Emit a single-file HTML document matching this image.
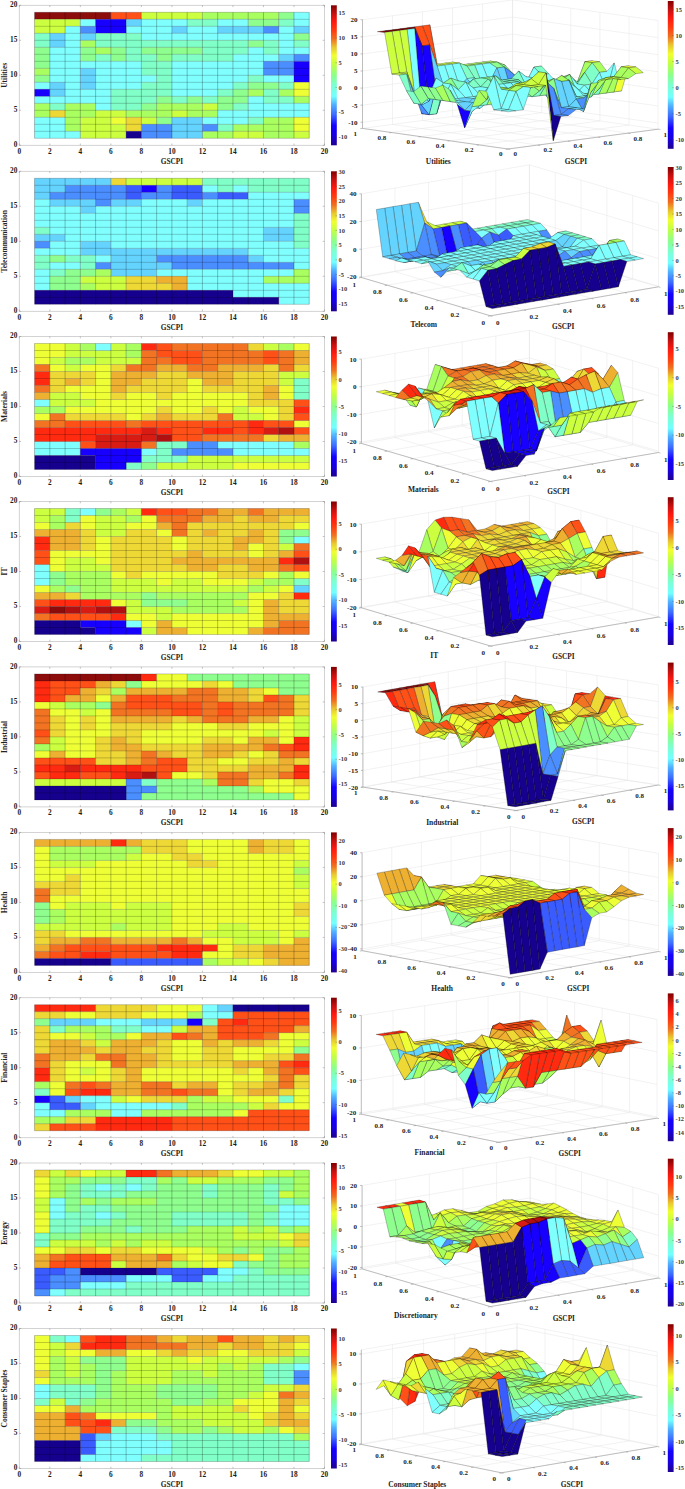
<!DOCTYPE html>
<html><head><meta charset="utf-8"><title>Sector heatmaps</title>
<style>.a{fill:#16008e}.b{fill:#1800ff}.b2{fill:#3a5cff}.c{fill:#4a8eff}.d{fill:#64d4ff}.e{fill:#80ffff}.f{fill:#80ffc8}.g{fill:#8eff8e}.h{fill:#aaff60}.i{fill:#ccff40}.j{fill:#eeff36}.k{fill:#eed836}.l{fill:#eeb030}.m{fill:#f27422}.n{fill:#ff5018}.o{fill:#ff2a10}.q{fill:#d81c14}.q2{fill:#b01010}.p{fill:#8c0c0c}.s path{stroke:#000;stroke-opacity:.6;stroke-width:.42;stroke-linejoin:round}.s .a,.s .b{stroke-opacity:.75;stroke-width:.45}html,body{margin:0;padding:0;background:#fff;}body{width:685px;height:1489px;overflow:hidden;font-family:"Liberation Serif",serif;}svg{display:block;}</style>
</head><body>
<svg width="685" height="1489" viewBox="0 0 685 1489" font-family="'Liberation Serif', serif">
<defs><linearGradient id="jet" x1="0" y1="1" x2="0" y2="0"><stop offset="0.0" stop-color="#200090"/><stop offset="0.07" stop-color="#1800e0"/><stop offset="0.14" stop-color="#1400ff"/><stop offset="0.22" stop-color="#3c6cff"/><stop offset="0.29" stop-color="#50b0ff"/><stop offset="0.35" stop-color="#72ffff"/><stop offset="0.43" stop-color="#7cffd0"/><stop offset="0.5" stop-color="#8cff8c"/><stop offset="0.58" stop-color="#c4ff44"/><stop offset="0.64" stop-color="#f0ff30"/><stop offset="0.7" stop-color="#e8c830"/><stop offset="0.76" stop-color="#f07020"/><stop offset="0.82" stop-color="#ff3c10"/><stop offset="0.88" stop-color="#ff1a10"/><stop offset="0.94" stop-color="#c81010"/><stop offset="1.0" stop-color="#800000"/></linearGradient></defs>
<rect width="685" height="1489" fill="#fff"/>
<rect x="19.3" y="5.3" width="305.2" height="140" fill="none" stroke="#c8c8c8" stroke-width="0.8"/>
<path class="p" d="M34.6 12.3h76.3v7h-76.3z"/>
<path class="n" d="M110.9 12.3h30.6v7h-30.6z"/>
<path class="i" d="M141.4 12.3h61.1v7h-61.1zM34.6 19.3h45.8v7h-45.8zM34.6 26.3h30.6v7h-30.6zM202.4 103.3h15.3v7h-15.3zM95.6 110.3h30.6v7h-30.6zM171.9 110.3h15.3v7h-15.3zM80.3 117.3h30.6v7h-30.6zM141.4 117.3h15.3v7h-15.3zM80.3 124.3h45.8v7h-45.8zM80.3 131.3h45.8v7h-45.8zM232.9 131.3h30.6v7h-30.6zM294 131.3h15.3v7h-15.3z"/>
<path class="h" d="M202.4 12.3h76.3v7h-76.3zM80.3 40.3h15.3v7h-15.3zM95.6 47.3h15.3v7h-15.3zM34.6 68.3h15.3v7h-15.3zM248.2 89.3h15.3v7h-15.3zM278.7 89.3h15.3v7h-15.3zM294 96.3h15.3v7h-15.3zM34.6 103.3h15.3v7h-15.3zM65.1 103.3h30.6v7h-30.6zM156.6 103.3h45.8v7h-45.8zM34.6 110.3h15.3v7h-15.3zM65.1 110.3h30.6v7h-30.6zM126.1 110.3h45.8v7h-45.8zM187.2 110.3h30.6v7h-30.6zM65.1 117.3h15.3v7h-15.3zM263.5 117.3h30.6v7h-30.6zM65.1 124.3h15.3v7h-15.3zM232.9 124.3h61.1v7h-61.1zM202.4 131.3h30.6v7h-30.6zM263.5 131.3h30.6v7h-30.6z"/>
<path class="g" d="M278.7 12.3h15.3v7h-15.3zM248.2 19.3h30.6v7h-30.6zM294 33.3h15.3v7h-15.3zM248.2 40.3h15.3v7h-15.3zM34.6 47.3h15.3v7h-15.3zM80.3 47.3h15.3v7h-15.3zM110.9 47.3h15.3v7h-15.3zM141.4 47.3h61.1v7h-61.1zM34.6 54.3h15.3v7h-15.3zM80.3 54.3h15.3v7h-15.3zM110.9 54.3h15.3v7h-15.3zM156.6 54.3h15.3v7h-15.3zM34.6 61.3h15.3v7h-15.3zM34.6 75.3h15.3v7h-15.3zM248.2 82.3h30.6v7h-30.6zM232.9 89.3h15.3v7h-15.3zM156.6 96.3h15.3v7h-15.3zM187.2 96.3h15.3v7h-15.3zM217.7 96.3h30.6v7h-30.6zM141.4 103.3h15.3v7h-15.3zM217.7 103.3h15.3v7h-15.3zM156.6 117.3h15.3v7h-15.3z"/>
<path class="e" d="M294 12.3h15.3v7h-15.3zM80.3 19.3h15.3v7h-15.3zM141.4 19.3h45.8v7h-45.8zM217.7 19.3h30.6v7h-30.6zM294 19.3h15.3v7h-15.3zM65.1 26.3h15.3v7h-15.3zM126.1 26.3h45.8v7h-45.8zM187.2 26.3h30.6v7h-30.6zM278.7 26.3h15.3v7h-15.3zM65.1 33.3h15.3v7h-15.3zM141.4 33.3h152.7v7h-152.7zM65.1 40.3h15.3v7h-15.3zM278.7 40.3h15.3v7h-15.3zM49.8 47.3h30.6v7h-30.6zM248.2 47.3h15.3v7h-15.3zM278.7 47.3h30.6v7h-30.6zM49.8 54.3h30.6v7h-30.6zM232.9 54.3h45.8v7h-45.8zM49.8 61.3h91.6v7h-91.6zM171.9 61.3h91.6v7h-91.6zM49.8 68.3h30.6v7h-30.6zM95.6 68.3h45.8v7h-45.8zM171.9 68.3h91.6v7h-91.6zM49.8 75.3h30.6v7h-30.6zM95.6 75.3h61.1v7h-61.1zM171.9 75.3h76.3v7h-76.3zM263.5 75.3h30.6v7h-30.6zM34.6 82.3h15.3v7h-15.3zM65.1 82.3h15.3v7h-15.3zM95.6 82.3h45.8v7h-45.8zM171.9 82.3h61.1v7h-61.1zM65.1 89.3h45.8v7h-45.8zM171.9 89.3h45.8v7h-45.8zM34.6 96.3h76.3v7h-76.3zM248.2 96.3h15.3v7h-15.3zM95.6 103.3h15.3v7h-15.3zM248.2 103.3h61.1v7h-61.1zM217.7 110.3h91.6v7h-91.6zM34.6 117.3h30.6v7h-30.6zM202.4 117.3h45.8v7h-45.8zM34.6 124.3h30.6v7h-30.6zM34.6 131.3h45.8v7h-45.8z"/>
<path class="b" d="M95.6 19.3h30.6v7h-30.6zM95.6 26.3h30.6v7h-30.6zM294 61.3h15.3v7h-15.3zM294 68.3h15.3v7h-15.3zM294 75.3h15.3v7h-15.3zM34.6 89.3h15.3v7h-15.3z"/>
<path class="d" d="M126.1 19.3h15.3v7h-15.3zM171.9 26.3h15.3v7h-15.3zM217.7 26.3h45.8v7h-45.8zM294 26.3h15.3v7h-15.3zM49.8 33.3h15.3v7h-15.3zM80.3 33.3h15.3v7h-15.3zM49.8 40.3h15.3v7h-15.3zM278.7 54.3h15.3v7h-15.3zM80.3 68.3h15.3v7h-15.3zM80.3 75.3h15.3v7h-15.3zM49.8 82.3h15.3v7h-15.3zM80.3 82.3h15.3v7h-15.3zM49.8 89.3h15.3v7h-15.3zM171.9 117.3h30.6v7h-30.6zM171.9 124.3h30.6v7h-30.6zM171.9 131.3h30.6v7h-30.6z"/>
<path class="f" d="M187.2 19.3h30.6v7h-30.6zM278.7 19.3h15.3v7h-15.3zM34.6 33.3h15.3v7h-15.3zM95.6 33.3h45.8v7h-45.8zM34.6 40.3h15.3v7h-15.3zM95.6 40.3h152.7v7h-152.7zM263.5 40.3h15.3v7h-15.3zM294 40.3h15.3v7h-15.3zM126.1 47.3h15.3v7h-15.3zM202.4 47.3h45.8v7h-45.8zM263.5 47.3h15.3v7h-15.3zM95.6 54.3h15.3v7h-15.3zM126.1 54.3h30.6v7h-30.6zM171.9 54.3h61.1v7h-61.1zM141.4 61.3h30.6v7h-30.6zM141.4 68.3h30.6v7h-30.6zM156.6 75.3h15.3v7h-15.3zM248.2 75.3h15.3v7h-15.3zM141.4 82.3h30.6v7h-30.6zM232.9 82.3h15.3v7h-15.3zM278.7 82.3h15.3v7h-15.3zM110.9 89.3h61.1v7h-61.1zM217.7 89.3h15.3v7h-15.3zM263.5 89.3h15.3v7h-15.3zM110.9 96.3h45.8v7h-45.8zM171.9 96.3h15.3v7h-15.3zM202.4 96.3h15.3v7h-15.3zM263.5 96.3h30.6v7h-30.6zM49.8 103.3h15.3v7h-15.3zM110.9 103.3h30.6v7h-30.6zM232.9 103.3h15.3v7h-15.3zM248.2 117.3h15.3v7h-15.3zM217.7 124.3h15.3v7h-15.3z"/>
<path class="c" d="M80.3 26.3h15.3v7h-15.3zM263.5 26.3h15.3v7h-15.3zM294 54.3h15.3v7h-15.3zM263.5 61.3h30.6v7h-30.6zM263.5 68.3h30.6v7h-30.6zM141.4 124.3h30.6v7h-30.6zM202.4 124.3h15.3v7h-15.3zM141.4 131.3h30.6v7h-30.6z"/>
<path class="j" d="M294 82.3h15.3v7h-15.3zM294 89.3h15.3v7h-15.3zM110.9 117.3h15.3v7h-15.3zM294 117.3h15.3v7h-15.3zM294 124.3h15.3v7h-15.3z"/>
<path class="k" d="M49.8 110.3h15.3v7h-15.3zM126.1 117.3h15.3v7h-15.3zM126.1 124.3h15.3v7h-15.3z"/>
<path class="a" d="M126.1 131.3h15.3v7h-15.3z"/>
<path d="M34.56 12.3V138.3M49.82 12.3V138.3M65.08 12.3V138.3M80.34 12.3V138.3M95.6 12.3V138.3M110.86 12.3V138.3M126.12 12.3V138.3M141.38 12.3V138.3M156.64 12.3V138.3M171.9 12.3V138.3M187.16 12.3V138.3M202.42 12.3V138.3M217.68 12.3V138.3M232.94 12.3V138.3M248.2 12.3V138.3M263.46 12.3V138.3M278.72 12.3V138.3M293.98 12.3V138.3M309.24 12.3V138.3" stroke="#000" stroke-opacity="0.5" stroke-width="0.5" fill="none"/>
<path d="M34.56 12.3H309.24M34.56 19.3H309.24M34.56 26.3H309.24M34.56 33.3H309.24M34.56 40.3H309.24M34.56 47.3H309.24M34.56 54.3H309.24M34.56 61.3H309.24M34.56 68.3H309.24M34.56 75.3H309.24M34.56 82.3H309.24M34.56 89.3H309.24M34.56 96.3H309.24M34.56 103.3H309.24M34.56 110.3H309.24M34.56 117.3H309.24M34.56 124.3H309.24M34.56 131.3H309.24M34.56 138.3H309.24" stroke="#000" stroke-opacity="0.42" stroke-width="0.5" fill="none"/>
<path d="M19.3 145.3v-1.8M19.3 5.3v1.8M49.82 145.3v-1.8M49.82 5.3v1.8M80.34 145.3v-1.8M80.34 5.3v1.8M110.86 145.3v-1.8M110.86 5.3v1.8M141.38 145.3v-1.8M141.38 5.3v1.8M171.9 145.3v-1.8M171.9 5.3v1.8M202.42 145.3v-1.8M202.42 5.3v1.8M232.94 145.3v-1.8M232.94 5.3v1.8M263.46 145.3v-1.8M263.46 5.3v1.8M293.98 145.3v-1.8M293.98 5.3v1.8M324.5 145.3v-1.8M324.5 5.3v1.8M19.3 145.3h1.8M324.5 145.3h-1.8M19.3 110.3h1.8M324.5 110.3h-1.8M19.3 75.3h1.8M324.5 75.3h-1.8M19.3 40.3h1.8M324.5 40.3h-1.8M19.3 5.3h1.8M324.5 5.3h-1.8" stroke="#888" stroke-width="0.5" fill="none"/>
<text x="19.3" y="153.7" font-size="7.3" text-anchor="middle" font-weight="bold" fill="#1a1a1a">0</text>
<text x="49.82" y="153.7" font-size="7.3" text-anchor="middle" font-weight="bold" fill="#1a1a1a">2</text>
<text x="80.34" y="153.7" font-size="7.3" text-anchor="middle" font-weight="bold" fill="#1a1a1a">4</text>
<text x="110.86" y="153.7" font-size="7.3" text-anchor="middle" font-weight="bold" fill="#1a1a1a">6</text>
<text x="141.38" y="153.7" font-size="7.3" text-anchor="middle" font-weight="bold" fill="#1a1a1a">8</text>
<text x="171.9" y="153.7" font-size="7.3" text-anchor="middle" font-weight="bold" fill="#1a1a1a">10</text>
<text x="202.42" y="153.7" font-size="7.3" text-anchor="middle" font-weight="bold" fill="#1a1a1a">12</text>
<text x="232.94" y="153.7" font-size="7.3" text-anchor="middle" font-weight="bold" fill="#1a1a1a">14</text>
<text x="263.46" y="153.7" font-size="7.3" text-anchor="middle" font-weight="bold" fill="#1a1a1a">16</text>
<text x="293.98" y="153.7" font-size="7.3" text-anchor="middle" font-weight="bold" fill="#1a1a1a">18</text>
<text x="324.5" y="153.7" font-size="7.3" text-anchor="middle" font-weight="bold" fill="#1a1a1a">20</text>
<text x="17.3" y="147.1" font-size="7.3" text-anchor="end" font-weight="bold" fill="#1a1a1a">0</text>
<text x="17.3" y="112.1" font-size="7.3" text-anchor="end" font-weight="bold" fill="#1a1a1a">5</text>
<text x="17.3" y="77.1" font-size="7.3" text-anchor="end" font-weight="bold" fill="#1a1a1a">10</text>
<text x="17.3" y="42.1" font-size="7.3" text-anchor="end" font-weight="bold" fill="#1a1a1a">15</text>
<text x="17.3" y="7.1" font-size="7.3" text-anchor="end" font-weight="bold" fill="#1a1a1a">20</text>
<text x="171.9" y="163.6" font-size="7.3" text-anchor="middle" font-weight="bold" fill="#222">GSCPI</text>
<text x="7" y="75.3" font-size="7.5" text-anchor="middle" font-weight="bold" fill="#222" transform="rotate(-90 7 75.3)">Utilities</text>
<rect x="331" y="5.3" width="5.8" height="140" fill="url(#jet)"/>
<line x1="335.6" y1="136.89" x2="336.8" y2="136.89" stroke="#444" stroke-width="0.4"/>
<text x="338.6" y="139.07" font-size="6.4" text-anchor="start" font-weight="bold" fill="#3a3a3a">-10</text>
<line x1="335.6" y1="112.16" x2="336.8" y2="112.16" stroke="#444" stroke-width="0.4"/>
<text x="338.6" y="114.33" font-size="6.4" text-anchor="start" font-weight="bold" fill="#3a3a3a">-5</text>
<line x1="335.6" y1="87.42" x2="336.8" y2="87.42" stroke="#444" stroke-width="0.4"/>
<text x="338.6" y="89.6" font-size="6.4" text-anchor="start" font-weight="bold" fill="#3a3a3a">0</text>
<line x1="335.6" y1="62.69" x2="336.8" y2="62.69" stroke="#444" stroke-width="0.4"/>
<text x="338.6" y="64.86" font-size="6.4" text-anchor="start" font-weight="bold" fill="#3a3a3a">5</text>
<line x1="335.6" y1="37.95" x2="336.8" y2="37.95" stroke="#444" stroke-width="0.4"/>
<text x="338.6" y="40.13" font-size="6.4" text-anchor="start" font-weight="bold" fill="#3a3a3a">10</text>
<line x1="335.6" y1="13.22" x2="336.8" y2="13.22" stroke="#444" stroke-width="0.4"/>
<text x="338.6" y="15.39" font-size="6.4" text-anchor="start" font-weight="bold" fill="#3a3a3a">15</text>
<rect x="19.3" y="171.3" width="305.2" height="140" fill="none" stroke="#c8c8c8" stroke-width="0.8"/>
<path class="d" d="M34.6 178.3h76.3v7h-76.3zM34.6 185.3h30.6v7h-30.6zM34.6 192.3h15.3v7h-15.3zM49.8 199.3h45.8v7h-45.8zM110.9 199.3h30.6v7h-30.6zM187.2 199.3h15.3v7h-15.3zM80.3 206.3h15.3v7h-15.3zM263.5 227.3h30.6v7h-30.6zM34.6 234.3h30.6v7h-30.6zM263.5 234.3h30.6v7h-30.6zM80.3 241.3h30.6v7h-30.6zM80.3 248.3h167.9v7h-167.9zM110.9 255.3h45.8v7h-45.8zM248.2 255.3h15.3v7h-15.3zM110.9 262.3h61.1v7h-61.1zM110.9 269.3h45.8v7h-45.8z"/>
<path class="k" d="M110.9 178.3h15.3v7h-15.3zM126.1 276.3h30.6v7h-30.6zM126.1 283.3h45.8v7h-45.8z"/>
<path class="i" d="M126.1 178.3h76.3v7h-76.3zM80.3 276.3h45.8v7h-45.8zM95.6 283.3h30.6v7h-30.6z"/>
<path class="f" d="M202.4 178.3h106.9v7h-106.9zM217.7 185.3h15.3v7h-15.3zM248.2 185.3h61.1v7h-61.1zM294 213.3h15.3v7h-15.3zM294 220.3h15.3v7h-15.3zM34.6 227.3h15.3v7h-15.3zM294 227.3h15.3v7h-15.3zM294 234.3h15.3v7h-15.3zM294 241.3h15.3v7h-15.3zM34.6 255.3h15.3v7h-15.3zM65.1 255.3h30.6v7h-30.6zM34.6 262.3h15.3v7h-15.3zM80.3 262.3h15.3v7h-15.3zM49.8 269.3h15.3v7h-15.3z"/>
<path class="c" d="M65.1 185.3h61.1v7h-61.1zM156.6 185.3h15.3v7h-15.3zM49.8 192.3h76.3v7h-76.3zM141.4 192.3h30.6v7h-30.6zM202.4 192.3h15.3v7h-15.3zM95.6 199.3h15.3v7h-15.3zM294 199.3h15.3v7h-15.3zM294 206.3h15.3v7h-15.3zM34.6 241.3h15.3v7h-15.3zM156.6 255.3h91.6v7h-91.6zM95.6 262.3h15.3v7h-15.3zM171.9 262.3h122.1v7h-122.1z"/>
<path class="b2" d="M126.1 185.3h15.3v7h-15.3zM171.9 185.3h30.6v7h-30.6zM126.1 192.3h15.3v7h-15.3zM171.9 192.3h30.6v7h-30.6zM217.7 192.3h30.6v7h-30.6z"/>
<path class="b" d="M141.4 185.3h15.3v7h-15.3z"/>
<path class="e" d="M202.4 185.3h15.3v7h-15.3zM232.9 185.3h15.3v7h-15.3zM248.2 192.3h61.1v7h-61.1zM34.6 199.3h15.3v7h-15.3zM141.4 199.3h45.8v7h-45.8zM202.4 199.3h91.6v7h-91.6zM34.6 206.3h45.8v7h-45.8zM95.6 206.3h198.4v7h-198.4zM34.6 213.3h259.5v7h-259.5zM34.6 220.3h259.5v7h-259.5zM49.8 227.3h213.7v7h-213.7zM65.1 234.3h198.4v7h-198.4zM49.8 241.3h30.6v7h-30.6zM110.9 241.3h183.2v7h-183.2zM34.6 248.3h45.8v7h-45.8zM248.2 248.3h61.1v7h-61.1zM95.6 255.3h15.3v7h-15.3zM263.5 255.3h45.8v7h-45.8zM49.8 262.3h30.6v7h-30.6zM294 262.3h15.3v7h-15.3zM34.6 269.3h15.3v7h-15.3zM156.6 269.3h137.4v7h-137.4zM34.6 276.3h15.3v7h-15.3zM187.2 276.3h76.3v7h-76.3zM34.6 283.3h15.3v7h-15.3zM187.2 283.3h122.1v7h-122.1zM232.9 290.3h76.3v7h-76.3zM278.7 297.3h30.6v7h-30.6z"/>
<path class="g" d="M49.8 255.3h15.3v7h-15.3zM65.1 269.3h30.6v7h-30.6zM49.8 276.3h30.6v7h-30.6zM49.8 283.3h30.6v7h-30.6z"/>
<path class="h" d="M95.6 269.3h15.3v7h-15.3zM294 269.3h15.3v7h-15.3zM263.5 276.3h45.8v7h-45.8zM80.3 283.3h15.3v7h-15.3z"/>
<path class="l" d="M156.6 276.3h30.6v7h-30.6zM171.9 283.3h15.3v7h-15.3z"/>
<path class="a" d="M34.6 290.3h198.4v7h-198.4zM34.6 297.3h244.2v7h-244.2z"/>
<path d="M34.56 178.3V304.3M49.82 178.3V304.3M65.08 178.3V304.3M80.34 178.3V304.3M95.6 178.3V304.3M110.86 178.3V304.3M126.12 178.3V304.3M141.38 178.3V304.3M156.64 178.3V304.3M171.9 178.3V304.3M187.16 178.3V304.3M202.42 178.3V304.3M217.68 178.3V304.3M232.94 178.3V304.3M248.2 178.3V304.3M263.46 178.3V304.3M278.72 178.3V304.3M293.98 178.3V304.3M309.24 178.3V304.3" stroke="#000" stroke-opacity="0.5" stroke-width="0.5" fill="none"/>
<path d="M34.56 178.3H309.24M34.56 185.3H309.24M34.56 192.3H309.24M34.56 199.3H309.24M34.56 206.3H309.24M34.56 213.3H309.24M34.56 220.3H309.24M34.56 227.3H309.24M34.56 234.3H309.24M34.56 241.3H309.24M34.56 248.3H309.24M34.56 255.3H309.24M34.56 262.3H309.24M34.56 269.3H309.24M34.56 276.3H309.24M34.56 283.3H309.24M34.56 290.3H309.24M34.56 297.3H309.24M34.56 304.3H309.24" stroke="#000" stroke-opacity="0.42" stroke-width="0.5" fill="none"/>
<path d="M19.3 311.3v-1.8M19.3 171.3v1.8M49.82 311.3v-1.8M49.82 171.3v1.8M80.34 311.3v-1.8M80.34 171.3v1.8M110.86 311.3v-1.8M110.86 171.3v1.8M141.38 311.3v-1.8M141.38 171.3v1.8M171.9 311.3v-1.8M171.9 171.3v1.8M202.42 311.3v-1.8M202.42 171.3v1.8M232.94 311.3v-1.8M232.94 171.3v1.8M263.46 311.3v-1.8M263.46 171.3v1.8M293.98 311.3v-1.8M293.98 171.3v1.8M324.5 311.3v-1.8M324.5 171.3v1.8M19.3 311.3h1.8M324.5 311.3h-1.8M19.3 276.3h1.8M324.5 276.3h-1.8M19.3 241.3h1.8M324.5 241.3h-1.8M19.3 206.3h1.8M324.5 206.3h-1.8M19.3 171.3h1.8M324.5 171.3h-1.8" stroke="#888" stroke-width="0.5" fill="none"/>
<text x="19.3" y="319.7" font-size="7.3" text-anchor="middle" font-weight="bold" fill="#1a1a1a">0</text>
<text x="49.82" y="319.7" font-size="7.3" text-anchor="middle" font-weight="bold" fill="#1a1a1a">2</text>
<text x="80.34" y="319.7" font-size="7.3" text-anchor="middle" font-weight="bold" fill="#1a1a1a">4</text>
<text x="110.86" y="319.7" font-size="7.3" text-anchor="middle" font-weight="bold" fill="#1a1a1a">6</text>
<text x="141.38" y="319.7" font-size="7.3" text-anchor="middle" font-weight="bold" fill="#1a1a1a">8</text>
<text x="171.9" y="319.7" font-size="7.3" text-anchor="middle" font-weight="bold" fill="#1a1a1a">10</text>
<text x="202.42" y="319.7" font-size="7.3" text-anchor="middle" font-weight="bold" fill="#1a1a1a">12</text>
<text x="232.94" y="319.7" font-size="7.3" text-anchor="middle" font-weight="bold" fill="#1a1a1a">14</text>
<text x="263.46" y="319.7" font-size="7.3" text-anchor="middle" font-weight="bold" fill="#1a1a1a">16</text>
<text x="293.98" y="319.7" font-size="7.3" text-anchor="middle" font-weight="bold" fill="#1a1a1a">18</text>
<text x="324.5" y="319.7" font-size="7.3" text-anchor="middle" font-weight="bold" fill="#1a1a1a">20</text>
<text x="17.3" y="313.1" font-size="7.3" text-anchor="end" font-weight="bold" fill="#1a1a1a">0</text>
<text x="17.3" y="278.1" font-size="7.3" text-anchor="end" font-weight="bold" fill="#1a1a1a">5</text>
<text x="17.3" y="243.1" font-size="7.3" text-anchor="end" font-weight="bold" fill="#1a1a1a">10</text>
<text x="17.3" y="208.1" font-size="7.3" text-anchor="end" font-weight="bold" fill="#1a1a1a">15</text>
<text x="17.3" y="173.1" font-size="7.3" text-anchor="end" font-weight="bold" fill="#1a1a1a">20</text>
<text x="171.9" y="329.6" font-size="7.3" text-anchor="middle" font-weight="bold" fill="#222">GSCPI</text>
<text x="7" y="241.3" font-size="7.5" text-anchor="middle" font-weight="bold" fill="#222" transform="rotate(-90 7 241.3)">Telecommunication</text>
<rect x="331" y="171.3" width="5.8" height="140" fill="url(#jet)"/>
<line x1="335.6" y1="303.68" x2="336.8" y2="303.68" stroke="#444" stroke-width="0.4"/>
<text x="338.6" y="305.86" font-size="6.4" text-anchor="start" font-weight="bold" fill="#3a3a3a">-15</text>
<line x1="335.6" y1="289.04" x2="336.8" y2="289.04" stroke="#444" stroke-width="0.4"/>
<text x="338.6" y="291.22" font-size="6.4" text-anchor="start" font-weight="bold" fill="#3a3a3a">-10</text>
<line x1="335.6" y1="274.4" x2="336.8" y2="274.4" stroke="#444" stroke-width="0.4"/>
<text x="338.6" y="276.57" font-size="6.4" text-anchor="start" font-weight="bold" fill="#3a3a3a">-5</text>
<line x1="335.6" y1="259.75" x2="336.8" y2="259.75" stroke="#444" stroke-width="0.4"/>
<text x="338.6" y="261.93" font-size="6.4" text-anchor="start" font-weight="bold" fill="#3a3a3a">0</text>
<line x1="335.6" y1="245.11" x2="336.8" y2="245.11" stroke="#444" stroke-width="0.4"/>
<text x="338.6" y="247.28" font-size="6.4" text-anchor="start" font-weight="bold" fill="#3a3a3a">5</text>
<line x1="335.6" y1="230.46" x2="336.8" y2="230.46" stroke="#444" stroke-width="0.4"/>
<text x="338.6" y="232.64" font-size="6.4" text-anchor="start" font-weight="bold" fill="#3a3a3a">10</text>
<line x1="335.6" y1="215.82" x2="336.8" y2="215.82" stroke="#444" stroke-width="0.4"/>
<text x="338.6" y="217.99" font-size="6.4" text-anchor="start" font-weight="bold" fill="#3a3a3a">15</text>
<line x1="335.6" y1="201.17" x2="336.8" y2="201.17" stroke="#444" stroke-width="0.4"/>
<text x="338.6" y="203.35" font-size="6.4" text-anchor="start" font-weight="bold" fill="#3a3a3a">20</text>
<line x1="335.6" y1="186.53" x2="336.8" y2="186.53" stroke="#444" stroke-width="0.4"/>
<text x="338.6" y="188.71" font-size="6.4" text-anchor="start" font-weight="bold" fill="#3a3a3a">25</text>
<line x1="335.6" y1="171.89" x2="336.8" y2="171.89" stroke="#444" stroke-width="0.4"/>
<text x="338.6" y="174.06" font-size="6.4" text-anchor="start" font-weight="bold" fill="#3a3a3a">30</text>
<rect x="19.3" y="336.5" width="305.2" height="140" fill="none" stroke="#c8c8c8" stroke-width="0.8"/>
<path class="j" d="M34.6 343.5h30.6v7h-30.6zM294 343.5h15.3v7h-15.3zM34.6 350.5h30.6v7h-30.6zM34.6 357.5h15.3v7h-15.3zM49.8 364.5h15.3v7h-15.3zM80.3 364.5h30.6v7h-30.6zM95.6 371.5h15.3v7h-15.3zM95.6 378.5h15.3v7h-15.3zM187.2 378.5h15.3v7h-15.3zM65.1 385.5h45.8v7h-45.8zM187.2 385.5h15.3v7h-15.3zM278.7 385.5h15.3v7h-15.3zM80.3 392.5h30.6v7h-30.6zM126.1 392.5h30.6v7h-30.6zM171.9 392.5h76.3v7h-76.3zM278.7 392.5h15.3v7h-15.3zM95.6 399.5h152.7v7h-152.7zM65.1 406.5h91.6v7h-91.6zM171.9 406.5h30.6v7h-30.6zM217.7 406.5h15.3v7h-15.3zM248.2 406.5h30.6v7h-30.6zM34.6 413.5h15.3v7h-15.3zM126.1 413.5h15.3v7h-15.3zM263.5 413.5h15.3v7h-15.3zM294 420.5h15.3v7h-15.3zM232.9 462.5h76.3v7h-76.3z"/>
<path class="i" d="M65.1 343.5h15.3v7h-15.3zM110.9 343.5h15.3v7h-15.3zM263.5 343.5h15.3v7h-15.3zM65.1 350.5h61.1v7h-61.1zM49.8 357.5h15.3v7h-15.3zM95.6 357.5h45.8v7h-45.8zM65.1 364.5h15.3v7h-15.3zM278.7 371.5h30.6v7h-30.6zM278.7 378.5h15.3v7h-15.3zM49.8 392.5h30.6v7h-30.6zM49.8 399.5h45.8v7h-45.8zM232.9 406.5h15.3v7h-15.3zM232.9 413.5h30.6v7h-30.6zM187.2 455.5h122.1v7h-122.1zM156.6 462.5h76.3v7h-76.3z"/>
<path class="h" d="M80.3 343.5h15.3v7h-15.3zM126.1 343.5h15.3v7h-15.3zM278.7 343.5h15.3v7h-15.3zM126.1 350.5h15.3v7h-15.3zM65.1 357.5h30.6v7h-30.6zM34.6 406.5h30.6v7h-30.6zM294 441.5h15.3v7h-15.3z"/>
<path class="e" d="M95.6 343.5h15.3v7h-15.3zM34.6 399.5h15.3v7h-15.3zM34.6 441.5h45.8v7h-45.8zM217.7 441.5h76.3v7h-76.3zM34.6 448.5h45.8v7h-45.8zM141.4 448.5h15.3v7h-15.3zM232.9 448.5h76.3v7h-76.3z"/>
<path class="o" d="M141.4 343.5h15.3v7h-15.3zM34.6 371.5h15.3v7h-15.3zM34.6 378.5h15.3v7h-15.3zM294 406.5h15.3v7h-15.3zM248.2 420.5h15.3v7h-15.3zM34.6 427.5h106.9v7h-106.9zM156.6 427.5h15.3v7h-15.3zM202.4 427.5h30.6v7h-30.6zM248.2 427.5h15.3v7h-15.3zM34.6 434.5h61.1v7h-61.1z"/>
<path class="n" d="M156.6 343.5h15.3v7h-15.3zM156.6 350.5h45.8v7h-45.8zM263.5 350.5h15.3v7h-15.3zM171.9 357.5h30.6v7h-30.6zM263.5 357.5h15.3v7h-15.3zM294 399.5h15.3v7h-15.3zM294 413.5h15.3v7h-15.3zM65.1 420.5h61.1v7h-61.1zM141.4 420.5h106.9v7h-106.9zM263.5 420.5h30.6v7h-30.6zM171.9 427.5h30.6v7h-30.6zM232.9 427.5h15.3v7h-15.3zM294 427.5h15.3v7h-15.3zM171.9 434.5h30.6v7h-30.6zM80.3 441.5h15.3v7h-15.3z"/>
<path class="m" d="M171.9 343.5h76.3v7h-76.3zM141.4 350.5h15.3v7h-15.3zM202.4 350.5h61.1v7h-61.1zM278.7 350.5h15.3v7h-15.3zM141.4 357.5h30.6v7h-30.6zM202.4 357.5h61.1v7h-61.1zM278.7 357.5h15.3v7h-15.3zM34.6 364.5h15.3v7h-15.3zM126.1 364.5h30.6v7h-30.6zM187.2 364.5h30.6v7h-30.6zM278.7 364.5h15.3v7h-15.3zM34.6 385.5h15.3v7h-15.3zM49.8 413.5h15.3v7h-15.3zM217.7 413.5h15.3v7h-15.3zM34.6 420.5h30.6v7h-30.6zM126.1 420.5h15.3v7h-15.3zM202.4 434.5h61.1v7h-61.1zM141.4 441.5h15.3v7h-15.3z"/>
<path class="k" d="M248.2 343.5h15.3v7h-15.3zM110.9 364.5h15.3v7h-15.3zM263.5 364.5h15.3v7h-15.3zM294 364.5h15.3v7h-15.3zM49.8 371.5h45.8v7h-45.8zM156.6 371.5h30.6v7h-30.6zM232.9 371.5h45.8v7h-45.8zM49.8 378.5h15.3v7h-15.3zM80.3 378.5h15.3v7h-15.3zM141.4 378.5h45.8v7h-45.8zM232.9 378.5h45.8v7h-45.8zM49.8 385.5h15.3v7h-15.3zM126.1 385.5h61.1v7h-61.1zM202.4 385.5h61.1v7h-61.1zM110.9 392.5h15.3v7h-15.3zM156.6 392.5h15.3v7h-15.3zM248.2 392.5h15.3v7h-15.3zM248.2 399.5h45.8v7h-45.8zM156.6 406.5h15.3v7h-15.3zM202.4 406.5h15.3v7h-15.3zM278.7 406.5h15.3v7h-15.3zM65.1 413.5h61.1v7h-61.1zM141.4 413.5h15.3v7h-15.3zM171.9 413.5h45.8v7h-45.8zM278.7 413.5h15.3v7h-15.3zM263.5 434.5h15.3v7h-15.3z"/>
<path class="l" d="M294 350.5h15.3v7h-15.3zM294 357.5h15.3v7h-15.3zM156.6 364.5h30.6v7h-30.6zM217.7 364.5h45.8v7h-45.8zM110.9 371.5h45.8v7h-45.8zM187.2 371.5h45.8v7h-45.8zM65.1 378.5h15.3v7h-15.3zM110.9 378.5h30.6v7h-30.6zM202.4 378.5h30.6v7h-30.6zM110.9 385.5h15.3v7h-15.3zM263.5 385.5h15.3v7h-15.3zM34.6 392.5h15.3v7h-15.3zM263.5 392.5h15.3v7h-15.3zM156.6 413.5h15.3v7h-15.3zM278.7 434.5h30.6v7h-30.6z"/>
<path class="f" d="M294 378.5h15.3v7h-15.3zM294 385.5h15.3v7h-15.3zM294 392.5h15.3v7h-15.3zM156.6 441.5h30.6v7h-30.6zM156.6 448.5h15.3v7h-15.3zM141.4 455.5h45.8v7h-45.8zM126.1 462.5h15.3v7h-15.3z"/>
<path class="q" d="M141.4 427.5h15.3v7h-15.3zM263.5 427.5h15.3v7h-15.3zM95.6 434.5h61.1v7h-61.1zM95.6 441.5h45.8v7h-45.8z"/>
<path class="q2" d="M278.7 427.5h15.3v7h-15.3zM156.6 434.5h15.3v7h-15.3z"/>
<path class="c" d="M187.2 441.5h30.6v7h-30.6zM171.9 448.5h61.1v7h-61.1z"/>
<path class="b" d="M80.3 448.5h61.1v7h-61.1zM95.6 455.5h45.8v7h-45.8zM95.6 462.5h30.6v7h-30.6z"/>
<path class="a" d="M34.6 455.5h61.1v7h-61.1zM34.6 462.5h61.1v7h-61.1z"/>
<path class="g" d="M141.4 462.5h15.3v7h-15.3z"/>
<path d="M34.56 343.5V469.5M49.82 343.5V469.5M65.08 343.5V469.5M80.34 343.5V469.5M95.6 343.5V469.5M110.86 343.5V469.5M126.12 343.5V469.5M141.38 343.5V469.5M156.64 343.5V469.5M171.9 343.5V469.5M187.16 343.5V469.5M202.42 343.5V469.5M217.68 343.5V469.5M232.94 343.5V469.5M248.2 343.5V469.5M263.46 343.5V469.5M278.72 343.5V469.5M293.98 343.5V469.5M309.24 343.5V469.5" stroke="#000" stroke-opacity="0.5" stroke-width="0.5" fill="none"/>
<path d="M34.56 343.5H309.24M34.56 350.5H309.24M34.56 357.5H309.24M34.56 364.5H309.24M34.56 371.5H309.24M34.56 378.5H309.24M34.56 385.5H309.24M34.56 392.5H309.24M34.56 399.5H309.24M34.56 406.5H309.24M34.56 413.5H309.24M34.56 420.5H309.24M34.56 427.5H309.24M34.56 434.5H309.24M34.56 441.5H309.24M34.56 448.5H309.24M34.56 455.5H309.24M34.56 462.5H309.24M34.56 469.5H309.24" stroke="#000" stroke-opacity="0.42" stroke-width="0.5" fill="none"/>
<path d="M19.3 476.5v-1.8M19.3 336.5v1.8M49.82 476.5v-1.8M49.82 336.5v1.8M80.34 476.5v-1.8M80.34 336.5v1.8M110.86 476.5v-1.8M110.86 336.5v1.8M141.38 476.5v-1.8M141.38 336.5v1.8M171.9 476.5v-1.8M171.9 336.5v1.8M202.42 476.5v-1.8M202.42 336.5v1.8M232.94 476.5v-1.8M232.94 336.5v1.8M263.46 476.5v-1.8M263.46 336.5v1.8M293.98 476.5v-1.8M293.98 336.5v1.8M324.5 476.5v-1.8M324.5 336.5v1.8M19.3 476.5h1.8M324.5 476.5h-1.8M19.3 441.5h1.8M324.5 441.5h-1.8M19.3 406.5h1.8M324.5 406.5h-1.8M19.3 371.5h1.8M324.5 371.5h-1.8M19.3 336.5h1.8M324.5 336.5h-1.8" stroke="#888" stroke-width="0.5" fill="none"/>
<text x="19.3" y="484.9" font-size="7.3" text-anchor="middle" font-weight="bold" fill="#1a1a1a">0</text>
<text x="49.82" y="484.9" font-size="7.3" text-anchor="middle" font-weight="bold" fill="#1a1a1a">2</text>
<text x="80.34" y="484.9" font-size="7.3" text-anchor="middle" font-weight="bold" fill="#1a1a1a">4</text>
<text x="110.86" y="484.9" font-size="7.3" text-anchor="middle" font-weight="bold" fill="#1a1a1a">6</text>
<text x="141.38" y="484.9" font-size="7.3" text-anchor="middle" font-weight="bold" fill="#1a1a1a">8</text>
<text x="171.9" y="484.9" font-size="7.3" text-anchor="middle" font-weight="bold" fill="#1a1a1a">10</text>
<text x="202.42" y="484.9" font-size="7.3" text-anchor="middle" font-weight="bold" fill="#1a1a1a">12</text>
<text x="232.94" y="484.9" font-size="7.3" text-anchor="middle" font-weight="bold" fill="#1a1a1a">14</text>
<text x="263.46" y="484.9" font-size="7.3" text-anchor="middle" font-weight="bold" fill="#1a1a1a">16</text>
<text x="293.98" y="484.9" font-size="7.3" text-anchor="middle" font-weight="bold" fill="#1a1a1a">18</text>
<text x="324.5" y="484.9" font-size="7.3" text-anchor="middle" font-weight="bold" fill="#1a1a1a">20</text>
<text x="17.3" y="478.3" font-size="7.3" text-anchor="end" font-weight="bold" fill="#1a1a1a">0</text>
<text x="17.3" y="443.3" font-size="7.3" text-anchor="end" font-weight="bold" fill="#1a1a1a">5</text>
<text x="17.3" y="408.3" font-size="7.3" text-anchor="end" font-weight="bold" fill="#1a1a1a">10</text>
<text x="17.3" y="373.3" font-size="7.3" text-anchor="end" font-weight="bold" fill="#1a1a1a">15</text>
<text x="17.3" y="338.3" font-size="7.3" text-anchor="end" font-weight="bold" fill="#1a1a1a">20</text>
<text x="171.9" y="494.8" font-size="7.3" text-anchor="middle" font-weight="bold" fill="#222">GSCPI</text>
<text x="7" y="406.5" font-size="7.5" text-anchor="middle" font-weight="bold" fill="#222" transform="rotate(-90 7 406.5)">Materials</text>
<rect x="331" y="336.5" width="5.8" height="140" fill="url(#jet)"/>
<line x1="335.6" y1="461.25" x2="336.8" y2="461.25" stroke="#444" stroke-width="0.4"/>
<text x="338.6" y="463.42" font-size="6.4" text-anchor="start" font-weight="bold" fill="#3a3a3a">-15</text>
<line x1="335.6" y1="434.01" x2="336.8" y2="434.01" stroke="#444" stroke-width="0.4"/>
<text x="338.6" y="436.19" font-size="6.4" text-anchor="start" font-weight="bold" fill="#3a3a3a">-10</text>
<line x1="335.6" y1="406.77" x2="336.8" y2="406.77" stroke="#444" stroke-width="0.4"/>
<text x="338.6" y="408.95" font-size="6.4" text-anchor="start" font-weight="bold" fill="#3a3a3a">-5</text>
<line x1="335.6" y1="379.54" x2="336.8" y2="379.54" stroke="#444" stroke-width="0.4"/>
<text x="338.6" y="381.71" font-size="6.4" text-anchor="start" font-weight="bold" fill="#3a3a3a">0</text>
<line x1="335.6" y1="352.3" x2="336.8" y2="352.3" stroke="#444" stroke-width="0.4"/>
<text x="338.6" y="354.47" font-size="6.4" text-anchor="start" font-weight="bold" fill="#3a3a3a">5</text>
<rect x="19.3" y="501.5" width="305.2" height="140" fill="none" stroke="#c8c8c8" stroke-width="0.8"/>
<path class="i" d="M34.6 508.5h30.6v7h-30.6zM126.1 508.5h15.3v7h-15.3zM34.6 515.5h15.3v7h-15.3zM95.6 515.5h30.6v7h-30.6zM95.6 522.5h30.6v7h-30.6zM95.6 529.5h30.6v7h-30.6zM278.7 543.5h15.3v7h-15.3zM65.1 557.5h30.6v7h-30.6zM65.1 564.5h45.8v7h-45.8zM110.9 578.5h45.8v7h-45.8zM171.9 578.5h30.6v7h-30.6zM248.2 578.5h15.3v7h-15.3zM110.9 585.5h137.4v7h-137.4zM263.5 585.5h15.3v7h-15.3zM126.1 599.5h15.3v7h-15.3zM232.9 599.5h15.3v7h-15.3zM126.1 606.5h45.8v7h-45.8zM156.6 613.5h15.3v7h-15.3zM141.4 627.5h15.3v7h-15.3z"/>
<path class="f" d="M65.1 508.5h15.3v7h-15.3zM65.1 515.5h15.3v7h-15.3zM294 578.5h15.3v7h-15.3z"/>
<path class="e" d="M80.3 508.5h15.3v7h-15.3zM294 536.5h15.3v7h-15.3zM34.6 564.5h15.3v7h-15.3zM34.6 571.5h15.3v7h-15.3zM34.6 578.5h15.3v7h-15.3zM126.1 620.5h15.3v7h-15.3z"/>
<path class="g" d="M95.6 508.5h15.3v7h-15.3zM278.7 529.5h30.6v7h-30.6zM278.7 536.5h15.3v7h-15.3zM49.8 571.5h15.3v7h-15.3zM49.8 578.5h15.3v7h-15.3zM65.1 585.5h15.3v7h-15.3zM141.4 592.5h15.3v7h-15.3zM141.4 599.5h45.8v7h-45.8z"/>
<path class="h" d="M110.9 508.5h15.3v7h-15.3zM49.8 515.5h15.3v7h-15.3zM126.1 515.5h15.3v7h-15.3zM49.8 522.5h15.3v7h-15.3zM65.1 571.5h45.8v7h-45.8zM278.7 571.5h15.3v7h-15.3zM65.1 578.5h45.8v7h-45.8zM263.5 578.5h30.6v7h-30.6zM49.8 585.5h15.3v7h-15.3zM80.3 585.5h30.6v7h-30.6zM248.2 585.5h15.3v7h-15.3zM80.3 592.5h61.1v7h-61.1zM156.6 592.5h91.6v7h-91.6zM187.2 599.5h45.8v7h-45.8zM171.9 606.5h76.3v7h-76.3z"/>
<path class="o" d="M141.4 508.5h15.3v7h-15.3zM34.6 536.5h15.3v7h-15.3zM34.6 543.5h15.3v7h-15.3zM278.7 557.5h15.3v7h-15.3zM294 592.5h15.3v7h-15.3zM49.8 599.5h61.1v7h-61.1zM110.9 613.5h15.3v7h-15.3z"/>
<path class="n" d="M156.6 508.5h30.6v7h-30.6zM34.6 550.5h15.3v7h-15.3zM294 550.5h15.3v7h-15.3zM34.6 557.5h15.3v7h-15.3zM294 564.5h15.3v7h-15.3zM34.6 599.5h15.3v7h-15.3zM49.8 613.5h61.1v7h-61.1z"/>
<path class="m" d="M187.2 508.5h30.6v7h-30.6zM248.2 508.5h15.3v7h-15.3zM156.6 515.5h45.8v7h-45.8zM171.9 522.5h15.3v7h-15.3zM171.9 529.5h15.3v7h-15.3zM294 543.5h15.3v7h-15.3zM278.7 564.5h15.3v7h-15.3zM34.6 613.5h15.3v7h-15.3zM278.7 620.5h30.6v7h-30.6zM263.5 627.5h45.8v7h-45.8z"/>
<path class="l" d="M217.7 508.5h30.6v7h-30.6zM263.5 508.5h45.8v7h-45.8zM202.4 515.5h30.6v7h-30.6zM248.2 515.5h30.6v7h-30.6zM156.6 522.5h15.3v7h-15.3zM34.6 529.5h45.8v7h-45.8zM202.4 529.5h15.3v7h-15.3zM248.2 529.5h15.3v7h-15.3zM49.8 536.5h30.6v7h-30.6zM232.9 536.5h30.6v7h-30.6zM49.8 543.5h30.6v7h-30.6zM232.9 543.5h15.3v7h-15.3zM187.2 550.5h15.3v7h-15.3zM278.7 550.5h15.3v7h-15.3zM171.9 557.5h106.9v7h-106.9zM187.2 564.5h30.6v7h-30.6zM248.2 564.5h30.6v7h-30.6zM34.6 592.5h30.6v7h-30.6zM263.5 599.5h15.3v7h-15.3zM263.5 606.5h15.3v7h-15.3zM263.5 613.5h45.8v7h-45.8zM156.6 620.5h15.3v7h-15.3zM263.5 620.5h15.3v7h-15.3zM156.6 627.5h30.6v7h-30.6zM248.2 627.5h15.3v7h-15.3z"/>
<path class="j" d="M80.3 515.5h15.3v7h-15.3zM141.4 515.5h15.3v7h-15.3zM34.6 522.5h15.3v7h-15.3zM80.3 522.5h15.3v7h-15.3zM126.1 522.5h30.6v7h-30.6zM294 522.5h15.3v7h-15.3zM156.6 529.5h15.3v7h-15.3zM95.6 536.5h15.3v7h-15.3zM171.9 536.5h15.3v7h-15.3zM95.6 543.5h15.3v7h-15.3zM171.9 543.5h15.3v7h-15.3zM248.2 543.5h15.3v7h-15.3zM49.8 550.5h61.1v7h-61.1zM248.2 550.5h15.3v7h-15.3zM49.8 557.5h15.3v7h-15.3zM95.6 557.5h15.3v7h-15.3zM49.8 564.5h15.3v7h-15.3zM110.9 571.5h15.3v7h-15.3zM141.4 571.5h76.3v7h-76.3zM263.5 571.5h15.3v7h-15.3zM294 571.5h15.3v7h-15.3zM156.6 578.5h15.3v7h-15.3zM202.4 578.5h45.8v7h-45.8zM34.6 585.5h15.3v7h-15.3zM278.7 585.5h15.3v7h-15.3zM248.2 592.5h30.6v7h-30.6zM110.9 599.5h15.3v7h-15.3zM248.2 599.5h15.3v7h-15.3zM248.2 606.5h15.3v7h-15.3zM126.1 613.5h30.6v7h-30.6zM171.9 613.5h91.6v7h-91.6zM141.4 620.5h15.3v7h-15.3zM171.9 620.5h91.6v7h-91.6zM187.2 627.5h61.1v7h-61.1z"/>
<path class="k" d="M232.9 515.5h15.3v7h-15.3zM278.7 515.5h30.6v7h-30.6zM65.1 522.5h15.3v7h-15.3zM187.2 522.5h106.9v7h-106.9zM80.3 529.5h15.3v7h-15.3zM126.1 529.5h30.6v7h-30.6zM187.2 529.5h15.3v7h-15.3zM217.7 529.5h30.6v7h-30.6zM263.5 529.5h15.3v7h-15.3zM80.3 536.5h15.3v7h-15.3zM110.9 536.5h61.1v7h-61.1zM187.2 536.5h45.8v7h-45.8zM263.5 536.5h15.3v7h-15.3zM80.3 543.5h15.3v7h-15.3zM110.9 543.5h61.1v7h-61.1zM187.2 543.5h45.8v7h-45.8zM263.5 543.5h15.3v7h-15.3zM110.9 550.5h76.3v7h-76.3zM202.4 550.5h45.8v7h-45.8zM263.5 550.5h15.3v7h-15.3zM110.9 557.5h61.1v7h-61.1zM110.9 564.5h76.3v7h-76.3zM217.7 564.5h30.6v7h-30.6zM126.1 571.5h15.3v7h-15.3zM217.7 571.5h45.8v7h-45.8zM65.1 592.5h15.3v7h-15.3zM278.7 592.5h15.3v7h-15.3zM278.7 599.5h30.6v7h-30.6zM278.7 606.5h30.6v7h-30.6z"/>
<path class="q2" d="M294 557.5h15.3v7h-15.3zM65.1 606.5h15.3v7h-15.3zM95.6 606.5h30.6v7h-30.6z"/>
<path class="d" d="M294 585.5h15.3v7h-15.3z"/>
<path class="q" d="M34.6 606.5h15.3v7h-15.3zM80.3 606.5h15.3v7h-15.3z"/>
<path class="p" d="M49.8 606.5h15.3v7h-15.3z"/>
<path class="a" d="M34.6 620.5h45.8v7h-45.8zM34.6 627.5h61.1v7h-61.1z"/>
<path class="b" d="M80.3 620.5h45.8v7h-45.8zM95.6 627.5h45.8v7h-45.8z"/>
<path d="M34.56 508.5V634.5M49.82 508.5V634.5M65.08 508.5V634.5M80.34 508.5V634.5M95.6 508.5V634.5M110.86 508.5V634.5M126.12 508.5V634.5M141.38 508.5V634.5M156.64 508.5V634.5M171.9 508.5V634.5M187.16 508.5V634.5M202.42 508.5V634.5M217.68 508.5V634.5M232.94 508.5V634.5M248.2 508.5V634.5M263.46 508.5V634.5M278.72 508.5V634.5M293.98 508.5V634.5M309.24 508.5V634.5" stroke="#000" stroke-opacity="0.5" stroke-width="0.5" fill="none"/>
<path d="M34.56 508.5H309.24M34.56 515.5H309.24M34.56 522.5H309.24M34.56 529.5H309.24M34.56 536.5H309.24M34.56 543.5H309.24M34.56 550.5H309.24M34.56 557.5H309.24M34.56 564.5H309.24M34.56 571.5H309.24M34.56 578.5H309.24M34.56 585.5H309.24M34.56 592.5H309.24M34.56 599.5H309.24M34.56 606.5H309.24M34.56 613.5H309.24M34.56 620.5H309.24M34.56 627.5H309.24M34.56 634.5H309.24" stroke="#000" stroke-opacity="0.42" stroke-width="0.5" fill="none"/>
<path d="M19.3 641.5v-1.8M19.3 501.5v1.8M49.82 641.5v-1.8M49.82 501.5v1.8M80.34 641.5v-1.8M80.34 501.5v1.8M110.86 641.5v-1.8M110.86 501.5v1.8M141.38 641.5v-1.8M141.38 501.5v1.8M171.9 641.5v-1.8M171.9 501.5v1.8M202.42 641.5v-1.8M202.42 501.5v1.8M232.94 641.5v-1.8M232.94 501.5v1.8M263.46 641.5v-1.8M263.46 501.5v1.8M293.98 641.5v-1.8M293.98 501.5v1.8M324.5 641.5v-1.8M324.5 501.5v1.8M19.3 641.5h1.8M324.5 641.5h-1.8M19.3 606.5h1.8M324.5 606.5h-1.8M19.3 571.5h1.8M324.5 571.5h-1.8M19.3 536.5h1.8M324.5 536.5h-1.8M19.3 501.5h1.8M324.5 501.5h-1.8" stroke="#888" stroke-width="0.5" fill="none"/>
<text x="19.3" y="649.9" font-size="7.3" text-anchor="middle" font-weight="bold" fill="#1a1a1a">0</text>
<text x="49.82" y="649.9" font-size="7.3" text-anchor="middle" font-weight="bold" fill="#1a1a1a">2</text>
<text x="80.34" y="649.9" font-size="7.3" text-anchor="middle" font-weight="bold" fill="#1a1a1a">4</text>
<text x="110.86" y="649.9" font-size="7.3" text-anchor="middle" font-weight="bold" fill="#1a1a1a">6</text>
<text x="141.38" y="649.9" font-size="7.3" text-anchor="middle" font-weight="bold" fill="#1a1a1a">8</text>
<text x="171.9" y="649.9" font-size="7.3" text-anchor="middle" font-weight="bold" fill="#1a1a1a">10</text>
<text x="202.42" y="649.9" font-size="7.3" text-anchor="middle" font-weight="bold" fill="#1a1a1a">12</text>
<text x="232.94" y="649.9" font-size="7.3" text-anchor="middle" font-weight="bold" fill="#1a1a1a">14</text>
<text x="263.46" y="649.9" font-size="7.3" text-anchor="middle" font-weight="bold" fill="#1a1a1a">16</text>
<text x="293.98" y="649.9" font-size="7.3" text-anchor="middle" font-weight="bold" fill="#1a1a1a">18</text>
<text x="324.5" y="649.9" font-size="7.3" text-anchor="middle" font-weight="bold" fill="#1a1a1a">20</text>
<text x="17.3" y="643.3" font-size="7.3" text-anchor="end" font-weight="bold" fill="#1a1a1a">0</text>
<text x="17.3" y="608.3" font-size="7.3" text-anchor="end" font-weight="bold" fill="#1a1a1a">5</text>
<text x="17.3" y="573.3" font-size="7.3" text-anchor="end" font-weight="bold" fill="#1a1a1a">10</text>
<text x="17.3" y="538.3" font-size="7.3" text-anchor="end" font-weight="bold" fill="#1a1a1a">15</text>
<text x="17.3" y="503.3" font-size="7.3" text-anchor="end" font-weight="bold" fill="#1a1a1a">20</text>
<text x="171.9" y="659.8" font-size="7.3" text-anchor="middle" font-weight="bold" fill="#222">GSCPI</text>
<text x="7" y="571.5" font-size="7.5" text-anchor="middle" font-weight="bold" fill="#222" transform="rotate(-90 7 571.5)">IT</text>
<rect x="331" y="501.5" width="5.8" height="140" fill="url(#jet)"/>
<line x1="335.6" y1="625.69" x2="336.8" y2="625.69" stroke="#444" stroke-width="0.4"/>
<text x="338.6" y="627.87" font-size="6.4" text-anchor="start" font-weight="bold" fill="#3a3a3a">-15</text>
<line x1="335.6" y1="600.19" x2="336.8" y2="600.19" stroke="#444" stroke-width="0.4"/>
<text x="338.6" y="602.36" font-size="6.4" text-anchor="start" font-weight="bold" fill="#3a3a3a">-10</text>
<line x1="335.6" y1="574.69" x2="336.8" y2="574.69" stroke="#444" stroke-width="0.4"/>
<text x="338.6" y="576.86" font-size="6.4" text-anchor="start" font-weight="bold" fill="#3a3a3a">-5</text>
<line x1="335.6" y1="549.19" x2="336.8" y2="549.19" stroke="#444" stroke-width="0.4"/>
<text x="338.6" y="551.36" font-size="6.4" text-anchor="start" font-weight="bold" fill="#3a3a3a">0</text>
<line x1="335.6" y1="523.69" x2="336.8" y2="523.69" stroke="#444" stroke-width="0.4"/>
<text x="338.6" y="525.86" font-size="6.4" text-anchor="start" font-weight="bold" fill="#3a3a3a">5</text>
<rect x="19.3" y="666.9" width="305.2" height="140" fill="none" stroke="#c8c8c8" stroke-width="0.8"/>
<path class="p" d="M34.6 673.9h106.9v7h-106.9z"/>
<path class="o" d="M141.4 673.9h15.3v7h-15.3zM34.6 680.9h15.3v7h-15.3zM34.6 687.9h15.3v7h-15.3zM34.6 694.9h15.3v7h-15.3zM294 736.9h15.3v7h-15.3zM294 743.9h15.3v7h-15.3zM34.6 764.9h30.6v7h-30.6zM80.3 764.9h61.1v7h-61.1zM294 764.9h15.3v7h-15.3zM49.8 771.9h30.6v7h-30.6zM110.9 771.9h15.3v7h-15.3zM294 771.9h15.3v7h-15.3z"/>
<path class="j" d="M156.6 673.9h30.6v7h-30.6zM141.4 680.9h61.1v7h-61.1zM217.7 680.9h15.3v7h-15.3zM263.5 687.9h15.3v7h-15.3zM95.6 694.9h15.3v7h-15.3zM34.6 701.9h15.3v7h-15.3zM49.8 708.9h30.6v7h-30.6zM95.6 708.9h15.3v7h-15.3zM65.1 715.9h15.3v7h-15.3zM95.6 715.9h15.3v7h-15.3zM278.7 715.9h15.3v7h-15.3zM65.1 722.9h15.3v7h-15.3zM95.6 722.9h15.3v7h-15.3zM171.9 722.9h45.8v7h-45.8zM248.2 722.9h45.8v7h-45.8zM65.1 729.9h45.8v7h-45.8zM141.4 729.9h122.1v7h-122.1zM278.7 729.9h15.3v7h-15.3zM65.1 736.9h30.6v7h-30.6zM141.4 736.9h61.1v7h-61.1zM232.9 736.9h15.3v7h-15.3zM278.7 736.9h15.3v7h-15.3zM65.1 743.9h30.6v7h-30.6zM34.6 750.9h15.3v7h-15.3zM65.1 750.9h30.6v7h-30.6zM248.2 750.9h15.3v7h-15.3zM217.7 757.9h30.6v7h-30.6zM171.9 771.9h30.6v7h-30.6zM263.5 778.9h30.6v7h-30.6zM263.5 785.9h45.8v7h-45.8zM294 792.9h15.3v7h-15.3z"/>
<path class="g" d="M187.2 673.9h122.1v7h-122.1zM126.1 680.9h15.3v7h-15.3zM232.9 680.9h76.3v7h-76.3zM278.7 687.9h30.6v7h-30.6zM95.6 701.9h15.3v7h-15.3zM156.6 778.9h45.8v7h-45.8zM156.6 785.9h91.6v7h-91.6zM141.4 792.9h152.7v7h-152.7z"/>
<path class="n" d="M49.8 680.9h45.8v7h-45.8zM49.8 687.9h30.6v7h-30.6zM49.8 694.9h15.3v7h-15.3zM126.1 694.9h45.8v7h-45.8zM263.5 694.9h15.3v7h-15.3zM126.1 701.9h76.3v7h-76.3zM217.7 701.9h15.3v7h-15.3zM171.9 708.9h30.6v7h-30.6zM217.7 708.9h15.3v7h-15.3zM34.6 729.9h15.3v7h-15.3zM278.7 743.9h15.3v7h-15.3zM34.6 757.9h61.1v7h-61.1zM156.6 757.9h30.6v7h-30.6zM141.4 764.9h45.8v7h-45.8zM34.6 771.9h15.3v7h-15.3zM80.3 771.9h30.6v7h-30.6zM156.6 771.9h15.3v7h-15.3z"/>
<path class="l" d="M95.6 680.9h15.3v7h-15.3zM80.3 687.9h15.3v7h-15.3zM126.1 687.9h61.1v7h-61.1zM217.7 687.9h30.6v7h-30.6zM65.1 694.9h30.6v7h-30.6zM110.9 694.9h15.3v7h-15.3zM217.7 694.9h30.6v7h-30.6zM110.9 715.9h61.1v7h-61.1zM187.2 715.9h15.3v7h-15.3zM248.2 715.9h30.6v7h-30.6zM110.9 736.9h15.3v7h-15.3zM248.2 736.9h30.6v7h-30.6zM110.9 743.9h30.6v7h-30.6zM202.4 743.9h61.1v7h-61.1zM49.8 750.9h15.3v7h-15.3zM126.1 750.9h15.3v7h-15.3zM156.6 750.9h15.3v7h-15.3zM202.4 750.9h30.6v7h-30.6zM126.1 757.9h15.3v7h-15.3zM278.7 757.9h15.3v7h-15.3zM248.2 764.9h45.8v7h-45.8zM248.2 771.9h30.6v7h-30.6z"/>
<path class="k" d="M110.9 680.9h15.3v7h-15.3zM202.4 680.9h15.3v7h-15.3zM95.6 687.9h15.3v7h-15.3zM248.2 687.9h15.3v7h-15.3zM248.2 694.9h15.3v7h-15.3zM294 694.9h15.3v7h-15.3zM294 701.9h15.3v7h-15.3zM294 708.9h15.3v7h-15.3zM49.8 715.9h15.3v7h-15.3zM80.3 715.9h15.3v7h-15.3zM171.9 715.9h15.3v7h-15.3zM49.8 722.9h15.3v7h-15.3zM80.3 722.9h15.3v7h-15.3zM110.9 722.9h61.1v7h-61.1zM217.7 722.9h30.6v7h-30.6zM49.8 729.9h15.3v7h-15.3zM110.9 729.9h30.6v7h-30.6zM95.6 736.9h15.3v7h-15.3zM126.1 736.9h15.3v7h-15.3zM202.4 736.9h30.6v7h-30.6zM95.6 743.9h15.3v7h-15.3zM141.4 743.9h61.1v7h-61.1zM95.6 750.9h30.6v7h-30.6zM171.9 750.9h30.6v7h-30.6zM232.9 750.9h15.3v7h-15.3zM263.5 750.9h15.3v7h-15.3zM95.6 757.9h30.6v7h-30.6zM187.2 757.9h30.6v7h-30.6zM248.2 757.9h30.6v7h-30.6zM294 757.9h15.3v7h-15.3zM187.2 764.9h61.1v7h-61.1zM202.4 771.9h15.3v7h-15.3zM248.2 778.9h15.3v7h-15.3zM294 778.9h15.3v7h-15.3z"/>
<path class="h" d="M110.9 687.9h15.3v7h-15.3zM65.1 701.9h30.6v7h-30.6zM34.6 743.9h15.3v7h-15.3zM202.4 778.9h15.3v7h-15.3zM248.2 785.9h15.3v7h-15.3z"/>
<path class="m" d="M187.2 687.9h30.6v7h-30.6zM171.9 694.9h45.8v7h-45.8zM278.7 694.9h15.3v7h-15.3zM110.9 701.9h15.3v7h-15.3zM202.4 701.9h15.3v7h-15.3zM232.9 701.9h61.1v7h-61.1zM34.6 708.9h15.3v7h-15.3zM110.9 708.9h61.1v7h-61.1zM202.4 708.9h15.3v7h-15.3zM232.9 708.9h61.1v7h-61.1zM34.6 715.9h15.3v7h-15.3zM202.4 715.9h45.8v7h-45.8zM34.6 722.9h15.3v7h-15.3zM34.6 736.9h15.3v7h-15.3zM263.5 743.9h15.3v7h-15.3zM141.4 750.9h15.3v7h-15.3zM278.7 750.9h30.6v7h-30.6zM141.4 757.9h15.3v7h-15.3zM217.7 771.9h30.6v7h-30.6zM278.7 771.9h15.3v7h-15.3zM217.7 778.9h30.6v7h-30.6z"/>
<path class="i" d="M49.8 701.9h15.3v7h-15.3zM80.3 708.9h15.3v7h-15.3zM294 715.9h15.3v7h-15.3zM294 722.9h15.3v7h-15.3zM263.5 729.9h15.3v7h-15.3zM294 729.9h15.3v7h-15.3zM49.8 736.9h15.3v7h-15.3zM49.8 743.9h15.3v7h-15.3zM34.6 778.9h91.6v7h-91.6z"/>
<path class="q" d="M65.1 764.9h15.3v7h-15.3zM126.1 771.9h15.3v7h-15.3z"/>
<path class="q2" d="M141.4 771.9h15.3v7h-15.3z"/>
<path class="c" d="M126.1 778.9h15.3v7h-15.3zM126.1 785.9h30.6v7h-30.6zM126.1 792.9h15.3v7h-15.3z"/>
<path class="f" d="M141.4 778.9h15.3v7h-15.3z"/>
<path class="a" d="M34.6 785.9h91.6v7h-91.6zM34.6 792.9h91.6v7h-91.6z"/>
<path d="M34.56 673.9V799.9M49.82 673.9V799.9M65.08 673.9V799.9M80.34 673.9V799.9M95.6 673.9V799.9M110.86 673.9V799.9M126.12 673.9V799.9M141.38 673.9V799.9M156.64 673.9V799.9M171.9 673.9V799.9M187.16 673.9V799.9M202.42 673.9V799.9M217.68 673.9V799.9M232.94 673.9V799.9M248.2 673.9V799.9M263.46 673.9V799.9M278.72 673.9V799.9M293.98 673.9V799.9M309.24 673.9V799.9" stroke="#000" stroke-opacity="0.5" stroke-width="0.5" fill="none"/>
<path d="M34.56 673.9H309.24M34.56 680.9H309.24M34.56 687.9H309.24M34.56 694.9H309.24M34.56 701.9H309.24M34.56 708.9H309.24M34.56 715.9H309.24M34.56 722.9H309.24M34.56 729.9H309.24M34.56 736.9H309.24M34.56 743.9H309.24M34.56 750.9H309.24M34.56 757.9H309.24M34.56 764.9H309.24M34.56 771.9H309.24M34.56 778.9H309.24M34.56 785.9H309.24M34.56 792.9H309.24M34.56 799.9H309.24" stroke="#000" stroke-opacity="0.42" stroke-width="0.5" fill="none"/>
<path d="M19.3 806.9v-1.8M19.3 666.9v1.8M49.82 806.9v-1.8M49.82 666.9v1.8M80.34 806.9v-1.8M80.34 666.9v1.8M110.86 806.9v-1.8M110.86 666.9v1.8M141.38 806.9v-1.8M141.38 666.9v1.8M171.9 806.9v-1.8M171.9 666.9v1.8M202.42 806.9v-1.8M202.42 666.9v1.8M232.94 806.9v-1.8M232.94 666.9v1.8M263.46 806.9v-1.8M263.46 666.9v1.8M293.98 806.9v-1.8M293.98 666.9v1.8M324.5 806.9v-1.8M324.5 666.9v1.8M19.3 806.9h1.8M324.5 806.9h-1.8M19.3 771.9h1.8M324.5 771.9h-1.8M19.3 736.9h1.8M324.5 736.9h-1.8M19.3 701.9h1.8M324.5 701.9h-1.8M19.3 666.9h1.8M324.5 666.9h-1.8" stroke="#888" stroke-width="0.5" fill="none"/>
<text x="19.3" y="815.3" font-size="7.3" text-anchor="middle" font-weight="bold" fill="#1a1a1a">0</text>
<text x="49.82" y="815.3" font-size="7.3" text-anchor="middle" font-weight="bold" fill="#1a1a1a">2</text>
<text x="80.34" y="815.3" font-size="7.3" text-anchor="middle" font-weight="bold" fill="#1a1a1a">4</text>
<text x="110.86" y="815.3" font-size="7.3" text-anchor="middle" font-weight="bold" fill="#1a1a1a">6</text>
<text x="141.38" y="815.3" font-size="7.3" text-anchor="middle" font-weight="bold" fill="#1a1a1a">8</text>
<text x="171.9" y="815.3" font-size="7.3" text-anchor="middle" font-weight="bold" fill="#1a1a1a">10</text>
<text x="202.42" y="815.3" font-size="7.3" text-anchor="middle" font-weight="bold" fill="#1a1a1a">12</text>
<text x="232.94" y="815.3" font-size="7.3" text-anchor="middle" font-weight="bold" fill="#1a1a1a">14</text>
<text x="263.46" y="815.3" font-size="7.3" text-anchor="middle" font-weight="bold" fill="#1a1a1a">16</text>
<text x="293.98" y="815.3" font-size="7.3" text-anchor="middle" font-weight="bold" fill="#1a1a1a">18</text>
<text x="324.5" y="815.3" font-size="7.3" text-anchor="middle" font-weight="bold" fill="#1a1a1a">20</text>
<text x="17.3" y="808.7" font-size="7.3" text-anchor="end" font-weight="bold" fill="#1a1a1a">0</text>
<text x="17.3" y="773.7" font-size="7.3" text-anchor="end" font-weight="bold" fill="#1a1a1a">5</text>
<text x="17.3" y="738.7" font-size="7.3" text-anchor="end" font-weight="bold" fill="#1a1a1a">10</text>
<text x="17.3" y="703.7" font-size="7.3" text-anchor="end" font-weight="bold" fill="#1a1a1a">15</text>
<text x="17.3" y="668.7" font-size="7.3" text-anchor="end" font-weight="bold" fill="#1a1a1a">20</text>
<text x="171.9" y="825.2" font-size="7.3" text-anchor="middle" font-weight="bold" fill="#222">GSCPI</text>
<text x="7" y="736.9" font-size="7.5" text-anchor="middle" font-weight="bold" fill="#222" transform="rotate(-90 7 736.9)">Industrial</text>
<rect x="331" y="666.9" width="5.8" height="140" fill="url(#jet)"/>
<line x1="335.6" y1="784.06" x2="336.8" y2="784.06" stroke="#444" stroke-width="0.4"/>
<text x="338.6" y="786.24" font-size="6.4" text-anchor="start" font-weight="bold" fill="#3a3a3a">-15</text>
<line x1="335.6" y1="759.24" x2="336.8" y2="759.24" stroke="#444" stroke-width="0.4"/>
<text x="338.6" y="761.42" font-size="6.4" text-anchor="start" font-weight="bold" fill="#3a3a3a">-10</text>
<line x1="335.6" y1="734.42" x2="336.8" y2="734.42" stroke="#444" stroke-width="0.4"/>
<text x="338.6" y="736.59" font-size="6.4" text-anchor="start" font-weight="bold" fill="#3a3a3a">-5</text>
<line x1="335.6" y1="709.6" x2="336.8" y2="709.6" stroke="#444" stroke-width="0.4"/>
<text x="338.6" y="711.77" font-size="6.4" text-anchor="start" font-weight="bold" fill="#3a3a3a">0</text>
<line x1="335.6" y1="684.77" x2="336.8" y2="684.77" stroke="#444" stroke-width="0.4"/>
<text x="338.6" y="686.95" font-size="6.4" text-anchor="start" font-weight="bold" fill="#3a3a3a">5</text>
<rect x="19.3" y="832.4" width="305.2" height="140" fill="none" stroke="#c8c8c8" stroke-width="0.8"/>
<path class="l" d="M34.6 839.4h76.3v7h-76.3zM126.1 839.4h15.3v7h-15.3zM248.2 839.4h15.3v7h-15.3zM248.2 846.4h15.3v7h-15.3zM49.8 937.4h30.6v7h-30.6zM110.9 937.4h61.1v7h-61.1zM187.2 937.4h15.3v7h-15.3zM294 937.4h15.3v7h-15.3zM34.6 944.4h15.3v7h-15.3zM263.5 944.4h45.8v7h-45.8zM263.5 951.4h45.8v7h-45.8zM278.7 958.4h30.6v7h-30.6z"/>
<path class="o" d="M110.9 839.4h15.3v7h-15.3zM156.6 944.4h61.1v7h-61.1zM80.3 951.4h30.6v7h-30.6zM171.9 951.4h30.6v7h-30.6z"/>
<path class="k" d="M141.4 839.4h45.8v7h-45.8zM263.5 839.4h30.6v7h-30.6zM141.4 846.4h45.8v7h-45.8zM263.5 846.4h30.6v7h-30.6zM171.9 853.4h30.6v7h-30.6zM187.2 860.4h30.6v7h-30.6zM65.1 874.4h15.3v7h-15.3zM34.6 881.4h45.8v7h-45.8zM49.8 888.4h30.6v7h-30.6zM294 902.4h15.3v7h-15.3zM294 909.4h15.3v7h-15.3zM34.6 930.4h30.6v7h-30.6zM34.6 937.4h15.3v7h-15.3zM232.9 944.4h30.6v7h-30.6zM232.9 951.4h30.6v7h-30.6zM263.5 958.4h15.3v7h-15.3z"/>
<path class="j" d="M187.2 839.4h61.1v7h-61.1zM294 839.4h15.3v7h-15.3zM34.6 846.4h15.3v7h-15.3zM187.2 846.4h61.1v7h-61.1zM294 846.4h15.3v7h-15.3zM34.6 853.4h15.3v7h-15.3zM141.4 853.4h30.6v7h-30.6zM202.4 853.4h106.9v7h-106.9zM34.6 860.4h15.3v7h-15.3zM95.6 860.4h91.6v7h-91.6zM217.7 860.4h76.3v7h-76.3zM34.6 867.4h259.5v7h-259.5zM34.6 874.4h30.6v7h-30.6zM80.3 874.4h213.7v7h-213.7zM80.3 881.4h213.7v7h-213.7zM80.3 888.4h229v7h-229zM49.8 895.4h259.5v7h-259.5zM49.8 902.4h15.3v7h-15.3zM110.9 902.4h15.3v7h-15.3zM171.9 902.4h122.1v7h-122.1zM171.9 909.4h122.1v7h-122.1zM171.9 916.4h137.4v7h-137.4zM171.9 923.4h45.8v7h-45.8zM248.2 923.4h61.1v7h-61.1zM65.1 930.4h137.4v7h-137.4zM278.7 930.4h15.3v7h-15.3zM202.4 937.4h30.6v7h-30.6zM278.7 937.4h15.3v7h-15.3zM217.7 944.4h15.3v7h-15.3zM202.4 951.4h30.6v7h-30.6zM248.2 958.4h15.3v7h-15.3z"/>
<path class="h" d="M49.8 846.4h91.6v7h-91.6zM49.8 853.4h76.3v7h-76.3zM294 867.4h15.3v7h-15.3zM49.8 909.4h15.3v7h-15.3zM49.8 916.4h15.3v7h-15.3zM110.9 923.4h15.3v7h-15.3zM202.4 958.4h15.3v7h-15.3z"/>
<path class="i" d="M126.1 853.4h15.3v7h-15.3zM49.8 860.4h45.8v7h-45.8zM294 860.4h15.3v7h-15.3zM294 874.4h15.3v7h-15.3zM294 881.4h15.3v7h-15.3zM65.1 902.4h45.8v7h-45.8zM126.1 902.4h45.8v7h-45.8zM65.1 909.4h106.9v7h-106.9zM65.1 916.4h106.9v7h-106.9zM34.6 923.4h76.3v7h-76.3zM126.1 923.4h45.8v7h-45.8zM217.7 923.4h30.6v7h-30.6zM202.4 930.4h76.3v7h-76.3zM294 930.4h15.3v7h-15.3zM232.9 937.4h45.8v7h-45.8zM217.7 958.4h30.6v7h-30.6z"/>
<path class="m" d="M34.6 888.4h15.3v7h-15.3zM34.6 895.4h15.3v7h-15.3zM80.3 937.4h30.6v7h-30.6zM171.9 937.4h15.3v7h-15.3zM49.8 944.4h15.3v7h-15.3zM34.6 951.4h15.3v7h-15.3z"/>
<path class="g" d="M34.6 902.4h15.3v7h-15.3zM34.6 909.4h15.3v7h-15.3zM34.6 916.4h15.3v7h-15.3z"/>
<path class="n" d="M65.1 944.4h91.6v7h-91.6zM49.8 951.4h30.6v7h-30.6zM110.9 951.4h61.1v7h-61.1z"/>
<path class="a" d="M34.6 958.4h76.3v7h-76.3z"/>
<path class="b2" d="M110.9 958.4h91.6v7h-91.6z"/>
<path d="M34.56 839.4V965.4M49.82 839.4V965.4M65.08 839.4V965.4M80.34 839.4V965.4M95.6 839.4V965.4M110.86 839.4V965.4M126.12 839.4V965.4M141.38 839.4V965.4M156.64 839.4V965.4M171.9 839.4V965.4M187.16 839.4V965.4M202.42 839.4V965.4M217.68 839.4V965.4M232.94 839.4V965.4M248.2 839.4V965.4M263.46 839.4V965.4M278.72 839.4V965.4M293.98 839.4V965.4M309.24 839.4V965.4" stroke="#000" stroke-opacity="0.5" stroke-width="0.5" fill="none"/>
<path d="M34.56 839.4H309.24M34.56 846.4H309.24M34.56 853.4H309.24M34.56 860.4H309.24M34.56 867.4H309.24M34.56 874.4H309.24M34.56 881.4H309.24M34.56 888.4H309.24M34.56 895.4H309.24M34.56 902.4H309.24M34.56 909.4H309.24M34.56 916.4H309.24M34.56 923.4H309.24M34.56 930.4H309.24M34.56 937.4H309.24M34.56 944.4H309.24M34.56 951.4H309.24M34.56 958.4H309.24M34.56 965.4H309.24" stroke="#000" stroke-opacity="0.42" stroke-width="0.5" fill="none"/>
<path d="M19.3 972.4v-1.8M19.3 832.4v1.8M49.82 972.4v-1.8M49.82 832.4v1.8M80.34 972.4v-1.8M80.34 832.4v1.8M110.86 972.4v-1.8M110.86 832.4v1.8M141.38 972.4v-1.8M141.38 832.4v1.8M171.9 972.4v-1.8M171.9 832.4v1.8M202.42 972.4v-1.8M202.42 832.4v1.8M232.94 972.4v-1.8M232.94 832.4v1.8M263.46 972.4v-1.8M263.46 832.4v1.8M293.98 972.4v-1.8M293.98 832.4v1.8M324.5 972.4v-1.8M324.5 832.4v1.8M19.3 972.4h1.8M324.5 972.4h-1.8M19.3 937.4h1.8M324.5 937.4h-1.8M19.3 902.4h1.8M324.5 902.4h-1.8M19.3 867.4h1.8M324.5 867.4h-1.8M19.3 832.4h1.8M324.5 832.4h-1.8" stroke="#888" stroke-width="0.5" fill="none"/>
<text x="19.3" y="980.8" font-size="7.3" text-anchor="middle" font-weight="bold" fill="#1a1a1a">0</text>
<text x="49.82" y="980.8" font-size="7.3" text-anchor="middle" font-weight="bold" fill="#1a1a1a">2</text>
<text x="80.34" y="980.8" font-size="7.3" text-anchor="middle" font-weight="bold" fill="#1a1a1a">4</text>
<text x="110.86" y="980.8" font-size="7.3" text-anchor="middle" font-weight="bold" fill="#1a1a1a">6</text>
<text x="141.38" y="980.8" font-size="7.3" text-anchor="middle" font-weight="bold" fill="#1a1a1a">8</text>
<text x="171.9" y="980.8" font-size="7.3" text-anchor="middle" font-weight="bold" fill="#1a1a1a">10</text>
<text x="202.42" y="980.8" font-size="7.3" text-anchor="middle" font-weight="bold" fill="#1a1a1a">12</text>
<text x="232.94" y="980.8" font-size="7.3" text-anchor="middle" font-weight="bold" fill="#1a1a1a">14</text>
<text x="263.46" y="980.8" font-size="7.3" text-anchor="middle" font-weight="bold" fill="#1a1a1a">16</text>
<text x="293.98" y="980.8" font-size="7.3" text-anchor="middle" font-weight="bold" fill="#1a1a1a">18</text>
<text x="324.5" y="980.8" font-size="7.3" text-anchor="middle" font-weight="bold" fill="#1a1a1a">20</text>
<text x="17.3" y="974.2" font-size="7.3" text-anchor="end" font-weight="bold" fill="#1a1a1a">0</text>
<text x="17.3" y="939.2" font-size="7.3" text-anchor="end" font-weight="bold" fill="#1a1a1a">5</text>
<text x="17.3" y="904.2" font-size="7.3" text-anchor="end" font-weight="bold" fill="#1a1a1a">10</text>
<text x="17.3" y="869.2" font-size="7.3" text-anchor="end" font-weight="bold" fill="#1a1a1a">15</text>
<text x="17.3" y="834.2" font-size="7.3" text-anchor="end" font-weight="bold" fill="#1a1a1a">20</text>
<text x="171.9" y="990.7" font-size="7.3" text-anchor="middle" font-weight="bold" fill="#222">GSCPI</text>
<text x="7" y="902.4" font-size="7.5" text-anchor="middle" font-weight="bold" fill="#222" transform="rotate(-90 7 902.4)">Health</text>
<rect x="331" y="832.4" width="5.8" height="140" fill="url(#jet)"/>
<line x1="335.6" y1="970.46" x2="336.8" y2="970.46" stroke="#444" stroke-width="0.4"/>
<text x="338.6" y="972.63" font-size="6.4" text-anchor="start" font-weight="bold" fill="#3a3a3a">-40</text>
<line x1="335.6" y1="948.89" x2="336.8" y2="948.89" stroke="#444" stroke-width="0.4"/>
<text x="338.6" y="951.06" font-size="6.4" text-anchor="start" font-weight="bold" fill="#3a3a3a">-30</text>
<line x1="335.6" y1="927.32" x2="336.8" y2="927.32" stroke="#444" stroke-width="0.4"/>
<text x="338.6" y="929.49" font-size="6.4" text-anchor="start" font-weight="bold" fill="#3a3a3a">-20</text>
<line x1="335.6" y1="905.74" x2="336.8" y2="905.74" stroke="#444" stroke-width="0.4"/>
<text x="338.6" y="907.92" font-size="6.4" text-anchor="start" font-weight="bold" fill="#3a3a3a">-10</text>
<line x1="335.6" y1="884.17" x2="336.8" y2="884.17" stroke="#444" stroke-width="0.4"/>
<text x="338.6" y="886.35" font-size="6.4" text-anchor="start" font-weight="bold" fill="#3a3a3a">0</text>
<line x1="335.6" y1="862.6" x2="336.8" y2="862.6" stroke="#444" stroke-width="0.4"/>
<text x="338.6" y="864.78" font-size="6.4" text-anchor="start" font-weight="bold" fill="#3a3a3a">10</text>
<line x1="335.6" y1="841.03" x2="336.8" y2="841.03" stroke="#444" stroke-width="0.4"/>
<text x="338.6" y="843.2" font-size="6.4" text-anchor="start" font-weight="bold" fill="#3a3a3a">20</text>
<rect x="19.3" y="997.7" width="305.2" height="140" fill="none" stroke="#c8c8c8" stroke-width="0.8"/>
<path class="o" d="M34.6 1004.7h61.1v7h-61.1zM232.9 1018.7h15.3v7h-15.3zM294 1060.7h15.3v7h-15.3zM34.6 1067.7h15.3v7h-15.3zM34.6 1074.7h15.3v7h-15.3zM80.3 1088.7h30.6v7h-30.6zM95.6 1116.7h76.3v7h-76.3zM95.6 1123.7h76.3v7h-76.3z"/>
<path class="k" d="M95.6 1004.7h61.1v7h-61.1zM34.6 1011.7h30.6v7h-30.6zM95.6 1011.7h45.8v7h-45.8zM34.6 1025.7h15.3v7h-15.3zM34.6 1032.7h15.3v7h-15.3zM34.6 1039.7h15.3v7h-15.3zM80.3 1039.7h15.3v7h-15.3zM156.6 1039.7h15.3v7h-15.3zM217.7 1039.7h15.3v7h-15.3zM263.5 1039.7h15.3v7h-15.3zM34.6 1046.7h15.3v7h-15.3zM95.6 1046.7h15.3v7h-15.3zM141.4 1046.7h30.6v7h-30.6zM202.4 1046.7h30.6v7h-30.6zM80.3 1053.7h15.3v7h-15.3zM156.6 1053.7h15.3v7h-15.3zM202.4 1053.7h30.6v7h-30.6zM263.5 1053.7h30.6v7h-30.6zM49.8 1060.7h15.3v7h-15.3zM156.6 1060.7h76.3v7h-76.3zM49.8 1067.7h15.3v7h-15.3zM110.9 1067.7h15.3v7h-15.3zM232.9 1067.7h15.3v7h-15.3zM49.8 1074.7h15.3v7h-15.3zM110.9 1074.7h15.3v7h-15.3zM263.5 1074.7h15.3v7h-15.3zM294 1074.7h15.3v7h-15.3zM171.9 1081.7h15.3v7h-15.3zM232.9 1081.7h30.6v7h-30.6zM294 1081.7h15.3v7h-15.3zM232.9 1088.7h15.3v7h-15.3zM278.7 1088.7h15.3v7h-15.3zM141.4 1095.7h45.8v7h-45.8zM263.5 1102.7h15.3v7h-15.3zM65.1 1116.7h30.6v7h-30.6zM34.6 1123.7h15.3v7h-15.3z"/>
<path class="j" d="M156.6 1004.7h45.8v7h-45.8zM65.1 1011.7h30.6v7h-30.6zM141.4 1011.7h45.8v7h-45.8zM49.8 1032.7h30.6v7h-30.6zM126.1 1032.7h15.3v7h-15.3zM278.7 1032.7h30.6v7h-30.6zM171.9 1039.7h30.6v7h-30.6zM278.7 1039.7h15.3v7h-15.3zM171.9 1046.7h30.6v7h-30.6zM232.9 1046.7h61.1v7h-61.1zM171.9 1053.7h30.6v7h-30.6zM232.9 1053.7h30.6v7h-30.6zM65.1 1060.7h45.8v7h-45.8zM65.1 1067.7h15.3v7h-15.3zM95.6 1067.7h15.3v7h-15.3zM141.4 1067.7h91.6v7h-91.6zM248.2 1067.7h15.3v7h-15.3zM65.1 1074.7h45.8v7h-45.8zM141.4 1074.7h122.1v7h-122.1zM49.8 1081.7h15.3v7h-15.3zM217.7 1081.7h15.3v7h-15.3zM49.8 1088.7h15.3v7h-15.3zM217.7 1088.7h15.3v7h-15.3zM294 1088.7h15.3v7h-15.3zM126.1 1095.7h15.3v7h-15.3zM232.9 1095.7h45.8v7h-45.8zM294 1095.7h15.3v7h-15.3zM278.7 1102.7h30.6v7h-30.6zM232.9 1109.7h15.3v7h-15.3z"/>
<path class="e" d="M202.4 1004.7h15.3v7h-15.3zM202.4 1011.7h30.6v7h-30.6zM95.6 1018.7h45.8v7h-45.8zM141.4 1025.7h30.6v7h-30.6zM80.3 1095.7h30.6v7h-30.6zM34.6 1102.7h15.3v7h-15.3zM95.6 1102.7h76.3v7h-76.3zM34.6 1109.7h30.6v7h-30.6zM110.9 1109.7h30.6v7h-30.6z"/>
<path class="d" d="M217.7 1004.7h15.3v7h-15.3zM49.8 1018.7h45.8v7h-45.8zM141.4 1018.7h45.8v7h-45.8zM65.1 1095.7h15.3v7h-15.3zM80.3 1102.7h15.3v7h-15.3z"/>
<path class="a" d="M232.9 1004.7h76.3v7h-76.3z"/>
<path class="h" d="M187.2 1011.7h15.3v7h-15.3zM65.1 1025.7h45.8v7h-45.8zM95.6 1032.7h30.6v7h-30.6zM34.6 1081.7h15.3v7h-15.3zM187.2 1095.7h15.3v7h-15.3zM187.2 1102.7h61.1v7h-61.1zM65.1 1109.7h45.8v7h-45.8zM141.4 1109.7h91.6v7h-91.6zM34.6 1116.7h30.6v7h-30.6z"/>
<path class="n" d="M232.9 1011.7h76.3v7h-76.3zM217.7 1018.7h15.3v7h-15.3zM248.2 1018.7h61.1v7h-61.1zM217.7 1025.7h76.3v7h-76.3zM171.9 1032.7h15.3v7h-15.3zM217.7 1032.7h45.8v7h-45.8zM278.7 1060.7h15.3v7h-15.3zM294 1067.7h15.3v7h-15.3zM80.3 1081.7h15.3v7h-15.3zM65.1 1088.7h15.3v7h-15.3zM171.9 1088.7h15.3v7h-15.3zM248.2 1109.7h61.1v7h-61.1zM171.9 1116.7h137.4v7h-137.4zM49.8 1123.7h45.8v7h-45.8zM171.9 1123.7h137.4v7h-137.4z"/>
<path class="g" d="M34.6 1018.7h15.3v7h-15.3zM294 1046.7h15.3v7h-15.3z"/>
<path class="b" d="M187.2 1018.7h15.3v7h-15.3zM34.6 1095.7h15.3v7h-15.3z"/>
<path class="f" d="M202.4 1018.7h15.3v7h-15.3zM49.8 1025.7h15.3v7h-15.3zM110.9 1025.7h30.6v7h-30.6zM34.6 1088.7h15.3v7h-15.3zM278.7 1095.7h15.3v7h-15.3zM171.9 1102.7h15.3v7h-15.3z"/>
<path class="i" d="M171.9 1025.7h15.3v7h-15.3zM80.3 1032.7h15.3v7h-15.3zM95.6 1039.7h15.3v7h-15.3zM294 1039.7h15.3v7h-15.3zM80.3 1067.7h15.3v7h-15.3zM110.9 1095.7h15.3v7h-15.3zM202.4 1095.7h30.6v7h-30.6zM248.2 1102.7h15.3v7h-15.3z"/>
<path class="l" d="M187.2 1025.7h30.6v7h-30.6zM294 1025.7h15.3v7h-15.3zM141.4 1032.7h30.6v7h-30.6zM202.4 1032.7h15.3v7h-15.3zM49.8 1039.7h30.6v7h-30.6zM110.9 1039.7h45.8v7h-45.8zM202.4 1039.7h15.3v7h-15.3zM232.9 1039.7h30.6v7h-30.6zM49.8 1046.7h45.8v7h-45.8zM110.9 1046.7h30.6v7h-30.6zM49.8 1053.7h30.6v7h-30.6zM126.1 1053.7h30.6v7h-30.6zM126.1 1060.7h30.6v7h-30.6zM232.9 1060.7h45.8v7h-45.8zM126.1 1067.7h15.3v7h-15.3zM263.5 1067.7h15.3v7h-15.3zM126.1 1074.7h15.3v7h-15.3zM110.9 1081.7h30.6v7h-30.6zM187.2 1081.7h30.6v7h-30.6zM263.5 1081.7h15.3v7h-15.3zM110.9 1088.7h30.6v7h-30.6zM248.2 1088.7h30.6v7h-30.6z"/>
<path class="m" d="M187.2 1032.7h15.3v7h-15.3zM263.5 1032.7h15.3v7h-15.3zM34.6 1053.7h15.3v7h-15.3zM95.6 1053.7h30.6v7h-30.6zM294 1053.7h15.3v7h-15.3zM34.6 1060.7h15.3v7h-15.3zM110.9 1060.7h15.3v7h-15.3zM278.7 1067.7h15.3v7h-15.3zM278.7 1074.7h15.3v7h-15.3zM65.1 1081.7h15.3v7h-15.3zM95.6 1081.7h15.3v7h-15.3zM141.4 1081.7h30.6v7h-30.6zM278.7 1081.7h15.3v7h-15.3zM141.4 1088.7h30.6v7h-30.6zM187.2 1088.7h30.6v7h-30.6z"/>
<path class="b2" d="M49.8 1095.7h15.3v7h-15.3zM49.8 1102.7h30.6v7h-30.6z"/>
<path d="M34.56 1004.7V1130.7M49.82 1004.7V1130.7M65.08 1004.7V1130.7M80.34 1004.7V1130.7M95.6 1004.7V1130.7M110.86 1004.7V1130.7M126.12 1004.7V1130.7M141.38 1004.7V1130.7M156.64 1004.7V1130.7M171.9 1004.7V1130.7M187.16 1004.7V1130.7M202.42 1004.7V1130.7M217.68 1004.7V1130.7M232.94 1004.7V1130.7M248.2 1004.7V1130.7M263.46 1004.7V1130.7M278.72 1004.7V1130.7M293.98 1004.7V1130.7M309.24 1004.7V1130.7" stroke="#000" stroke-opacity="0.5" stroke-width="0.5" fill="none"/>
<path d="M34.56 1004.7H309.24M34.56 1011.7H309.24M34.56 1018.7H309.24M34.56 1025.7H309.24M34.56 1032.7H309.24M34.56 1039.7H309.24M34.56 1046.7H309.24M34.56 1053.7H309.24M34.56 1060.7H309.24M34.56 1067.7H309.24M34.56 1074.7H309.24M34.56 1081.7H309.24M34.56 1088.7H309.24M34.56 1095.7H309.24M34.56 1102.7H309.24M34.56 1109.7H309.24M34.56 1116.7H309.24M34.56 1123.7H309.24M34.56 1130.7H309.24" stroke="#000" stroke-opacity="0.42" stroke-width="0.5" fill="none"/>
<path d="M19.3 1137.7v-1.8M19.3 997.7v1.8M49.82 1137.7v-1.8M49.82 997.7v1.8M80.34 1137.7v-1.8M80.34 997.7v1.8M110.86 1137.7v-1.8M110.86 997.7v1.8M141.38 1137.7v-1.8M141.38 997.7v1.8M171.9 1137.7v-1.8M171.9 997.7v1.8M202.42 1137.7v-1.8M202.42 997.7v1.8M232.94 1137.7v-1.8M232.94 997.7v1.8M263.46 1137.7v-1.8M263.46 997.7v1.8M293.98 1137.7v-1.8M293.98 997.7v1.8M324.5 1137.7v-1.8M324.5 997.7v1.8M19.3 1137.7h1.8M324.5 1137.7h-1.8M19.3 1102.7h1.8M324.5 1102.7h-1.8M19.3 1067.7h1.8M324.5 1067.7h-1.8M19.3 1032.7h1.8M324.5 1032.7h-1.8M19.3 997.7h1.8M324.5 997.7h-1.8" stroke="#888" stroke-width="0.5" fill="none"/>
<text x="19.3" y="1146.1" font-size="7.3" text-anchor="middle" font-weight="bold" fill="#1a1a1a">0</text>
<text x="49.82" y="1146.1" font-size="7.3" text-anchor="middle" font-weight="bold" fill="#1a1a1a">2</text>
<text x="80.34" y="1146.1" font-size="7.3" text-anchor="middle" font-weight="bold" fill="#1a1a1a">4</text>
<text x="110.86" y="1146.1" font-size="7.3" text-anchor="middle" font-weight="bold" fill="#1a1a1a">6</text>
<text x="141.38" y="1146.1" font-size="7.3" text-anchor="middle" font-weight="bold" fill="#1a1a1a">8</text>
<text x="171.9" y="1146.1" font-size="7.3" text-anchor="middle" font-weight="bold" fill="#1a1a1a">10</text>
<text x="202.42" y="1146.1" font-size="7.3" text-anchor="middle" font-weight="bold" fill="#1a1a1a">12</text>
<text x="232.94" y="1146.1" font-size="7.3" text-anchor="middle" font-weight="bold" fill="#1a1a1a">14</text>
<text x="263.46" y="1146.1" font-size="7.3" text-anchor="middle" font-weight="bold" fill="#1a1a1a">16</text>
<text x="293.98" y="1146.1" font-size="7.3" text-anchor="middle" font-weight="bold" fill="#1a1a1a">18</text>
<text x="324.5" y="1146.1" font-size="7.3" text-anchor="middle" font-weight="bold" fill="#1a1a1a">20</text>
<text x="17.3" y="1139.5" font-size="7.3" text-anchor="end" font-weight="bold" fill="#1a1a1a">0</text>
<text x="17.3" y="1104.5" font-size="7.3" text-anchor="end" font-weight="bold" fill="#1a1a1a">5</text>
<text x="17.3" y="1069.5" font-size="7.3" text-anchor="end" font-weight="bold" fill="#1a1a1a">10</text>
<text x="17.3" y="1034.5" font-size="7.3" text-anchor="end" font-weight="bold" fill="#1a1a1a">15</text>
<text x="17.3" y="999.5" font-size="7.3" text-anchor="end" font-weight="bold" fill="#1a1a1a">20</text>
<text x="171.9" y="1156" font-size="7.3" text-anchor="middle" font-weight="bold" fill="#222">GSCPI</text>
<text x="7" y="1067.7" font-size="7.5" text-anchor="middle" font-weight="bold" fill="#222" transform="rotate(-90 7 1067.7)">Financial</text>
<rect x="331" y="997.7" width="5.8" height="140" fill="url(#jet)"/>
<line x1="335.6" y1="1135.52" x2="336.8" y2="1135.52" stroke="#444" stroke-width="0.4"/>
<text x="338.6" y="1137.7" font-size="6.4" text-anchor="start" font-weight="bold" fill="#3a3a3a">-15</text>
<line x1="335.6" y1="1104.41" x2="336.8" y2="1104.41" stroke="#444" stroke-width="0.4"/>
<text x="338.6" y="1106.59" font-size="6.4" text-anchor="start" font-weight="bold" fill="#3a3a3a">-10</text>
<line x1="335.6" y1="1073.3" x2="336.8" y2="1073.3" stroke="#444" stroke-width="0.4"/>
<text x="338.6" y="1075.48" font-size="6.4" text-anchor="start" font-weight="bold" fill="#3a3a3a">-5</text>
<line x1="335.6" y1="1042.19" x2="336.8" y2="1042.19" stroke="#444" stroke-width="0.4"/>
<text x="338.6" y="1044.36" font-size="6.4" text-anchor="start" font-weight="bold" fill="#3a3a3a">0</text>
<line x1="335.6" y1="1011.08" x2="336.8" y2="1011.08" stroke="#444" stroke-width="0.4"/>
<text x="338.6" y="1013.25" font-size="6.4" text-anchor="start" font-weight="bold" fill="#3a3a3a">5</text>
<rect x="19.3" y="1163" width="305.2" height="140" fill="none" stroke="#c8c8c8" stroke-width="0.8"/>
<path class="k" d="M34.6 1170h15.3v7h-15.3zM65.1 1170h15.3v7h-15.3zM217.7 1170h15.3v7h-15.3zM294 1233h15.3v7h-15.3zM294 1240h15.3v7h-15.3zM65.1 1247h30.6v7h-30.6zM110.9 1247h30.6v7h-30.6zM171.9 1254h15.3v7h-15.3zM217.7 1254h30.6v7h-30.6z"/>
<path class="i" d="M49.8 1170h15.3v7h-15.3zM95.6 1170h30.6v7h-30.6zM263.5 1170h30.6v7h-30.6zM187.2 1177h30.6v7h-30.6zM278.7 1191h15.3v7h-15.3zM34.6 1198h15.3v7h-15.3zM34.6 1205h15.3v7h-15.3zM232.9 1226h15.3v7h-15.3zM263.5 1226h15.3v7h-15.3zM232.9 1233h45.8v7h-45.8zM49.8 1240h45.8v7h-45.8zM110.9 1240h15.3v7h-15.3zM141.4 1240h30.6v7h-30.6zM278.7 1240h15.3v7h-15.3zM202.4 1247h15.3v7h-15.3zM110.9 1261h15.3v7h-15.3zM187.2 1261h15.3v7h-15.3z"/>
<path class="j" d="M80.3 1170h15.3v7h-15.3zM232.9 1170h30.6v7h-30.6zM34.6 1177h15.3v7h-15.3zM34.6 1184h15.3v7h-15.3zM34.6 1191h15.3v7h-15.3zM34.6 1212h15.3v7h-15.3zM34.6 1219h15.3v7h-15.3zM34.6 1226h15.3v7h-15.3zM278.7 1233h15.3v7h-15.3zM34.6 1247h30.6v7h-30.6zM95.6 1247h15.3v7h-15.3zM141.4 1247h61.1v7h-61.1zM187.2 1254h30.6v7h-30.6zM248.2 1254h15.3v7h-15.3zM202.4 1261h30.6v7h-30.6z"/>
<path class="o" d="M126.1 1170h30.6v7h-30.6z"/>
<path class="m" d="M156.6 1170h15.3v7h-15.3zM49.8 1254h15.3v7h-15.3zM156.6 1254h15.3v7h-15.3z"/>
<path class="l" d="M171.9 1170h45.8v7h-45.8zM34.6 1254h15.3v7h-15.3zM110.9 1254h45.8v7h-45.8zM34.6 1261h15.3v7h-15.3zM126.1 1261h45.8v7h-45.8z"/>
<path class="h" d="M294 1170h15.3v7h-15.3zM49.8 1177h30.6v7h-30.6zM156.6 1177h15.3v7h-15.3zM217.7 1177h45.8v7h-45.8zM294 1177h15.3v7h-15.3zM49.8 1184h15.3v7h-15.3zM294 1184h15.3v7h-15.3zM49.8 1191h15.3v7h-15.3zM294 1191h15.3v7h-15.3zM80.3 1198h15.3v7h-15.3zM110.9 1198h45.8v7h-45.8zM187.2 1226h45.8v7h-45.8zM248.2 1226h15.3v7h-15.3zM294 1226h15.3v7h-15.3zM80.3 1233h152.7v7h-152.7zM95.6 1240h15.3v7h-15.3zM126.1 1240h15.3v7h-15.3zM171.9 1240h106.9v7h-106.9zM217.7 1247h15.3v7h-15.3zM248.2 1247h15.3v7h-15.3zM294 1247h15.3v7h-15.3zM278.7 1254h30.6v7h-30.6zM171.9 1261h15.3v7h-15.3zM278.7 1261h30.6v7h-30.6z"/>
<path class="g" d="M80.3 1177h45.8v7h-45.8zM171.9 1177h15.3v7h-15.3zM263.5 1177h30.6v7h-30.6zM65.1 1184h15.3v7h-15.3zM156.6 1184h45.8v7h-45.8zM217.7 1184h45.8v7h-45.8zM278.7 1184h15.3v7h-15.3zM65.1 1191h15.3v7h-15.3zM126.1 1191h76.3v7h-76.3zM217.7 1191h45.8v7h-45.8zM65.1 1198h15.3v7h-15.3zM95.6 1198h15.3v7h-15.3zM156.6 1198h106.9v7h-106.9zM294 1198h15.3v7h-15.3zM65.1 1205h15.3v7h-15.3zM110.9 1205h167.9v7h-167.9zM126.1 1212h45.8v7h-45.8zM248.2 1212h15.3v7h-15.3zM110.9 1219h61.1v7h-61.1zM248.2 1219h15.3v7h-15.3zM80.3 1226h45.8v7h-45.8zM141.4 1226h45.8v7h-45.8zM278.7 1226h15.3v7h-15.3zM49.8 1233h30.6v7h-30.6zM232.9 1247h15.3v7h-15.3zM263.5 1247h30.6v7h-30.6zM263.5 1254h15.3v7h-15.3zM248.2 1261h30.6v7h-30.6zM263.5 1268h45.8v7h-45.8z"/>
<path class="f" d="M126.1 1177h30.6v7h-30.6zM80.3 1184h15.3v7h-15.3zM110.9 1184h15.3v7h-15.3zM141.4 1184h15.3v7h-15.3zM202.4 1184h15.3v7h-15.3zM263.5 1184h15.3v7h-15.3zM80.3 1191h45.8v7h-45.8zM202.4 1191h15.3v7h-15.3zM263.5 1191h15.3v7h-15.3zM263.5 1198h30.6v7h-30.6zM80.3 1205h30.6v7h-30.6zM65.1 1212h30.6v7h-30.6zM110.9 1212h15.3v7h-15.3zM171.9 1212h76.3v7h-76.3zM263.5 1212h15.3v7h-15.3zM49.8 1219h61.1v7h-61.1zM171.9 1219h76.3v7h-76.3zM263.5 1219h15.3v7h-15.3zM49.8 1226h30.6v7h-30.6zM126.1 1226h15.3v7h-15.3zM34.6 1233h15.3v7h-15.3zM34.6 1240h15.3v7h-15.3zM232.9 1261h15.3v7h-15.3zM248.2 1268h15.3v7h-15.3zM232.9 1275h76.3v7h-76.3zM126.1 1282h183.2v7h-183.2zM65.1 1289h244.2v7h-244.2z"/>
<path class="e" d="M95.6 1184h15.3v7h-15.3zM126.1 1184h15.3v7h-15.3zM49.8 1198h15.3v7h-15.3zM49.8 1205h15.3v7h-15.3zM278.7 1205h30.6v7h-30.6zM49.8 1212h15.3v7h-15.3zM95.6 1212h15.3v7h-15.3zM278.7 1212h30.6v7h-30.6zM278.7 1219h30.6v7h-30.6zM217.7 1268h30.6v7h-30.6zM126.1 1275h45.8v7h-45.8zM202.4 1275h30.6v7h-30.6zM80.3 1282h45.8v7h-45.8zM49.8 1289h15.3v7h-15.3z"/>
<path class="n" d="M65.1 1254h45.8v7h-45.8zM49.8 1261h61.1v7h-61.1z"/>
<path class="b2" d="M34.6 1268h30.6v7h-30.6zM156.6 1268h61.1v7h-61.1zM34.6 1275h15.3v7h-15.3zM171.9 1275h30.6v7h-30.6zM34.6 1282h15.3v7h-15.3z"/>
<path class="c" d="M65.1 1268h15.3v7h-15.3zM49.8 1275h76.3v7h-76.3zM49.8 1282h30.6v7h-30.6zM34.6 1289h15.3v7h-15.3z"/>
<path class="a" d="M80.3 1268h76.3v7h-76.3z"/>
<path d="M34.56 1170V1296M49.82 1170V1296M65.08 1170V1296M80.34 1170V1296M95.6 1170V1296M110.86 1170V1296M126.12 1170V1296M141.38 1170V1296M156.64 1170V1296M171.9 1170V1296M187.16 1170V1296M202.42 1170V1296M217.68 1170V1296M232.94 1170V1296M248.2 1170V1296M263.46 1170V1296M278.72 1170V1296M293.98 1170V1296M309.24 1170V1296" stroke="#000" stroke-opacity="0.5" stroke-width="0.5" fill="none"/>
<path d="M34.56 1170H309.24M34.56 1177H309.24M34.56 1184H309.24M34.56 1191H309.24M34.56 1198H309.24M34.56 1205H309.24M34.56 1212H309.24M34.56 1219H309.24M34.56 1226H309.24M34.56 1233H309.24M34.56 1240H309.24M34.56 1247H309.24M34.56 1254H309.24M34.56 1261H309.24M34.56 1268H309.24M34.56 1275H309.24M34.56 1282H309.24M34.56 1289H309.24M34.56 1296H309.24" stroke="#000" stroke-opacity="0.42" stroke-width="0.5" fill="none"/>
<path d="M19.3 1303v-1.8M19.3 1163v1.8M49.82 1303v-1.8M49.82 1163v1.8M80.34 1303v-1.8M80.34 1163v1.8M110.86 1303v-1.8M110.86 1163v1.8M141.38 1303v-1.8M141.38 1163v1.8M171.9 1303v-1.8M171.9 1163v1.8M202.42 1303v-1.8M202.42 1163v1.8M232.94 1303v-1.8M232.94 1163v1.8M263.46 1303v-1.8M263.46 1163v1.8M293.98 1303v-1.8M293.98 1163v1.8M324.5 1303v-1.8M324.5 1163v1.8M19.3 1303h1.8M324.5 1303h-1.8M19.3 1268h1.8M324.5 1268h-1.8M19.3 1233h1.8M324.5 1233h-1.8M19.3 1198h1.8M324.5 1198h-1.8M19.3 1163h1.8M324.5 1163h-1.8" stroke="#888" stroke-width="0.5" fill="none"/>
<text x="19.3" y="1311.4" font-size="7.3" text-anchor="middle" font-weight="bold" fill="#1a1a1a">0</text>
<text x="49.82" y="1311.4" font-size="7.3" text-anchor="middle" font-weight="bold" fill="#1a1a1a">2</text>
<text x="80.34" y="1311.4" font-size="7.3" text-anchor="middle" font-weight="bold" fill="#1a1a1a">4</text>
<text x="110.86" y="1311.4" font-size="7.3" text-anchor="middle" font-weight="bold" fill="#1a1a1a">6</text>
<text x="141.38" y="1311.4" font-size="7.3" text-anchor="middle" font-weight="bold" fill="#1a1a1a">8</text>
<text x="171.9" y="1311.4" font-size="7.3" text-anchor="middle" font-weight="bold" fill="#1a1a1a">10</text>
<text x="202.42" y="1311.4" font-size="7.3" text-anchor="middle" font-weight="bold" fill="#1a1a1a">12</text>
<text x="232.94" y="1311.4" font-size="7.3" text-anchor="middle" font-weight="bold" fill="#1a1a1a">14</text>
<text x="263.46" y="1311.4" font-size="7.3" text-anchor="middle" font-weight="bold" fill="#1a1a1a">16</text>
<text x="293.98" y="1311.4" font-size="7.3" text-anchor="middle" font-weight="bold" fill="#1a1a1a">18</text>
<text x="324.5" y="1311.4" font-size="7.3" text-anchor="middle" font-weight="bold" fill="#1a1a1a">20</text>
<text x="17.3" y="1304.8" font-size="7.3" text-anchor="end" font-weight="bold" fill="#1a1a1a">0</text>
<text x="17.3" y="1269.8" font-size="7.3" text-anchor="end" font-weight="bold" fill="#1a1a1a">5</text>
<text x="17.3" y="1234.8" font-size="7.3" text-anchor="end" font-weight="bold" fill="#1a1a1a">10</text>
<text x="17.3" y="1199.8" font-size="7.3" text-anchor="end" font-weight="bold" fill="#1a1a1a">15</text>
<text x="17.3" y="1164.8" font-size="7.3" text-anchor="end" font-weight="bold" fill="#1a1a1a">20</text>
<text x="171.9" y="1321.3" font-size="7.3" text-anchor="middle" font-weight="bold" fill="#222">GSCPI</text>
<text x="7" y="1233" font-size="7.5" text-anchor="middle" font-weight="bold" fill="#222" transform="rotate(-90 7 1233)">Energy</text>
<rect x="331" y="1163" width="5.8" height="140" fill="url(#jet)"/>
<line x1="335.6" y1="1293.32" x2="336.8" y2="1293.32" stroke="#444" stroke-width="0.4"/>
<text x="338.6" y="1295.49" font-size="6.4" text-anchor="start" font-weight="bold" fill="#3a3a3a">-15</text>
<line x1="335.6" y1="1272.26" x2="336.8" y2="1272.26" stroke="#444" stroke-width="0.4"/>
<text x="338.6" y="1274.44" font-size="6.4" text-anchor="start" font-weight="bold" fill="#3a3a3a">-10</text>
<line x1="335.6" y1="1251.21" x2="336.8" y2="1251.21" stroke="#444" stroke-width="0.4"/>
<text x="338.6" y="1253.39" font-size="6.4" text-anchor="start" font-weight="bold" fill="#3a3a3a">-5</text>
<line x1="335.6" y1="1230.16" x2="336.8" y2="1230.16" stroke="#444" stroke-width="0.4"/>
<text x="338.6" y="1232.33" font-size="6.4" text-anchor="start" font-weight="bold" fill="#3a3a3a">0</text>
<line x1="335.6" y1="1209.11" x2="336.8" y2="1209.11" stroke="#444" stroke-width="0.4"/>
<text x="338.6" y="1211.28" font-size="6.4" text-anchor="start" font-weight="bold" fill="#3a3a3a">5</text>
<line x1="335.6" y1="1188.05" x2="336.8" y2="1188.05" stroke="#444" stroke-width="0.4"/>
<text x="338.6" y="1190.23" font-size="6.4" text-anchor="start" font-weight="bold" fill="#3a3a3a">10</text>
<line x1="335.6" y1="1167" x2="336.8" y2="1167" stroke="#444" stroke-width="0.4"/>
<text x="338.6" y="1169.18" font-size="6.4" text-anchor="start" font-weight="bold" fill="#3a3a3a">15</text>
<rect x="19.3" y="1328.5" width="305.2" height="140" fill="none" stroke="#c8c8c8" stroke-width="0.8"/>
<path class="j" d="M34.6 1335.5h15.3v7h-15.3zM34.6 1342.5h15.3v7h-15.3zM294 1342.5h15.3v7h-15.3zM34.6 1349.5h15.3v7h-15.3zM65.1 1349.5h30.6v7h-30.6zM126.1 1349.5h30.6v7h-30.6zM217.7 1349.5h30.6v7h-30.6zM34.6 1356.5h15.3v7h-15.3zM187.2 1356.5h15.3v7h-15.3zM34.6 1363.5h15.3v7h-15.3zM34.6 1377.5h15.3v7h-15.3zM263.5 1391.5h15.3v7h-15.3zM232.9 1398.5h45.8v7h-45.8zM34.6 1405.5h30.6v7h-30.6zM248.2 1405.5h30.6v7h-30.6zM294 1405.5h15.3v7h-15.3zM95.6 1412.5h61.1v7h-61.1zM248.2 1412.5h15.3v7h-15.3zM278.7 1426.5h15.3v7h-15.3z"/>
<path class="f" d="M49.8 1335.5h15.3v7h-15.3zM263.5 1363.5h30.6v7h-30.6zM263.5 1370.5h30.6v7h-30.6zM263.5 1377.5h30.6v7h-30.6zM49.8 1384.5h45.8v7h-45.8zM49.8 1391.5h45.8v7h-45.8zM34.6 1398.5h15.3v7h-15.3zM65.1 1398.5h15.3v7h-15.3zM110.9 1426.5h45.8v7h-45.8zM156.6 1433.5h137.4v7h-137.4zM171.9 1440.5h137.4v7h-137.4zM171.9 1447.5h137.4v7h-137.4zM141.4 1454.5h167.9v7h-167.9z"/>
<path class="e" d="M65.1 1335.5h15.3v7h-15.3zM294 1363.5h15.3v7h-15.3zM34.6 1384.5h15.3v7h-15.3zM34.6 1391.5h15.3v7h-15.3zM110.9 1433.5h45.8v7h-45.8zM95.6 1440.5h76.3v7h-76.3zM95.6 1447.5h76.3v7h-76.3zM80.3 1454.5h61.1v7h-61.1z"/>
<path class="n" d="M80.3 1335.5h15.3v7h-15.3zM217.7 1335.5h15.3v7h-15.3zM65.1 1412.5h15.3v7h-15.3zM65.1 1419.5h30.6v7h-30.6zM80.3 1426.5h30.6v7h-30.6z"/>
<path class="o" d="M95.6 1335.5h30.6v7h-30.6zM80.3 1342.5h45.8v7h-45.8zM95.6 1419.5h15.3v7h-15.3z"/>
<path class="m" d="M126.1 1335.5h30.6v7h-30.6zM126.1 1342.5h61.1v7h-61.1zM278.7 1391.5h15.3v7h-15.3zM80.3 1412.5h15.3v7h-15.3z"/>
<path class="l" d="M156.6 1335.5h15.3v7h-15.3zM187.2 1335.5h30.6v7h-30.6zM232.9 1335.5h30.6v7h-30.6zM278.7 1335.5h15.3v7h-15.3zM187.2 1342.5h30.6v7h-30.6zM232.9 1342.5h30.6v7h-30.6zM95.6 1349.5h30.6v7h-30.6zM171.9 1349.5h15.3v7h-15.3zM294 1391.5h15.3v7h-15.3zM278.7 1398.5h15.3v7h-15.3zM65.1 1405.5h15.3v7h-15.3zM278.7 1405.5h15.3v7h-15.3zM34.6 1412.5h30.6v7h-30.6zM278.7 1412.5h15.3v7h-15.3zM34.6 1419.5h30.6v7h-30.6zM110.9 1419.5h15.3v7h-15.3zM278.7 1419.5h30.6v7h-30.6zM34.6 1426.5h45.8v7h-45.8zM34.6 1433.5h45.8v7h-45.8z"/>
<path class="k" d="M171.9 1335.5h15.3v7h-15.3zM263.5 1335.5h15.3v7h-15.3zM294 1335.5h15.3v7h-15.3zM65.1 1342.5h15.3v7h-15.3zM217.7 1342.5h15.3v7h-15.3zM263.5 1342.5h30.6v7h-30.6zM156.6 1349.5h15.3v7h-15.3zM187.2 1349.5h30.6v7h-30.6zM248.2 1349.5h45.8v7h-45.8zM34.6 1370.5h15.3v7h-15.3zM294 1384.5h15.3v7h-15.3zM294 1398.5h15.3v7h-15.3zM232.9 1405.5h15.3v7h-15.3zM263.5 1412.5h15.3v7h-15.3zM294 1412.5h15.3v7h-15.3zM263.5 1419.5h15.3v7h-15.3zM294 1426.5h15.3v7h-15.3z"/>
<path class="i" d="M49.8 1342.5h15.3v7h-15.3zM49.8 1349.5h15.3v7h-15.3zM294 1349.5h15.3v7h-15.3zM65.1 1356.5h15.3v7h-15.3zM126.1 1356.5h61.1v7h-61.1zM202.4 1356.5h76.3v7h-76.3zM65.1 1363.5h15.3v7h-15.3zM126.1 1363.5h91.6v7h-91.6zM232.9 1363.5h15.3v7h-15.3zM65.1 1370.5h15.3v7h-15.3zM126.1 1370.5h45.8v7h-45.8zM202.4 1370.5h15.3v7h-15.3zM126.1 1377.5h45.8v7h-45.8zM263.5 1384.5h30.6v7h-30.6zM248.2 1391.5h15.3v7h-15.3zM49.8 1398.5h15.3v7h-15.3zM171.9 1405.5h61.1v7h-61.1zM171.9 1412.5h76.3v7h-76.3zM202.4 1419.5h61.1v7h-61.1zM232.9 1426.5h30.6v7h-30.6z"/>
<path class="h" d="M49.8 1356.5h15.3v7h-15.3zM278.7 1356.5h15.3v7h-15.3zM49.8 1363.5h15.3v7h-15.3zM80.3 1363.5h15.3v7h-15.3zM217.7 1363.5h15.3v7h-15.3zM248.2 1363.5h15.3v7h-15.3zM49.8 1370.5h15.3v7h-15.3zM80.3 1370.5h15.3v7h-15.3zM110.9 1370.5h15.3v7h-15.3zM171.9 1370.5h30.6v7h-30.6zM217.7 1370.5h45.8v7h-45.8zM49.8 1377.5h45.8v7h-45.8zM110.9 1377.5h15.3v7h-15.3zM171.9 1377.5h91.6v7h-91.6zM110.9 1384.5h45.8v7h-45.8zM217.7 1384.5h45.8v7h-45.8zM110.9 1391.5h45.8v7h-45.8zM217.7 1391.5h30.6v7h-30.6zM95.6 1398.5h76.3v7h-76.3zM202.4 1398.5h30.6v7h-30.6zM80.3 1405.5h91.6v7h-91.6zM156.6 1412.5h15.3v7h-15.3zM156.6 1419.5h45.8v7h-45.8zM171.9 1426.5h30.6v7h-30.6zM217.7 1426.5h15.3v7h-15.3zM263.5 1426.5h15.3v7h-15.3zM294 1433.5h15.3v7h-15.3z"/>
<path class="g" d="M80.3 1356.5h45.8v7h-45.8zM294 1356.5h15.3v7h-15.3zM95.6 1363.5h30.6v7h-30.6zM95.6 1370.5h15.3v7h-15.3zM95.6 1377.5h15.3v7h-15.3zM95.6 1384.5h15.3v7h-15.3zM156.6 1384.5h61.1v7h-61.1zM95.6 1391.5h15.3v7h-15.3zM156.6 1391.5h61.1v7h-61.1zM80.3 1398.5h15.3v7h-15.3zM171.9 1398.5h30.6v7h-30.6zM126.1 1419.5h30.6v7h-30.6zM156.6 1426.5h15.3v7h-15.3zM202.4 1426.5h15.3v7h-15.3z"/>
<path class="c" d="M294 1370.5h15.3v7h-15.3zM294 1377.5h15.3v7h-15.3z"/>
<path class="b2" d="M80.3 1433.5h15.3v7h-15.3zM80.3 1440.5h15.3v7h-15.3zM80.3 1447.5h15.3v7h-15.3z"/>
<path class="d" d="M95.6 1433.5h15.3v7h-15.3z"/>
<path class="a" d="M34.6 1440.5h45.8v7h-45.8zM34.6 1447.5h45.8v7h-45.8zM34.6 1454.5h45.8v7h-45.8z"/>
<path d="M34.56 1335.5V1461.5M49.82 1335.5V1461.5M65.08 1335.5V1461.5M80.34 1335.5V1461.5M95.6 1335.5V1461.5M110.86 1335.5V1461.5M126.12 1335.5V1461.5M141.38 1335.5V1461.5M156.64 1335.5V1461.5M171.9 1335.5V1461.5M187.16 1335.5V1461.5M202.42 1335.5V1461.5M217.68 1335.5V1461.5M232.94 1335.5V1461.5M248.2 1335.5V1461.5M263.46 1335.5V1461.5M278.72 1335.5V1461.5M293.98 1335.5V1461.5M309.24 1335.5V1461.5" stroke="#000" stroke-opacity="0.5" stroke-width="0.5" fill="none"/>
<path d="M34.56 1335.5H309.24M34.56 1342.5H309.24M34.56 1349.5H309.24M34.56 1356.5H309.24M34.56 1363.5H309.24M34.56 1370.5H309.24M34.56 1377.5H309.24M34.56 1384.5H309.24M34.56 1391.5H309.24M34.56 1398.5H309.24M34.56 1405.5H309.24M34.56 1412.5H309.24M34.56 1419.5H309.24M34.56 1426.5H309.24M34.56 1433.5H309.24M34.56 1440.5H309.24M34.56 1447.5H309.24M34.56 1454.5H309.24M34.56 1461.5H309.24" stroke="#000" stroke-opacity="0.42" stroke-width="0.5" fill="none"/>
<path d="M19.3 1468.5v-1.8M19.3 1328.5v1.8M49.82 1468.5v-1.8M49.82 1328.5v1.8M80.34 1468.5v-1.8M80.34 1328.5v1.8M110.86 1468.5v-1.8M110.86 1328.5v1.8M141.38 1468.5v-1.8M141.38 1328.5v1.8M171.9 1468.5v-1.8M171.9 1328.5v1.8M202.42 1468.5v-1.8M202.42 1328.5v1.8M232.94 1468.5v-1.8M232.94 1328.5v1.8M263.46 1468.5v-1.8M263.46 1328.5v1.8M293.98 1468.5v-1.8M293.98 1328.5v1.8M324.5 1468.5v-1.8M324.5 1328.5v1.8M19.3 1468.5h1.8M324.5 1468.5h-1.8M19.3 1433.5h1.8M324.5 1433.5h-1.8M19.3 1398.5h1.8M324.5 1398.5h-1.8M19.3 1363.5h1.8M324.5 1363.5h-1.8M19.3 1328.5h1.8M324.5 1328.5h-1.8" stroke="#888" stroke-width="0.5" fill="none"/>
<text x="19.3" y="1476.9" font-size="7.3" text-anchor="middle" font-weight="bold" fill="#1a1a1a">0</text>
<text x="49.82" y="1476.9" font-size="7.3" text-anchor="middle" font-weight="bold" fill="#1a1a1a">2</text>
<text x="80.34" y="1476.9" font-size="7.3" text-anchor="middle" font-weight="bold" fill="#1a1a1a">4</text>
<text x="110.86" y="1476.9" font-size="7.3" text-anchor="middle" font-weight="bold" fill="#1a1a1a">6</text>
<text x="141.38" y="1476.9" font-size="7.3" text-anchor="middle" font-weight="bold" fill="#1a1a1a">8</text>
<text x="171.9" y="1476.9" font-size="7.3" text-anchor="middle" font-weight="bold" fill="#1a1a1a">10</text>
<text x="202.42" y="1476.9" font-size="7.3" text-anchor="middle" font-weight="bold" fill="#1a1a1a">12</text>
<text x="232.94" y="1476.9" font-size="7.3" text-anchor="middle" font-weight="bold" fill="#1a1a1a">14</text>
<text x="263.46" y="1476.9" font-size="7.3" text-anchor="middle" font-weight="bold" fill="#1a1a1a">16</text>
<text x="293.98" y="1476.9" font-size="7.3" text-anchor="middle" font-weight="bold" fill="#1a1a1a">18</text>
<text x="324.5" y="1476.9" font-size="7.3" text-anchor="middle" font-weight="bold" fill="#1a1a1a">20</text>
<text x="17.3" y="1470.3" font-size="7.3" text-anchor="end" font-weight="bold" fill="#1a1a1a">0</text>
<text x="17.3" y="1435.3" font-size="7.3" text-anchor="end" font-weight="bold" fill="#1a1a1a">5</text>
<text x="17.3" y="1400.3" font-size="7.3" text-anchor="end" font-weight="bold" fill="#1a1a1a">10</text>
<text x="17.3" y="1365.3" font-size="7.3" text-anchor="end" font-weight="bold" fill="#1a1a1a">15</text>
<text x="17.3" y="1330.3" font-size="7.3" text-anchor="end" font-weight="bold" fill="#1a1a1a">20</text>
<text x="171.9" y="1486.8" font-size="7.3" text-anchor="middle" font-weight="bold" fill="#222">GSCPI</text>
<text x="7" y="1398.5" font-size="7.5" text-anchor="middle" font-weight="bold" fill="#222" transform="rotate(-90 7 1398.5)">Consumer Staples</text>
<rect x="331" y="1328.5" width="5.8" height="140" fill="url(#jet)"/>
<line x1="335.6" y1="1464.97" x2="336.8" y2="1464.97" stroke="#444" stroke-width="0.4"/>
<text x="338.6" y="1467.15" font-size="6.4" text-anchor="start" font-weight="bold" fill="#3a3a3a">-15</text>
<line x1="335.6" y1="1439.79" x2="336.8" y2="1439.79" stroke="#444" stroke-width="0.4"/>
<text x="338.6" y="1441.97" font-size="6.4" text-anchor="start" font-weight="bold" fill="#3a3a3a">-10</text>
<line x1="335.6" y1="1414.62" x2="336.8" y2="1414.62" stroke="#444" stroke-width="0.4"/>
<text x="338.6" y="1416.79" font-size="6.4" text-anchor="start" font-weight="bold" fill="#3a3a3a">-5</text>
<line x1="335.6" y1="1389.44" x2="336.8" y2="1389.44" stroke="#444" stroke-width="0.4"/>
<text x="338.6" y="1391.61" font-size="6.4" text-anchor="start" font-weight="bold" fill="#3a3a3a">0</text>
<line x1="335.6" y1="1364.26" x2="336.8" y2="1364.26" stroke="#444" stroke-width="0.4"/>
<text x="338.6" y="1366.43" font-size="6.4" text-anchor="start" font-weight="bold" fill="#3a3a3a">5</text>
<line x1="335.6" y1="1339.08" x2="336.8" y2="1339.08" stroke="#444" stroke-width="0.4"/>
<text x="338.6" y="1341.25" font-size="6.4" text-anchor="start" font-weight="bold" fill="#3a3a3a">10</text>
<path d="M508 149L362.5 128.4L362.5 19.74M508 149L658.1 129.2L658.1 20.54M538.02 145.04L392.52 124.44L392.52 15.78M478.9 144.88L629 125.08L629 16.42M568.04 141.08L422.54 120.48L422.54 11.82M449.8 140.76L599.9 120.96L599.9 12.3M598.06 137.12L452.56 116.52L452.56 7.86M420.7 136.64L570.8 116.84L570.8 8.18M628.08 133.16L482.58 112.56L482.58 3.9M391.6 132.52L541.7 112.72L541.7 4.06M658.1 129.2L512.6 108.6L512.6 -0.06M362.5 128.4L512.6 108.6L512.6 -0.06M362.5 122.25L512.6 102.45L658.1 123.05M362.5 105.16L512.6 85.36L658.1 105.96M362.5 88.08L512.6 68.28L658.1 88.88M362.5 70.99L512.6 51.19L658.1 71.79M362.5 53.91L512.6 34.11L658.1 54.71M362.5 36.82L512.6 17.02L658.1 37.62M362.5 19.74L512.6 -0.06L658.1 20.54" stroke="#e4e4e4" stroke-width="0.5" fill="none"/>
<path d="M362.5 128.4L362.5 19.74M362.5 128.4L508 149L658.1 129.2M362.5 122.25h-2M362.5 105.16h-2M362.5 88.08h-2M362.5 70.99h-2M362.5 53.91h-2M362.5 36.82h-2M362.5 19.74h-2M508 149L505.75 149.3M508 149L510.18 149.31M478.9 144.88L476.65 145.18M538.02 145.04L540.2 145.35M449.8 140.76L447.55 141.06M568.04 141.08L570.22 141.39M420.7 136.64L418.45 136.94M598.06 137.12L600.24 137.43M391.6 132.52L389.35 132.82M628.08 133.16L630.26 133.47M362.5 128.4L360.25 128.7M658.1 129.2L660.28 129.51" stroke="#999" stroke-width="0.6" fill="none"/>
<g class="s">
<path d="M512.1 77.5l7.5 -1 -7.2 -1 -7.5 1z" class="e"/>
<path d="M504.6 64.9l7.5 12.6 -7.2 -1 -7.5 -12.6z" class="g"/>
<path d="M519.4 78.5l7.5 -1 -7.3 -1 -7.5 1z" class="e"/>
<path d="M497.1 62.1l7.5 2.8 -7.2 -1 -7.5 -2.9z" class="h"/>
<path d="M511.9 72.7l7.5 5.8 -7.3 -1 -7.5 -12.6z" class="f"/>
<path d="M526.7 86.3l7.5 -1 -7.3 -7.8 -7.5 1z" class="d"/>
<path d="M489.6 63l7.5 -.9 -7.2 -1.1 -7.5 1z" class="h"/>
<path d="M504.4 67l7.5 5.7 -7.3 -7.8 -7.5 -2.8z" class="g"/>
<path d="M519.2 80.5l7.5 5.8 -7.3 -7.8 -7.5 -5.8z" class="e"/>
<path d="M534 67l7.5 -1 -7.3 19.3 -7.5 1z" class="g"/>
<path d="M482.1 64l7.5 -1 -7.2 -1 -7.6 1z" class="h"/>
<path d="M496.9 67.9l7.5 -.9 -7.3 -4.9 -7.5 .9z" class="g"/>
<path d="M511.7 93.1l7.5 -12.6 -7.3 -7.8 -7.5 -5.7z" class="c"/>
<path d="M526.5 81.6l7.5 -14.6 -7.3 19.3 -7.5 -5.8z" class="e"/>
<path d="M541.2 74.8l7.5 -1 -7.2 -7.8 -7.5 1z" class="f"/>
<path d="M474.6 65l7.5 -1 -7.3 -1 -7.5 1z" class="h"/>
<path d="M489.4 82.5l7.5 -14.6 -7.3 -4.9 -7.5 1z" class="e"/>
<path d="M504.2 89.3l7.5 3.8 -7.3 -26.1 -7.5 .9z" class="d"/>
<path d="M519 82.6l7.5 -1 -7.3 -1.1 -7.5 12.6z" class="e"/>
<path d="M533.7 82.6l7.5 -7.8 -7.2 -7.8 -7.5 14.6z" class="e"/>
<path d="M548.5 82.6l7.5 -1 -7.3 -7.8 -7.5 1z" class="e"/>
<path d="M467.1 66l7.5 -1 -7.3 -1 -7.5 1z" class="h"/>
<path d="M481.9 83.5l7.5 -1 -7.3 -18.5 -7.5 1z" class="e"/>
<path d="M496.7 90.3l7.5 -1 -7.3 -21.4 -7.5 14.6z" class="d"/>
<path d="M511.5 83.5l7.5 -.9 -7.3 10.5 -7.5 -3.8z" class="e"/>
<path d="M526.2 76.8l7.5 5.8 -7.2 -1 -7.5 1z" class="f"/>
<path d="M541 83.6l7.5 -1 -7.3 -7.8 -7.5 7.8z" class="e"/>
<path d="M555.8 95.3l7.5 -1 -7.3 -12.7 -7.5 1z" class="c"/>
<path d="M459.6 63.1l7.5 2.9 -7.3 -1 -7.5 -2.9z" class="i"/>
<path d="M474.4 77.7l7.5 5.8 -7.3 -18.5 -7.5 1z" class="f"/>
<path d="M489.2 91.3l7.5 -1 -7.3 -7.8 -7.5 1z" class="d"/>
<path d="M503.9 84.5l7.6 -1 -7.3 5.8 -7.5 1z" class="e"/>
<path d="M518.7 71l7.5 5.8 -7.2 5.8 -7.5 .9z" class="g"/>
<path d="M533.5 77.8l7.5 5.8 -7.3 -1 -7.5 -5.8z" class="f"/>
<path d="M548.3 91.4l7.5 3.9 -7.3 -12.7 -7.5 1z" class="d"/>
<path d="M563.1 106.9l7.5 -1 -7.3 -11.6 -7.5 1z" class="b"/>
<path d="M452.1 64.1l7.5 -1 -7.3 -1 -7.5 1z" class="i"/>
<path d="M466.9 78.7l7.5 -1 -7.3 -11.7 -7.5 -2.9z" class="f"/>
<path d="M481.7 85.5l7.5 5.8 -7.3 -7.8 -7.5 -5.8z" class="e"/>
<path d="M496.4 85.5l7.5 -1 -7.2 5.8 -7.5 1z" class="e"/>
<path d="M511.2 78.8l7.5 -7.8 -7.2 12.5 -7.6 1z" class="f"/>
<path d="M526 85.6l7.5 -7.8 -7.3 -1 -7.5 -5.8z" class="e"/>
<path d="M540.8 85.6l7.5 5.8 -7.3 -7.8 -7.5 -5.8z" class="e"/>
<path d="M555.6 97.3l7.5 9.6 -7.3 -11.6 -7.5 -3.9z" class="c"/>
<path d="M570.3 108l7.5 -1 -7.2 -1.1 -7.5 1z" class="b"/>
<path d="M444.6 65.1l7.5 -1 -7.3 -1 -7.5 1z" class="i"/>
<path d="M459.4 86.4l7.5 -7.7 -7.3 -15.6 -7.5 1z" class="e"/>
<path d="M474.2 86.5l7.5 -1 -7.3 -7.8 -7.5 1z" class="e"/>
<path d="M488.9 86.5l7.5 -1 -7.2 5.8 -7.5 -5.8z" class="e"/>
<path d="M503.7 79.8l7.5 -1 -7.3 5.7 -7.5 1z" class="f"/>
<path d="M518.5 79.8l7.5 5.8 -7.3 -14.6 -7.5 7.8z" class="f"/>
<path d="M533.3 86.6l7.5 -1 -7.3 -7.8 -7.5 7.8z" class="e"/>
<path d="M548.1 98.3l7.5 -1 -7.3 -5.9 -7.5 -5.8z" class="c"/>
<path d="M562.8 98.3l7.5 9.7 -7.2 -1.1 -7.5 -9.6z" class="c"/>
<path d="M577.6 109l7.5 -1 -7.3 -1 -7.5 1z" class="b"/>
<path d="M437.1 66.1l7.5 -1 -7.3 -1 -7.5 -39.3z" class="i"/>
<path d="M451.9 87.4l7.5 -1 -7.3 -22.3 -7.5 1z" class="e"/>
<path d="M466.6 94.2l7.6 -7.7 -7.3 -7.8 -7.5 7.7z" class="d"/>
<path d="M481.4 87.5l7.5 -1 -7.2 -1 -7.5 1z" class="e"/>
<path d="M496.2 80.8l7.5 -1 -7.3 5.7 -7.5 1z" class="f"/>
<path d="M511 80.8l7.5 -1 -7.3 -1 -7.5 1z" class="f"/>
<path d="M525.8 87.6l7.5 -1 -7.3 -1 -7.5 -5.8z" class="e"/>
<path d="M540.6 87.7l7.5 10.6 -7.3 -12.7 -7.5 1z" class="e"/>
<path d="M555.3 99.3l7.5 -1 -7.2 -1 -7.5 1z" class="c"/>
<path d="M570.1 87.7l7.5 21.3 -7.3 -1 -7.5 -9.7z" class="e"/>
<path d="M584.9 61.7l7.5 -1 -7.3 47.3 -7.5 1z" class="j"/>
<path d="M429.6 44.9l7.5 21.2 -7.3 -41.3 -7.5 1z" class="n"/>
<path d="M444.4 88.4l7.5 -1 -7.3 -22.3 -7.5 1z" class="e"/>
<path d="M459.1 88.5l7.5 5.7 -7.2 -7.8 -7.5 1z" class="e"/>
<path d="M473.9 88.5l7.5 -1 -7.2 -1 -7.6 7.7z" class="e"/>
<path d="M488.7 81.8l7.5 -1 -7.3 5.7 -7.5 1z" class="f"/>
<path d="M503.5 81.8l7.5 -1 -7.3 -1 -7.5 1z" class="f"/>
<path d="M518.3 81.8l7.5 5.8 -7.3 -7.8 -7.5 1z" class="f"/>
<path d="M533 88.7l7.6 -1 -7.3 -1.1 -7.5 1z" class="e"/>
<path d="M547.8 88.7l7.5 10.6 -7.2 -1 -7.5 -10.6z" class="e"/>
<path d="M562.6 88.7l7.5 -1 -7.3 10.6 -7.5 1z" class="e"/>
<path d="M577.4 82l7.5 -20.3 -7.3 47.3 -7.5 -21.3z" class="f"/>
<path d="M592.2 62.7l7.5 -1 -7.3 -1 -7.5 1z" class="j"/>
<path d="M422.1 45.9l7.5 -1 -7.3 -19.1 -7.5 1z" class="n"/>
<path d="M436.9 96.2l7.5 -7.8 -7.3 -22.3 -7.5 -21.2z" class="d"/>
<path d="M451.6 89.4l7.5 -.9 -7.2 -1.1 -7.5 1z" class="e"/>
<path d="M466.4 89.5l7.5 -1 -7.3 5.7 -7.5 -5.7z" class="e"/>
<path d="M481.2 82.8l7.5 -1 -7.3 5.7 -7.5 1z" class="f"/>
<path d="M496 76l7.5 5.8 -7.3 -1 -7.5 1z" class="g"/>
<path d="M510.8 82.8l7.5 -1 -7.3 -1 -7.5 1z" class="f"/>
<path d="M525.5 89.6l7.5 -.9 -7.2 -1.1 -7.5 -5.8z" class="e"/>
<path d="M540.3 89.7l7.5 -1 -7.2 -1 -7.6 1z" class="e"/>
<path d="M555.1 83l7.5 5.7 -7.3 10.6 -7.5 -10.6z" class="f"/>
<path d="M569.9 76.2l7.5 5.8 -7.3 5.7 -7.5 1z" class="g"/>
<path d="M584.7 72.4l7.5 -9.7 -7.3 -1 -7.5 20.3z" class="h"/>
<path d="M599.4 72.4l7.5 -1 -7.2 -9.7 -7.5 1z" class="h"/>
<path d="M414.6 28.5l7.5 17.4 -7.3 -19.1 -7.5 1z" class="p"/>
<path d="M429.4 112.6l7.5 -16.4 -7.3 -51.3 -7.5 1z" class="b"/>
<path d="M444.1 90.4l7.5 -1 -7.2 -1 -7.5 7.8z" class="e"/>
<path d="M458.9 90.5l7.5 -1 -7.3 -1 -7.5 .9z" class="e"/>
<path d="M473.7 83.7l7.5 -.9 -7.3 5.7 -7.5 1z" class="f"/>
<path d="M488.5 77l7.5 -1 -7.3 5.8 -7.5 1z" class="g"/>
<path d="M503.3 83.8l7.5 -1 -7.3 -1 -7.5 -5.8z" class="f"/>
<path d="M518 90.6l7.5 -1 -7.2 -7.8 -7.5 1z" class="e"/>
<path d="M532.8 90.7l7.5 -1 -7.3 -1 -7.5 .9z" class="e"/>
<path d="M547.6 90.7l7.5 -7.7 -7.3 5.7 -7.5 1z" class="e"/>
<path d="M562.4 77.2l7.5 -1 -7.3 12.5 -7.5 -5.7z" class="g"/>
<path d="M577.2 84l7.5 -11.6 -7.3 9.6 -7.5 -5.8z" class="f"/>
<path d="M591.9 84.1l7.5 -11.7 -7.2 -9.7 -7.5 9.7z" class="f"/>
<path d="M606.7 90.9l7.5 -28 -7.3 8.5 -7.5 1z" class="e"/>
<path d="M407.1 29.5l7.5 -1 -7.3 -.7 -7.5 1z" class="p"/>
<path d="M421.8 113.6l7.6 -1 -7.3 -66.7 -7.5 -17.4z" class="b"/>
<path d="M436.6 113.7l7.5 -23.3 -7.2 5.8 -7.5 16.4z" class="b"/>
<path d="M451.4 84.7l7.5 5.8 -7.3 -1.1 -7.5 1z" class="f"/>
<path d="M466.2 84.7l7.5 -1 -7.3 5.8 -7.5 1z" class="f"/>
<path d="M481 78l7.5 -1 -7.3 5.8 -7.5 .9z" class="g"/>
<path d="M495.7 84.8l7.6 -1 -7.3 -7.8 -7.5 1z" class="f"/>
<path d="M510.5 91.6l7.5 -1 -7.2 -7.8 -7.5 1z" class="e"/>
<path d="M525.3 91.7l7.5 -1 -7.3 -1.1 -7.5 1z" class="e"/>
<path d="M540.1 91.7l7.5 -1 -7.3 -1 -7.5 1z" class="e"/>
<path d="M554.9 85l7.5 -7.8 -7.3 5.8 -7.5 7.7z" class="f"/>
<path d="M569.7 74.4l7.5 9.6 -7.3 -7.8 -7.5 1z" class="h"/>
<path d="M584.4 85.1l7.5 -1 -7.2 -11.7 -7.5 11.6z" class="f"/>
<path d="M599.2 91.9l7.5 -1 -7.3 -18.5 -7.5 11.7z" class="e"/>
<path d="M614 91.9l7.5 -1 -7.3 -28 -7.5 28z" class="e"/>
<path d="M399.6 30.4l7.5 -.9 -7.3 -.7 -7.5 1z" class="p"/>
<path d="M414.3 92.4l7.5 21.2 -7.2 -85.1 -7.5 1z" class="e"/>
<path d="M429.1 114.7l7.5 -1 -7.2 -1.1 -7.6 1z" class="b"/>
<path d="M443.9 85.7l7.5 -1 -7.3 5.7 -7.5 23.3z" class="f"/>
<path d="M458.7 85.7l7.5 -1 -7.3 5.8 -7.5 -5.8z" class="f"/>
<path d="M473.5 79l7.5 -1 -7.3 5.7 -7.5 1z" class="g"/>
<path d="M488.2 79l7.5 5.8 -7.2 -7.8 -7.5 1z" class="g"/>
<path d="M503 92.6l7.5 -1 -7.2 -7.8 -7.6 1z" class="e"/>
<path d="M517.8 92.7l7.5 -1 -7.3 -1.1 -7.5 1z" class="e"/>
<path d="M532.6 92.7l7.5 -1 -7.3 -1 -7.5 1z" class="e"/>
<path d="M547.4 92.7l7.5 -7.7 -7.3 5.7 -7.5 1z" class="e"/>
<path d="M562.1 79.2l7.6 -4.8 -7.3 2.8 -7.5 7.8z" class="g"/>
<path d="M576.9 92.8l7.5 -7.7 -7.2 -1.1 -7.5 -9.6z" class="e"/>
<path d="M591.7 92.9l7.5 -1 -7.3 -7.8 -7.5 1z" class="e"/>
<path d="M606.5 92.9l7.5 -1 -7.3 -1 -7.5 1z" class="e"/>
<path d="M621.3 66.8l7.5 -1 -7.3 25.1 -7.5 1z" class="j"/>
<path d="M392.1 31.4l7.5 -1 -7.3 -.6 -7.5 .9z" class="p"/>
<path d="M406.8 72.1l7.5 20.3 -7.2 -62.9 -7.5 .9z" class="i"/>
<path d="M421.6 105l7.5 9.7 -7.3 -1.1 -7.5 -21.2z" class="c"/>
<path d="M436.4 86.7l7.5 -1 -7.3 28 -7.5 1z" class="f"/>
<path d="M451.2 86.7l7.5 -1 -7.3 -1 -7.5 1z" class="f"/>
<path d="M466 86.8l7.5 -7.8 -7.3 5.7 -7.5 1z" class="f"/>
<path d="M480.7 86.8l7.5 -7.8 -7.2 -1 -7.5 1z" class="f"/>
<path d="M495.5 86.8l7.5 5.8 -7.3 -7.8 -7.5 -5.8z" class="f"/>
<path d="M510.3 93.6l7.5 -.9 -7.3 -1.1 -7.5 1z" class="e"/>
<path d="M525.1 93.7l7.5 -1 -7.3 -1 -7.5 1z" class="e"/>
<path d="M539.9 93.7l7.5 -1 -7.3 -1 -7.5 1z" class="e"/>
<path d="M554.6 87l7.5 -7.8 -7.2 5.8 -7.5 7.7z" class="f"/>
<path d="M569.4 80.3l7.5 12.5 -7.2 -18.4 -7.6 4.8z" class="g"/>
<path d="M584.2 93.8l7.5 -.9 -7.3 -7.8 -7.5 7.7z" class="e"/>
<path d="M599 93.9l7.5 -1 -7.3 -1 -7.5 1z" class="e"/>
<path d="M613.8 76.5l7.5 -9.7 -7.3 25.1 -7.5 1z" class="h"/>
<path d="M628.5 67.9l7.5 -1 -7.2 -1.1 -7.5 1z" class="j"/>
<path d="M384.6 32.4l7.5 -1 -7.3 -.7 -7.5 1z" class="p"/>
<path d="M399.3 73.1l7.5 -1 -7.2 -41.7 -7.5 1z" class="i"/>
<path d="M414.1 94.4l7.5 10.6 -7.3 -12.6 -7.5 -20.3z" class="e"/>
<path d="M428.9 101.2l7.5 -14.5 -7.3 28 -7.5 -9.7z" class="d"/>
<path d="M443.7 87.7l7.5 -1 -7.3 -1 -7.5 1z" class="f"/>
<path d="M458.5 81l7.5 5.8 -7.3 -1.1 -7.5 1z" class="g"/>
<path d="M473.2 87.8l7.5 -1 -7.2 -7.8 -7.5 7.8z" class="f"/>
<path d="M488 87.8l7.5 -1 -7.3 -7.8 -7.5 7.8z" class="f"/>
<path d="M502.8 87.9l7.5 5.7 -7.3 -1 -7.5 -5.8z" class="f"/>
<path d="M517.6 94.7l7.5 -1 -7.3 -1 -7.5 .9z" class="e"/>
<path d="M532.4 94.7l7.5 -1 -7.3 -1 -7.5 1z" class="e"/>
<path d="M547.1 94.8l7.5 -7.8 -7.2 5.7 -7.5 1z" class="e"/>
<path d="M561.9 81.3l7.5 -1 -7.3 -1.1 -7.5 7.8z" class="g"/>
<path d="M576.7 88.1l7.5 5.7 -7.3 -1 -7.5 -12.5z" class="f"/>
<path d="M591.5 94.9l7.5 -1 -7.3 -1 -7.5 .9z" class="e"/>
<path d="M606.3 77.5l7.5 -1 -7.3 16.4 -7.5 1z" class="h"/>
<path d="M621 77.5l7.5 -9.6 -7.2 -1.1 -7.5 9.7z" class="h"/>
<path d="M635.8 73.7l7.5 -1 -7.3 -5.8 -7.5 1z" class="i"/>
<path d="M391.8 74.1l7.5 -1 -7.2 -41.7 -7.5 1z" class="i"/>
<path d="M406.6 74.1l7.5 20.3 -7.3 -22.3 -7.5 1z" class="i"/>
<path d="M421.4 95.4l7.5 5.8 -7.3 3.8 -7.5 -10.6z" class="e"/>
<path d="M436.2 78.1l7.5 9.6 -7.3 -1 -7.5 14.5z" class="h"/>
<path d="M450.9 78.1l7.6 2.9 -7.3 5.7 -7.5 1z" class="h"/>
<path d="M465.7 82l7.5 5.8 -7.2 -1 -7.5 -5.8z" class="g"/>
<path d="M480.5 95.6l7.5 -7.8 -7.3 -1 -7.5 1z" class="e"/>
<path d="M495.3 88.9l7.5 -1 -7.3 -1.1 -7.5 1z" class="f"/>
<path d="M510.1 88.9l7.5 5.8 -7.3 -1.1 -7.5 -5.7z" class="f"/>
<path d="M524.8 95.7l7.6 -1 -7.3 -1 -7.5 1z" class="e"/>
<path d="M539.6 95.7l7.5 -.9 -7.2 -1.1 -7.5 1z" class="e"/>
<path d="M554.4 89l7.5 -7.7 -7.3 5.7 -7.5 7.8z" class="f"/>
<path d="M569.2 82.3l7.5 5.8 -7.3 -7.8 -7.5 1z" class="g"/>
<path d="M584 95.9l7.5 -1 -7.3 -1.1 -7.5 -5.7z" class="e"/>
<path d="M598.8 89.1l7.5 -11.6 -7.3 16.4 -7.5 1z" class="f"/>
<path d="M613.5 78.5l7.5 -1 -7.2 -1 -7.5 1z" class="h"/>
<path d="M628.3 78.6l7.5 -4.9 -7.3 -5.8 -7.5 9.6z" class="h"/>
<path d="M399.1 75.1l7.5 -1 -7.3 -1 -7.5 1z" class="i"/>
<path d="M413.9 103.2l7.5 -7.8 -7.3 -1 -7.5 -20.3z" class="d"/>
<path d="M428.7 96.5l7.5 -18.4 -7.3 23.1 -7.5 -5.8z" class="e"/>
<path d="M443.4 83l7.5 -4.9 -7.2 9.6 -7.5 -9.6z" class="g"/>
<path d="M458.2 89.8l7.5 -7.8 -7.2 -1 -7.6 -2.9z" class="f"/>
<path d="M473 96.6l7.5 -1 -7.3 -7.8 -7.5 -5.8z" class="e"/>
<path d="M487.8 96.6l7.5 -7.7 -7.3 -1.1 -7.5 7.8z" class="e"/>
<path d="M502.6 96.7l7.5 -7.8 -7.3 -1 -7.5 1z" class="e"/>
<path d="M517.3 89.9l7.5 5.8 -7.2 -1 -7.5 -5.8z" class="f"/>
<path d="M532.1 96.7l7.5 -1 -7.2 -1 -7.6 1z" class="e"/>
<path d="M546.9 83.2l7.5 5.8 -7.3 5.8 -7.5 .9z" class="g"/>
<path d="M561.7 75.5l7.5 6.8 -7.3 -1 -7.5 7.7z" class="i"/>
<path d="M576.5 96.9l7.5 -1 -7.3 -7.8 -7.5 -5.8z" class="e"/>
<path d="M591.2 96.9l7.6 -7.8 -7.3 5.8 -7.5 1z" class="e"/>
<path d="M606 79.5l7.5 -1 -7.2 -1 -7.5 11.6z" class="h"/>
<path d="M620.8 79.6l7.5 -1 -7.3 -1.1 -7.5 1z" class="h"/>
<path d="M406.4 90.6l7.5 12.6 -7.3 -29.1 -7.5 1z" class="f"/>
<path d="M421.2 104.2l7.5 -7.7 -7.3 -1.1 -7.5 7.8z" class="d"/>
<path d="M435.9 97.5l7.5 -14.5 -7.2 -4.9 -7.5 18.4z" class="e"/>
<path d="M450.7 84l7.5 5.8 -7.3 -11.7 -7.5 4.9z" class="g"/>
<path d="M465.5 97.6l7.5 -1 -7.3 -14.6 -7.5 7.8z" class="e"/>
<path d="M480.3 97.6l7.5 -1 -7.3 -1 -7.5 1z" class="e"/>
<path d="M495.1 97.6l7.5 -.9 -7.3 -7.8 -7.5 7.7z" class="e"/>
<path d="M509.8 90.9l7.5 -1 -7.2 -1 -7.5 7.8z" class="f"/>
<path d="M524.6 91l7.5 5.7 -7.3 -1 -7.5 -5.8z" class="f"/>
<path d="M539.4 91l7.5 -7.8 -7.3 12.5 -7.5 1z" class="f"/>
<path d="M554.2 80.4l7.5 -4.9 -7.3 13.5 -7.5 -5.8z" class="h"/>
<path d="M569 80.4l7.5 16.5 -7.3 -14.6 -7.5 -6.8z" class="h"/>
<path d="M583.7 97.9l7.5 -1 -7.2 -1 -7.5 1z" class="e"/>
<path d="M598.5 80.5l7.5 -1 -7.2 9.6 -7.6 7.8z" class="h"/>
<path d="M613.3 76.7l7.5 2.9 -7.3 -1.1 -7.5 1z" class="i"/>
<path d="M413.7 91.7l7.5 12.5 -7.3 -1 -7.5 -12.6z" class="f"/>
<path d="M428.4 98.5l7.5 -1 -7.2 -1 -7.5 7.7z" class="e"/>
<path d="M443.2 98.5l7.5 -14.5 -7.3 -1 -7.5 14.5z" class="e"/>
<path d="M458 98.6l7.5 -1 -7.3 -7.8 -7.5 -5.8z" class="e"/>
<path d="M472.8 98.6l7.5 -1 -7.3 -1 -7.5 1z" class="e"/>
<path d="M487.6 98.6l7.5 -1 -7.3 -1 -7.5 1z" class="e"/>
<path d="M502.3 98.7l7.5 -7.8 -7.2 5.8 -7.5 .9z" class="e"/>
<path d="M517.1 91.9l7.5 -.9 -7.3 -1.1 -7.5 1z" class="f"/>
<path d="M531.9 85.2l7.5 5.8 -7.3 5.7 -7.5 -5.7z" class="g"/>
<path d="M546.7 81.4l7.5 -1 -7.3 2.8 -7.5 7.8z" class="h"/>
<path d="M561.5 81.4l7.5 -1 -7.3 -4.9 -7.5 4.9z" class="h"/>
<path d="M576.2 98.9l7.5 -1 -7.2 -1 -7.5 -16.5z" class="e"/>
<path d="M591 92.1l7.5 -11.6 -7.3 16.4 -7.5 1z" class="f"/>
<path d="M605.8 77.7l7.5 -1 -7.3 2.8 -7.5 1z" class="i"/>
<path d="M420.9 85.9l7.5 12.6 -7.2 5.7 -7.5 -12.5z" class="g"/>
<path d="M435.7 99.5l7.5 -1 -7.3 -1 -7.5 1z" class="e"/>
<path d="M450.5 99.5l7.5 -.9 -7.3 -14.6 -7.5 14.5z" class="e"/>
<path d="M465.3 106.4l7.5 -7.8 -7.3 -1 -7.5 1z" class="d"/>
<path d="M480 99.6l7.6 -1 -7.3 -1 -7.5 1z" class="e"/>
<path d="M494.8 99.7l7.5 -1 -7.2 -1.1 -7.5 1z" class="e"/>
<path d="M509.6 92.9l7.5 -1 -7.3 -1 -7.5 7.8z" class="f"/>
<path d="M524.4 93l7.5 -7.8 -7.3 5.8 -7.5 .9z" class="f"/>
<path d="M539.2 82.4l7.5 -1 -7.3 9.6 -7.5 -5.8z" class="h"/>
<path d="M553.9 78.6l7.6 2.8 -7.3 -1 -7.5 1z" class="i"/>
<path d="M568.7 106.6l7.5 -7.7 -7.2 -18.5 -7.5 1z" class="d"/>
<path d="M583.5 111.5l7.5 -19.4 -7.3 5.8 -7.5 1z" class="c"/>
<path d="M598.3 82.5l7.5 -4.8 -7.3 2.8 -7.5 11.6z" class="h"/>
<path d="M428.2 87l7.5 12.5 -7.3 -1 -7.5 -12.6z" class="g"/>
<path d="M443 100.5l7.5 -1 -7.3 -1 -7.5 1z" class="e"/>
<path d="M457.8 100.6l7.5 5.8 -7.3 -7.8 -7.5 .9z" class="e"/>
<path d="M472.5 107.4l7.5 -7.8 -7.2 -1 -7.5 7.8z" class="d"/>
<path d="M487.3 100.7l7.5 -1 -7.2 -1.1 -7.6 1z" class="e"/>
<path d="M502.1 93.9l7.5 -1 -7.3 5.8 -7.5 1z" class="f"/>
<path d="M516.9 94l7.5 -1 -7.3 -1.1 -7.5 1z" class="f"/>
<path d="M531.7 87.2l7.5 -4.8 -7.3 2.8 -7.5 7.8z" class="g"/>
<path d="M546.4 83.4l7.5 -4.8 -7.2 2.8 -7.5 1z" class="h"/>
<path d="M561.2 107.6l7.5 -1 -7.2 -25.2 -7.6 -2.8z" class="d"/>
<path d="M576 107.7l7.5 3.8 -7.3 -12.6 -7.5 7.7z" class="d"/>
<path d="M590.8 83.5l7.5 -1 -7.3 9.6 -7.5 19.4z" class="h"/>
<path d="M435.5 88l7.5 12.5 -7.3 -1 -7.5 -12.5z" class="g"/>
<path d="M450.3 101.6l7.5 -1 -7.3 -1.1 -7.5 1z" class="e"/>
<path d="M465 101.6l7.5 5.8 -7.2 -1 -7.5 -5.8z" class="e"/>
<path d="M479.8 108.4l7.5 -7.7 -7.3 -1.1 -7.5 7.8z" class="d"/>
<path d="M494.6 101.7l7.5 -7.8 -7.3 5.8 -7.5 1z" class="e"/>
<path d="M509.4 95l7.5 -1 -7.3 -1.1 -7.5 1z" class="f"/>
<path d="M524.2 95l7.5 -7.8 -7.3 5.8 -7.5 1z" class="f"/>
<path d="M538.9 84.4l7.5 -1 -7.2 -1 -7.5 4.8z" class="h"/>
<path d="M553.7 88.3l7.5 19.3 -7.3 -29 -7.5 4.8z" class="g"/>
<path d="M568.5 108.7l7.5 -1 -7.3 -1.1 -7.5 1z" class="d"/>
<path d="M583.3 108.7l7.5 -25.2 -7.3 28 -7.5 -3.8z" class="d"/>
<path d="M442.8 85.1l7.5 16.5 -7.3 -1.1 -7.5 -12.5z" class="h"/>
<path d="M457.5 102.6l7.5 -1 -7.2 -1 -7.5 1z" class="e"/>
<path d="M472.3 102.6l7.5 5.8 -7.3 -1 -7.5 -5.8z" class="e"/>
<path d="M487.1 102.7l7.5 -1 -7.3 -1 -7.5 7.7z" class="e"/>
<path d="M501.9 102.7l7.5 -7.7 -7.3 -1.1 -7.5 7.8z" class="e"/>
<path d="M516.7 96l7.5 -1 -7.3 -1 -7.5 1z" class="f"/>
<path d="M531.4 85.4l7.5 -1 -7.2 2.8 -7.5 7.8z" class="h"/>
<path d="M546.2 81.6l7.5 6.7 -7.3 -4.9 -7.5 1z" class="i"/>
<path d="M561 114.5l7.5 -5.8 -7.3 -1.1 -7.5 -19.3z" class="c"/>
<path d="M575.8 109.7l7.5 -1 -7.3 -1 -7.5 1z" class="d"/>
<path d="M450 90l7.5 12.6 -7.2 -1 -7.5 -16.5z" class="g"/>
<path d="M464.8 110.4l7.5 -7.8 -7.3 -1 -7.5 1z" class="d"/>
<path d="M479.6 103.7l7.5 -1 -7.3 5.7 -7.5 -5.8z" class="e"/>
<path d="M494.4 103.7l7.5 -1 -7.3 -1 -7.5 1z" class="e"/>
<path d="M509.1 103.7l7.6 -7.7 -7.3 -1 -7.5 7.7z" class="e"/>
<path d="M523.9 82.5l7.5 2.9 -7.2 9.6 -7.5 1z" class="i"/>
<path d="M538.7 71.9l7.5 9.7 -7.3 2.8 -7.5 1z" class="k"/>
<path d="M553.5 115.5l7.5 -1 -7.3 -26.2 -7.5 -6.7z" class="c"/>
<path d="M568.3 115.5l7.5 -5.8 -7.3 -1 -7.5 5.8z" class="c"/>
<path d="M457.3 104.6l7.5 5.8 -7.3 -7.8 -7.5 -12.6z" class="e"/>
<path d="M472.1 111.4l7.5 -7.7 -7.3 -1.1 -7.5 7.8z" class="d"/>
<path d="M486.9 104.7l7.5 -1 -7.3 -1 -7.5 1z" class="e"/>
<path d="M501.6 87.3l7.5 16.4 -7.2 -1 -7.5 1z" class="h"/>
<path d="M516.4 83.5l7.5 -1 -7.2 13.5 -7.6 7.7z" class="i"/>
<path d="M531.2 78.7l7.5 -6.8 -7.3 13.5 -7.5 -2.9z" class="j"/>
<path d="M546 72.9l7.5 42.6 -7.3 -33.9 -7.5 -9.7z" class="k"/>
<path d="M560.8 116.5l7.5 -1 -7.3 -1 -7.5 1z" class="c"/>
<path d="M464.6 127.9l7.5 -16.5 -7.3 -1 -7.5 -5.8z" class="b"/>
<path d="M479.4 105.7l7.5 -1 -7.3 -1 -7.5 7.7z" class="e"/>
<path d="M494.1 88.3l7.5 -1 -7.2 16.4 -7.5 1z" class="h"/>
<path d="M508.9 88.4l7.5 -4.9 -7.3 20.2 -7.5 -16.4z" class="h"/>
<path d="M523.7 84.5l7.5 -5.8 -7.3 3.8 -7.5 1z" class="i"/>
<path d="M538.5 84.6l7.5 -11.7 -7.3 -1 -7.5 6.8z" class="i"/>
<path d="M553.3 140.7l7.5 -24.2 -7.3 -1 -7.5 -42.6z" class="a"/>
<path d="M471.9 106.7l7.5 -1 -7.3 5.7 -7.5 16.5z" class="e"/>
<path d="M486.6 99.9l7.5 -11.6 -7.2 16.4 -7.5 1z" class="f"/>
<path d="M501.4 89.3l7.5 -.9 -7.3 -1.1 -7.5 1z" class="h"/>
<path d="M516.2 85.5l7.5 -1 -7.3 -1 -7.5 4.9z" class="i"/>
<path d="M531 85.6l7.5 -1 -7.3 -5.9 -7.5 5.8z" class="i"/>
<path d="M545.8 85.6l7.5 55.1 -7.3 -67.8 -7.5 11.7z" class="i"/>
<path d="M479.1 90.3l7.5 9.6 -7.2 5.8 -7.5 1z" class="h"/>
<path d="M493.9 75.8l7.5 13.5 -7.3 -1 -7.5 11.6z" class="k"/>
<path d="M508.7 90.4l7.5 -4.9 -7.3 2.9 -7.5 .9z" class="h"/>
<path d="M523.5 86.6l7.5 -1 -7.3 -1.1 -7.5 1z" class="i"/>
<path d="M538.2 86.6l7.6 -1 -7.3 -1 -7.5 1z" class="i"/>
<path d="M486.4 91.3l7.5 -15.5 -7.3 24.1 -7.5 -9.6z" class="h"/>
<path d="M501.2 108.8l7.5 -18.4 -7.3 -1.1 -7.5 -13.5z" class="e"/>
<path d="M516 91.4l7.5 -4.8 -7.3 -1.1 -7.5 4.9z" class="h"/>
<path d="M530.7 87.6l7.5 -1 -7.2 -1 -7.5 1z" class="i"/>
<path d="M493.7 109.8l7.5 -1 -7.3 -33 -7.5 15.5z" class="e"/>
<path d="M508.5 109.8l7.5 -18.4 -7.3 -1 -7.5 18.4z" class="e"/>
<path d="M523.2 109.8l7.5 -22.2 -7.2 -1 -7.5 4.8z" class="e"/>
<path d="M501 110.8l7.5 -1 -7.3 -1 -7.5 1z" class="e"/>
<path d="M515.7 110.8l7.5 -1 -7.2 -18.4 -7.5 18.4z" class="e"/>
<path d="M508.2 111.8l7.5 -1 -7.2 -1 -7.5 1z" class="e"/>
</g>
<text x="357.5" y="124.65" font-size="7.0" text-anchor="end" font-weight="bold" fill="#222">-10</text>
<text x="357.5" y="107.56" font-size="7.0" text-anchor="end" font-weight="bold" fill="#222">-5</text>
<text x="357.5" y="90.48" font-size="7.0" text-anchor="end" font-weight="bold" fill="#222">0</text>
<text x="357.5" y="73.39" font-size="7.0" text-anchor="end" font-weight="bold" fill="#222">5</text>
<text x="357.5" y="56.31" font-size="7.0" text-anchor="end" font-weight="bold" fill="#222">10</text>
<text x="357.5" y="39.22" font-size="7.0" text-anchor="end" font-weight="bold" fill="#222">15</text>
<text x="357.5" y="22.14" font-size="7.0" text-anchor="end" font-weight="bold" fill="#222">20</text>
<text x="502.6" y="156.4" font-size="7.0" text-anchor="end" font-weight="bold" fill="#222">0</text>
<text x="513.4" y="156.4" font-size="7.0" text-anchor="start" font-weight="bold" fill="#222">0</text>
<text x="473.5" y="152.28" font-size="7.0" text-anchor="end" font-weight="bold" fill="#222">0.2</text>
<text x="543.42" y="152.44" font-size="7.0" text-anchor="start" font-weight="bold" fill="#222">0.2</text>
<text x="444.4" y="148.16" font-size="7.0" text-anchor="end" font-weight="bold" fill="#222">0.4</text>
<text x="573.44" y="148.48" font-size="7.0" text-anchor="start" font-weight="bold" fill="#222">0.4</text>
<text x="415.3" y="144.04" font-size="7.0" text-anchor="end" font-weight="bold" fill="#222">0.6</text>
<text x="603.46" y="144.52" font-size="7.0" text-anchor="start" font-weight="bold" fill="#222">0.6</text>
<text x="386.2" y="139.92" font-size="7.0" text-anchor="end" font-weight="bold" fill="#222">0.8</text>
<text x="633.48" y="140.56" font-size="7.0" text-anchor="start" font-weight="bold" fill="#222">0.8</text>
<text x="357.1" y="135.8" font-size="7.0" text-anchor="end" font-weight="bold" fill="#222">1</text>
<text x="663.5" y="136.6" font-size="7.0" text-anchor="start" font-weight="bold" fill="#222">1</text>
<text x="438.3" y="163.5" font-size="7.5" text-anchor="middle" font-weight="bold" fill="#222">Utilities</text>
<text x="575.9" y="163.5" font-size="7.3" text-anchor="middle" font-weight="bold" fill="#222">GSCPI</text>
<rect x="667.8" y="1" width="5.8" height="147.8" fill="url(#jet)"/>
<line x1="672.4" y1="139.92" x2="673.6" y2="139.92" stroke="#444" stroke-width="0.4"/>
<text x="675.5" y="142.1" font-size="6.4" text-anchor="start" font-weight="bold" fill="#3a3a3a">-10</text>
<line x1="672.4" y1="113.81" x2="673.6" y2="113.81" stroke="#444" stroke-width="0.4"/>
<text x="675.5" y="115.98" font-size="6.4" text-anchor="start" font-weight="bold" fill="#3a3a3a">-5</text>
<line x1="672.4" y1="87.7" x2="673.6" y2="87.7" stroke="#444" stroke-width="0.4"/>
<text x="675.5" y="89.87" font-size="6.4" text-anchor="start" font-weight="bold" fill="#3a3a3a">0</text>
<line x1="672.4" y1="61.58" x2="673.6" y2="61.58" stroke="#444" stroke-width="0.4"/>
<text x="675.5" y="63.76" font-size="6.4" text-anchor="start" font-weight="bold" fill="#3a3a3a">5</text>
<line x1="672.4" y1="35.47" x2="673.6" y2="35.47" stroke="#444" stroke-width="0.4"/>
<text x="675.5" y="37.65" font-size="6.4" text-anchor="start" font-weight="bold" fill="#3a3a3a">10</text>
<line x1="672.4" y1="9.36" x2="673.6" y2="9.36" stroke="#444" stroke-width="0.4"/>
<text x="675.5" y="11.53" font-size="6.4" text-anchor="start" font-weight="bold" fill="#3a3a3a">15</text>
<path d="M490.5 315.8L361.4 277.5L361.4 193.85M490.5 315.8L658.5 286.8L658.5 203.15M524.1 310L395 271.7L395 188.05M464.68 308.14L632.68 279.14L632.68 195.49M557.7 304.2L428.6 265.9L428.6 182.25M438.86 300.48L606.86 271.48L606.86 187.83M591.3 298.4L462.2 260.1L462.2 176.45M413.04 292.82L581.04 263.82L581.04 180.17M624.9 292.6L495.8 254.3L495.8 170.65M387.22 285.16L555.22 256.16L555.22 172.51M658.5 286.8L529.4 248.5L529.4 164.85M361.4 277.5L529.4 248.5L529.4 164.85M361.4 276.95L529.4 247.95L658.5 286.25M361.4 249.25L529.4 220.25L658.5 258.55M361.4 221.55L529.4 192.55L658.5 230.85M361.4 193.85L529.4 164.85L658.5 203.15" stroke="#e4e4e4" stroke-width="0.5" fill="none"/>
<path d="M361.4 277.5L361.4 193.85M361.4 277.5L490.5 315.8L658.5 286.8M361.4 276.95h-2M361.4 249.25h-2M361.4 221.55h-2M361.4 193.85h-2M490.5 315.8L487.98 316.24M490.5 315.8L492.44 316.37M464.68 308.14L462.16 308.57M524.1 310L526.04 310.57M438.86 300.48L436.34 300.92M557.7 304.2L559.64 304.77M413.04 292.82L410.52 293.25M591.3 298.4L593.24 298.97M387.22 285.16L384.7 285.6M624.9 292.6L626.84 293.17M361.4 277.5L358.88 277.94M658.5 286.8L660.44 287.37" stroke="#999" stroke-width="0.6" fill="none"/>
<g class="s">
<path d="M525.5 222.9l8.4 -1.5 -6.4 -1.9 -8.4 1.5z" class="f"/>
<path d="M517.1 224.3l8.4 -1.4 -6.4 -1.9 -8.4 1.4z" class="f"/>
<path d="M532 224.8l8.4 -1.5 -6.5 -1.9 -8.4 1.5z" class="f"/>
<path d="M508.7 225.8l8.4 -1.5 -6.4 -1.9 -8.4 1.5z" class="f"/>
<path d="M523.6 226.2l8.4 -1.4 -6.5 -1.9 -8.4 1.4z" class="f"/>
<path d="M538.4 231.3l8.4 -1.4 -6.4 -6.6 -8.4 1.5z" class="e"/>
<path d="M500.3 227.2l8.4 -1.4 -6.4 -1.9 -8.4 1.4z" class="f"/>
<path d="M515.2 227.7l8.4 -1.5 -6.5 -1.9 -8.4 1.5z" class="f"/>
<path d="M530 232.8l8.4 -1.5 -6.4 -6.5 -8.4 1.4z" class="e"/>
<path d="M544.9 241.2l8.4 -1.4 -6.5 -9.9 -8.4 1.4z" class="c"/>
<path d="M491.9 228.7l8.4 -1.5 -6.4 -1.9 -8.4 1.5z" class="f"/>
<path d="M506.8 229.1l8.4 -1.4 -6.5 -1.9 -8.4 1.4z" class="f"/>
<path d="M521.6 234.2l8.4 -1.4 -6.4 -6.6 -8.4 1.5z" class="e"/>
<path d="M536.5 234.7l8.4 6.5 -6.5 -9.9 -8.4 1.5z" class="e"/>
<path d="M483.5 230.1l8.4 -1.4 -6.4 -1.9 -8.4 1.4z" class="f"/>
<path d="M551.3 243.1l8.4 -1.4 -6.4 -1.9 -8.4 1.4z" class="c"/>
<path d="M498.4 235.2l8.4 -6.1 -6.5 -1.9 -8.4 1.5z" class="e"/>
<path d="M513.2 235.7l8.4 -1.5 -6.4 -6.5 -8.4 1.4z" class="e"/>
<path d="M528.1 236.2l8.4 -1.5 -6.5 -1.9 -8.4 1.4z" class="e"/>
<path d="M475.1 231.6l8.4 -1.5 -6.4 -1.9 -8.4 1.5z" class="f"/>
<path d="M542.9 236.6l8.4 6.5 -6.4 -1.9 -8.4 -6.5z" class="e"/>
<path d="M490 232l8.4 3.2 -6.5 -6.5 -8.4 1.4z" class="f"/>
<path d="M557.8 232.5l8.4 -1.5 -6.5 10.7 -8.4 1.4z" class="f"/>
<path d="M504.8 247.7l8.4 -12 -6.4 -6.6 -8.4 6.1z" class="b2"/>
<path d="M519.7 237.6l8.4 -1.4 -6.5 -2 -8.4 1.5z" class="e"/>
<path d="M466.7 223.1l8.4 8.5 -6.4 -1.9 -8.4 -8.5z" class="i"/>
<path d="M534.5 238.1l8.4 -1.5 -6.4 -1.9 -8.4 1.5z" class="e"/>
<path d="M481.6 238.1l8.4 -6.1 -6.5 -1.9 -8.4 1.5z" class="e"/>
<path d="M549.4 238.5l8.4 -6 -6.5 10.6 -8.4 -6.5z" class="e"/>
<path d="M496.4 249.2l8.4 -1.5 -6.4 -12.5 -8.4 -3.2z" class="b2"/>
<path d="M564.2 234.4l8.4 -1.5 -6.4 -1.9 -8.4 1.5z" class="f"/>
<path d="M511.3 239.1l8.4 -1.5 -6.5 -1.9 -8.4 12z" class="e"/>
<path d="M458.3 224.6l8.4 -1.5 -6.4 -1.9 -8.4 1.4z" class="i"/>
<path d="M526.1 239.5l8.4 -1.4 -6.4 -1.9 -8.4 1.4z" class="e"/>
<path d="M473.2 250.2l8.4 -12.1 -6.5 -6.5 -8.4 -8.5z" class="b2"/>
<path d="M541 240l8.4 -1.5 -6.5 -1.9 -8.4 1.5z" class="e"/>
<path d="M488 248l8.4 1.2 -6.4 -17.2 -8.4 6.1z" class="c"/>
<path d="M555.8 240.5l8.4 -6.1 -6.4 -1.9 -8.4 6z" class="e"/>
<path d="M502.9 240.5l8.4 -1.4 -6.5 8.6 -8.4 1.5z" class="e"/>
<path d="M449.9 226l8.4 -1.4 -6.4 -2 -8.4 1.5z" class="i"/>
<path d="M570.7 236.3l8.4 -1.5 -6.5 -1.9 -8.4 1.5z" class="f"/>
<path d="M517.7 241l8.4 -1.5 -6.4 -1.9 -8.4 1.5z" class="e"/>
<path d="M464.8 251.6l8.4 -1.4 -6.5 -27.1 -8.4 1.5z" class="b2"/>
<path d="M532.6 241.4l8.4 -1.4 -6.5 -1.9 -8.4 1.4z" class="e"/>
<path d="M479.6 252.1l8.4 -4.1 -6.4 -9.9 -8.4 12.1z" class="b2"/>
<path d="M547.4 241.9l8.4 -1.4 -6.4 -2 -8.4 1.5z" class="e"/>
<path d="M494.5 242l8.4 -1.5 -6.5 8.7 -8.4 -1.2z" class="e"/>
<path d="M441.5 227.5l8.4 -1.5 -6.4 -1.9 -8.4 1.4z" class="i"/>
<path d="M562.3 247l8.4 -10.7 -6.5 -1.9 -8.4 6.1z" class="d"/>
<path d="M509.3 242.4l8.4 -1.4 -6.4 -1.9 -8.4 1.4z" class="e"/>
<path d="M456.4 250.4l8.4 1.2 -6.5 -27 -8.4 1.4z" class="c"/>
<path d="M577.2 238.2l8.3 -1.4 -6.4 -2 -8.4 1.5z" class="f"/>
<path d="M524.2 242.9l8.4 -1.5 -6.5 -1.9 -8.4 1.5z" class="e"/>
<path d="M471.2 253.5l8.4 -1.4 -6.4 -1.9 -8.4 1.4z" class="b2"/>
<path d="M539 243.4l8.4 -1.5 -6.4 -1.9 -8.4 1.4z" class="e"/>
<path d="M486.1 248l8.4 -6 -6.5 6 -8.4 4.1z" class="d"/>
<path d="M433.1 228.9l8.4 -1.4 -6.4 -2 -8.4 -3.9z" class="i"/>
<path d="M553.9 248.5l8.4 -1.5 -6.5 -6.5 -8.4 1.4z" class="d"/>
<path d="M500.9 243.9l8.4 -1.5 -6.4 -1.9 -8.4 1.5z" class="e"/>
<path d="M448 259.2l8.4 -8.8 -6.5 -24.4 -8.4 1.5z" class="b"/>
<path d="M568.8 248.9l8.4 -10.7 -6.5 -1.9 -8.4 10.7z" class="d"/>
<path d="M515.8 244.3l8.4 -1.4 -6.5 -1.9 -8.4 1.4z" class="e"/>
<path d="M462.8 252.3l8.4 1.2 -6.4 -1.9 -8.4 -1.2z" class="c"/>
<path d="M583.6 240.1l8.4 -1.4 -6.5 -1.9 -8.3 1.4z" class="f"/>
<path d="M530.6 244.8l8.4 -1.4 -6.4 -2 -8.4 1.5z" class="e"/>
<path d="M477.7 244.9l8.4 3.1 -6.5 4.1 -8.4 1.4z" class="e"/>
<path d="M424.7 223.1l8.4 5.8 -6.4 -7.3 -8.4 -19.3z" class="k"/>
<path d="M545.5 245.3l8.4 3.2 -6.5 -6.6 -8.4 1.5z" class="e"/>
<path d="M492.5 245.3l8.4 -1.4 -6.4 -1.9 -8.4 6z" class="e"/>
<path d="M439.6 256l8.4 3.2 -6.5 -31.7 -8.4 1.4z" class="b2"/>
<path d="M560.3 250.4l8.5 -1.5 -6.5 -1.9 -8.4 1.5z" class="d"/>
<path d="M507.4 245.8l8.4 -1.5 -6.5 -1.9 -8.4 1.5z" class="e"/>
<path d="M454.4 253.8l8.4 -1.5 -6.4 -1.9 -8.4 8.8z" class="c"/>
<path d="M575.2 246.2l8.4 -6.1 -6.4 -1.9 -8.4 10.7z" class="e"/>
<path d="M522.2 246.3l8.4 -1.5 -6.4 -1.9 -8.4 1.4z" class="e"/>
<path d="M469.3 246.3l8.4 -1.4 -6.5 8.6 -8.4 -1.2z" class="e"/>
<path d="M416.3 251l8.4 -27.9 -6.4 -20.8 -8.4 1.4z" class="d"/>
<path d="M590.1 246.7l8.4 -1.5 -6.5 -6.5 -8.4 1.4z" class="e"/>
<path d="M537.1 246.7l8.4 -1.4 -6.5 -1.9 -8.4 1.4z" class="e"/>
<path d="M484.1 246.8l8.4 -1.5 -6.4 2.7 -8.4 -3.1z" class="e"/>
<path d="M431.2 254.8l8.4 1.2 -6.5 -27.1 -8.4 -5.8z" class="c"/>
<path d="M552 247.2l8.3 3.2 -6.4 -1.9 -8.4 -3.2z" class="e"/>
<path d="M499 247.2l8.4 -1.4 -6.5 -1.9 -8.4 1.4z" class="e"/>
<path d="M446 257.9l8.4 -4.1 -6.4 5.4 -8.4 -3.2z" class="b2"/>
<path d="M566.8 247.7l8.4 -1.5 -6.4 2.7 -8.5 1.5z" class="e"/>
<path d="M513.8 247.7l8.4 -1.4 -6.4 -2 -8.4 1.5z" class="e"/>
<path d="M460.9 247.8l8.4 -1.5 -6.5 6 -8.4 1.5z" class="e"/>
<path d="M407.9 252.5l8.4 -1.5 -6.4 -47.3 -8.4 1.5z" class="d"/>
<path d="M581.7 248.1l8.4 -1.4 -6.5 -6.6 -8.4 6.1z" class="e"/>
<path d="M528.7 248.2l8.4 -1.5 -6.5 -1.9 -8.4 1.5z" class="e"/>
<path d="M475.7 248.2l8.4 -1.4 -6.4 -1.9 -8.4 1.4z" class="e"/>
<path d="M422.8 256.2l8.4 -1.4 -6.5 -31.7 -8.4 27.9z" class="c"/>
<path d="M596.5 248.6l8.4 -1.5 -6.4 -1.9 -8.4 1.5z" class="e"/>
<path d="M543.5 248.6l8.5 -1.4 -6.5 -1.9 -8.4 1.4z" class="e"/>
<path d="M490.6 248.7l8.4 -1.5 -6.5 -1.9 -8.4 1.5z" class="e"/>
<path d="M437.6 256.7l8.4 1.2 -6.4 -1.9 -8.4 -1.2z" class="c"/>
<path d="M558.4 249.1l8.4 -1.4 -6.5 2.7 -8.3 -3.2z" class="e"/>
<path d="M505.4 249.2l8.4 -1.5 -6.4 -1.9 -8.4 1.4z" class="e"/>
<path d="M452.5 253.8l8.4 -6 -6.5 6 -8.4 4.1z" class="d"/>
<path d="M399.5 253.9l8.4 -1.4 -6.4 -47.3 -8.4 1.4z" class="d"/>
<path d="M573.3 249.6l8.4 -1.5 -6.5 -1.9 -8.4 1.5z" class="e"/>
<path d="M520.3 249.6l8.4 -1.4 -6.5 -1.9 -8.4 1.4z" class="e"/>
<path d="M467.3 249.7l8.4 -1.5 -6.4 -1.9 -8.4 1.5z" class="e"/>
<path d="M414.4 257.7l8.4 -1.5 -6.5 -5.2 -8.4 1.5z" class="c"/>
<path d="M588.1 250l8.4 -1.4 -6.4 -1.9 -8.4 1.4z" class="e"/>
<path d="M535.2 250.1l8.3 -1.5 -6.4 -1.9 -8.4 1.5z" class="e"/>
<path d="M482.2 250.1l8.4 -1.4 -6.5 -1.9 -8.4 1.4z" class="e"/>
<path d="M429.2 258.1l8.4 -1.4 -6.4 -1.9 -8.4 1.4z" class="c"/>
<path d="M603 250.5l8.4 -1.5 -6.5 -1.9 -8.4 1.5z" class="e"/>
<path d="M550 250.6l8.4 -1.5 -6.4 -1.9 -8.5 1.4z" class="e"/>
<path d="M497 250.6l8.4 -1.4 -6.4 -2 -8.4 1.5z" class="e"/>
<path d="M444.1 255.3l8.4 -1.5 -6.5 4.1 -8.4 -1.2z" class="d"/>
<path d="M391.1 255.4l8.4 -1.5 -6.4 -47.3 -8.4 1.5z" class="d"/>
<path d="M564.9 251l8.4 -1.4 -6.5 -1.9 -8.4 1.4z" class="e"/>
<path d="M511.9 251.1l8.4 -1.5 -6.5 -1.9 -8.4 1.5z" class="e"/>
<path d="M458.9 251.1l8.4 -1.4 -6.4 -1.9 -8.4 6z" class="e"/>
<path d="M406 259.1l8.4 -1.4 -6.5 -5.2 -8.4 1.4z" class="c"/>
<path d="M579.7 251.5l8.4 -1.5 -6.4 -1.9 -8.4 1.5z" class="e"/>
<path d="M526.8 251.5l8.4 -1.4 -6.5 -1.9 -8.4 1.4z" class="e"/>
<path d="M473.8 251.6l8.4 -1.5 -6.5 -1.9 -8.4 1.5z" class="e"/>
<path d="M420.8 259.6l8.4 -1.5 -6.4 -1.9 -8.4 1.5z" class="c"/>
<path d="M594.6 259.9l8.4 -9.4 -6.5 -1.9 -8.4 1.4z" class="c"/>
<path d="M541.6 252l8.4 -1.4 -6.5 -2 -8.3 1.5z" class="e"/>
<path d="M488.6 252.1l8.4 -1.5 -6.4 -1.9 -8.4 1.4z" class="e"/>
<path d="M435.7 260.1l8.4 -4.8 -6.5 1.4 -8.4 1.4z" class="c"/>
<path d="M609.4 240.5l8.4 -1.5 -6.4 10 -8.4 1.5z" class="h"/>
<path d="M382.7 256.8l8.4 -1.4 -6.4 -47.3 -8.4 1.4z" class="d"/>
<path d="M556.5 257.1l8.4 -6.1 -6.5 -1.9 -8.4 1.5z" class="d"/>
<path d="M503.5 252.5l8.4 -1.4 -6.5 -1.9 -8.4 1.4z" class="e"/>
<path d="M450.5 252.6l8.4 -1.5 -6.4 2.7 -8.4 1.5z" class="e"/>
<path d="M397.6 257.3l8.4 1.8 -6.5 -5.2 -8.4 1.5z" class="d"/>
<path d="M571.3 257.6l8.4 -6.1 -6.4 -1.9 -8.4 1.4z" class="d"/>
<path d="M518.3 253l8.5 -1.5 -6.5 -1.9 -8.4 1.5z" class="e"/>
<path d="M465.4 253l8.4 -1.4 -6.5 -1.9 -8.4 1.4z" class="e"/>
<path d="M412.4 261l8.4 -1.4 -6.4 -1.9 -8.4 1.4z" class="c"/>
<path d="M586.2 261.3l8.4 -1.4 -6.5 -9.9 -8.4 1.5z" class="c"/>
<path d="M533.2 253.5l8.4 -1.5 -6.4 -1.9 -8.4 1.4z" class="e"/>
<path d="M480.2 253.5l8.4 -1.4 -6.4 -2 -8.4 1.5z" class="e"/>
<path d="M427.3 258.2l8.4 1.9 -6.5 -2 -8.4 1.5z" class="d"/>
<path d="M601 253.9l8.4 -13.4 -6.4 10 -8.4 9.4z" class="e"/>
<path d="M548.1 258.6l8.4 -1.5 -6.5 -6.5 -8.4 1.4z" class="d"/>
<path d="M495.1 254l8.4 -1.5 -6.5 -1.9 -8.4 1.5z" class="e"/>
<path d="M442.1 254l8.4 -1.4 -6.4 2.7 -8.4 4.8z" class="e"/>
<path d="M615.9 242.4l8.4 -1.4 -6.5 -2 -8.4 1.5z" class="h"/>
<path d="M389.2 258.7l8.4 -1.4 -6.5 -1.9 -8.4 1.4z" class="d"/>
<path d="M562.9 262.3l8.4 -4.7 -6.4 -6.6 -8.4 6.1z" class="c"/>
<path d="M509.9 254.4l8.4 -1.4 -6.4 -1.9 -8.4 1.4z" class="e"/>
<path d="M457 254.5l8.4 -1.5 -6.5 -1.9 -8.4 1.5z" class="e"/>
<path d="M404 262.5l8.4 -1.5 -6.4 -1.9 -8.4 -1.8z" class="c"/>
<path d="M577.8 262.8l8.4 -1.5 -6.5 -9.8 -8.4 6.1z" class="c"/>
<path d="M524.8 254.9l8.4 -1.4 -6.4 -2 -8.5 1.5z" class="e"/>
<path d="M471.8 255l8.4 -1.5 -6.4 -1.9 -8.4 1.4z" class="e"/>
<path d="M418.9 259.6l8.4 -1.4 -6.5 1.4 -8.4 1.4z" class="d"/>
<path d="M592.6 255.3l8.4 -1.4 -6.4 6 -8.4 1.4z" class="e"/>
<path d="M539.7 260l8.4 -1.4 -6.5 -6.6 -8.4 1.5z" class="d"/>
<path d="M486.7 255.4l8.4 -1.4 -6.5 -1.9 -8.4 1.4z" class="e"/>
<path d="M433.7 260.1l8.4 -6.1 -6.4 6.1 -8.4 -1.9z" class="d"/>
<path d="M607.5 243.9l8.4 -1.5 -6.5 -1.9 -8.4 13.4z" class="h"/>
<path d="M554.5 263.8l8.4 -1.5 -6.4 -5.2 -8.4 1.5z" class="c"/>
<path d="M501.6 255.9l8.3 -1.5 -6.4 -1.9 -8.4 1.5z" class="e"/>
<path d="M448.6 255.9l8.4 -1.4 -6.5 -1.9 -8.4 1.4z" class="e"/>
<path d="M622.3 256.2l8.4 -1.4 -6.4 -13.8 -8.4 1.4z" class="e"/>
<path d="M395.6 260.6l8.4 1.9 -6.4 -5.2 -8.4 1.4z" class="d"/>
<path d="M569.4 264.2l8.4 -1.4 -6.5 -5.2 -8.4 4.7z" class="c"/>
<path d="M516.4 256.4l8.4 -1.5 -6.5 -1.9 -8.4 1.4z" class="e"/>
<path d="M463.4 256.4l8.4 -1.4 -6.4 -2 -8.4 1.5z" class="e"/>
<path d="M410.5 261.1l8.4 -1.5 -6.5 1.4 -8.4 1.5z" class="d"/>
<path d="M584.2 256.8l8.4 -1.5 -6.4 6 -8.4 1.5z" class="e"/>
<path d="M531.3 261.5l8.4 -1.5 -6.5 -6.5 -8.4 1.4z" class="d"/>
<path d="M478.3 256.9l8.4 -1.5 -6.5 -1.9 -8.4 1.5z" class="e"/>
<path d="M425.3 256.9l8.4 3.2 -6.4 -1.9 -8.4 1.4z" class="e"/>
<path d="M599.1 245.3l8.4 -1.4 -6.5 10 -8.4 1.4z" class="h"/>
<path d="M546.1 265.2l8.4 -1.4 -6.4 -5.2 -8.4 1.4z" class="c"/>
<path d="M493.2 257.3l8.4 -1.4 -6.5 -1.9 -8.4 1.4z" class="e"/>
<path d="M440.2 257.4l8.4 -1.5 -6.5 -1.9 -8.4 6.1z" class="e"/>
<path d="M613.9 257.7l8.4 -1.5 -6.4 -13.8 -8.4 1.5z" class="e"/>
<path d="M561 265.7l8.4 -1.5 -6.5 -1.9 -8.4 1.5z" class="c"/>
<path d="M508 257.8l8.4 -1.4 -6.5 -2 -8.3 1.5z" class="e"/>
<path d="M455 257.9l8.4 -1.5 -6.4 -1.9 -8.4 1.4z" class="e"/>
<path d="M628.8 258.2l8.4 -1.5 -6.5 -1.9 -8.4 1.4z" class="e"/>
<path d="M402.1 257.9l8.4 3.2 -6.5 1.4 -8.4 -1.9z" class="e"/>
<path d="M575.8 258.2l8.4 -1.4 -6.4 6 -8.4 1.4z" class="e"/>
<path d="M522.9 262.9l8.4 -1.4 -6.5 -6.6 -8.4 1.5z" class="d"/>
<path d="M469.9 258.3l8.4 -1.4 -6.5 -1.9 -8.4 1.4z" class="e"/>
<path d="M416.9 258.4l8.4 -1.5 -6.4 2.7 -8.4 1.5z" class="e"/>
<path d="M590.7 258.7l8.4 -13.4 -6.5 10 -8.4 1.5z" class="e"/>
<path d="M537.7 266.7l8.4 -1.5 -6.4 -5.2 -8.4 1.5z" class="c"/>
<path d="M484.7 258.8l8.5 -1.5 -6.5 -1.9 -8.4 1.5z" class="e"/>
<path d="M431.8 258.8l8.4 -1.4 -6.5 2.7 -8.4 -3.2z" class="e"/>
<path d="M605.5 259.1l8.4 -1.4 -6.4 -13.8 -8.4 1.4z" class="e"/>
<path d="M552.6 267.1l8.4 -1.4 -6.5 -1.9 -8.4 1.4z" class="c"/>
<path d="M499.6 259.3l8.4 -1.5 -6.4 -1.9 -8.4 1.4z" class="e"/>
<path d="M446.6 259.3l8.4 -1.4 -6.4 -2 -8.4 1.5z" class="e"/>
<path d="M620.4 259.6l8.4 -1.4 -6.5 -2 -8.4 1.5z" class="e"/>
<path d="M567.4 259.7l8.4 -1.5 -6.4 6 -8.4 1.5z" class="e"/>
<path d="M514.5 264.4l8.4 -1.5 -6.5 -6.5 -8.4 1.4z" class="d"/>
<path d="M461.5 259.8l8.4 -1.5 -6.5 -1.9 -8.4 1.5z" class="e"/>
<path d="M635.2 260.1l8.4 -1.5 -6.4 -1.9 -8.4 1.5z" class="e"/>
<path d="M408.5 259.8l8.4 -1.4 -6.4 2.7 -8.4 -3.2z" class="e"/>
<path d="M582.3 260.1l8.4 -1.4 -6.5 -1.9 -8.4 1.4z" class="e"/>
<path d="M529.3 268.1l8.4 -1.4 -6.4 -5.2 -8.4 1.4z" class="c"/>
<path d="M476.3 260.2l8.4 -1.4 -6.4 -1.9 -8.4 1.4z" class="e"/>
<path d="M423.4 260.3l8.4 -1.5 -6.5 -1.9 -8.4 1.5z" class="e"/>
<path d="M597.1 260.6l8.4 -1.5 -6.4 -13.8 -8.4 13.4z" class="e"/>
<path d="M544.2 268.6l8.4 -1.5 -6.5 -1.9 -8.4 1.5z" class="c"/>
<path d="M491.2 260.7l8.4 -1.4 -6.4 -2 -8.5 1.5z" class="e"/>
<path d="M438.2 260.8l8.4 -1.5 -6.4 -1.9 -8.4 1.4z" class="e"/>
<path d="M612 261.1l8.4 -1.5 -6.5 -1.9 -8.4 1.4z" class="e"/>
<path d="M559 261.1l8.4 -1.4 -6.4 6 -8.4 1.4z" class="e"/>
<path d="M506.1 265.8l8.4 -1.4 -6.5 -6.6 -8.4 1.5z" class="d"/>
<path d="M453.1 261.2l8.4 -1.4 -6.5 -1.9 -8.4 1.4z" class="e"/>
<path d="M626.8 261.5l8.4 -1.4 -6.4 -1.9 -8.4 1.4z" class="e"/>
<path d="M573.9 261.6l8.4 -1.5 -6.5 -1.9 -8.4 1.5z" class="e"/>
<path d="M520.9 269.6l8.4 -1.5 -6.4 -5.2 -8.4 1.5z" class="c"/>
<path d="M467.9 261.7l8.4 -1.5 -6.4 -1.9 -8.4 1.5z" class="e"/>
<path d="M415 261.7l8.4 -1.4 -6.5 -1.9 -8.4 1.4z" class="e"/>
<path d="M588.7 262l8.4 -1.4 -6.4 -1.9 -8.4 1.4z" class="e"/>
<path d="M535.8 270l8.4 -1.4 -6.5 -1.9 -8.4 1.4z" class="c"/>
<path d="M482.8 262.2l8.4 -1.5 -6.5 -1.9 -8.4 1.4z" class="e"/>
<path d="M429.8 262.2l8.4 -1.4 -6.4 -2 -8.4 1.5z" class="e"/>
<path d="M603.6 262.5l8.4 -1.4 -6.5 -2 -8.4 1.5z" class="e"/>
<path d="M550.6 262.6l8.4 -1.5 -6.4 6 -8.4 1.5z" class="e"/>
<path d="M497.7 267.3l8.4 -1.5 -6.5 -6.5 -8.4 1.4z" class="d"/>
<path d="M444.7 262.7l8.4 -1.5 -6.5 -1.9 -8.4 1.5z" class="e"/>
<path d="M618.4 286.8l8.4 -25.3 -6.4 -1.9 -8.4 1.5z" class="a"/>
<path d="M565.5 263l8.4 -1.4 -6.5 -1.9 -8.4 1.4z" class="e"/>
<path d="M512.5 267.7l8.4 1.9 -6.4 -5.2 -8.4 1.4z" class="d"/>
<path d="M459.6 263.1l8.3 -1.4 -6.4 -1.9 -8.4 1.4z" class="e"/>
<path d="M580.3 263.5l8.4 -1.5 -6.4 -1.9 -8.4 1.5z" class="e"/>
<path d="M527.4 268.2l8.4 1.8 -6.5 -1.9 -8.4 1.5z" class="d"/>
<path d="M474.4 268.2l8.4 -6 -6.5 -2 -8.4 1.5z" class="d"/>
<path d="M421.4 263.7l8.4 -1.5 -6.4 -1.9 -8.4 1.4z" class="e"/>
<path d="M595.2 264l8.4 -1.5 -6.5 -1.9 -8.4 1.4z" class="e"/>
<path d="M542.2 264l8.4 -1.4 -6.4 6 -8.4 1.4z" class="e"/>
<path d="M489.3 268.7l8.4 -1.4 -6.5 -6.6 -8.4 1.5z" class="d"/>
<path d="M436.3 264.1l8.4 -1.4 -6.5 -1.9 -8.4 1.4z" class="e"/>
<path d="M610 288.3l8.4 -1.5 -6.4 -25.7 -8.4 1.4z" class="a"/>
<path d="M557.1 264.5l8.4 -1.5 -6.5 -1.9 -8.4 1.5z" class="e"/>
<path d="M504.1 269.2l8.4 -1.5 -6.4 -1.9 -8.4 1.5z" class="d"/>
<path d="M451.2 264.6l8.4 -1.5 -6.5 -1.9 -8.4 1.5z" class="e"/>
<path d="M571.9 264.9l8.4 -1.4 -6.4 -1.9 -8.4 1.4z" class="e"/>
<path d="M519 269.6l8.4 -1.4 -6.5 1.4 -8.4 -1.9z" class="d"/>
<path d="M466 269.7l8.4 -1.5 -6.5 -6.5 -8.3 1.4z" class="d"/>
<path d="M586.8 289.2l8.4 -25.2 -6.5 -2 -8.4 1.5z" class="a"/>
<path d="M533.8 265.5l8.4 -1.5 -6.4 6 -8.4 -1.8z" class="e"/>
<path d="M480.9 270.2l8.4 -1.5 -6.5 -6.5 -8.4 6z" class="d"/>
<path d="M427.9 260.9l8.4 3.2 -6.5 -1.9 -8.4 1.5z" class="f"/>
<path d="M601.6 289.7l8.4 -1.4 -6.4 -25.8 -8.4 1.5z" class="a"/>
<path d="M548.7 242.1l8.4 22.4 -6.5 -1.9 -8.4 1.4z" class="l"/>
<path d="M495.7 270.6l8.4 -1.4 -6.4 -1.9 -8.4 1.4z" class="d"/>
<path d="M442.8 270.7l8.4 -6.1 -6.5 -1.9 -8.4 1.4z" class="d"/>
<path d="M563.5 266.4l8.4 -1.5 -6.4 -1.9 -8.4 1.5z" class="e"/>
<path d="M510.6 271.1l8.4 -1.5 -6.5 -1.9 -8.4 1.5z" class="d"/>
<path d="M457.6 266.5l8.4 3.2 -6.4 -6.6 -8.4 1.5z" class="e"/>
<path d="M578.4 290.7l8.4 -1.5 -6.5 -25.7 -8.4 1.4z" class="a"/>
<path d="M525.4 271.5l8.4 -6 -6.4 2.7 -8.4 1.4z" class="d"/>
<path d="M472.5 271.6l8.4 -1.4 -6.5 -2 -8.4 1.5z" class="d"/>
<path d="M593.2 291.2l8.4 -1.5 -6.4 -25.7 -8.4 25.2z" class="a"/>
<path d="M540.3 243.5l8.4 -1.4 -6.5 21.9 -8.4 1.5z" class="l"/>
<path d="M487.3 267.4l8.4 3.2 -6.4 -1.9 -8.4 1.5z" class="e"/>
<path d="M434.3 272.1l8.5 -1.4 -6.5 -6.6 -8.4 -3.2z" class="d"/>
<path d="M555.1 244l8.4 22.4 -6.4 -1.9 -8.4 -22.4z" class="l"/>
<path d="M502.2 272.5l8.4 -1.4 -6.5 -1.9 -8.4 1.4z" class="d"/>
<path d="M449.2 268l8.4 -1.5 -6.4 -1.9 -8.4 6.1z" class="e"/>
<path d="M570 292.1l8.4 -1.4 -6.5 -25.8 -8.4 1.5z" class="a"/>
<path d="M517 273l8.4 -1.5 -6.4 -1.9 -8.4 1.5z" class="d"/>
<path d="M464.1 268.4l8.4 3.2 -6.5 -1.9 -8.4 -3.2z" class="e"/>
<path d="M584.8 292.6l8.4 -1.4 -6.4 -2 -8.4 1.5z" class="a"/>
<path d="M531.9 247l8.4 -3.5 -6.5 22 -8.4 6z" class="k"/>
<path d="M478.9 264.2l8.4 3.2 -6.4 2.8 -8.4 1.4z" class="f"/>
<path d="M546.7 247.4l8.4 -3.4 -6.4 -1.9 -8.4 1.4z" class="k"/>
<path d="M493.8 277.3l8.4 -4.8 -6.5 -1.9 -8.4 -3.2z" class="c"/>
<path d="M440.8 277.3l8.4 -9.3 -6.4 2.7 -8.5 1.4z" class="c"/>
<path d="M561.6 293.6l8.4 -1.5 -6.5 -25.7 -8.4 -22.4z" class="a"/>
<path d="M508.6 274.4l8.4 -1.4 -6.4 -1.9 -8.4 1.4z" class="d"/>
<path d="M455.7 269.9l8.4 -1.5 -6.5 -1.9 -8.4 1.5z" class="e"/>
<path d="M576.4 294.1l8.4 -1.5 -6.4 -1.9 -8.4 1.4z" class="a"/>
<path d="M523.5 248.4l8.4 -1.4 -6.5 24.5 -8.4 1.5z" class="k"/>
<path d="M470.5 265.7l8.4 -1.5 -6.4 7.4 -8.4 -3.2z" class="f"/>
<path d="M538.3 248.9l8.4 -1.5 -6.4 -3.9 -8.4 3.5z" class="k"/>
<path d="M485.4 266.2l8.4 11.1 -6.5 -9.9 -8.4 -3.2z" class="f"/>
<path d="M553.2 295l8.4 -1.4 -6.5 -49.6 -8.4 3.4z" class="a"/>
<path d="M500.2 259.3l8.4 15.1 -6.4 -1.9 -8.4 4.8z" class="h"/>
<path d="M447.3 271.3l8.4 -1.4 -6.5 -1.9 -8.4 9.3z" class="e"/>
<path d="M568 295.5l8.4 -1.4 -6.4 -2 -8.4 1.5z" class="a"/>
<path d="M515.1 257.2l8.4 -8.8 -6.5 24.6 -8.4 1.4z" class="i"/>
<path d="M462.1 262.5l8.4 3.2 -6.4 2.7 -8.4 1.5z" class="g"/>
<path d="M529.9 250.3l8.4 -1.4 -6.4 -1.9 -8.4 1.4z" class="k"/>
<path d="M477 272.2l8.4 -6 -6.5 -2 -8.4 1.5z" class="e"/>
<path d="M544.8 296.5l8.4 -1.5 -6.5 -47.6 -8.4 1.5z" class="a"/>
<path d="M491.8 263.4l8.4 -4.1 -6.4 18 -8.4 -11.1z" class="g"/>
<path d="M559.6 297l8.4 -1.5 -6.4 -1.9 -8.4 1.4z" class="a"/>
<path d="M506.7 258.6l8.4 -1.4 -6.5 17.2 -8.4 -15.1z" class="i"/>
<path d="M453.7 268.6l8.4 -6.1 -6.4 7.4 -8.4 1.4z" class="f"/>
<path d="M521.5 259.1l8.4 -8.8 -6.4 -1.9 -8.4 8.8z" class="i"/>
<path d="M468.6 273.7l8.4 -1.5 -6.5 -6.5 -8.4 -3.2z" class="e"/>
<path d="M536.4 297.9l8.4 -1.4 -6.5 -47.6 -8.4 1.4z" class="a"/>
<path d="M483.4 264.9l8.4 -1.5 -6.4 2.8 -8.4 6z" class="g"/>
<path d="M551.2 298.4l8.4 -1.4 -6.4 -2 -8.4 1.5z" class="a"/>
<path d="M498.3 260.1l8.4 -1.5 -6.5 .7 -8.4 4.1z" class="i"/>
<path d="M513.1 260.5l8.4 -1.4 -6.4 -1.9 -8.4 1.4z" class="i"/>
<path d="M460.2 270.5l8.4 3.2 -6.5 -11.2 -8.4 6.1z" class="f"/>
<path d="M528 299.4l8.4 -1.5 -6.5 -47.6 -8.4 8.8z" class="a"/>
<path d="M475 271l8.4 -6.1 -6.4 7.3 -8.4 1.5z" class="f"/>
<path d="M542.8 299.9l8.4 -1.5 -6.4 -1.9 -8.4 1.4z" class="a"/>
<path d="M489.9 266.8l8.4 -6.7 -6.5 3.3 -8.4 1.5z" class="g"/>
<path d="M504.7 264.6l8.4 -4.1 -6.4 -1.9 -8.4 1.5z" class="h"/>
<path d="M519.6 300.8l8.4 -1.4 -6.5 -40.3 -8.4 1.4z" class="a"/>
<path d="M466.6 277.1l8.4 -6.1 -6.4 2.7 -8.4 -3.2z" class="e"/>
<path d="M534.4 301.3l8.4 -1.4 -6.4 -2 -8.4 1.5z" class="a"/>
<path d="M481.5 268.3l8.4 -1.5 -6.5 -1.9 -8.4 6.1z" class="g"/>
<path d="M496.3 268.7l8.4 -4.1 -6.4 -4.5 -8.4 6.7z" class="g"/>
<path d="M511.2 302.3l8.4 -1.5 -6.5 -40.3 -8.4 4.1z" class="a"/>
<path d="M526 302.8l8.4 -1.5 -6.4 -1.9 -8.4 1.4z" class="a"/>
<path d="M473.1 279l8.4 -10.7 -6.5 2.7 -8.4 6.1z" class="e"/>
<path d="M487.9 270.2l8.4 -1.5 -6.4 -1.9 -8.4 1.5z" class="g"/>
<path d="M502.8 303.7l8.4 -1.4 -6.5 -37.7 -8.4 4.1z" class="a"/>
<path d="M517.6 304.2l8.4 -1.4 -6.4 -2 -8.4 1.5z" class="a"/>
<path d="M479.5 280.9l8.4 -10.7 -6.4 -1.9 -8.4 10.7z" class="e"/>
<path d="M494.4 305.2l8.4 -1.5 -6.5 -35 -8.4 1.5z" class="a"/>
<path d="M509.2 305.7l8.4 -1.5 -6.4 -1.9 -8.4 1.4z" class="a"/>
<path d="M486 306.6l8.4 -1.4 -6.5 -35 -8.4 10.7z" class="a"/>
<path d="M500.8 307.1l8.4 -1.4 -6.4 -2 -8.4 1.5z" class="a"/>
<path d="M492.4 308.6l8.4 -1.5 -6.4 -1.9 -8.4 1.4z" class="a"/>
</g>
<text x="356.4" y="279.35" font-size="7.0" text-anchor="end" font-weight="bold" fill="#222">-20</text>
<text x="356.4" y="251.65" font-size="7.0" text-anchor="end" font-weight="bold" fill="#222">0</text>
<text x="356.4" y="223.95" font-size="7.0" text-anchor="end" font-weight="bold" fill="#222">20</text>
<text x="356.4" y="196.25" font-size="7.0" text-anchor="end" font-weight="bold" fill="#222">40</text>
<text x="485.1" y="325" font-size="7.0" text-anchor="end" font-weight="bold" fill="#222">0</text>
<text x="495.9" y="325" font-size="7.0" text-anchor="start" font-weight="bold" fill="#222">0</text>
<text x="459.28" y="317.34" font-size="7.0" text-anchor="end" font-weight="bold" fill="#222">0.2</text>
<text x="529.5" y="319.2" font-size="7.0" text-anchor="start" font-weight="bold" fill="#222">0.2</text>
<text x="433.46" y="309.68" font-size="7.0" text-anchor="end" font-weight="bold" fill="#222">0.4</text>
<text x="563.1" y="313.4" font-size="7.0" text-anchor="start" font-weight="bold" fill="#222">0.4</text>
<text x="407.64" y="302.02" font-size="7.0" text-anchor="end" font-weight="bold" fill="#222">0.6</text>
<text x="596.7" y="307.6" font-size="7.0" text-anchor="start" font-weight="bold" fill="#222">0.6</text>
<text x="381.82" y="294.36" font-size="7.0" text-anchor="end" font-weight="bold" fill="#222">0.8</text>
<text x="630.3" y="301.8" font-size="7.0" text-anchor="start" font-weight="bold" fill="#222">0.8</text>
<text x="356" y="286.7" font-size="7.0" text-anchor="end" font-weight="bold" fill="#222">1</text>
<text x="663.9" y="296" font-size="7.0" text-anchor="start" font-weight="bold" fill="#222">1</text>
<text x="423.8" y="326.7" font-size="7.5" text-anchor="middle" font-weight="bold" fill="#222">Telecom</text>
<text x="563.2" y="329.2" font-size="7.3" text-anchor="middle" font-weight="bold" fill="#222">GSCPI</text>
<rect x="667.8" y="167" width="5.8" height="147.8" fill="url(#jet)"/>
<line x1="672.4" y1="306.76" x2="673.6" y2="306.76" stroke="#444" stroke-width="0.4"/>
<text x="675.5" y="308.94" font-size="6.4" text-anchor="start" font-weight="bold" fill="#3a3a3a">-15</text>
<line x1="672.4" y1="291.3" x2="673.6" y2="291.3" stroke="#444" stroke-width="0.4"/>
<text x="675.5" y="293.48" font-size="6.4" text-anchor="start" font-weight="bold" fill="#3a3a3a">-10</text>
<line x1="672.4" y1="275.84" x2="673.6" y2="275.84" stroke="#444" stroke-width="0.4"/>
<text x="675.5" y="278.02" font-size="6.4" text-anchor="start" font-weight="bold" fill="#3a3a3a">-5</text>
<line x1="672.4" y1="260.38" x2="673.6" y2="260.38" stroke="#444" stroke-width="0.4"/>
<text x="675.5" y="262.56" font-size="6.4" text-anchor="start" font-weight="bold" fill="#3a3a3a">0</text>
<line x1="672.4" y1="244.92" x2="673.6" y2="244.92" stroke="#444" stroke-width="0.4"/>
<text x="675.5" y="247.1" font-size="6.4" text-anchor="start" font-weight="bold" fill="#3a3a3a">5</text>
<line x1="672.4" y1="229.46" x2="673.6" y2="229.46" stroke="#444" stroke-width="0.4"/>
<text x="675.5" y="231.64" font-size="6.4" text-anchor="start" font-weight="bold" fill="#3a3a3a">10</text>
<line x1="672.4" y1="214" x2="673.6" y2="214" stroke="#444" stroke-width="0.4"/>
<text x="675.5" y="216.18" font-size="6.4" text-anchor="start" font-weight="bold" fill="#3a3a3a">15</text>
<line x1="672.4" y1="198.54" x2="673.6" y2="198.54" stroke="#444" stroke-width="0.4"/>
<text x="675.5" y="200.71" font-size="6.4" text-anchor="start" font-weight="bold" fill="#3a3a3a">20</text>
<line x1="672.4" y1="183.08" x2="673.6" y2="183.08" stroke="#444" stroke-width="0.4"/>
<text x="675.5" y="185.25" font-size="6.4" text-anchor="start" font-weight="bold" fill="#3a3a3a">25</text>
<line x1="672.4" y1="167.62" x2="673.6" y2="167.62" stroke="#444" stroke-width="0.4"/>
<text x="675.5" y="169.79" font-size="6.4" text-anchor="start" font-weight="bold" fill="#3a3a3a">30</text>
<path d="M490.5 481.4L361.4 443.4L361.4 359.13M490.5 481.4L658.5 452.5L658.5 368.23M524.1 475.62L395 437.62L395 353.35M464.68 473.8L632.68 444.9L632.68 360.63M557.7 469.84L428.6 431.84L428.6 347.57M438.86 466.2L606.86 437.3L606.86 353.03M591.3 464.06L462.2 426.06L462.2 341.79M413.04 458.6L581.04 429.7L581.04 345.43M624.9 458.28L495.8 420.28L495.8 336.01M387.22 451L555.22 422.1L555.22 337.83M658.5 452.5L529.4 414.5L529.4 330.23M361.4 443.4L529.4 414.5L529.4 330.23M361.4 442.02L529.4 413.12L658.5 451.12M361.4 414.39L529.4 385.49L658.5 423.49M361.4 386.76L529.4 357.86L658.5 395.86M361.4 359.13L529.4 330.23L658.5 368.23" stroke="#e4e4e4" stroke-width="0.5" fill="none"/>
<path d="M361.4 443.4L361.4 359.13M361.4 443.4L490.5 481.4L658.5 452.5M361.4 442.02h-2M361.4 414.39h-2M361.4 386.76h-2M361.4 359.13h-2M490.5 481.4L487.98 481.83M490.5 481.4L492.44 481.97M464.68 473.8L462.16 474.23M524.1 475.62L526.04 476.19M438.86 466.2L436.34 466.63M557.7 469.84L559.64 470.41M413.04 458.6L410.52 459.03M591.3 464.06L593.24 464.63M387.22 451L384.7 451.43M624.9 458.28L626.84 458.85M361.4 443.4L358.88 443.83M658.5 452.5L660.44 453.07" stroke="#999" stroke-width="0.6" fill="none"/>
<g class="s">
<path d="M525.5 369l8.4 -1.5 -6.4 -1.9 -8.4 1.5z" class="j"/>
<path d="M517.1 376.8l8.4 -7.8 -6.4 -1.9 -8.4 7.8z" class="h"/>
<path d="M532 364.5l8.4 -1.4 -6.5 4.4 -8.4 1.5z" class="l"/>
<path d="M508.7 375.4l8.4 1.4 -6.4 -1.9 -8.4 -1.4z" class="i"/>
<path d="M523.6 363.1l8.4 1.4 -6.5 4.5 -8.4 7.8z" class="m"/>
<path d="M538.4 366.4l8.4 -1.4 -6.4 -1.9 -8.4 1.4z" class="l"/>
<path d="M500.3 369.1l8.4 6.3 -6.4 -1.9 -8.4 -6.3z" class="k"/>
<path d="M515.2 361l8.4 2.1 -6.5 13.7 -8.4 -1.4z" class="n"/>
<path d="M530 365l8.4 1.4 -6.4 -1.9 -8.4 -1.4z" class="m"/>
<path d="M544.9 370.4l8.4 -1.4 -6.5 -4 -8.4 1.4z" class="k"/>
<path d="M491.9 365.5l8.4 3.6 -6.4 -1.9 -8.4 -3.6z" class="m"/>
<path d="M506.8 366l8.4 -5 -6.5 14.4 -8.4 -6.3z" class="m"/>
<path d="M521.6 362.9l8.4 2.1 -6.4 -1.9 -8.4 -2.1z" class="n"/>
<path d="M536.5 366.9l8.4 3.5 -6.5 -4 -8.4 -1.4z" class="m"/>
<path d="M483.5 367l8.4 -1.5 -6.4 -1.9 -8.4 1.5z" class="m"/>
<path d="M551.3 380.1l8.4 -1.4 -6.4 -9.7 -8.4 1.4z" class="i"/>
<path d="M498.4 367.4l8.4 -1.4 -6.5 3.1 -8.4 -3.6z" class="m"/>
<path d="M513.2 367.9l8.4 -5 -6.4 -1.9 -8.4 5z" class="m"/>
<path d="M528.1 373.3l8.4 -6.4 -6.5 -1.9 -8.4 -2.1z" class="k"/>
<path d="M475.1 368.4l8.4 -1.4 -6.4 -1.9 -8.4 1.4z" class="m"/>
<path d="M542.9 381.6l8.4 -1.5 -6.4 -9.7 -8.4 -3.5z" class="i"/>
<path d="M490 368.9l8.4 -1.5 -6.5 -1.9 -8.4 1.5z" class="m"/>
<path d="M557.8 392.7l8.4 -1.4 -6.5 -12.6 -8.4 1.4z" class="f"/>
<path d="M504.8 369.3l8.4 -1.4 -6.4 -1.9 -8.4 1.4z" class="m"/>
<path d="M519.7 372.6l8.4 .7 -6.5 -10.4 -8.4 5z" class="l"/>
<path d="M466.7 369.9l8.4 -1.5 -6.4 -1.9 -8.4 1.5z" class="m"/>
<path d="M534.5 375.2l8.4 6.4 -6.4 -14.7 -8.4 6.4z" class="k"/>
<path d="M481.6 370.3l8.4 -1.4 -6.5 -1.9 -8.4 1.4z" class="m"/>
<path d="M549.4 383.5l8.4 9.2 -6.5 -12.6 -8.4 1.5z" class="i"/>
<path d="M496.4 370.8l8.4 -1.5 -6.4 -1.9 -8.4 1.5z" class="m"/>
<path d="M564.2 394.6l8.4 -1.4 -6.4 -1.9 -8.4 1.4z" class="f"/>
<path d="M511.3 374.1l8.4 -1.5 -6.5 -4.7 -8.4 1.4z" class="l"/>
<path d="M458.3 371.3l8.4 -1.4 -6.4 -1.9 -8.4 1.4z" class="m"/>
<path d="M526.1 376.7l8.4 -1.5 -6.4 -1.9 -8.4 -.7z" class="k"/>
<path d="M473.2 368.2l8.4 2.1 -6.5 -1.9 -8.4 1.5z" class="n"/>
<path d="M541 377.1l8.4 6.4 -6.5 -1.9 -8.4 -6.4z" class="k"/>
<path d="M488 372.2l8.4 -1.4 -6.4 -1.9 -8.4 1.4z" class="m"/>
<path d="M555.8 381.8l8.4 12.8 -6.4 -1.9 -8.4 -9.2z" class="j"/>
<path d="M502.9 375.5l8.4 -1.4 -6.5 -4.8 -8.4 1.5z" class="l"/>
<path d="M449.9 369.2l8.4 2.1 -6.4 -1.9 -8.4 -2.1z" class="n"/>
<path d="M570.7 396.5l8.4 -1.4 -6.5 -1.9 -8.4 1.4z" class="f"/>
<path d="M517.7 378.1l8.4 -1.4 -6.4 -4.1 -8.4 1.5z" class="k"/>
<path d="M464.8 369.7l8.4 -1.5 -6.5 1.7 -8.4 1.4z" class="n"/>
<path d="M532.6 378.6l8.4 -1.5 -6.5 -1.9 -8.4 1.5z" class="k"/>
<path d="M479.6 370.1l8.4 2.1 -6.4 -1.9 -8.4 -2.1z" class="n"/>
<path d="M547.4 376.9l8.4 4.9 -6.4 1.7 -8.4 -6.4z" class="l"/>
<path d="M494.5 374.1l8.4 1.4 -6.5 -4.7 -8.4 1.4z" class="m"/>
<path d="M441.5 366.4l8.4 2.8 -6.4 -1.9 -8.4 -2.8z" class="o"/>
<path d="M562.3 383.7l8.4 12.8 -6.5 -1.9 -8.4 -12.8z" class="j"/>
<path d="M509.3 377.4l8.4 .7 -6.4 -4 -8.4 1.4z" class="l"/>
<path d="M456.4 371.1l8.4 -1.4 -6.5 1.6 -8.4 -2.1z" class="n"/>
<path d="M577.2 371.4l8.3 -1.4 -6.4 25.1 -8.4 1.4z" class="n"/>
<path d="M524.2 380l8.4 -1.4 -6.5 -1.9 -8.4 1.4z" class="k"/>
<path d="M471.2 371.6l8.4 -1.5 -6.4 -1.9 -8.4 1.5z" class="n"/>
<path d="M539 380.5l8.4 -3.6 -6.4 .2 -8.4 1.5z" class="k"/>
<path d="M486.1 375.6l8.4 -1.5 -6.5 -1.9 -8.4 -2.1z" class="m"/>
<path d="M433.1 391.3l8.4 -24.9 -6.4 -1.9 -8.4 24.9z" class="h"/>
<path d="M553.9 378.8l8.4 4.9 -6.5 -1.9 -8.4 -4.9z" class="l"/>
<path d="M500.9 378.9l8.4 -1.5 -6.4 -1.9 -8.4 -1.4z" class="l"/>
<path d="M448 376.1l8.4 -5 -6.5 -1.9 -8.4 -2.8z" class="m"/>
<path d="M568.8 381.4l8.4 -10 -6.5 25.1 -8.4 -12.8z" class="k"/>
<path d="M515.8 379.3l8.4 .7 -6.5 -1.9 -8.4 -.7z" class="l"/>
<path d="M462.8 376.6l8.4 -5 -6.4 -1.9 -8.4 1.4z" class="m"/>
<path d="M583.6 369.1l8.4 -1.5 -6.5 2.4 -8.3 1.4z" class="o"/>
<path d="M530.6 381.9l8.4 -1.4 -6.4 -1.9 -8.4 1.4z" class="k"/>
<path d="M477.7 379.9l8.4 -4.3 -6.5 -5.5 -8.4 1.5z" class="l"/>
<path d="M424.7 389.9l8.4 1.4 -6.4 -1.9 -8.4 -1.4z" class="i"/>
<path d="M545.5 382.4l8.4 -3.6 -6.5 -1.9 -8.4 3.6z" class="k"/>
<path d="M492.5 380.3l8.4 -1.4 -6.4 -4.8 -8.4 1.5z" class="l"/>
<path d="M439.6 393.2l8.4 -17.1 -6.5 -9.7 -8.4 24.9z" class="h"/>
<path d="M560.3 382.8l8.5 -1.4 -6.5 2.3 -8.4 -4.9z" class="k"/>
<path d="M507.4 380.8l8.4 -1.5 -6.5 -1.9 -8.4 1.5z" class="l"/>
<path d="M454.4 378l8.4 -1.4 -6.4 -5.5 -8.4 5z" class="m"/>
<path d="M575.2 383.3l8.4 -14.2 -6.4 2.3 -8.4 10z" class="k"/>
<path d="M522.2 383.4l8.4 -1.5 -6.4 -1.9 -8.4 -.7z" class="k"/>
<path d="M469.3 381.3l8.4 -1.4 -6.5 -8.3 -8.4 5z" class="l"/>
<path d="M416.3 407l8.4 -17.1 -6.4 -1.9 -8.4 17.1z" class="e"/>
<path d="M590.1 375.2l8.4 -1.4 -6.5 -6.2 -8.4 1.5z" class="n"/>
<path d="M537.1 388.1l8.4 -5.7 -6.5 -1.9 -8.4 1.4z" class="j"/>
<path d="M484.1 383.9l8.4 -3.6 -6.4 -4.7 -8.4 4.3z" class="k"/>
<path d="M431.2 391.8l8.4 1.4 -6.5 -1.9 -8.4 -1.4z" class="i"/>
<path d="M552 384.3l8.3 -1.5 -6.4 -4 -8.4 3.6z" class="k"/>
<path d="M499 388.6l8.4 -7.8 -6.5 -1.9 -8.4 1.4z" class="j"/>
<path d="M446 392.2l8.4 -14.2 -6.4 -1.9 -8.4 17.1z" class="i"/>
<path d="M566.8 389l8.4 -5.7 -6.4 -1.9 -8.5 1.4z" class="j"/>
<path d="M513.8 384.8l8.4 -1.4 -6.4 -4.1 -8.4 1.5z" class="k"/>
<path d="M460.9 379.9l8.4 1.4 -6.5 -4.7 -8.4 1.4z" class="m"/>
<path d="M407.9 395.6l8.4 11.4 -6.4 -1.9 -8.4 -11.4z" class="h"/>
<path d="M581.7 385.2l8.4 -10 -6.5 -6.1 -8.4 14.2z" class="k"/>
<path d="M528.7 389.5l8.4 -1.4 -6.5 -6.2 -8.4 1.5z" class="j"/>
<path d="M475.7 385.3l8.4 -1.4 -6.4 -4 -8.4 1.4z" class="k"/>
<path d="M422.8 393.2l8.4 -1.4 -6.5 -1.9 -8.4 17.1z" class="i"/>
<path d="M596.5 389.9l8.4 -1.5 -6.4 -14.6 -8.4 1.4z" class="j"/>
<path d="M543.5 390l8.5 -5.7 -6.5 -1.9 -8.4 5.7z" class="j"/>
<path d="M490.6 385.8l8.4 2.8 -6.5 -8.3 -8.4 3.6z" class="k"/>
<path d="M437.6 393.7l8.4 -1.5 -6.4 1 -8.4 -1.4z" class="i"/>
<path d="M558.4 390.4l8.4 -1.4 -6.5 -6.2 -8.3 1.5z" class="j"/>
<path d="M505.4 390.5l8.4 -5.7 -6.4 -4 -8.4 7.8z" class="j"/>
<path d="M452.5 381.4l8.4 -1.5 -6.5 -1.9 -8.4 14.2z" class="m"/>
<path d="M399.5 394.2l8.4 1.4 -6.4 -1.9 -8.4 -1.4z" class="i"/>
<path d="M573.3 390.9l8.4 -5.7 -6.5 -1.9 -8.4 5.7z" class="j"/>
<path d="M520.3 391l8.4 -1.5 -6.5 -6.1 -8.4 1.4z" class="j"/>
<path d="M467.3 384.7l8.4 .6 -6.4 -4 -8.4 -1.4z" class="l"/>
<path d="M414.4 394.7l8.4 -1.5 -6.5 13.8 -8.4 -11.4z" class="i"/>
<path d="M588.1 378.6l8.4 11.3 -6.4 -14.7 -8.4 10z" class="n"/>
<path d="M535.2 391.4l8.3 -1.4 -6.4 -1.9 -8.4 1.4z" class="j"/>
<path d="M482.2 387.2l8.4 -1.4 -6.5 -1.9 -8.4 1.4z" class="k"/>
<path d="M429.2 395.1l8.4 -1.4 -6.4 -1.9 -8.4 1.4z" class="i"/>
<path d="M603 379l8.4 -13.8 -6.5 23.2 -8.4 1.5z" class="n"/>
<path d="M550 395.4l8.4 -5 -6.4 -6.1 -8.5 5.7z" class="i"/>
<path d="M497 387.7l8.4 2.8 -6.4 -1.9 -8.4 -2.8z" class="k"/>
<path d="M444.1 387.8l8.4 -6.4 -6.5 10.8 -8.4 1.5z" class="k"/>
<path d="M391.1 392.1l8.4 2.1 -6.4 -1.9 -8.4 -2.1z" class="j"/>
<path d="M564.9 395.9l8.4 -5 -6.5 -1.9 -8.4 1.4z" class="i"/>
<path d="M511.9 392.4l8.4 -1.4 -6.5 -6.2 -8.4 5.7z" class="j"/>
<path d="M458.9 386.1l8.4 -1.4 -6.4 -4.8 -8.4 1.5z" class="l"/>
<path d="M406 396.1l8.4 -1.4 -6.5 .9 -8.4 -1.4z" class="i"/>
<path d="M579.7 380l8.4 -1.4 -6.4 6.6 -8.4 5.7z" class="n"/>
<path d="M526.8 392.9l8.4 -1.5 -6.5 -1.9 -8.4 1.5z" class="j"/>
<path d="M473.8 388.7l8.4 -1.5 -6.5 -1.9 -8.4 -.6z" class="k"/>
<path d="M420.8 399.4l8.4 -4.3 -6.4 -1.9 -8.4 1.5z" class="h"/>
<path d="M594.6 371.2l8.4 7.8 -6.5 10.9 -8.4 -11.3z" class="q2"/>
<path d="M541.6 393.3l8.4 2.1 -6.5 -5.4 -8.3 1.4z" class="j"/>
<path d="M488.6 389.1l8.4 -1.4 -6.4 -1.9 -8.4 1.4z" class="k"/>
<path d="M435.7 393.5l8.4 -5.7 -6.5 5.9 -8.4 1.4z" class="j"/>
<path d="M609.4 387.3l8.4 -14.7 -6.4 -7.4 -8.4 13.8z" class="l"/>
<path d="M382.7 393.6l8.4 -1.5 -6.4 -1.9 -8.4 1.5z" class="j"/>
<path d="M556.5 397.3l8.4 -1.4 -6.5 -5.5 -8.4 5z" class="i"/>
<path d="M503.5 393.9l8.4 -1.5 -6.5 -1.9 -8.4 -2.8z" class="j"/>
<path d="M450.5 387.5l8.4 -1.4 -6.4 -4.7 -8.4 6.4z" class="l"/>
<path d="M397.6 394l8.4 2.1 -6.5 -1.9 -8.4 -2.1z" class="j"/>
<path d="M571.3 377.2l8.4 2.8 -6.4 10.9 -8.4 5z" class="o"/>
<path d="M518.3 394.3l8.5 -1.4 -6.5 -1.9 -8.4 1.4z" class="j"/>
<path d="M465.4 388l8.4 .7 -6.5 -4 -8.4 1.4z" class="l"/>
<path d="M412.4 400.9l8.4 -1.5 -6.4 -4.7 -8.4 1.4z" class="h"/>
<path d="M586.2 374.8l8.4 -3.6 -6.5 7.4 -8.4 1.4z" class="q"/>
<path d="M533.2 390.5l8.4 2.8 -6.4 -1.9 -8.4 1.5z" class="k"/>
<path d="M480.2 390.6l8.4 -1.5 -6.4 -1.9 -8.4 1.5z" class="k"/>
<path d="M427.3 394.9l8.4 -1.4 -6.5 1.6 -8.4 4.3z" class="j"/>
<path d="M601 388.7l8.4 -1.4 -6.4 -8.3 -8.4 -7.8z" class="l"/>
<path d="M548.1 386l8.4 11.3 -6.5 -1.9 -8.4 -2.1z" class="m"/>
<path d="M495.1 391l8.4 2.9 -6.5 -6.2 -8.4 1.4z" class="k"/>
<path d="M442.1 395.4l8.4 -7.9 -6.4 .3 -8.4 5.7z" class="j"/>
<path d="M615.9 402l8.4 -1.5 -6.5 -27.9 -8.4 14.7z" class="h"/>
<path d="M389.2 395.5l8.4 -1.5 -6.5 -1.9 -8.4 1.5z" class="j"/>
<path d="M562.9 382.9l8.4 -5.7 -6.4 18.7 -8.4 1.4z" class="n"/>
<path d="M509.9 395.8l8.4 -1.5 -6.4 -1.9 -8.4 1.5z" class="j"/>
<path d="M457 389.4l8.4 -1.4 -6.5 -1.9 -8.4 1.4z" class="l"/>
<path d="M404 399.5l8.4 1.4 -6.4 -4.8 -8.4 -2.1z" class="i"/>
<path d="M577.8 379.1l8.4 -4.3 -6.5 5.2 -8.4 -2.8z" class="o"/>
<path d="M524.8 396.2l8.4 -5.7 -6.4 2.4 -8.5 1.4z" class="j"/>
<path d="M471.8 392l8.4 -1.4 -6.4 -1.9 -8.4 -.7z" class="k"/>
<path d="M418.9 399.9l8.4 -5 -6.5 4.5 -8.4 1.5z" class="i"/>
<path d="M592.6 392.3l8.4 -3.6 -6.4 -17.5 -8.4 3.6z" class="k"/>
<path d="M539.7 392.4l8.4 -6.4 -6.5 7.3 -8.4 -2.8z" class="k"/>
<path d="M486.7 396.7l8.4 -5.7 -6.5 -1.9 -8.4 1.5z" class="j"/>
<path d="M433.7 392.6l8.4 2.8 -6.4 -1.9 -8.4 1.4z" class="k"/>
<path d="M607.5 416.2l8.4 -14.2 -6.5 -14.7 -8.4 1.4z" class="e"/>
<path d="M554.5 384.3l8.4 -1.4 -6.4 14.4 -8.4 -11.3z" class="n"/>
<path d="M501.6 397.2l8.3 -1.4 -6.4 -1.9 -8.4 -2.9z" class="j"/>
<path d="M448.6 397.3l8.4 -7.9 -6.5 -1.9 -8.4 7.9z" class="j"/>
<path d="M622.3 416.7l8.4 -1.5 -6.4 -14.7 -8.4 1.5z" class="e"/>
<path d="M395.6 397.4l8.4 2.1 -6.4 -5.5 -8.4 1.5z" class="j"/>
<path d="M569.4 384.8l8.4 -5.7 -6.5 -1.9 -8.4 5.7z" class="n"/>
<path d="M516.4 397.7l8.4 -1.5 -6.5 -1.9 -8.4 1.5z" class="j"/>
<path d="M463.4 391.3l8.4 .7 -6.4 -4 -8.4 1.4z" class="l"/>
<path d="M410.5 397.8l8.4 2.1 -6.5 1 -8.4 -1.4z" class="j"/>
<path d="M584.2 388.8l8.4 3.5 -6.4 -17.5 -8.4 4.3z" class="m"/>
<path d="M531.3 393.8l8.4 -1.4 -6.5 -1.9 -8.4 5.7z" class="k"/>
<path d="M478.3 398.2l8.4 -1.5 -6.5 -6.1 -8.4 1.4z" class="j"/>
<path d="M425.3 394l8.4 -1.4 -6.4 2.3 -8.4 5z" class="k"/>
<path d="M599.1 417.7l8.4 -1.5 -6.5 -27.5 -8.4 3.6z" class="e"/>
<path d="M546.1 385.8l8.4 -1.5 -6.4 1.7 -8.4 6.4z" class="n"/>
<path d="M493.2 398.6l8.4 -1.4 -6.5 -6.2 -8.4 5.7z" class="j"/>
<path d="M440.2 394.5l8.4 2.8 -6.5 -1.9 -8.4 -2.8z" class="k"/>
<path d="M613.9 418.1l8.4 -1.4 -6.4 -14.7 -8.4 14.2z" class="e"/>
<path d="M561 382l8.4 2.8 -6.5 -1.9 -8.4 1.4z" class="o"/>
<path d="M508 394.8l8.4 2.9 -6.5 -1.9 -8.3 1.4z" class="k"/>
<path d="M455 399.2l8.4 -7.9 -6.4 -1.9 -8.4 7.9z" class="j"/>
<path d="M628.8 402.9l8.4 -1.4 -6.5 13.7 -8.4 1.5z" class="i"/>
<path d="M402.1 390l8.4 7.8 -6.5 1.7 -8.4 -2.1z" class="m"/>
<path d="M575.8 390.2l8.4 -1.4 -6.4 -9.7 -8.4 5.7z" class="m"/>
<path d="M522.9 395.3l8.4 -1.5 -6.5 2.4 -8.4 1.5z" class="k"/>
<path d="M469.9 395.4l8.4 2.8 -6.5 -6.2 -8.4 -.7z" class="k"/>
<path d="M416.9 395.5l8.4 -1.5 -6.4 5.9 -8.4 -2.1z" class="k"/>
<path d="M590.7 419.1l8.4 -1.4 -6.5 -25.4 -8.4 -3.5z" class="e"/>
<path d="M537.7 387.2l8.4 -1.4 -6.4 6.6 -8.4 1.4z" class="n"/>
<path d="M484.7 400.1l8.5 -1.5 -6.5 -1.9 -8.4 1.5z" class="j"/>
<path d="M431.8 393.8l8.4 .7 -6.5 -1.9 -8.4 1.4z" class="l"/>
<path d="M605.5 419.6l8.4 -1.5 -6.4 -1.9 -8.4 1.5z" class="e"/>
<path d="M552.6 383.4l8.4 -1.4 -6.5 2.3 -8.4 1.5z" class="o"/>
<path d="M499.6 400.5l8.4 -5.7 -6.4 2.4 -8.4 1.4z" class="j"/>
<path d="M446.6 400.6l8.4 -1.4 -6.4 -1.9 -8.4 -2.8z" class="j"/>
<path d="M620.4 404.4l8.4 -1.5 -6.5 13.8 -8.4 1.4z" class="i"/>
<path d="M567.4 391.7l8.4 -1.5 -6.4 -5.4 -8.4 -2.8z" class="m"/>
<path d="M514.5 394.6l8.4 .7 -6.5 2.4 -8.4 -2.9z" class="l"/>
<path d="M461.5 401.1l8.4 -5.7 -6.5 -4.1 -8.4 7.9z" class="j"/>
<path d="M635.2 401.3l8.4 -1.5 -6.4 1.7 -8.4 1.4z" class="j"/>
<path d="M408.5 384.1l8.4 11.4 -6.4 2.3 -8.4 -7.8z" class="o"/>
<path d="M582.3 420.5l8.4 -1.4 -6.5 -30.3 -8.4 1.4z" class="e"/>
<path d="M529.3 388.7l8.4 -1.5 -6.4 6.6 -8.4 1.5z" class="n"/>
<path d="M476.3 401.5l8.4 -1.4 -6.4 -1.9 -8.4 -2.8z" class="j"/>
<path d="M423.4 397.4l8.4 -3.6 -6.5 .2 -8.4 1.5z" class="k"/>
<path d="M597.1 421l8.4 -1.4 -6.4 -1.9 -8.4 1.4z" class="e"/>
<path d="M544.2 389.1l8.4 -5.7 -6.5 2.4 -8.4 1.4z" class="n"/>
<path d="M491.2 402l8.4 -1.5 -6.4 -1.9 -8.5 1.5z" class="j"/>
<path d="M438.2 402.1l8.4 -1.5 -6.4 -6.1 -8.4 -.7z" class="j"/>
<path d="M612 405.8l8.4 -1.4 -6.5 13.7 -8.4 1.5z" class="i"/>
<path d="M559 393.1l8.4 -1.4 -6.4 -9.7 -8.4 1.4z" class="m"/>
<path d="M506.1 398.2l8.4 -3.6 -6.5 .2 -8.4 5.7z" class="k"/>
<path d="M453.1 402.5l8.4 -1.4 -6.5 -1.9 -8.4 1.4z" class="j"/>
<path d="M626.8 402.7l8.4 -1.4 -6.4 1.6 -8.4 1.5z" class="j"/>
<path d="M573.9 422l8.4 -1.5 -6.5 -30.3 -8.4 1.5z" class="e"/>
<path d="M520.9 390.1l8.4 -1.4 -6.4 6.6 -8.4 -.7z" class="n"/>
<path d="M467.9 403l8.4 -1.5 -6.4 -6.1 -8.4 5.7z" class="j"/>
<path d="M415 386l8.4 11.4 -6.5 -1.9 -8.4 -11.4z" class="o"/>
<path d="M588.7 422.4l8.4 -1.4 -6.4 -1.9 -8.4 1.4z" class="e"/>
<path d="M535.8 390.6l8.4 -1.5 -6.5 -1.9 -8.4 1.5z" class="n"/>
<path d="M482.8 403.4l8.4 -1.4 -6.5 -1.9 -8.4 1.4z" class="j"/>
<path d="M429.8 399.3l8.4 2.8 -6.4 -8.3 -8.4 3.6z" class="k"/>
<path d="M603.6 407.3l8.4 -1.5 -6.5 13.8 -8.4 1.4z" class="i"/>
<path d="M550.6 391l8.4 2.1 -6.4 -9.7 -8.4 5.7z" class="n"/>
<path d="M497.7 403.9l8.4 -5.7 -6.5 2.3 -8.4 1.5z" class="j"/>
<path d="M444.7 407.5l8.4 -5 -6.5 -1.9 -8.4 1.5z" class="i"/>
<path d="M618.4 404.2l8.4 -1.5 -6.4 1.7 -8.4 1.4z" class="j"/>
<path d="M565.5 432l8.4 -10 -6.5 -30.3 -8.4 1.4z" class="c"/>
<path d="M512.5 391.6l8.4 -1.5 -6.4 4.5 -8.4 3.6z" class="n"/>
<path d="M459.6 408l8.3 -5 -6.4 -1.9 -8.4 1.4z" class="i"/>
<path d="M580.3 432.4l8.4 -10 -6.4 -1.9 -8.4 1.5z" class="c"/>
<path d="M527.4 387.8l8.4 2.8 -6.5 -1.9 -8.4 1.4z" class="o"/>
<path d="M474.4 404.9l8.4 -1.5 -6.5 -1.9 -8.4 1.5z" class="j"/>
<path d="M421.4 395.7l8.4 3.6 -6.4 -1.9 -8.4 -11.4z" class="m"/>
<path d="M595.2 408.7l8.4 -1.4 -6.5 13.7 -8.4 1.4z" class="i"/>
<path d="M542.2 392.5l8.4 -1.5 -6.4 -1.9 -8.4 1.5z" class="n"/>
<path d="M489.3 401.1l8.4 2.8 -6.5 -1.9 -8.4 1.4z" class="k"/>
<path d="M436.3 409l8.4 -1.5 -6.5 -5.4 -8.4 -2.8z" class="i"/>
<path d="M610 405.6l8.4 -1.4 -6.4 1.6 -8.4 1.5z" class="j"/>
<path d="M557.1 433.4l8.4 -1.4 -6.5 -38.9 -8.4 -2.1z" class="c"/>
<path d="M504.1 396.6l8.4 -5 -6.4 6.6 -8.4 5.7z" class="m"/>
<path d="M451.2 409.4l8.4 -1.4 -6.5 -5.5 -8.4 5z" class="i"/>
<path d="M571.9 433.9l8.4 -1.5 -6.4 -10.4 -8.4 10z" class="c"/>
<path d="M519 386.4l8.4 1.4 -6.5 2.3 -8.4 1.5z" class="q"/>
<path d="M466 406.3l8.4 -1.4 -6.5 -1.9 -8.3 5z" class="j"/>
<path d="M586.8 410.2l8.4 -1.5 -6.5 13.7 -8.4 10z" class="i"/>
<path d="M533.8 384.7l8.4 7.8 -6.4 -1.9 -8.4 -2.8z" class="q2"/>
<path d="M480.9 402.5l8.4 -1.4 -6.5 2.3 -8.4 1.5z" class="k"/>
<path d="M427.9 400.5l8.4 8.5 -6.5 -9.7 -8.4 -3.6z" class="l"/>
<path d="M601.6 407.1l8.4 -1.5 -6.4 1.7 -8.4 1.4z" class="j"/>
<path d="M548.7 421.4l8.4 12 -6.5 -42.4 -8.4 1.5z" class="f"/>
<path d="M495.7 394.5l8.4 2.1 -6.4 7.3 -8.4 -2.8z" class="n"/>
<path d="M442.8 410.9l8.4 -1.5 -6.5 -1.9 -8.4 1.5z" class="i"/>
<path d="M563.5 435.3l8.4 -1.4 -6.4 -1.9 -8.4 1.4z" class="c"/>
<path d="M510.6 390.6l8.4 -4.2 -6.5 5.2 -8.4 5z" class="o"/>
<path d="M457.6 407.8l8.4 -1.5 -6.4 1.7 -8.4 1.4z" class="j"/>
<path d="M578.4 411.6l8.4 -1.4 -6.5 22.2 -8.4 1.5z" class="i"/>
<path d="M525.4 388.3l8.4 -3.6 -6.4 3.1 -8.4 -1.4z" class="q"/>
<path d="M472.5 404l8.4 -1.5 -6.5 2.4 -8.4 1.4z" class="k"/>
<path d="M593.2 412.1l8.4 -5 -6.4 1.6 -8.4 1.5z" class="i"/>
<path d="M540.3 422.8l8.4 -1.4 -6.5 -28.9 -8.4 -7.8z" class="f"/>
<path d="M487.3 395.9l8.4 -1.4 -6.4 6.6 -8.4 1.4z" class="n"/>
<path d="M434.3 427.9l8.5 -17 -6.5 -1.9 -8.4 -8.5z" class="e"/>
<path d="M555.1 436.7l8.4 -1.4 -6.4 -1.9 -8.4 -12z" class="c"/>
<path d="M502.2 392.1l8.4 -1.5 -6.5 6 -8.4 -2.1z" class="o"/>
<path d="M449.2 415.6l8.4 -7.8 -6.4 1.6 -8.4 1.5z" class="h"/>
<path d="M570 413.1l8.4 -1.5 -6.5 22.3 -8.4 1.4z" class="i"/>
<path d="M517 389.7l8.4 -1.4 -6.4 -1.9 -8.4 4.2z" class="q"/>
<path d="M464.1 405.4l8.4 -1.4 -6.5 2.3 -8.4 1.5z" class="k"/>
<path d="M584.8 413.5l8.4 -1.4 -6.4 -1.9 -8.4 1.4z" class="i"/>
<path d="M531.9 400.8l8.4 22 -6.5 -38.1 -8.4 3.6z" class="m"/>
<path d="M478.9 397.3l8.4 -1.4 -6.4 6.6 -8.4 1.5z" class="n"/>
<path d="M546.7 424.7l8.4 12 -6.4 -15.3 -8.4 1.4z" class="f"/>
<path d="M493.8 393.5l8.4 -1.4 -6.5 2.4 -8.4 1.4z" class="o"/>
<path d="M440.8 417l8.4 -1.4 -6.4 -4.7 -8.5 17z" class="h"/>
<path d="M561.6 425.2l8.4 -12.1 -6.5 22.2 -8.4 1.4z" class="f"/>
<path d="M508.6 391.2l8.4 -1.5 -6.4 .9 -8.4 1.5z" class="q"/>
<path d="M455.7 401.9l8.4 3.5 -6.5 2.4 -8.4 7.8z" class="m"/>
<path d="M576.4 415l8.4 -1.5 -6.4 -1.9 -8.4 1.5z" class="i"/>
<path d="M523.5 391.6l8.4 9.2 -6.5 -12.5 -8.4 1.4z" class="q"/>
<path d="M470.5 398.8l8.4 -1.5 -6.4 6.7 -8.4 1.4z" class="n"/>
<path d="M538.3 431.1l8.4 -6.4 -6.4 -1.9 -8.4 -22z" class="e"/>
<path d="M485.4 395l8.4 -1.5 -6.5 2.4 -8.4 1.4z" class="o"/>
<path d="M553.2 426.6l8.4 -1.4 -6.5 11.5 -8.4 -12z" class="f"/>
<path d="M500.2 392.6l8.4 -1.4 -6.4 .9 -8.4 1.4z" class="q"/>
<path d="M447.3 412.6l8.4 -10.7 -6.5 13.7 -8.4 1.4z" class="j"/>
<path d="M568 416.4l8.4 -1.4 -6.4 -1.9 -8.4 12.1z" class="i"/>
<path d="M515.1 393.1l8.4 -1.5 -6.5 -1.9 -8.4 1.5z" class="q"/>
<path d="M462.1 403.8l8.4 -5 -6.4 6.6 -8.4 -3.5z" class="m"/>
<path d="M529.9 448.9l8.4 -17.8 -6.4 -30.3 -8.4 -9.2z" class="b"/>
<path d="M477 396.4l8.4 -1.4 -6.5 2.3 -8.4 1.5z" class="o"/>
<path d="M544.8 428l8.4 -1.4 -6.5 -1.9 -8.4 6.4z" class="f"/>
<path d="M491.8 396.9l8.4 -4.3 -6.4 .9 -8.4 1.5z" class="o"/>
<path d="M559.6 417.8l8.4 -1.4 -6.4 8.8 -8.4 1.4z" class="i"/>
<path d="M506.7 394.5l8.4 -1.4 -6.5 -1.9 -8.4 1.4z" class="q"/>
<path d="M453.7 405.2l8.4 -1.4 -6.4 -1.9 -8.4 10.7z" class="m"/>
<path d="M521.5 450.3l8.4 -1.4 -6.4 -57.3 -8.4 1.5z" class="b"/>
<path d="M468.6 397.9l8.4 -1.5 -6.5 2.4 -8.4 5z" class="o"/>
<path d="M536.4 450.8l8.4 -22.8 -6.5 3.1 -8.4 17.8z" class="b"/>
<path d="M483.4 398.3l8.4 -1.4 -6.4 -1.9 -8.4 1.4z" class="o"/>
<path d="M551.2 425l8.4 -7.2 -6.4 8.8 -8.4 1.4z" class="g"/>
<path d="M498.3 403l8.4 -8.5 -6.5 -1.9 -8.4 4.3z" class="n"/>
<path d="M513.1 451.8l8.4 -1.5 -6.4 -57.2 -8.4 1.4z" class="b"/>
<path d="M460.2 399.3l8.4 -1.4 -6.5 5.9 -8.4 1.4z" class="o"/>
<path d="M528 452.2l8.4 -1.4 -6.5 -1.9 -8.4 1.4z" class="b"/>
<path d="M475 399.8l8.4 -1.5 -6.4 -1.9 -8.4 1.5z" class="o"/>
<path d="M542.8 431.4l8.4 -6.4 -6.4 3 -8.4 22.8z" class="f"/>
<path d="M489.9 436.4l8.4 -33.4 -6.5 -6.1 -8.4 1.4z" class="e"/>
<path d="M504.7 453.2l8.4 -1.4 -6.4 -57.3 -8.4 8.5z" class="b"/>
<path d="M519.6 453.7l8.4 -1.5 -6.5 -1.9 -8.4 1.5z" class="b"/>
<path d="M466.6 401.2l8.4 -1.4 -6.4 -1.9 -8.4 1.4z" class="o"/>
<path d="M534.4 454.1l8.4 -22.7 -6.4 19.4 -8.4 1.4z" class="b"/>
<path d="M481.5 437.9l8.4 -1.5 -6.5 -38.1 -8.4 1.5z" class="e"/>
<path d="M496.3 438.3l8.4 14.9 -6.4 -50.2 -8.4 33.4z" class="e"/>
<path d="M511.2 464.4l8.4 -10.7 -6.5 -1.9 -8.4 1.4z" class="a"/>
<path d="M526 455.6l8.4 -1.5 -6.4 -1.9 -8.4 1.5z" class="b"/>
<path d="M473.1 439.3l8.4 -1.4 -6.5 -38.1 -8.4 1.4z" class="e"/>
<path d="M487.9 439.8l8.4 -1.5 -6.4 -1.9 -8.4 1.5z" class="e"/>
<path d="M502.8 465.8l8.4 -1.4 -6.5 -11.2 -8.4 -14.9z" class="a"/>
<path d="M517.6 466.3l8.4 -10.7 -6.4 -1.9 -8.4 10.7z" class="a"/>
<path d="M479.5 441.2l8.4 -1.4 -6.4 -1.9 -8.4 1.4z" class="e"/>
<path d="M494.4 467.2l8.4 -1.4 -6.5 -27.5 -8.4 1.5z" class="a"/>
<path d="M509.2 467.7l8.4 -1.4 -6.4 -1.9 -8.4 1.4z" class="a"/>
<path d="M486 468.7l8.4 -1.5 -6.5 -27.4 -8.4 1.4z" class="a"/>
<path d="M500.8 469.1l8.4 -1.4 -6.4 -1.9 -8.4 1.4z" class="a"/>
<path d="M492.4 470.6l8.4 -1.5 -6.4 -1.9 -8.4 1.5z" class="a"/>
</g>
<text x="356.4" y="444.42" font-size="7.0" text-anchor="end" font-weight="bold" fill="#222">-20</text>
<text x="356.4" y="416.79" font-size="7.0" text-anchor="end" font-weight="bold" fill="#222">-10</text>
<text x="356.4" y="389.16" font-size="7.0" text-anchor="end" font-weight="bold" fill="#222">0</text>
<text x="356.4" y="361.53" font-size="7.0" text-anchor="end" font-weight="bold" fill="#222">10</text>
<text x="485.1" y="490.6" font-size="7.0" text-anchor="end" font-weight="bold" fill="#222">0</text>
<text x="495.9" y="490.6" font-size="7.0" text-anchor="start" font-weight="bold" fill="#222">0</text>
<text x="459.28" y="483" font-size="7.0" text-anchor="end" font-weight="bold" fill="#222">0.2</text>
<text x="529.5" y="484.82" font-size="7.0" text-anchor="start" font-weight="bold" fill="#222">0.2</text>
<text x="433.46" y="475.4" font-size="7.0" text-anchor="end" font-weight="bold" fill="#222">0.4</text>
<text x="563.1" y="479.04" font-size="7.0" text-anchor="start" font-weight="bold" fill="#222">0.4</text>
<text x="407.64" y="467.8" font-size="7.0" text-anchor="end" font-weight="bold" fill="#222">0.6</text>
<text x="596.7" y="473.26" font-size="7.0" text-anchor="start" font-weight="bold" fill="#222">0.6</text>
<text x="381.82" y="460.2" font-size="7.0" text-anchor="end" font-weight="bold" fill="#222">0.8</text>
<text x="630.3" y="467.48" font-size="7.0" text-anchor="start" font-weight="bold" fill="#222">0.8</text>
<text x="356" y="452.6" font-size="7.0" text-anchor="end" font-weight="bold" fill="#222">1</text>
<text x="663.9" y="461.7" font-size="7.0" text-anchor="start" font-weight="bold" fill="#222">1</text>
<text x="423.3" y="492.3" font-size="7.5" text-anchor="middle" font-weight="bold" fill="#222">Materials</text>
<text x="558.4" y="494" font-size="7.3" text-anchor="middle" font-weight="bold" fill="#222">GSCPI</text>
<rect x="667.8" y="332.2" width="5.8" height="147.8" fill="url(#jet)"/>
<line x1="672.4" y1="463.9" x2="673.6" y2="463.9" stroke="#444" stroke-width="0.4"/>
<text x="675.5" y="466.07" font-size="6.4" text-anchor="start" font-weight="bold" fill="#3a3a3a">-15</text>
<line x1="672.4" y1="435.14" x2="673.6" y2="435.14" stroke="#444" stroke-width="0.4"/>
<text x="675.5" y="437.32" font-size="6.4" text-anchor="start" font-weight="bold" fill="#3a3a3a">-10</text>
<line x1="672.4" y1="406.39" x2="673.6" y2="406.39" stroke="#444" stroke-width="0.4"/>
<text x="675.5" y="408.56" font-size="6.4" text-anchor="start" font-weight="bold" fill="#3a3a3a">-5</text>
<line x1="672.4" y1="377.63" x2="673.6" y2="377.63" stroke="#444" stroke-width="0.4"/>
<text x="675.5" y="379.81" font-size="6.4" text-anchor="start" font-weight="bold" fill="#3a3a3a">0</text>
<line x1="672.4" y1="348.88" x2="673.6" y2="348.88" stroke="#444" stroke-width="0.4"/>
<text x="675.5" y="351.05" font-size="6.4" text-anchor="start" font-weight="bold" fill="#3a3a3a">5</text>
<path d="M490.5 646L361.4 607.8L361.4 524.15M490.5 646L658.5 617L658.5 533.35M524.1 640.2L395 602L395 518.35M464.68 638.36L632.68 609.36L632.68 525.71M557.7 634.4L428.6 596.2L428.6 512.55M438.86 630.72L606.86 601.72L606.86 518.07M591.3 628.6L462.2 590.4L462.2 506.75M413.04 623.08L581.04 594.08L581.04 510.43M624.9 622.8L495.8 584.6L495.8 500.95M387.22 615.44L555.22 586.44L555.22 502.79M658.5 617L529.4 578.8L529.4 495.15M361.4 607.8L529.4 578.8L529.4 495.15M361.4 607.25L529.4 578.25L658.5 616.45M361.4 579.55L529.4 550.55L658.5 588.75M361.4 551.85L529.4 522.85L658.5 561.05M361.4 524.15L529.4 495.15L658.5 533.35" stroke="#e4e4e4" stroke-width="0.5" fill="none"/>
<path d="M361.4 607.8L361.4 524.15M361.4 607.8L490.5 646L658.5 617M361.4 607.25h-2M361.4 579.55h-2M361.4 551.85h-2M361.4 524.15h-2M490.5 646L487.98 646.43M490.5 646L492.44 646.57M464.68 638.36L462.16 638.79M524.1 640.2L526.04 640.77M438.86 630.72L436.34 631.15M557.7 634.4L559.64 634.97M413.04 623.08L410.52 623.51M591.3 628.6L593.24 629.17M387.22 615.44L384.7 615.87M624.9 622.8L626.84 623.37M361.4 607.8L358.88 608.23M658.5 617L660.44 617.57" stroke="#999" stroke-width="0.6" fill="none"/>
<g class="s">
<path d="M525.5 525l8.4 -1.5 -6.4 -1.9 -8.4 1.4z" class="l"/>
<path d="M517.1 526.4l8.4 -1.4 -6.4 -2 -8.4 1.5z" class="l"/>
<path d="M532 529.1l8.4 -1.4 -6.5 -4.2 -8.4 1.5z" class="k"/>
<path d="M508.7 527.9l8.4 -1.5 -6.4 -1.9 -8.4 1.4z" class="l"/>
<path d="M523.6 530.6l8.4 -1.5 -6.5 -4.1 -8.4 1.4z" class="k"/>
<path d="M538.4 535.6l8.4 -1.4 -6.4 -6.5 -8.4 1.4z" class="j"/>
<path d="M500.3 526.3l8.4 1.6 -6.4 -2 -8.4 -1.5z" class="m"/>
<path d="M515.2 529.8l8.4 .8 -6.5 -4.2 -8.4 1.5z" class="l"/>
<path d="M530 532.5l8.4 3.1 -6.4 -6.5 -8.4 1.5z" class="k"/>
<path d="M544.9 547.4l8.4 -1.4 -6.5 -11.8 -8.4 1.4z" class="g"/>
<path d="M491.9 530.8l8.4 -4.5 -6.4 -1.9 -8.4 4.4z" class="l"/>
<path d="M506.8 531.2l8.4 -1.4 -6.5 -1.9 -8.4 -1.6z" class="l"/>
<path d="M521.6 534l8.4 -1.5 -6.4 -1.9 -8.4 -.8z" class="k"/>
<path d="M536.5 548.9l8.4 -1.5 -6.5 -11.8 -8.4 -3.1z" class="g"/>
<path d="M483.5 532.2l8.4 -1.4 -6.4 -2 -8.4 1.5z" class="l"/>
<path d="M551.3 560l8.4 -1.5 -6.4 -12.5 -8.4 1.4z" class="e"/>
<path d="M498.4 534.9l8.4 -3.7 -6.5 -4.9 -8.4 4.5z" class="k"/>
<path d="M513.2 535.4l8.4 -1.4 -6.4 -4.2 -8.4 1.4z" class="k"/>
<path d="M528.1 535.9l8.4 13 -6.5 -16.4 -8.4 1.5z" class="k"/>
<path d="M475.1 530.6l8.4 1.6 -6.4 -1.9 -8.4 -10.6z" class="m"/>
<path d="M542.9 550.8l8.4 9.2 -6.4 -12.6 -8.4 1.5z" class="g"/>
<path d="M490 534.1l8.4 .8 -6.5 -4.1 -8.4 1.4z" class="l"/>
<path d="M557.8 531.5l8.4 -1.5 -6.5 28.5 -8.4 1.5z" class="m"/>
<path d="M504.8 536.9l8.4 -1.5 -6.4 -4.2 -8.4 3.7z" class="k"/>
<path d="M519.7 535l8.4 .9 -6.5 -1.9 -8.4 1.4z" class="l"/>
<path d="M466.7 532.1l8.4 -1.5 -6.4 -10.9 -8.4 -1.3z" class="m"/>
<path d="M534.5 537.8l8.4 13 -6.4 -1.9 -8.4 -13z" class="k"/>
<path d="M481.6 535.6l8.4 -1.5 -6.5 -1.9 -8.4 -1.6z" class="l"/>
<path d="M549.4 546.6l8.4 -15.1 -6.5 28.5 -8.4 -9.2z" class="i"/>
<path d="M496.4 538.3l8.4 -1.4 -6.4 -2 -8.4 -.8z" class="k"/>
<path d="M564.2 529.6l8.4 -1.5 -6.4 1.9 -8.4 1.5z" class="n"/>
<path d="M511.3 538.8l8.4 -3.8 -6.5 .4 -8.4 1.5z" class="k"/>
<path d="M458.3 529.7l8.4 2.4 -6.4 -13.7 -8.4 -1.3z" class="n"/>
<path d="M526.1 536.9l8.4 .9 -6.4 -1.9 -8.4 -.9z" class="l"/>
<path d="M473.2 534l8.4 1.6 -6.5 -5 -8.4 1.5z" class="m"/>
<path d="M541 539.7l8.4 6.9 -6.5 4.2 -8.4 -13z" class="k"/>
<path d="M488 539.8l8.4 -1.5 -6.4 -4.2 -8.4 1.5z" class="k"/>
<path d="M555.8 537.9l8.4 -8.3 -6.4 1.9 -8.4 15.1z" class="l"/>
<path d="M502.9 540.2l8.4 -1.4 -6.5 -1.9 -8.4 1.4z" class="k"/>
<path d="M449.9 531.2l8.4 -1.5 -6.4 -12.6 -8.4 .1z" class="n"/>
<path d="M570.7 521.6l8.4 -1.5 -6.5 8 -8.4 1.5z" class="q2"/>
<path d="M517.7 538.4l8.4 -1.5 -6.4 -1.9 -8.4 3.8z" class="l"/>
<path d="M464.8 535.4l8.4 -1.4 -6.5 -1.9 -8.4 -2.4z" class="m"/>
<path d="M532.6 545.7l8.4 -6 -6.5 -1.9 -8.4 -.9z" class="j"/>
<path d="M479.6 541.2l8.4 -1.4 -6.4 -4.2 -8.4 -1.6z" class="k"/>
<path d="M547.4 541.6l8.4 -3.7 -6.4 8.7 -8.4 -6.9z" class="k"/>
<path d="M494.5 539.4l8.4 .8 -6.5 -1.9 -8.4 1.5z" class="l"/>
<path d="M441.5 528.1l8.4 3.1 -6.4 -14 -8.4 2.8z" class="o"/>
<path d="M562.3 528.4l8.4 -6.8 -6.5 8 -8.4 8.3z" class="o"/>
<path d="M509.3 542.1l8.4 -3.7 -6.4 .4 -8.4 1.4z" class="k"/>
<path d="M456.4 536.9l8.4 -1.5 -6.5 -5.7 -8.4 1.5z" class="m"/>
<path d="M577.2 533.4l8.3 -1.5 -6.4 -11.8 -8.4 1.5z" class="n"/>
<path d="M524.2 540.3l8.4 5.4 -6.5 -8.8 -8.4 1.5z" class="l"/>
<path d="M471.2 537.3l8.4 3.9 -6.4 -7.2 -8.4 1.4z" class="m"/>
<path d="M539 547.6l8.4 -6 -6.4 -1.9 -8.4 6z" class="j"/>
<path d="M486.1 543.1l8.4 -3.7 -6.5 .4 -8.4 1.4z" class="k"/>
<path d="M433.1 551.6l8.4 -23.5 -6.4 -8.1 -8.4 9.8z" class="i"/>
<path d="M553.9 541.2l8.4 -12.8 -6.5 9.5 -8.4 3.7z" class="l"/>
<path d="M500.9 543.6l8.4 -1.5 -6.4 -1.9 -8.4 -.8z" class="k"/>
<path d="M448 548.2l8.4 -11.3 -6.5 -5.7 -8.4 -3.1z" class="j"/>
<path d="M568.8 538.6l8.4 -5.2 -6.5 -11.8 -8.4 6.8z" class="m"/>
<path d="M515.8 544l8.4 -3.7 -6.5 -1.9 -8.4 3.7z" class="k"/>
<path d="M462.8 541.8l8.4 -4.5 -6.4 -1.9 -8.4 1.5z" class="l"/>
<path d="M583.6 549l8.4 -1.5 -6.5 -15.6 -8.3 1.5z" class="j"/>
<path d="M530.6 544.5l8.4 3.1 -6.4 -1.9 -8.4 -5.4z" class="k"/>
<path d="M477.7 539.2l8.4 3.9 -6.5 -1.9 -8.4 -3.9z" class="m"/>
<path d="M424.7 556l8.4 -4.4 -6.4 -21.8 -8.4 24.3z" class="h"/>
<path d="M545.5 542.7l8.4 -1.5 -6.5 .4 -8.4 6z" class="l"/>
<path d="M492.5 545l8.4 -1.4 -6.4 -4.2 -8.4 3.7z" class="k"/>
<path d="M439.6 556.5l8.4 -8.3 -6.5 -20.1 -8.4 23.5z" class="h"/>
<path d="M560.3 543.1l8.5 -4.5 -6.5 -10.2 -8.4 12.8z" class="l"/>
<path d="M507.4 545.5l8.4 -1.5 -6.5 -1.9 -8.4 1.5z" class="k"/>
<path d="M454.4 550.1l8.4 -8.3 -6.4 -4.9 -8.4 11.3z" class="j"/>
<path d="M575.2 557.3l8.4 -8.3 -6.4 -15.6 -8.4 5.2z" class="h"/>
<path d="M522.2 545.9l8.4 -1.4 -6.4 -4.2 -8.4 3.7z" class="k"/>
<path d="M469.3 550.6l8.4 -11.4 -6.5 -1.9 -8.4 4.5z" class="j"/>
<path d="M416.3 560.5l8.4 -4.5 -6.4 -1.9 -8.4 4.5z" class="g"/>
<path d="M590.1 566.1l8.4 -1.4 -6.5 -17.2 -8.4 1.5z" class="f"/>
<path d="M537.1 544.1l8.4 -1.4 -6.5 4.9 -8.4 -3.1z" class="l"/>
<path d="M484.1 551l8.4 -6 -6.4 -1.9 -8.4 -3.9z" class="j"/>
<path d="M431.2 554.9l8.4 1.6 -6.5 -4.9 -8.4 4.4z" class="i"/>
<path d="M552 544.6l8.3 -1.5 -6.4 -1.9 -8.4 1.5z" class="l"/>
<path d="M499 546.9l8.4 -1.4 -6.5 -1.9 -8.4 1.4z" class="k"/>
<path d="M446 551.6l8.4 -1.5 -6.4 -1.9 -8.4 8.3z" class="j"/>
<path d="M566.8 551.9l8.4 5.4 -6.4 -18.7 -8.5 4.5z" class="j"/>
<path d="M513.8 547.4l8.4 -1.5 -6.4 -1.9 -8.4 1.5z" class="k"/>
<path d="M460.9 547.5l8.4 3.1 -6.5 -8.8 -8.4 8.3z" class="k"/>
<path d="M407.9 572.6l8.4 -12.1 -6.4 -1.9 -8.4 12.1z" class="e"/>
<path d="M581.7 559.2l8.4 6.9 -6.5 -17.1 -8.4 8.3z" class="h"/>
<path d="M528.7 545.6l8.4 -1.5 -6.5 .4 -8.4 1.4z" class="l"/>
<path d="M475.7 547.9l8.4 3.1 -6.4 -11.8 -8.4 11.4z" class="k"/>
<path d="M422.8 556.4l8.4 -1.5 -6.5 1.1 -8.4 4.5z" class="i"/>
<path d="M596.5 578.7l8.4 -1.5 -6.4 -12.5 -8.4 1.4z" class="d"/>
<path d="M543.5 548.3l8.5 -3.7 -6.5 -1.9 -8.4 1.4z" class="k"/>
<path d="M490.6 553l8.4 -6.1 -6.5 -1.9 -8.4 6z" class="j"/>
<path d="M437.6 556.8l8.4 -5.2 -6.4 4.9 -8.4 -1.6z" class="i"/>
<path d="M558.4 548.8l8.4 3.1 -6.5 -8.8 -8.3 1.5z" class="k"/>
<path d="M505.4 546.6l8.4 .8 -6.4 -1.9 -8.4 1.4z" class="l"/>
<path d="M452.5 548.9l8.4 -1.4 -6.5 2.6 -8.4 1.5z" class="k"/>
<path d="M399.5 568.8l8.4 3.8 -6.4 -1.9 -8.4 -3.9z" class="f"/>
<path d="M573.3 560.6l8.4 -1.4 -6.5 -1.9 -8.4 -5.4z" class="h"/>
<path d="M520.3 547l8.4 -1.4 -6.5 .3 -8.4 1.5z" class="l"/>
<path d="M467.3 549.4l8.4 -1.5 -6.4 2.7 -8.4 -3.1z" class="k"/>
<path d="M414.4 554l8.4 2.4 -6.5 4.1 -8.4 12.1z" class="j"/>
<path d="M588.1 554.3l8.4 24.4 -6.4 -12.6 -8.4 -6.9z" class="j"/>
<path d="M535.2 549.8l8.3 -1.5 -6.4 -4.2 -8.4 1.5z" class="k"/>
<path d="M482.2 549.8l8.4 3.2 -6.5 -2 -8.4 -3.1z" class="k"/>
<path d="M429.2 558.3l8.4 -1.5 -6.4 -1.9 -8.4 1.5z" class="i"/>
<path d="M603 536.5l8.4 -1.5 -6.5 42.2 -8.4 1.5z" class="o"/>
<path d="M550 550.2l8.4 -1.4 -6.4 -4.2 -8.5 3.7z" class="k"/>
<path d="M497 550.3l8.4 -3.7 -6.4 .3 -8.4 6.1z" class="k"/>
<path d="M444.1 558.7l8.4 -9.8 -6.5 2.7 -8.4 5.2z" class="i"/>
<path d="M391.1 558.8l8.4 10 -6.4 -2 -8.4 -9.9z" class="i"/>
<path d="M564.9 559.1l8.4 1.5 -6.5 -8.7 -8.4 -3.1z" class="i"/>
<path d="M511.9 548.5l8.4 -1.5 -6.5 .4 -8.4 -.8z" class="l"/>
<path d="M458.9 550.8l8.4 -1.4 -6.4 -1.9 -8.4 1.4z" class="k"/>
<path d="M406 570.7l8.4 -16.7 -6.5 18.6 -8.4 -3.8z" class="f"/>
<path d="M579.7 559.5l8.4 -5.2 -6.4 4.9 -8.4 1.4z" class="i"/>
<path d="M526.8 548.9l8.4 .9 -6.5 -4.2 -8.4 1.4z" class="l"/>
<path d="M473.8 551.3l8.4 -1.5 -6.5 -1.9 -8.4 1.5z" class="k"/>
<path d="M420.8 555.9l8.4 2.4 -6.4 -1.9 -8.4 -2.4z" class="j"/>
<path d="M594.6 551.6l8.4 -15.1 -6.5 42.2 -8.4 -24.4z" class="k"/>
<path d="M541.6 551.7l8.4 -1.5 -6.5 -1.9 -8.3 1.5z" class="k"/>
<path d="M488.6 551.7l8.4 -1.4 -6.4 2.7 -8.4 -3.2z" class="k"/>
<path d="M435.7 560.2l8.4 -1.5 -6.5 -1.9 -8.4 1.5z" class="i"/>
<path d="M609.4 552.1l8.4 -1.5 -6.4 -15.6 -8.4 1.5z" class="k"/>
<path d="M382.7 560.3l8.4 -1.5 -6.4 -1.9 -8.4 1.4z" class="i"/>
<path d="M556.5 556.7l8.4 2.4 -6.5 -10.3 -8.4 1.4z" class="j"/>
<path d="M503.5 549.9l8.4 -1.4 -6.5 -1.9 -8.4 3.7z" class="l"/>
<path d="M450.5 552.3l8.4 -1.5 -6.4 -1.9 -8.4 9.8z" class="k"/>
<path d="M397.6 563.8l8.4 6.9 -6.5 -1.9 -8.4 -10z" class="h"/>
<path d="M571.3 564l8.4 -4.5 -6.4 1.1 -8.4 -1.5z" class="h"/>
<path d="M518.3 550.4l8.5 -1.5 -6.5 -1.9 -8.4 1.5z" class="l"/>
<path d="M465.4 552.7l8.4 -1.4 -6.5 -1.9 -8.4 1.4z" class="k"/>
<path d="M412.4 552.8l8.4 3.1 -6.4 -1.9 -8.4 16.7z" class="k"/>
<path d="M586.2 557.6l8.4 -6 -6.5 2.7 -8.4 5.2z" class="j"/>
<path d="M533.2 557.7l8.4 -6 -6.4 -1.9 -8.4 -.9z" class="j"/>
<path d="M480.2 553.2l8.4 -1.5 -6.4 -1.9 -8.4 1.5z" class="k"/>
<path d="M427.3 553.3l8.4 6.9 -6.5 -1.9 -8.4 -2.4z" class="k"/>
<path d="M601 553.5l8.4 -1.4 -6.4 -15.6 -8.4 15.1z" class="k"/>
<path d="M548.1 558.2l8.4 -1.5 -6.5 -6.5 -8.4 1.5z" class="j"/>
<path d="M495.1 553.7l8.4 -3.8 -6.5 .4 -8.4 1.4z" class="k"/>
<path d="M442.1 558.3l8.4 -6 -6.4 6.4 -8.4 1.5z" class="j"/>
<path d="M615.9 554l8.4 -1.5 -6.5 -1.9 -8.4 1.5z" class="k"/>
<path d="M389.2 562.2l8.4 1.6 -6.5 -5 -8.4 1.5z" class="i"/>
<path d="M562.9 562.4l8.4 1.6 -6.4 -4.9 -8.4 -2.4z" class="i"/>
<path d="M509.9 554.1l8.4 -3.7 -6.4 -1.9 -8.4 1.4z" class="k"/>
<path d="M457 554.2l8.4 -1.5 -6.5 -1.9 -8.4 1.5z" class="k"/>
<path d="M404 565.7l8.4 -12.9 -6.4 17.9 -8.4 -6.9z" class="h"/>
<path d="M577.8 559.1l8.4 -1.5 -6.5 1.9 -8.4 4.5z" class="j"/>
<path d="M524.8 559.1l8.4 -1.4 -6.4 -8.8 -8.5 1.5z" class="j"/>
<path d="M471.8 554.6l8.4 -1.4 -6.4 -1.9 -8.4 1.4z" class="k"/>
<path d="M418.9 552.4l8.4 .9 -6.5 2.6 -8.4 -3.1z" class="l"/>
<path d="M592.6 552.7l8.4 .8 -6.4 -1.9 -8.4 6z" class="l"/>
<path d="M539.7 559.6l8.4 -1.4 -6.5 -6.5 -8.4 6z" class="j"/>
<path d="M486.7 555.1l8.4 -1.4 -6.5 -2 -8.4 1.5z" class="k"/>
<path d="M433.7 555.2l8.4 3.1 -6.4 1.9 -8.4 -6.9z" class="k"/>
<path d="M607.5 555.4l8.4 -1.4 -6.5 -1.9 -8.4 1.4z" class="k"/>
<path d="M554.5 563.9l8.4 -1.5 -6.4 -5.7 -8.4 1.5z" class="i"/>
<path d="M501.6 555.6l8.3 -1.5 -6.4 -4.2 -8.4 3.8z" class="k"/>
<path d="M448.6 560.2l8.4 -6 -6.5 -1.9 -8.4 6z" class="j"/>
<path d="M622.3 553.6l8.4 -1.4 -6.4 .3 -8.4 1.5z" class="l"/>
<path d="M395.6 560.3l8.4 5.4 -6.4 -1.9 -8.4 -1.6z" class="j"/>
<path d="M569.4 567.4l8.4 -8.3 -6.5 4.9 -8.4 -1.6z" class="h"/>
<path d="M516.4 560.6l8.4 -1.5 -6.5 -8.7 -8.4 3.7z" class="j"/>
<path d="M463.4 556.1l8.4 -1.5 -6.4 -1.9 -8.4 1.5z" class="k"/>
<path d="M410.5 553.9l8.4 -1.5 -6.5 .4 -8.4 12.9z" class="l"/>
<path d="M584.2 561l8.4 -8.3 -6.4 4.9 -8.4 1.5z" class="j"/>
<path d="M531.3 564.9l8.4 -5.3 -6.5 -1.9 -8.4 1.4z" class="i"/>
<path d="M478.3 556.6l8.4 -1.5 -6.5 -1.9 -8.4 1.4z" class="k"/>
<path d="M425.3 554.3l8.4 .9 -6.4 -1.9 -8.4 -.9z" class="l"/>
<path d="M599.1 554.6l8.4 .8 -6.5 -1.9 -8.4 -.8z" class="l"/>
<path d="M546.1 565.3l8.4 -1.4 -6.4 -5.7 -8.4 1.4z" class="i"/>
<path d="M493.2 557l8.4 -1.4 -6.5 -1.9 -8.4 1.4z" class="k"/>
<path d="M440.2 557.1l8.4 3.1 -6.5 -1.9 -8.4 -3.1z" class="k"/>
<path d="M613.9 555.1l8.4 -1.5 -6.4 .4 -8.4 1.4z" class="l"/>
<path d="M561 568.8l8.4 -1.4 -6.5 -5 -8.4 1.5z" class="h"/>
<path d="M508 562l8.4 -1.4 -6.5 -6.5 -8.3 1.5z" class="j"/>
<path d="M455 562.1l8.4 -6 -6.4 -1.9 -8.4 6z" class="j"/>
<path d="M628.8 552.5l8.4 -1.5 -6.5 1.2 -8.4 1.4z" class="m"/>
<path d="M402.1 555.3l8.4 -1.4 -6.5 11.8 -8.4 -5.4z" class="l"/>
<path d="M575.8 566.2l8.4 -5.2 -6.4 -1.9 -8.4 8.3z" class="i"/>
<path d="M522.9 566.3l8.4 -1.4 -6.5 -5.8 -8.4 1.5z" class="i"/>
<path d="M469.9 558l8.4 -1.4 -6.5 -2 -8.4 1.5z" class="k"/>
<path d="M416.9 555.8l8.4 -1.5 -6.4 -1.9 -8.4 1.5z" class="l"/>
<path d="M590.7 562.9l8.4 -8.3 -6.5 -1.9 -8.4 8.3z" class="j"/>
<path d="M537.7 566.8l8.4 -1.5 -6.4 -5.7 -8.4 5.3z" class="i"/>
<path d="M484.7 558.5l8.5 -1.5 -6.5 -1.9 -8.4 1.5z" class="k"/>
<path d="M431.8 556.3l8.4 .8 -6.5 -1.9 -8.4 -.9z" class="l"/>
<path d="M605.5 556.5l8.4 -1.4 -6.4 .3 -8.4 -.8z" class="l"/>
<path d="M552.6 570.3l8.4 -1.5 -6.5 -4.9 -8.4 1.4z" class="h"/>
<path d="M499.6 563.5l8.4 -1.5 -6.4 -6.4 -8.4 1.4z" class="j"/>
<path d="M446.6 563.6l8.4 -1.5 -6.4 -1.9 -8.4 -3.1z" class="j"/>
<path d="M620.4 553.9l8.4 -1.4 -6.5 1.1 -8.4 1.5z" class="m"/>
<path d="M567.4 570.7l8.4 -4.5 -6.4 1.2 -8.4 1.4z" class="h"/>
<path d="M514.5 564l8.4 2.3 -6.5 -5.7 -8.4 1.4z" class="j"/>
<path d="M461.5 564l8.4 -6 -6.5 -1.9 -8.4 6z" class="j"/>
<path d="M635.2 554.4l8.4 -1.5 -6.4 -1.9 -8.4 1.5z" class="m"/>
<path d="M408.5 545.8l8.4 10 -6.4 -1.9 -8.4 1.4z" class="o"/>
<path d="M582.3 571.2l8.4 -8.3 -6.5 -1.9 -8.4 5.2z" class="h"/>
<path d="M529.3 568.2l8.4 -1.4 -6.4 -1.9 -8.4 1.4z" class="i"/>
<path d="M476.3 559.9l8.4 -1.4 -6.4 -1.9 -8.4 1.4z" class="k"/>
<path d="M423.4 557.7l8.4 -1.4 -6.5 -2 -8.4 1.5z" class="l"/>
<path d="M597.1 564.8l8.4 -8.3 -6.4 -1.9 -8.4 8.3z" class="j"/>
<path d="M544.2 571.7l8.4 -1.4 -6.5 -5 -8.4 1.5z" class="h"/>
<path d="M491.2 560.4l8.4 3.1 -6.4 -6.5 -8.5 1.5z" class="k"/>
<path d="M438.2 565l8.4 -1.4 -6.4 -6.5 -8.4 -.8z" class="j"/>
<path d="M612 558.4l8.4 -4.5 -6.5 1.2 -8.4 1.4z" class="l"/>
<path d="M559 572.2l8.4 -1.5 -6.4 -1.9 -8.4 1.5z" class="h"/>
<path d="M506.1 569.2l8.4 -5.2 -6.5 -2 -8.4 1.5z" class="i"/>
<path d="M453.1 569.3l8.4 -5.3 -6.5 -1.9 -8.4 1.5z" class="i"/>
<path d="M626.8 555.8l8.4 -1.4 -6.4 -1.9 -8.4 1.4z" class="m"/>
<path d="M573.9 572.6l8.4 -1.4 -6.5 -5 -8.4 4.5z" class="h"/>
<path d="M520.9 569.7l8.4 -1.5 -6.4 -1.9 -8.4 -2.3z" class="i"/>
<path d="M467.9 569.7l8.4 -9.8 -6.4 -1.9 -8.4 6z" class="i"/>
<path d="M415 547.8l8.4 9.9 -6.5 -1.9 -8.4 -10z" class="o"/>
<path d="M588.7 566.3l8.4 -1.5 -6.4 -1.9 -8.4 8.3z" class="j"/>
<path d="M535.8 573.2l8.4 -1.5 -6.5 -4.9 -8.4 1.4z" class="h"/>
<path d="M482.8 566.4l8.4 -6 -6.5 -1.9 -8.4 1.4z" class="j"/>
<path d="M429.8 566.5l8.4 -1.5 -6.4 -8.7 -8.4 1.4z" class="j"/>
<path d="M603.6 566.7l8.4 -8.3 -6.5 -1.9 -8.4 8.3z" class="j"/>
<path d="M550.6 573.6l8.4 -1.4 -6.4 -1.9 -8.4 1.4z" class="h"/>
<path d="M497.7 570.7l8.4 -1.5 -6.5 -5.7 -8.4 -3.1z" class="i"/>
<path d="M444.7 570.7l8.4 -1.4 -6.5 -5.7 -8.4 1.4z" class="i"/>
<path d="M618.4 557.3l8.4 -1.5 -6.4 -1.9 -8.4 4.5z" class="m"/>
<path d="M565.5 574.1l8.4 -1.5 -6.5 -1.9 -8.4 1.5z" class="h"/>
<path d="M512.5 571.1l8.4 -1.4 -6.4 -5.7 -8.4 5.2z" class="i"/>
<path d="M459.6 571.2l8.3 -1.5 -6.4 -5.7 -8.4 5.3z" class="i"/>
<path d="M580.3 567.7l8.4 -1.4 -6.4 4.9 -8.4 1.4z" class="j"/>
<path d="M527.4 574.6l8.4 -1.4 -6.5 -5 -8.4 1.5z" class="h"/>
<path d="M474.4 574.7l8.4 -8.3 -6.5 -6.5 -8.4 9.8z" class="h"/>
<path d="M421.4 554.2l8.4 12.3 -6.4 -8.8 -8.4 -9.9z" class="n"/>
<path d="M595.2 568.2l8.4 -1.5 -6.5 -1.9 -8.4 1.5z" class="j"/>
<path d="M542.2 578.1l8.4 -4.5 -6.4 -1.9 -8.4 1.5z" class="g"/>
<path d="M489.3 572.1l8.4 -1.4 -6.5 -10.3 -8.4 6z" class="i"/>
<path d="M436.3 568.4l8.4 2.3 -6.5 -5.7 -8.4 1.5z" class="j"/>
<path d="M610 561.8l8.4 -4.5 -6.4 1.1 -8.4 8.3z" class="l"/>
<path d="M557.1 575.5l8.4 -1.4 -6.5 -1.9 -8.4 1.4z" class="h"/>
<path d="M504.1 572.6l8.4 -1.5 -6.4 -1.9 -8.4 1.5z" class="i"/>
<path d="M451.2 572.6l8.4 -1.4 -6.5 -1.9 -8.4 1.4z" class="i"/>
<path d="M571.9 569.2l8.4 -1.5 -6.4 4.9 -8.4 1.5z" class="j"/>
<path d="M519 579.1l8.4 -4.5 -6.5 -4.9 -8.4 1.4z" class="g"/>
<path d="M466 576.1l8.4 -1.4 -6.5 -5 -8.3 1.5z" class="h"/>
<path d="M586.8 569.6l8.4 -1.4 -6.5 -1.9 -8.4 1.4z" class="j"/>
<path d="M533.8 579.6l8.4 -1.5 -6.4 -4.9 -8.4 1.4z" class="g"/>
<path d="M480.9 576.6l8.4 -4.5 -6.5 -5.7 -8.4 8.3z" class="h"/>
<path d="M427.9 556.1l8.4 12.3 -6.5 -1.9 -8.4 -12.3z" class="n"/>
<path d="M601.6 570.1l8.4 -8.3 -6.4 4.9 -8.4 1.5z" class="j"/>
<path d="M548.7 577l8.4 -1.5 -6.5 -1.9 -8.4 4.5z" class="h"/>
<path d="M495.7 574l8.4 -1.4 -6.4 -1.9 -8.4 1.4z" class="i"/>
<path d="M442.8 570.3l8.4 2.3 -6.5 -1.9 -8.4 -2.3z" class="j"/>
<path d="M563.5 570.6l8.4 -1.4 -6.4 4.9 -8.4 1.4z" class="j"/>
<path d="M510.6 577.5l8.4 1.6 -6.5 -8 -8.4 1.5z" class="h"/>
<path d="M457.6 577.6l8.4 -1.5 -6.4 -4.9 -8.4 1.4z" class="h"/>
<path d="M578.4 571.1l8.4 -1.5 -6.5 -1.9 -8.4 1.5z" class="j"/>
<path d="M525.4 581l8.4 -1.4 -6.4 -5 -8.4 4.5z" class="g"/>
<path d="M472.5 578l8.4 -1.4 -6.5 -1.9 -8.4 1.4z" class="h"/>
<path d="M593.2 571.5l8.4 -1.4 -6.4 -1.9 -8.4 1.4z" class="j"/>
<path d="M540.3 575.4l8.4 1.6 -6.5 1.1 -8.4 1.5z" class="i"/>
<path d="M487.3 578.5l8.4 -4.5 -6.4 -1.9 -8.4 4.5z" class="h"/>
<path d="M434.3 592.3l8.5 -22 -6.5 -1.9 -8.4 -12.3z" class="e"/>
<path d="M555.1 572.1l8.4 -1.5 -6.4 4.9 -8.4 1.5z" class="j"/>
<path d="M502.2 579l8.4 -1.5 -6.5 -4.9 -8.4 1.4z" class="h"/>
<path d="M449.2 582.1l8.4 -4.5 -6.4 -5 -8.4 -2.3z" class="g"/>
<path d="M570 572.5l8.4 -1.4 -6.5 -1.9 -8.4 1.4z" class="j"/>
<path d="M517 576.4l8.4 4.6 -6.4 -1.9 -8.4 -1.6z" class="i"/>
<path d="M464.1 579.5l8.4 -1.5 -6.5 -1.9 -8.4 1.5z" class="h"/>
<path d="M584.8 573l8.4 -1.5 -6.4 -1.9 -8.4 1.5z" class="j"/>
<path d="M531.9 576.8l8.4 -1.4 -6.5 4.2 -8.4 1.4z" class="i"/>
<path d="M478.9 580l8.4 -1.5 -6.4 -1.9 -8.4 1.4z" class="h"/>
<path d="M546.7 577.3l8.4 -5.2 -6.4 4.9 -8.4 -1.6z" class="i"/>
<path d="M493.8 580.4l8.4 -1.4 -6.5 -5 -8.4 4.5z" class="h"/>
<path d="M440.8 594.2l8.4 -12.1 -6.4 -11.8 -8.5 22z" class="e"/>
<path d="M561.6 574l8.4 -1.5 -6.5 -1.9 -8.4 1.5z" class="j"/>
<path d="M508.6 574l8.4 2.4 -6.4 1.1 -8.4 1.5z" class="j"/>
<path d="M455.7 584l8.4 -4.5 -6.5 -1.9 -8.4 4.5z" class="g"/>
<path d="M576.4 574.4l8.4 -1.4 -6.4 -1.9 -8.4 1.4z" class="j"/>
<path d="M523.5 578.3l8.4 -1.5 -6.5 4.2 -8.4 -4.6z" class="i"/>
<path d="M470.5 584.4l8.4 -4.4 -6.4 -2 -8.4 1.5z" class="g"/>
<path d="M538.3 575l8.4 2.3 -6.4 -1.9 -8.4 1.4z" class="j"/>
<path d="M485.4 581.9l8.4 -1.5 -6.5 -1.9 -8.4 1.5z" class="h"/>
<path d="M553.2 568.6l8.4 5.4 -6.5 -1.9 -8.4 5.2z" class="l"/>
<path d="M500.2 557.2l8.4 16.8 -6.4 5 -8.4 1.4z" class="o"/>
<path d="M447.3 596.1l8.4 -12.1 -6.5 -1.9 -8.4 12.1z" class="e"/>
<path d="M568 569l8.4 5.4 -6.4 -1.9 -8.4 1.5z" class="l"/>
<path d="M515.1 552.4l8.4 25.9 -6.5 -1.9 -8.4 -2.4z" class="q2"/>
<path d="M462.1 582.9l8.4 1.5 -6.4 -4.9 -8.4 4.5z" class="h"/>
<path d="M529.9 576.4l8.4 -1.4 -6.4 1.8 -8.4 1.5z" class="j"/>
<path d="M477 571.9l8.4 10 -6.5 -1.9 -8.4 4.4z" class="k"/>
<path d="M544.8 576.9l8.4 -8.3 -6.5 8.7 -8.4 -2.3z" class="j"/>
<path d="M491.8 558.7l8.4 -1.5 -6.4 23.2 -8.4 1.5z" class="o"/>
<path d="M559.6 570.5l8.4 -1.5 -6.4 5 -8.4 -5.4z" class="l"/>
<path d="M506.7 553.8l8.4 -1.4 -6.5 21.6 -8.4 -16.8z" class="q2"/>
<path d="M453.7 577.5l8.4 5.4 -6.4 1.1 -8.4 12.1z" class="j"/>
<path d="M521.5 559.6l8.4 16.8 -6.4 1.9 -8.4 -25.9z" class="o"/>
<path d="M468.6 571.1l8.4 .8 -6.5 12.5 -8.4 -1.5z" class="l"/>
<path d="M536.4 598.8l8.4 -21.9 -6.5 -1.9 -8.4 1.4z" class="e"/>
<path d="M483.4 560.1l8.4 -1.4 -6.4 23.2 -8.4 -10z" class="o"/>
<path d="M551.2 582.6l8.4 -12.1 -6.4 -1.9 -8.4 8.3z" class="i"/>
<path d="M498.3 557.5l8.4 -3.7 -6.5 3.4 -8.4 1.5z" class="q"/>
<path d="M513.1 565.6l8.4 -6 -6.4 -7.2 -8.4 1.4z" class="n"/>
<path d="M460.2 572.5l8.4 -1.4 -6.5 11.8 -8.4 -5.4z" class="l"/>
<path d="M528 617.8l8.4 -19 -6.5 -22.4 -8.4 -16.8z" class="b"/>
<path d="M475 561.6l8.4 -1.5 -6.4 11.8 -8.4 -.8z" class="o"/>
<path d="M542.8 618.2l8.4 -35.6 -6.4 -5.7 -8.4 21.9z" class="b"/>
<path d="M489.9 556.7l8.4 .8 -6.5 1.2 -8.4 1.4z" class="q2"/>
<path d="M504.7 567.1l8.4 -1.5 -6.4 -11.8 -8.4 3.7z" class="n"/>
<path d="M519.6 619.2l8.4 -1.4 -6.5 -58.2 -8.4 6z" class="b"/>
<path d="M466.6 567.6l8.4 -6 -6.4 9.5 -8.4 1.4z" class="n"/>
<path d="M534.4 619.7l8.4 -1.5 -6.4 -19.4 -8.4 19z" class="b"/>
<path d="M481.5 553.6l8.4 3.1 -6.5 3.4 -8.4 1.5z" class="p"/>
<path d="M496.3 568.5l8.4 -1.4 -6.4 -9.6 -8.4 -.8z" class="n"/>
<path d="M511.2 620.7l8.4 -1.5 -6.5 -53.6 -8.4 1.5z" class="b"/>
<path d="M526 621.1l8.4 -1.4 -6.4 -1.9 -8.4 1.4z" class="b"/>
<path d="M473.1 561.9l8.4 -8.3 -6.5 8 -8.4 6z" class="q"/>
<path d="M487.9 570l8.4 -1.5 -6.4 -11.8 -8.4 -3.1z" class="n"/>
<path d="M502.8 632l8.4 -11.3 -6.5 -53.6 -8.4 1.4z" class="a"/>
<path d="M517.6 632.5l8.4 -11.4 -6.4 -1.9 -8.4 1.5z" class="a"/>
<path d="M479.5 575.2l8.4 -5.2 -6.4 -16.4 -8.4 8.3z" class="m"/>
<path d="M494.4 633.5l8.4 -1.5 -6.5 -63.5 -8.4 1.5z" class="a"/>
<path d="M509.2 633.9l8.4 -1.4 -6.4 -11.8 -8.4 11.3z" class="a"/>
<path d="M486 634.9l8.4 -1.4 -6.5 -63.5 -8.4 5.2z" class="a"/>
<path d="M500.8 635.4l8.4 -1.5 -6.4 -1.9 -8.4 1.5z" class="a"/>
<path d="M492.4 636.8l8.4 -1.4 -6.4 -1.9 -8.4 1.4z" class="a"/>
</g>
<text x="356.4" y="609.65" font-size="7.0" text-anchor="end" font-weight="bold" fill="#222">-20</text>
<text x="356.4" y="581.95" font-size="7.0" text-anchor="end" font-weight="bold" fill="#222">-10</text>
<text x="356.4" y="554.25" font-size="7.0" text-anchor="end" font-weight="bold" fill="#222">0</text>
<text x="356.4" y="526.55" font-size="7.0" text-anchor="end" font-weight="bold" fill="#222">10</text>
<text x="485.1" y="655.2" font-size="7.0" text-anchor="end" font-weight="bold" fill="#222">0</text>
<text x="495.9" y="655.2" font-size="7.0" text-anchor="start" font-weight="bold" fill="#222">0</text>
<text x="459.28" y="647.56" font-size="7.0" text-anchor="end" font-weight="bold" fill="#222">0.2</text>
<text x="529.5" y="649.4" font-size="7.0" text-anchor="start" font-weight="bold" fill="#222">0.2</text>
<text x="433.46" y="639.92" font-size="7.0" text-anchor="end" font-weight="bold" fill="#222">0.4</text>
<text x="563.1" y="643.6" font-size="7.0" text-anchor="start" font-weight="bold" fill="#222">0.4</text>
<text x="407.64" y="632.28" font-size="7.0" text-anchor="end" font-weight="bold" fill="#222">0.6</text>
<text x="596.7" y="637.8" font-size="7.0" text-anchor="start" font-weight="bold" fill="#222">0.6</text>
<text x="381.82" y="624.64" font-size="7.0" text-anchor="end" font-weight="bold" fill="#222">0.8</text>
<text x="630.3" y="632" font-size="7.0" text-anchor="start" font-weight="bold" fill="#222">0.8</text>
<text x="356" y="617" font-size="7.0" text-anchor="end" font-weight="bold" fill="#222">1</text>
<text x="663.9" y="626.2" font-size="7.0" text-anchor="start" font-weight="bold" fill="#222">1</text>
<text x="434.3" y="657.5" font-size="7.5" text-anchor="middle" font-weight="bold" fill="#222">IT</text>
<text x="563.4" y="659" font-size="7.3" text-anchor="middle" font-weight="bold" fill="#222">GSCPI</text>
<rect x="667.8" y="497.2" width="5.8" height="147.8" fill="url(#jet)"/>
<line x1="672.4" y1="628.31" x2="673.6" y2="628.31" stroke="#444" stroke-width="0.4"/>
<text x="675.5" y="630.48" font-size="6.4" text-anchor="start" font-weight="bold" fill="#3a3a3a">-15</text>
<line x1="672.4" y1="601.39" x2="673.6" y2="601.39" stroke="#444" stroke-width="0.4"/>
<text x="675.5" y="603.56" font-size="6.4" text-anchor="start" font-weight="bold" fill="#3a3a3a">-10</text>
<line x1="672.4" y1="574.47" x2="673.6" y2="574.47" stroke="#444" stroke-width="0.4"/>
<text x="675.5" y="576.64" font-size="6.4" text-anchor="start" font-weight="bold" fill="#3a3a3a">-5</text>
<line x1="672.4" y1="547.54" x2="673.6" y2="547.54" stroke="#444" stroke-width="0.4"/>
<text x="675.5" y="549.72" font-size="6.4" text-anchor="start" font-weight="bold" fill="#3a3a3a">0</text>
<line x1="672.4" y1="520.62" x2="673.6" y2="520.62" stroke="#444" stroke-width="0.4"/>
<text x="675.5" y="522.8" font-size="6.4" text-anchor="start" font-weight="bold" fill="#3a3a3a">5</text>
<path d="M516 810.5L362.9 787.1L362.9 686.99M516 810.5L658.3 785L658.3 684.89M544.46 805.4L391.36 782L391.36 681.89M485.38 805.82L627.68 780.32L627.68 680.21M572.92 800.3L419.82 776.9L419.82 676.79M454.76 801.14L597.06 775.64L597.06 675.53M601.38 795.2L448.28 771.8L448.28 671.69M424.14 796.46L566.44 770.96L566.44 670.85M629.84 790.1L476.74 766.7L476.74 666.59M393.52 791.78L535.82 766.28L535.82 666.17M658.3 785L505.2 761.6L505.2 661.49M362.9 787.1L505.2 761.6L505.2 661.49M362.9 787.1L505.2 761.6L658.3 785M362.9 770.41L505.2 744.91L658.3 768.32M362.9 753.73L505.2 728.23L658.3 751.63M362.9 737.05L505.2 711.55L658.3 734.95M362.9 720.36L505.2 694.86L658.3 718.26M362.9 703.67L505.2 678.17L658.3 701.58M362.9 686.99L505.2 661.49L658.3 684.89" stroke="#e4e4e4" stroke-width="0.5" fill="none"/>
<path d="M362.9 787.1L362.9 686.99M362.9 787.1L516 810.5L658.3 785M362.9 787.1h-2M362.9 770.41h-2M362.9 753.73h-2M362.9 737.05h-2M362.9 720.36h-2M362.9 703.67h-2M362.9 686.99h-2M516 810.5L513.87 810.88M516 810.5L518.3 810.85M485.38 805.82L483.25 806.2M544.46 805.4L546.76 805.75M454.76 801.14L452.63 801.52M572.92 800.3L575.22 800.65M424.14 796.46L422.01 796.84M601.38 795.2L603.68 795.55M393.52 791.78L391.39 792.16M629.84 790.1L632.14 790.45M362.9 787.1L360.77 787.48M658.3 785L660.6 785.35" stroke="#999" stroke-width="0.6" fill="none"/>
<g class="s">
<path d="M506.3 718.1l7.1 -1.3 -7.7 -1.1 -7.1 1.2z" class="g"/>
<path d="M513.9 719.3l7.1 -1.3 -7.6 -1.2 -7.1 1.3z" class="g"/>
<path d="M499.2 719.4l7.1 -1.3 -7.7 -1.2 -7.1 1.3z" class="g"/>
<path d="M521.6 720.4l7.1 -1.2 -7.7 -1.2 -7.1 1.3z" class="g"/>
<path d="M506.8 720.5l7.1 -1.2 -7.6 -1.2 -7.1 1.3z" class="g"/>
<path d="M492 720.7l7.2 -1.3 -7.7 -1.2 -7.1 1.3z" class="g"/>
<path d="M529.2 703.7l7.2 -1.2 -7.7 16.7 -7.1 1.2z" class="k"/>
<path d="M514.5 721.7l7.1 -1.3 -7.7 -1.1 -7.1 1.2z" class="g"/>
<path d="M499.7 721.8l7.1 -1.3 -7.6 -1.1 -7.2 1.3z" class="g"/>
<path d="M484.9 721.9l7.1 -1.2 -7.6 -1.2 -7.1 1.3z" class="g"/>
<path d="M536.9 704.9l7.1 -1.3 -7.6 -1.1 -7.2 1.2z" class="k"/>
<path d="M522.1 698.4l7.1 5.3 -7.6 16.7 -7.1 1.3z" class="m"/>
<path d="M507.4 710.8l7.1 10.9 -7.7 -1.2 -7.1 1.3z" class="j"/>
<path d="M492.6 723.1l7.1 -1.3 -7.7 -1.1 -7.1 1.2z" class="g"/>
<path d="M477.8 723.2l7.1 -1.3 -7.6 -1.1 -7.1 1.2z" class="g"/>
<path d="M544.6 706.1l7.1 -1.3 -7.7 -1.2 -7.1 1.3z" class="k"/>
<path d="M529.8 699.6l7.1 5.3 -7.7 -1.2 -7.1 -5.3z" class="m"/>
<path d="M515 695l7.1 3.4 -7.6 23.3 -7.1 -10.9z" class="n"/>
<path d="M500.2 706.4l7.2 4.4 -7.7 11 -7.1 1.3z" class="k"/>
<path d="M485.5 724.4l7.1 -1.3 -7.7 -1.2 -7.1 1.3z" class="g"/>
<path d="M470.7 724.5l7.1 -1.3 -7.6 -1.2 -7.2 1.3z" class="g"/>
<path d="M552.2 717.6l7.1 -1.3 -7.6 -11.5 -7.1 1.3z" class="i"/>
<path d="M537.4 700.8l7.2 5.3 -7.7 -1.2 -7.1 -5.3z" class="m"/>
<path d="M522.7 700.9l7.1 -1.3 -7.7 -1.2 -7.1 -3.4z" class="m"/>
<path d="M507.9 707.6l7.1 -12.6 -7.6 15.8 -7.2 -4.4z" class="k"/>
<path d="M493.1 704.8l7.1 1.6 -7.6 16.7 -7.1 1.3z" class="l"/>
<path d="M478.4 713.4l7.1 11 -7.7 -1.2 -7.1 1.3z" class="j"/>
<path d="M463.6 725.8l7.1 -1.3 -7.7 -1.2 -7.1 1.3z" class="g"/>
<path d="M559.9 718.8l7.1 -1.3 -7.7 -1.2 -7.1 1.3z" class="i"/>
<path d="M545.1 714.2l7.1 3.4 -7.6 -11.5 -7.2 -5.3z" class="j"/>
<path d="M530.3 702l7.1 -1.2 -7.6 -1.2 -7.1 1.3z" class="m"/>
<path d="M515.6 702.1l7.1 -1.2 -7.7 -5.9 -7.1 12.6z" class="m"/>
<path d="M500.8 706l7.1 1.6 -7.7 -1.2 -7.1 -1.6z" class="l"/>
<path d="M486 706.1l7.1 -1.3 -7.6 19.6 -7.1 -11z" class="l"/>
<path d="M471.2 709l7.2 4.4 -7.7 11.1 -7.1 1.3z" class="k"/>
<path d="M456.5 727l7.1 -1.2 -7.7 -1.2 -7.1 1.3z" class="g"/>
<path d="M567.5 719.9l7.1 -1.2 -7.6 -1.2 -7.1 1.3z" class="i"/>
<path d="M552.7 715.3l7.2 3.5 -7.7 -1.2 -7.1 -3.4z" class="j"/>
<path d="M538 707l7.1 7.2 -7.7 -13.4 -7.1 1.2z" class="l"/>
<path d="M523.2 703.3l7.1 -1.3 -7.6 -1.1 -7.1 1.2z" class="m"/>
<path d="M508.4 703.4l7.2 -1.3 -7.7 5.5 -7.1 -1.6z" class="m"/>
<path d="M493.7 707.3l7.1 -1.3 -7.7 -1.2 -7.1 1.3z" class="l"/>
<path d="M478.9 703.6l7.1 2.5 -7.6 7.3 -7.2 -4.4z" class="m"/>
<path d="M464.1 716l7.1 -7 -7.6 16.8 -7.1 1.2z" class="j"/>
<path d="M449.4 716.1l7.1 10.9 -7.7 -1.1 -7.1 -11z" class="j"/>
<path d="M575.2 693.8l7.1 -1.3 -7.7 26.2 -7.1 1.2z" class="o"/>
<path d="M560.4 716.5l7.1 3.4 -7.6 -1.1 -7.2 -3.5z" class="j"/>
<path d="M545.6 716.6l7.1 -1.3 -7.6 -1.1 -7.1 -7.2z" class="j"/>
<path d="M530.9 708.2l7.1 -1.2 -7.7 -5 -7.1 1.3z" class="l"/>
<path d="M516.1 704.6l7.1 -1.3 -7.6 -1.2 -7.2 1.3z" class="m"/>
<path d="M501.3 700l7.1 3.4 -7.6 2.6 -7.1 1.3z" class="n"/>
<path d="M486.6 704.8l7.1 2.5 -7.7 -1.2 -7.1 -2.5z" class="m"/>
<path d="M471.8 704.9l7.1 -1.3 -7.7 5.4 -7.1 7z" class="m"/>
<path d="M457 717.2l7.1 -1.2 -7.6 11 -7.1 -10.9z" class="j"/>
<path d="M442.2 717.3l7.2 -1.2 -7.7 -1.2 -7.1 -33.2z" class="j"/>
<path d="M582.8 695l7.1 -1.3 -7.6 -1.2 -7.1 1.3z" class="o"/>
<path d="M568.1 717.7l7.1 -23.9 -7.7 26.1 -7.1 -3.4z" class="j"/>
<path d="M553.3 722.5l7.1 -6 -7.7 -1.2 -7.1 1.3z" class="i"/>
<path d="M538.5 717.9l7.1 -1.3 -7.6 -9.6 -7.1 1.2z" class="j"/>
<path d="M523.7 705.8l7.2 2.4 -7.7 -4.9 -7.1 1.3z" class="m"/>
<path d="M509 701.2l7.1 3.4 -7.7 -1.2 -7.1 -3.4z" class="n"/>
<path d="M494.2 706l7.1 -6 -7.6 7.3 -7.1 -2.5z" class="m"/>
<path d="M479.4 706.1l7.2 -1.3 -7.7 -1.2 -7.1 1.3z" class="m"/>
<path d="M464.7 709.9l7.1 -5 -7.7 11.1 -7.1 1.2z" class="l"/>
<path d="M449.9 718.5l7.1 -1.3 -7.6 -1.1 -7.2 1.2z" class="j"/>
<path d="M435.1 696l7.1 21.3 -7.6 -35.6 -7.1 1.3z" class="o"/>
<path d="M590.5 706.5l7.1 -19.5 -7.7 6.7 -7.1 1.3z" class="m"/>
<path d="M575.7 701.9l7.1 -6.9 -7.6 -1.2 -7.1 23.9z" class="n"/>
<path d="M560.9 710.5l7.2 7.2 -7.7 -1.2 -7.1 6z" class="l"/>
<path d="M546.2 719.1l7.1 3.4 -7.7 -5.9 -7.1 1.3z" class="j"/>
<path d="M531.4 713.5l7.1 4.4 -7.6 -9.7 -7.2 -2.4z" class="k"/>
<path d="M516.6 707l7.1 -1.2 -7.6 -1.2 -7.1 -3.4z" class="m"/>
<path d="M501.9 707.1l7.1 -5.9 -7.7 -1.2 -7.1 6z" class="m"/>
<path d="M487.1 702.5l7.1 3.5 -7.6 -1.2 -7.2 1.3z" class="n"/>
<path d="M472.3 707.3l7.1 -1.2 -7.6 -1.2 -7.1 5z" class="m"/>
<path d="M457.6 711.2l7.1 -1.3 -7.7 7.3 -7.1 1.3z" class="l"/>
<path d="M442.8 719.8l7.1 -1.3 -7.7 -1.2 -7.1 -21.3z" class="j"/>
<path d="M428 685.1l7.1 10.9 -7.6 -13 -7.1 1.2z" class="p"/>
<path d="M598.1 714.3l7.2 -18.5 -7.7 -8.8 -7.1 19.5z" class="k"/>
<path d="M583.4 707.8l7.1 -1.3 -7.7 -11.5 -7.1 6.9z" class="m"/>
<path d="M568.6 707.9l7.1 -6 -7.6 15.8 -7.2 -7.2z" class="m"/>
<path d="M553.8 711.8l7.1 -1.3 -7.6 12 -7.1 -3.4z" class="l"/>
<path d="M539.1 720.3l7.1 -1.2 -7.7 -1.2 -7.1 -4.4z" class="j"/>
<path d="M524.3 714.8l7.1 -1.3 -7.7 -7.7 -7.1 1.2z" class="k"/>
<path d="M509.5 708.3l7.1 -1.3 -7.6 -5.8 -7.1 5.9z" class="m"/>
<path d="M494.8 703.7l7.1 3.4 -7.7 -1.1 -7.1 -3.5z" class="n"/>
<path d="M480 703.8l7.1 -1.3 -7.7 3.6 -7.1 1.2z" class="n"/>
<path d="M465.2 703.9l7.1 3.4 -7.6 2.6 -7.1 1.3z" class="n"/>
<path d="M450.4 712.5l7.2 -1.3 -7.7 7.3 -7.1 1.3z" class="l"/>
<path d="M435.7 733.3l7.1 -13.5 -7.7 -23.8 -7.1 -10.9z" class="g"/>
<path d="M420.9 686.4l7.1 -1.3 -7.6 -.9 -7.2 1.3z" class="p"/>
<path d="M605.8 698.5l7.1 -1.3 -7.6 -1.4 -7.2 18.5z" class="o"/>
<path d="M591 712.7l7.1 1.6 -7.6 -7.8 -7.1 1.3z" class="l"/>
<path d="M576.3 715.6l7.1 -7.8 -7.7 -5.9 -7.1 6z" class="k"/>
<path d="M561.5 712.9l7.1 -5 -7.7 2.6 -7.1 1.3z" class="l"/>
<path d="M546.7 721.5l7.1 -9.7 -7.6 7.3 -7.1 1.2z" class="j"/>
<path d="M531.9 721.6l7.2 -1.3 -7.7 -6.8 -7.1 1.3z" class="j"/>
<path d="M517.2 721.7l7.1 -6.9 -7.7 -7.8 -7.1 1.3z" class="j"/>
<path d="M502.4 713.3l7.1 -5 -7.6 -1.2 -7.1 -3.4z" class="l"/>
<path d="M487.6 705l7.2 -1.3 -7.7 -1.2 -7.1 1.3z" class="n"/>
<path d="M472.9 705.1l7.1 -1.3 -7.7 3.5 -7.1 -3.4z" class="n"/>
<path d="M458.1 705.2l7.1 -1.3 -7.6 7.3 -7.2 1.3z" class="n"/>
<path d="M443.3 713.8l7.1 -1.3 -7.6 7.3 -7.1 13.5z" class="l"/>
<path d="M428.6 716.7l7.1 16.6 -7.7 -48.2 -7.1 1.3z" class="k"/>
<path d="M413.8 687.6l7.1 -1.2 -7.7 -.9 -7.1 1.3z" class="p"/>
<path d="M613.4 699.7l7.2 -1.3 -7.7 -1.2 -7.1 1.3z" class="o"/>
<path d="M598.7 713.9l7.1 -15.4 -7.7 15.8 -7.1 -1.6z" class="l"/>
<path d="M583.9 716.8l7.1 -4.1 -7.6 -4.9 -7.1 7.8z" class="k"/>
<path d="M569.1 722.6l7.2 -7 -7.7 -7.7 -7.1 5z" class="j"/>
<path d="M554.4 714.2l7.1 -1.3 -7.7 -1.1 -7.1 9.7z" class="l"/>
<path d="M539.6 717.1l7.1 4.4 -7.6 -1.2 -7.2 1.3z" class="k"/>
<path d="M524.8 722.9l7.1 -1.3 -7.6 -6.8 -7.1 6.9z" class="j"/>
<path d="M510.1 723l7.1 -1.3 -7.7 -13.4 -7.1 5z" class="j"/>
<path d="M495.3 717.4l7.1 -4.1 -7.6 -9.6 -7.2 1.3z" class="k"/>
<path d="M480.5 711l7.1 -6 -7.6 -1.2 -7.1 1.3z" class="m"/>
<path d="M465.7 706.4l7.2 -1.3 -7.7 -1.2 -7.1 1.3z" class="n"/>
<path d="M451 706.5l7.1 -1.3 -7.7 7.3 -7.1 1.3z" class="n"/>
<path d="M436.2 732l7.1 -18.2 -7.6 19.5 -7.1 -16.6z" class="h"/>
<path d="M421.4 715.1l7.2 1.6 -7.7 -30.3 -7.1 1.2z" class="l"/>
<path d="M621.1 717.8l7.1 -1.3 -7.6 -18.1 -7.2 1.3z" class="k"/>
<path d="M406.7 688.9l7.1 -1.3 -7.7 -.8 -7.1 1.3z" class="p"/>
<path d="M606.3 711.3l7.1 -11.6 -7.6 -1.2 -7.1 15.4z" class="m"/>
<path d="M591.6 715.2l7.1 -1.3 -7.7 -1.2 -7.1 4.1z" class="l"/>
<path d="M576.8 718.1l7.1 -1.3 -7.6 -1.2 -7.2 7z" class="k"/>
<path d="M562 718.2l7.1 4.4 -7.6 -9.7 -7.1 1.3z" class="k"/>
<path d="M547.3 715.5l7.1 -1.3 -7.7 7.3 -7.1 -4.4z" class="l"/>
<path d="M532.5 718.4l7.1 -1.3 -7.7 4.5 -7.1 1.3z" class="k"/>
<path d="M517.7 724.2l7.1 -1.3 -7.6 -1.2 -7.1 1.3z" class="j"/>
<path d="M502.9 724.3l7.2 -1.3 -7.7 -9.7 -7.1 4.1z" class="j"/>
<path d="M488.2 715.9l7.1 1.5 -7.7 -12.4 -7.1 6z" class="l"/>
<path d="M473.4 712.2l7.1 -1.2 -7.6 -5.9 -7.2 1.3z" class="m"/>
<path d="M458.6 707.6l7.1 -1.2 -7.6 -1.2 -7.1 1.3z" class="n"/>
<path d="M443.9 716.2l7.1 -9.7 -7.7 7.3 -7.1 18.2z" class="l"/>
<path d="M429.1 719.1l7.1 12.9 -7.6 -15.3 -7.2 -1.6z" class="k"/>
<path d="M628.8 724.6l7.1 -1.3 -7.7 -6.8 -7.1 1.3z" class="j"/>
<path d="M414.3 708l7.1 7.1 -7.6 -27.5 -7.1 1.3z" class="n"/>
<path d="M614 724.7l7.1 -6.9 -7.7 -18.1 -7.1 11.6z" class="j"/>
<path d="M399.6 690.2l7.1 -1.3 -7.7 -.8 -7.1 1.2z" class="p"/>
<path d="M599.2 716.3l7.1 -5 -7.6 2.6 -7.1 1.3z" class="l"/>
<path d="M584.4 716.4l7.2 -1.2 -7.7 1.6 -7.1 1.3z" class="l"/>
<path d="M569.7 725l7.1 -6.9 -7.7 4.5 -7.1 -4.4z" class="j"/>
<path d="M554.9 716.6l7.1 1.6 -7.6 -4 -7.1 1.3z" class="l"/>
<path d="M540.1 716.8l7.2 -1.3 -7.7 1.6 -7.1 1.3z" class="l"/>
<path d="M525.4 725.3l7.1 -6.9 -7.7 4.5 -7.1 1.3z" class="j"/>
<path d="M510.6 725.4l7.1 -1.2 -7.6 -1.2 -7.2 1.3z" class="j"/>
<path d="M495.8 719.9l7.1 4.4 -7.6 -6.9 -7.1 -1.5z" class="k"/>
<path d="M481.1 717.2l7.1 -1.3 -7.7 -4.9 -7.1 1.2z" class="l"/>
<path d="M466.3 713.5l7.1 -1.3 -7.7 -5.8 -7.1 1.2z" class="m"/>
<path d="M451.5 713.6l7.1 -6 -7.6 -1.1 -7.1 9.7z" class="m"/>
<path d="M436.8 726l7.1 -9.8 -7.7 15.8 -7.1 -12.9z" class="j"/>
<path d="M636.4 725.8l7.1 -1.3 -7.6 -1.2 -7.1 1.3z" class="j"/>
<path d="M422 717.6l7.1 1.5 -7.7 -4 -7.1 -7.1z" class="l"/>
<path d="M621.6 725.9l7.2 -1.3 -7.7 -6.8 -7.1 6.9z" class="j"/>
<path d="M407.2 709.2l7.1 -1.2 -7.6 -19.1 -7.1 1.3z" class="n"/>
<path d="M606.9 726l7.1 -1.3 -7.7 -13.4 -7.1 5z" class="j"/>
<path d="M392.4 691.5l7.2 -1.3 -7.7 -.9 -7.1 1.3z" class="p"/>
<path d="M592.1 717.6l7.1 -1.3 -7.6 -1.1 -7.2 1.2z" class="l"/>
<path d="M577.3 720.5l7.1 -4.1 -7.6 1.7 -7.1 6.9z" class="k"/>
<path d="M562.6 726.3l7.1 -1.3 -7.7 -6.8 -7.1 -1.6z" class="j"/>
<path d="M547.8 717.9l7.1 -1.3 -7.6 -1.1 -7.2 1.3z" class="l"/>
<path d="M533 720.8l7.1 -4 -7.6 1.6 -7.1 6.9z" class="k"/>
<path d="M518.3 726.6l7.1 -1.3 -7.7 -1.1 -7.1 1.2z" class="j"/>
<path d="M503.5 726.7l7.1 -1.3 -7.7 -1.1 -7.1 -4.4z" class="j"/>
<path d="M488.7 721.2l7.1 -1.3 -7.6 -4 -7.1 1.3z" class="k"/>
<path d="M473.9 718.4l7.2 -1.2 -7.7 -5 -7.1 1.3z" class="l"/>
<path d="M459.2 714.8l7.1 -1.3 -7.7 -5.9 -7.1 6z" class="m"/>
<path d="M444.4 739.4l7.1 -25.8 -7.6 2.6 -7.1 9.8z" class="g"/>
<path d="M429.6 718.8l7.2 7.2 -7.7 -6.9 -7.1 -1.5z" class="l"/>
<path d="M629.3 739.3l7.1 -13.5 -7.6 -1.2 -7.2 1.3z" class="g"/>
<path d="M414.9 710.4l7.1 7.2 -7.7 -9.6 -7.1 1.2z" class="n"/>
<path d="M614.5 727.1l7.1 -1.2 -7.6 -1.2 -7.1 1.3z" class="j"/>
<path d="M400.1 710.5l7.1 -1.3 -7.6 -19 -7.2 1.3z" class="n"/>
<path d="M599.8 721.6l7.1 4.4 -7.7 -9.7 -7.1 1.3z" class="k"/>
<path d="M385.3 692.7l7.1 -1.2 -7.6 -.9 -7.1 1.3z" class="p"/>
<path d="M585 715.1l7.1 2.5 -7.7 -1.2 -7.1 4.1z" class="m"/>
<path d="M570.2 721.8l7.1 -1.3 -7.6 4.5 -7.1 1.3z" class="k"/>
<path d="M555.5 721.9l7.1 4.4 -7.7 -9.7 -7.1 1.3z" class="k"/>
<path d="M540.7 722l7.1 -4.1 -7.7 -1.1 -7.1 4z" class="k"/>
<path d="M525.9 722.1l7.1 -1.3 -7.6 4.5 -7.1 1.3z" class="k"/>
<path d="M511.1 727.9l7.2 -1.3 -7.7 -1.2 -7.1 1.3z" class="j"/>
<path d="M496.4 728l7.1 -1.3 -7.7 -6.8 -7.1 1.3z" class="j"/>
<path d="M481.6 722.4l7.1 -1.2 -7.6 -4 -7.2 1.2z" class="k"/>
<path d="M466.8 719.7l7.1 -1.3 -7.6 -4.9 -7.1 1.3z" class="l"/>
<path d="M452.1 728.3l7.1 -13.5 -7.7 -1.2 -7.1 25.8z" class="j"/>
<path d="M437.3 736.9l7.1 2.5 -7.6 -13.4 -7.2 -7.2z" class="h"/>
<path d="M422.5 720l7.1 -1.2 -7.6 -1.2 -7.1 -7.2z" class="l"/>
<path d="M622.2 740.5l7.1 -1.2 -7.7 -13.4 -7.1 1.2z" class="g"/>
<path d="M407.8 711.7l7.1 -1.3 -7.7 -1.2 -7.1 1.3z" class="n"/>
<path d="M607.4 736.9l7.1 -9.8 -7.6 -1.1 -7.1 -4.4z" class="h"/>
<path d="M393 706.1l7.1 4.4 -7.7 -19 -7.1 1.2z" class="o"/>
<path d="M592.6 716.3l7.2 5.3 -7.7 -4 -7.1 -2.5z" class="m"/>
<path d="M577.9 716.4l7.1 -1.3 -7.7 5.4 -7.1 1.3z" class="m"/>
<path d="M563.1 723.1l7.1 -1.3 -7.6 4.5 -7.1 -4.4z" class="k"/>
<path d="M548.3 723.2l7.2 -1.3 -7.7 -4 -7.1 4.1z" class="k"/>
<path d="M533.6 723.3l7.1 -1.3 -7.7 -1.2 -7.1 1.3z" class="k"/>
<path d="M518.8 723.4l7.1 -1.3 -7.6 4.5 -7.2 1.3z" class="k"/>
<path d="M504 729.2l7.1 -1.3 -7.6 -1.2 -7.1 1.3z" class="j"/>
<path d="M489.3 723.6l7.1 4.4 -7.7 -6.8 -7.1 1.2z" class="k"/>
<path d="M474.5 723.7l7.1 -1.3 -7.7 -4 -7.1 1.3z" class="k"/>
<path d="M459.7 729.5l7.1 -9.8 -7.6 -4.9 -7.1 13.5z" class="j"/>
<path d="M444.9 734.3l7.2 -6 -7.7 11.1 -7.1 -2.5z" class="i"/>
<path d="M430.2 738.1l7.1 -1.2 -7.7 -18.1 -7.1 1.2z" class="h"/>
<path d="M415.4 712.8l7.1 7.2 -7.6 -9.6 -7.1 1.3z" class="n"/>
<path d="M615.1 741.8l7.1 -1.3 -7.7 -13.4 -7.1 9.8z" class="g"/>
<path d="M400.6 707.3l7.2 4.4 -7.7 -1.2 -7.1 -4.4z" class="o"/>
<path d="M600.3 741.9l7.1 -5 -7.6 -15.3 -7.2 -5.3z" class="g"/>
<path d="M585.5 717.6l7.1 -1.3 -7.6 -1.2 -7.1 1.3z" class="m"/>
<path d="M570.8 724.3l7.1 -7.9 -7.7 5.4 -7.1 1.3z" class="k"/>
<path d="M556 724.4l7.1 -1.3 -7.6 -1.2 -7.2 1.3z" class="k"/>
<path d="M541.2 713.2l7.1 10 -7.6 -1.2 -7.1 1.3z" class="n"/>
<path d="M526.4 721.7l7.2 1.6 -7.7 -1.2 -7.1 1.3z" class="l"/>
<path d="M511.7 724.7l7.1 -1.3 -7.7 4.5 -7.1 1.3z" class="k"/>
<path d="M496.9 724.8l7.1 4.4 -7.6 -1.2 -7.1 -4.4z" class="k"/>
<path d="M482.1 724.9l7.2 -1.3 -7.7 -1.2 -7.1 1.3z" class="k"/>
<path d="M467.4 730.6l7.1 -6.9 -7.7 -4 -7.1 9.8z" class="j"/>
<path d="M452.6 725.1l7.1 4.4 -7.6 -1.2 -7.2 6z" class="k"/>
<path d="M437.8 730.8l7.1 3.5 -7.6 2.6 -7.1 1.2z" class="j"/>
<path d="M423.1 735.7l7.1 2.4 -7.7 -18.1 -7.1 -7.2z" class="i"/>
<path d="M408.3 708.5l7.1 4.3 -7.6 -1.1 -7.2 -4.4z" class="o"/>
<path d="M608 743.1l7.1 -1.3 -7.7 -4.9 -7.1 5z" class="g"/>
<path d="M593.2 743.2l7.1 -1.3 -7.7 -25.6 -7.1 1.3z" class="g"/>
<path d="M578.4 739.5l7.1 -21.9 -7.6 -1.2 -7.1 7.9z" class="h"/>
<path d="M563.6 731.2l7.2 -6.9 -7.7 -1.2 -7.1 1.3z" class="j"/>
<path d="M548.9 714.3l7.1 10.1 -7.7 -1.2 -7.1 -10z" class="n"/>
<path d="M534.1 714.4l7.1 -1.2 -7.6 10.1 -7.2 -1.6z" class="n"/>
<path d="M519.3 719.3l7.1 2.4 -7.6 1.7 -7.1 1.3z" class="m"/>
<path d="M504.6 723.1l7.1 1.6 -7.7 4.5 -7.1 -4.4z" class="l"/>
<path d="M489.8 723.2l7.1 1.6 -7.6 -1.2 -7.2 1.3z" class="l"/>
<path d="M475 731.8l7.1 -6.9 -7.6 -1.2 -7.1 6.9z" class="j"/>
<path d="M460.3 726.3l7.1 4.3 -7.7 -1.1 -7.1 -4.4z" class="k"/>
<path d="M445.5 732l7.1 -6.9 -7.7 9.2 -7.1 -3.5z" class="j"/>
<path d="M430.7 732.1l7.1 -1.3 -7.6 7.3 -7.1 -2.4z" class="j"/>
<path d="M415.9 732.2l7.2 3.5 -7.7 -22.9 -7.1 -4.3z" class="j"/>
<path d="M600.8 744.4l7.2 -1.3 -7.7 -1.2 -7.1 1.3z" class="g"/>
<path d="M586.1 744.5l7.1 -1.3 -7.7 -25.6 -7.1 21.9z" class="g"/>
<path d="M571.3 744.6l7.1 -5.1 -7.6 -15.2 -7.2 6.9z" class="g"/>
<path d="M556.5 732.5l7.1 -1.3 -7.6 -6.8 -7.1 -10.1z" class="j"/>
<path d="M541.8 715.6l7.1 -1.3 -7.7 -1.1 -7.1 1.2z" class="n"/>
<path d="M527 720.4l7.1 -6 -7.7 7.3 -7.1 -2.4z" class="m"/>
<path d="M512.2 724.3l7.1 -5 -7.6 5.4 -7.1 -1.6z" class="l"/>
<path d="M497.4 724.4l7.2 -1.3 -7.7 1.7 -7.1 -1.6z" class="l"/>
<path d="M482.7 727.3l7.1 -4.1 -7.7 1.7 -7.1 6.9z" class="k"/>
<path d="M467.9 733.1l7.1 -1.3 -7.6 -1.2 -7.1 -4.3z" class="j"/>
<path d="M453.1 733.2l7.2 -6.9 -7.7 -1.2 -7.1 6.9z" class="j"/>
<path d="M438.4 727.6l7.1 4.4 -7.7 -1.2 -7.1 1.3z" class="k"/>
<path d="M423.6 721.2l7.1 10.9 -7.6 3.6 -7.2 -3.5z" class="m"/>
<path d="M593.7 745.6l7.1 -1.2 -7.6 -1.2 -7.1 1.3z" class="g"/>
<path d="M579 745.7l7.1 -1.2 -7.7 -5 -7.1 5.1z" class="g"/>
<path d="M564.2 745.9l7.1 -1.3 -7.7 -13.4 -7.1 1.3z" class="g"/>
<path d="M549.4 716.8l7.1 15.7 -7.6 -18.2 -7.1 1.3z" class="n"/>
<path d="M534.6 716.9l7.2 -1.3 -7.7 -1.2 -7.1 6z" class="n"/>
<path d="M519.9 725.5l7.1 -5.1 -7.7 -1.1 -7.1 5z" class="l"/>
<path d="M505.1 728.4l7.1 -4.1 -7.6 -1.2 -7.2 1.3z" class="k"/>
<path d="M490.3 728.5l7.1 -4.1 -7.6 -1.2 -7.1 4.1z" class="k"/>
<path d="M475.6 734.3l7.1 -7 -7.7 4.5 -7.1 1.3z" class="j"/>
<path d="M460.8 734.4l7.1 -1.3 -7.6 -6.8 -7.2 6.9z" class="j"/>
<path d="M446 728.8l7.1 4.4 -7.6 -1.2 -7.1 -4.4z" class="k"/>
<path d="M431.3 722.3l7.1 5.3 -7.7 4.5 -7.1 -10.9z" class="m"/>
<path d="M586.6 746.9l7.1 -1.3 -7.6 -1.1 -7.1 1.2z" class="g"/>
<path d="M571.8 747l7.2 -1.3 -7.7 -1.1 -7.1 1.3z" class="g"/>
<path d="M557.1 747.1l7.1 -1.2 -7.7 -13.4 -7.1 -15.7z" class="g"/>
<path d="M542.3 705.8l7.1 11 -7.6 -1.2 -7.2 1.3z" class="q2"/>
<path d="M527.5 712.5l7.1 4.4 -7.6 3.5 -7.1 5.1z" class="o"/>
<path d="M512.8 729.6l7.1 -4.1 -7.7 -1.2 -7.1 4.1z" class="k"/>
<path d="M498 729.7l7.1 -1.3 -7.7 -4 -7.1 4.1z" class="k"/>
<path d="M483.2 735.4l7.1 -6.9 -7.6 -1.2 -7.1 7z" class="j"/>
<path d="M468.5 735.5l7.1 -1.2 -7.7 -1.2 -7.1 1.3z" class="j"/>
<path d="M453.7 730l7.1 4.4 -7.7 -1.2 -7.1 -4.4z" class="k"/>
<path d="M438.9 723.5l7.1 5.3 -7.6 -1.2 -7.1 -5.3z" class="m"/>
<path d="M579.5 748.2l7.1 -1.3 -7.6 -1.2 -7.2 1.3z" class="g"/>
<path d="M564.7 748.3l7.1 -1.3 -7.6 -1.1 -7.1 1.2z" class="g"/>
<path d="M550 755l7.1 -7.9 -7.7 -30.3 -7.1 -11z" class="f"/>
<path d="M535.2 709.9l7.1 -4.1 -7.7 11.1 -7.1 -4.4z" class="q"/>
<path d="M520.4 713.8l7.1 -1.3 -7.6 13 -7.1 4.1z" class="o"/>
<path d="M505.6 730.8l7.2 -1.2 -7.7 -1.2 -7.1 1.3z" class="k"/>
<path d="M490.9 736.6l7.1 -6.9 -7.7 -1.2 -7.1 6.9z" class="j"/>
<path d="M476.1 736.7l7.1 -1.3 -7.6 -1.1 -7.1 1.2z" class="j"/>
<path d="M461.3 741.5l7.2 -6 -7.7 -1.1 -7.1 -4.4z" class="i"/>
<path d="M446.6 720l7.1 10 -7.7 -1.2 -7.1 -5.3z" class="n"/>
<path d="M572.4 749.5l7.1 -1.3 -7.7 -1.2 -7.1 1.3z" class="g"/>
<path d="M557.6 774l7.1 -25.7 -7.6 -1.2 -7.1 7.9z" class="c"/>
<path d="M542.8 774.1l7.2 -19.1 -7.7 -49.2 -7.1 4.1z" class="c"/>
<path d="M528.1 715l7.1 -5.1 -7.7 2.6 -7.1 1.3z" class="o"/>
<path d="M513.3 715.1l7.1 -1.3 -7.6 15.8 -7.2 1.2z" class="o"/>
<path d="M498.5 720.8l7.1 10 -7.6 -1.1 -7.1 6.9z" class="n"/>
<path d="M483.8 737.9l7.1 -1.3 -7.7 -1.2 -7.1 1.3z" class="j"/>
<path d="M469 742.7l7.1 -6 -7.6 -1.2 -7.2 6z" class="i"/>
<path d="M454.2 725.8l7.1 15.7 -7.6 -11.5 -7.1 -10z" class="m"/>
<path d="M565.3 750.7l7.1 -1.2 -7.7 -1.2 -7.1 25.7z" class="g"/>
<path d="M550.5 775.3l7.1 -1.3 -7.6 -19 -7.2 19.1z" class="c"/>
<path d="M535.7 743.4l7.1 30.7 -7.6 -64.2 -7.1 5.1z" class="i"/>
<path d="M521 721.9l7.1 -6.9 -7.7 -1.2 -7.1 1.3z" class="n"/>
<path d="M506.2 716.3l7.1 -1.2 -7.7 15.7 -7.1 -10z" class="o"/>
<path d="M491.4 722.1l7.1 -1.3 -7.6 15.8 -7.1 1.3z" class="n"/>
<path d="M476.6 730.7l7.2 7.2 -7.7 -1.2 -7.1 6z" class="l"/>
<path d="M461.9 747.7l7.1 -5 -7.7 -1.2 -7.1 -15.7z" class="h"/>
<path d="M558.1 776.5l7.2 -25.8 -7.7 23.3 -7.1 1.3z" class="c"/>
<path d="M543.4 799.2l7.1 -23.9 -7.7 -1.2 -7.1 -30.7z" class="a"/>
<path d="M528.6 744.7l7.1 -1.3 -7.6 -28.4 -7.1 6.9z" class="i"/>
<path d="M513.8 723.2l7.2 -1.3 -7.7 -6.8 -7.1 1.2z" class="n"/>
<path d="M499.1 713.9l7.1 2.4 -7.7 4.5 -7.1 1.3z" class="q"/>
<path d="M484.3 723.4l7.1 -1.3 -7.6 15.8 -7.2 -7.2z" class="n"/>
<path d="M469.5 740.4l7.1 -9.7 -7.6 12 -7.1 5z" class="j"/>
<path d="M551 800.3l7.1 -23.8 -7.6 -1.2 -7.1 23.9z" class="a"/>
<path d="M536.3 800.5l7.1 -1.3 -7.7 -55.8 -7.1 1.3z" class="a"/>
<path d="M521.5 746l7.1 -1.3 -7.6 -22.8 -7.2 1.3z" class="i"/>
<path d="M506.7 718.8l7.1 4.4 -7.6 -6.9 -7.1 -2.4z" class="o"/>
<path d="M492 718.9l7.1 -5 -7.7 8.2 -7.1 1.3z" class="o"/>
<path d="M477.2 724.6l7.1 -1.2 -7.7 7.3 -7.1 9.7z" class="n"/>
<path d="M543.9 801.6l7.1 -1.3 -7.6 -1.1 -7.1 1.3z" class="a"/>
<path d="M529.2 801.7l7.1 -1.2 -7.7 -55.8 -7.1 1.3z" class="a"/>
<path d="M514.4 747.3l7.1 -1.3 -7.7 -22.8 -7.1 -4.4z" class="i"/>
<path d="M499.6 720.1l7.1 -1.3 -7.6 -4.9 -7.1 5z" class="o"/>
<path d="M484.8 720.2l7.2 -1.3 -7.7 4.5 -7.1 1.2z" class="o"/>
<path d="M536.8 802.9l7.1 -1.3 -7.6 -1.1 -7.1 1.2z" class="a"/>
<path d="M522 803l7.2 -1.3 -7.7 -55.7 -7.1 1.3z" class="a"/>
<path d="M507.3 748.5l7.1 -1.2 -7.7 -28.5 -7.1 1.3z" class="i"/>
<path d="M492.5 727l7.1 -6.9 -7.6 -1.2 -7.2 1.3z" class="n"/>
<path d="M529.7 804.2l7.1 -1.3 -7.6 -1.2 -7.2 1.3z" class="a"/>
<path d="M514.9 804.3l7.1 -1.3 -7.6 -55.7 -7.1 1.2z" class="a"/>
<path d="M500.1 749.8l7.2 -1.3 -7.7 -28.4 -7.1 6.9z" class="i"/>
<path d="M522.6 805.4l7.1 -1.2 -7.7 -1.2 -7.1 1.3z" class="a"/>
<path d="M507.8 805.6l7.1 -1.3 -7.6 -55.8 -7.2 1.3z" class="a"/>
<path d="M515.5 806.7l7.1 -1.3 -7.7 -1.1 -7.1 1.3z" class="a"/>
</g>
<text x="357.9" y="789.5" font-size="7.0" text-anchor="end" font-weight="bold" fill="#222">-20</text>
<text x="357.9" y="772.81" font-size="7.0" text-anchor="end" font-weight="bold" fill="#222">-15</text>
<text x="357.9" y="756.13" font-size="7.0" text-anchor="end" font-weight="bold" fill="#222">-10</text>
<text x="357.9" y="739.45" font-size="7.0" text-anchor="end" font-weight="bold" fill="#222">-5</text>
<text x="357.9" y="722.76" font-size="7.0" text-anchor="end" font-weight="bold" fill="#222">0</text>
<text x="357.9" y="706.07" font-size="7.0" text-anchor="end" font-weight="bold" fill="#222">5</text>
<text x="357.9" y="689.39" font-size="7.0" text-anchor="end" font-weight="bold" fill="#222">10</text>
<text x="510.6" y="818.5" font-size="7.0" text-anchor="end" font-weight="bold" fill="#222">0</text>
<text x="521.4" y="818.5" font-size="7.0" text-anchor="start" font-weight="bold" fill="#222">0</text>
<text x="479.98" y="813.82" font-size="7.0" text-anchor="end" font-weight="bold" fill="#222">0.2</text>
<text x="549.86" y="813.4" font-size="7.0" text-anchor="start" font-weight="bold" fill="#222">0.2</text>
<text x="449.36" y="809.14" font-size="7.0" text-anchor="end" font-weight="bold" fill="#222">0.4</text>
<text x="578.32" y="808.3" font-size="7.0" text-anchor="start" font-weight="bold" fill="#222">0.4</text>
<text x="418.74" y="804.46" font-size="7.0" text-anchor="end" font-weight="bold" fill="#222">0.6</text>
<text x="606.78" y="803.2" font-size="7.0" text-anchor="start" font-weight="bold" fill="#222">0.6</text>
<text x="388.12" y="799.78" font-size="7.0" text-anchor="end" font-weight="bold" fill="#222">0.8</text>
<text x="635.24" y="798.1" font-size="7.0" text-anchor="start" font-weight="bold" fill="#222">0.8</text>
<text x="357.5" y="795.1" font-size="7.0" text-anchor="end" font-weight="bold" fill="#222">1</text>
<text x="663.7" y="793" font-size="7.0" text-anchor="start" font-weight="bold" fill="#222">1</text>
<text x="442.2" y="825.2" font-size="7.5" text-anchor="middle" font-weight="bold" fill="#222">Industrial</text>
<text x="583.2" y="824.3" font-size="7.3" text-anchor="middle" font-weight="bold" fill="#222">GSCPI</text>
<rect x="667.8" y="662.6" width="5.8" height="147.8" fill="url(#jet)"/>
<line x1="672.4" y1="786.29" x2="673.6" y2="786.29" stroke="#444" stroke-width="0.4"/>
<text x="675.5" y="788.47" font-size="6.4" text-anchor="start" font-weight="bold" fill="#3a3a3a">-15</text>
<line x1="672.4" y1="760.09" x2="673.6" y2="760.09" stroke="#444" stroke-width="0.4"/>
<text x="675.5" y="762.26" font-size="6.4" text-anchor="start" font-weight="bold" fill="#3a3a3a">-10</text>
<line x1="672.4" y1="733.88" x2="673.6" y2="733.88" stroke="#444" stroke-width="0.4"/>
<text x="675.5" y="736.06" font-size="6.4" text-anchor="start" font-weight="bold" fill="#3a3a3a">-5</text>
<line x1="672.4" y1="707.67" x2="673.6" y2="707.67" stroke="#444" stroke-width="0.4"/>
<text x="675.5" y="709.85" font-size="6.4" text-anchor="start" font-weight="bold" fill="#3a3a3a">0</text>
<line x1="672.4" y1="681.47" x2="673.6" y2="681.47" stroke="#444" stroke-width="0.4"/>
<text x="675.5" y="683.64" font-size="6.4" text-anchor="start" font-weight="bold" fill="#3a3a3a">5</text>
<path d="M510.2 977.7L362.1 950.7L362.1 852.7M510.2 977.7L658.5 951.5L658.5 853.5M539.86 972.46L391.76 945.46L391.76 847.46M480.58 972.3L628.88 946.1L628.88 848.1M569.52 967.22L421.42 940.22L421.42 842.22M450.96 966.9L599.26 940.7L599.26 842.7M599.18 961.98L451.08 934.98L451.08 836.98M421.34 961.5L569.64 935.3L569.64 837.3M628.84 956.74L480.74 929.74L480.74 831.74M391.72 956.1L540.02 929.9L540.02 831.9M658.5 951.5L510.4 924.5L510.4 826.5M362.1 950.7L510.4 924.5L510.4 826.5M362.1 948.9L510.4 922.7L658.5 949.7M362.1 924.85L510.4 898.65L658.5 925.65M362.1 900.8L510.4 874.6L658.5 901.6M362.1 876.75L510.4 850.55L658.5 877.55M362.1 852.7L510.4 826.5L658.5 853.5" stroke="#e4e4e4" stroke-width="0.5" fill="none"/>
<path d="M362.1 950.7L362.1 852.7M362.1 950.7L510.2 977.7L658.5 951.5M362.1 948.9h-2M362.1 924.85h-2M362.1 900.8h-2M362.1 876.75h-2M362.1 852.7h-2M510.2 977.7L507.98 978.09M510.2 977.7L512.42 978.11M480.58 972.3L478.36 972.69M539.86 972.46L542.08 972.87M450.96 966.9L448.74 967.29M569.52 967.22L571.74 967.62M421.34 961.5L419.12 961.89M599.18 961.98L601.4 962.38M391.72 956.1L389.5 956.49M628.84 956.74L631.06 957.14M362.1 950.7L359.88 951.09M658.5 951.5L660.72 951.9" stroke="#999" stroke-width="0.6" fill="none"/>
<g class="s">
<path d="M510.4 879.9l7.4 -1.3 -7.4 -1.3 -7.4 1.3z" class="j"/>
<path d="M503 876.6l7.4 3.3 -7.4 -1.3 -7.4 -3.4z" class="k"/>
<path d="M517.8 881.3l7.4 -1.3 -7.4 -1.4 -7.4 1.3z" class="j"/>
<path d="M495.6 877.9l7.4 -1.3 -7.4 -1.4 -7.5 1.3z" class="k"/>
<path d="M510.4 877.9l7.4 3.4 -7.4 -1.4 -7.4 -3.3z" class="k"/>
<path d="M525.2 882.6l7.4 -1.3 -7.4 -1.3 -7.4 1.3z" class="j"/>
<path d="M488.1 876.8l7.5 1.1 -7.5 -1.4 -7.4 -1z" class="l"/>
<path d="M503 879.2l7.4 -1.3 -7.4 -1.3 -7.4 1.3z" class="k"/>
<path d="M517.8 883.9l7.4 -1.3 -7.4 -1.3 -7.4 -3.4z" class="j"/>
<path d="M532.6 887.9l7.4 -1.3 -7.4 -5.3 -7.4 1.3z" class="i"/>
<path d="M480.7 885.2l7.4 -8.4 -7.4 -1.3 -7.4 8.3z" class="j"/>
<path d="M495.5 878.2l7.5 1 -7.4 -1.3 -7.5 -1.1z" class="l"/>
<path d="M510.4 885.3l7.4 -1.4 -7.4 -6 -7.4 1.3z" class="j"/>
<path d="M525.2 885.3l7.4 2.6 -7.4 -5.3 -7.4 1.3z" class="j"/>
<path d="M540 892.4l7.4 -1.4 -7.4 -4.4 -7.4 1.3z" class="h"/>
<path d="M473.3 886.5l7.4 -1.3 -7.4 -1.4 -7.4 1.3z" class="j"/>
<path d="M488.1 886.5l7.4 -8.3 -7.4 -1.4 -7.4 8.4z" class="j"/>
<path d="M502.9 886.6l7.5 -1.3 -7.4 -6.1 -7.5 -1z" class="j"/>
<path d="M517.8 886.6l7.4 -1.3 -7.4 -1.4 -7.4 1.4z" class="j"/>
<path d="M532.6 886.6l7.4 5.8 -7.4 -4.5 -7.4 -2.6z" class="j"/>
<path d="M547.4 890.6l7.4 -1.3 -7.4 1.7 -7.4 1.4z" class="i"/>
<path d="M465.9 887.8l7.4 -1.3 -7.4 -1.4 -7.4 1.3z" class="j"/>
<path d="M480.7 887.8l7.4 -1.3 -7.4 -1.3 -7.4 1.3z" class="j"/>
<path d="M495.5 887.9l7.4 -1.3 -7.4 -8.4 -7.4 8.3z" class="j"/>
<path d="M510.3 887.9l7.5 -1.3 -7.4 -1.3 -7.5 1.3z" class="j"/>
<path d="M525.2 888l7.4 -1.4 -7.4 -1.3 -7.4 1.3z" class="j"/>
<path d="M540 888l7.4 2.6 -7.4 1.8 -7.4 -5.8z" class="j"/>
<path d="M554.8 891.9l7.4 -1.3 -7.4 -1.3 -7.4 1.3z" class="i"/>
<path d="M458.5 889.1l7.4 -1.3 -7.4 -1.4 -7.4 1.4z" class="j"/>
<path d="M473.3 889.1l7.4 -1.3 -7.4 -1.3 -7.4 1.3z" class="j"/>
<path d="M488.1 889.2l7.4 -1.3 -7.4 -1.4 -7.4 1.3z" class="j"/>
<path d="M502.9 889.2l7.4 -1.3 -7.4 -1.3 -7.4 1.3z" class="j"/>
<path d="M517.8 889.3l7.4 -1.3 -7.4 -1.4 -7.5 1.3z" class="j"/>
<path d="M532.6 889.3l7.4 -1.3 -7.4 -1.4 -7.4 1.4z" class="j"/>
<path d="M547.4 889.3l7.4 2.6 -7.4 -1.3 -7.4 -2.6z" class="j"/>
<path d="M562.2 889.4l7.4 -1.3 -7.4 2.5 -7.4 1.3z" class="j"/>
<path d="M451.1 885.7l7.4 3.4 -7.4 -1.3 -7.4 -3.4z" class="k"/>
<path d="M465.9 890.5l7.4 -1.4 -7.4 -1.3 -7.4 1.3z" class="j"/>
<path d="M480.7 890.5l7.4 -1.3 -7.4 -1.4 -7.4 1.3z" class="j"/>
<path d="M495.5 890.5l7.4 -1.3 -7.4 -1.3 -7.4 1.3z" class="j"/>
<path d="M510.3 890.6l7.5 -1.3 -7.5 -1.4 -7.4 1.3z" class="j"/>
<path d="M525.2 890.6l7.4 -1.3 -7.4 -1.3 -7.4 1.3z" class="j"/>
<path d="M540 890.7l7.4 -1.4 -7.4 -1.3 -7.4 1.3z" class="j"/>
<path d="M554.8 890.7l7.4 -1.3 -7.4 2.5 -7.4 -2.6z" class="j"/>
<path d="M569.6 890.7l7.4 -1.3 -7.4 -1.3 -7.4 1.3z" class="j"/>
<path d="M443.6 887l7.5 -1.3 -7.4 -1.3 -7.5 1.3z" class="k"/>
<path d="M458.5 887.1l7.4 3.4 -7.4 -1.4 -7.4 -3.4z" class="k"/>
<path d="M473.3 887.1l7.4 3.4 -7.4 -1.4 -7.4 1.4z" class="k"/>
<path d="M488.1 887.2l7.4 3.3 -7.4 -1.3 -7.4 1.3z" class="k"/>
<path d="M502.9 891.9l7.4 -1.3 -7.4 -1.4 -7.4 1.3z" class="j"/>
<path d="M517.7 891.9l7.5 -1.3 -7.4 -1.3 -7.5 1.3z" class="j"/>
<path d="M532.6 892l7.4 -1.3 -7.4 -1.4 -7.4 1.3z" class="j"/>
<path d="M547.4 892l7.4 -1.3 -7.4 -1.4 -7.4 1.4z" class="j"/>
<path d="M562.2 892l7.4 -1.3 -7.4 -1.3 -7.4 1.3z" class="j"/>
<path d="M577 887.4l7.4 -1.3 -7.4 3.3 -7.4 1.3z" class="k"/>
<path d="M436.2 888.3l7.4 -1.3 -7.4 -1.3 -7.4 1.3z" class="k"/>
<path d="M451 888.4l7.5 -1.3 -7.4 -1.4 -7.5 1.3z" class="k"/>
<path d="M465.9 888.4l7.4 -1.3 -7.4 3.4 -7.4 -3.4z" class="k"/>
<path d="M480.7 888.5l7.4 -1.3 -7.4 3.3 -7.4 -3.4z" class="k"/>
<path d="M495.5 893.2l7.4 -1.3 -7.4 -1.4 -7.4 -3.3z" class="j"/>
<path d="M510.3 893.2l7.4 -1.3 -7.4 -1.3 -7.4 1.3z" class="j"/>
<path d="M525.1 893.3l7.5 -1.3 -7.4 -1.4 -7.5 1.3z" class="j"/>
<path d="M540 893.3l7.4 -1.3 -7.4 -1.3 -7.4 1.3z" class="j"/>
<path d="M554.8 893.4l7.4 -1.4 -7.4 -1.3 -7.4 1.3z" class="j"/>
<path d="M569.6 893.4l7.4 -6 -7.4 3.3 -7.4 1.3z" class="j"/>
<path d="M584.4 888.7l7.4 -1.3 -7.4 -1.3 -7.4 1.3z" class="k"/>
<path d="M428.8 887.3l7.4 1 -7.4 -1.3 -7.4 -1z" class="l"/>
<path d="M443.6 889.7l7.4 -1.3 -7.4 -1.4 -7.4 1.3z" class="k"/>
<path d="M458.5 894.4l7.4 -6 -7.4 -1.3 -7.5 1.3z" class="j"/>
<path d="M473.3 894.5l7.4 -6 -7.4 -1.4 -7.4 1.3z" class="j"/>
<path d="M488.1 894.5l7.4 -1.3 -7.4 -6 -7.4 1.3z" class="j"/>
<path d="M502.9 894.5l7.4 -1.3 -7.4 -1.3 -7.4 1.3z" class="j"/>
<path d="M517.7 894.6l7.4 -1.3 -7.4 -1.4 -7.4 1.3z" class="j"/>
<path d="M532.6 894.6l7.4 -1.3 -7.4 -1.3 -7.5 1.3z" class="j"/>
<path d="M547.4 894.7l7.4 -1.3 -7.4 -1.4 -7.4 1.3z" class="j"/>
<path d="M562.2 894.7l7.4 -1.3 -7.4 -1.4 -7.4 1.4z" class="j"/>
<path d="M577 894.7l7.4 -6 -7.4 -1.3 -7.4 6z" class="j"/>
<path d="M591.8 894.8l7.4 -1.3 -7.4 -6.1 -7.4 1.3z" class="j"/>
<path d="M421.4 876.9l7.4 10.4 -7.4 -1.3 -7.4 -10.4z" class="o"/>
<path d="M436.2 902.7l7.4 -13 -7.4 -1.4 -7.4 -1z" class="h"/>
<path d="M451 895.7l7.5 -1.3 -7.5 -6 -7.4 1.3z" class="j"/>
<path d="M465.9 895.8l7.4 -1.3 -7.4 -6.1 -7.4 6z" class="j"/>
<path d="M480.7 895.8l7.4 -1.3 -7.4 -6 -7.4 6z" class="j"/>
<path d="M495.5 895.9l7.4 -1.4 -7.4 -1.3 -7.4 1.3z" class="j"/>
<path d="M510.3 895.9l7.4 -1.3 -7.4 -1.4 -7.4 1.3z" class="j"/>
<path d="M525.1 895.9l7.5 -1.3 -7.5 -1.3 -7.4 1.3z" class="j"/>
<path d="M540 896l7.4 -1.3 -7.4 -1.4 -7.4 1.3z" class="j"/>
<path d="M554.8 896l7.4 -1.3 -7.4 -1.3 -7.4 1.3z" class="j"/>
<path d="M569.6 896.1l7.4 -1.4 -7.4 -1.3 -7.4 1.3z" class="j"/>
<path d="M584.4 896.1l7.4 -1.3 -7.4 -6.1 -7.4 6z" class="j"/>
<path d="M599.2 896.1l7.5 -1.3 -7.5 -1.3 -7.4 1.3z" class="j"/>
<path d="M414 889.9l7.4 -13 -7.4 -1.3 -7.4 -7.7z" class="l"/>
<path d="M428.8 904l7.4 -1.3 -7.4 -15.4 -7.4 -10.4z" class="h"/>
<path d="M443.6 900.9l7.4 -5.2 -7.4 -6 -7.4 13z" class="i"/>
<path d="M458.4 897.1l7.5 -1.3 -7.4 -1.4 -7.5 1.3z" class="j"/>
<path d="M473.3 897.1l7.4 -1.3 -7.4 -1.3 -7.4 1.3z" class="j"/>
<path d="M488.1 897.2l7.4 -1.3 -7.4 -1.4 -7.4 1.3z" class="j"/>
<path d="M502.9 897.2l7.4 -1.3 -7.4 -1.4 -7.4 1.4z" class="j"/>
<path d="M517.7 897.2l7.4 -1.3 -7.4 -1.3 -7.4 1.3z" class="j"/>
<path d="M532.5 897.3l7.5 -1.3 -7.4 -1.4 -7.5 1.3z" class="j"/>
<path d="M547.4 897.3l7.4 -1.3 -7.4 -1.3 -7.4 1.3z" class="j"/>
<path d="M562.2 897.4l7.4 -1.3 -7.4 -1.4 -7.4 1.3z" class="j"/>
<path d="M577 897.4l7.4 -1.3 -7.4 -1.4 -7.4 1.4z" class="j"/>
<path d="M591.8 897.4l7.4 -1.3 -7.4 -1.3 -7.4 1.3z" class="j"/>
<path d="M606.6 901.4l7.5 -1.3 -7.4 -5.3 -7.5 1.3z" class="i"/>
<path d="M406.6 891.2l7.4 -1.3 -7.4 -22 -7.4 1.3z" class="l"/>
<path d="M421.4 905.3l7.4 -1.3 -7.4 -27.1 -7.4 13z" class="h"/>
<path d="M436.2 905.4l7.4 -4.5 -7.4 1.8 -7.4 1.3z" class="h"/>
<path d="M451 898.4l7.4 -1.3 -7.4 -1.4 -7.4 5.2z" class="j"/>
<path d="M465.9 898.4l7.4 -1.3 -7.4 -1.3 -7.5 1.3z" class="j"/>
<path d="M480.7 898.5l7.4 -1.3 -7.4 -1.4 -7.4 1.3z" class="j"/>
<path d="M495.5 898.5l7.4 -1.3 -7.4 -1.3 -7.4 1.3z" class="j"/>
<path d="M510.3 898.6l7.4 -1.4 -7.4 -1.3 -7.4 1.3z" class="j"/>
<path d="M525.1 898.6l7.4 -1.3 -7.4 -1.4 -7.4 1.3z" class="j"/>
<path d="M540 898.6l7.4 -1.3 -7.4 -1.3 -7.5 1.3z" class="j"/>
<path d="M554.8 898.7l7.4 -1.3 -7.4 -1.4 -7.4 1.3z" class="j"/>
<path d="M569.6 898.7l7.4 -1.3 -7.4 -1.3 -7.4 1.3z" class="j"/>
<path d="M584.4 898.8l7.4 -1.4 -7.4 -1.3 -7.4 1.3z" class="j"/>
<path d="M599.2 898.8l7.4 2.6 -7.4 -5.3 -7.4 1.3z" class="j"/>
<path d="M614.1 891.8l7.4 -6.9 -7.4 15.2 -7.5 1.3z" class="l"/>
<path d="M399.2 892.6l7.4 -1.4 -7.4 -22 -7.4 1.4z" class="l"/>
<path d="M414 906.6l7.4 -1.3 -7.4 -15.4 -7.4 1.3z" class="h"/>
<path d="M428.8 906.7l7.4 -1.3 -7.4 -1.4 -7.4 1.3z" class="h"/>
<path d="M443.6 899.7l7.4 -1.3 -7.4 2.5 -7.4 4.5z" class="j"/>
<path d="M458.4 899.7l7.5 -1.3 -7.5 -1.3 -7.4 1.3z" class="j"/>
<path d="M473.3 899.8l7.4 -1.3 -7.4 -1.4 -7.4 1.3z" class="j"/>
<path d="M488.1 899.8l7.4 -1.3 -7.4 -1.3 -7.4 1.3z" class="j"/>
<path d="M502.9 899.9l7.4 -1.3 -7.4 -1.4 -7.4 1.3z" class="j"/>
<path d="M517.7 899.9l7.4 -1.3 -7.4 -1.4 -7.4 1.4z" class="j"/>
<path d="M532.5 899.9l7.5 -1.3 -7.5 -1.3 -7.4 1.3z" class="j"/>
<path d="M547.4 900l7.4 -1.3 -7.4 -1.4 -7.4 1.3z" class="j"/>
<path d="M562.2 900l7.4 -1.3 -7.4 -1.3 -7.4 1.3z" class="j"/>
<path d="M577 900.1l7.4 -1.3 -7.4 -1.4 -7.4 1.3z" class="j"/>
<path d="M591.8 904l7.4 -5.2 -7.4 -1.4 -7.4 1.4z" class="i"/>
<path d="M606.6 900.1l7.5 -8.3 -7.5 9.6 -7.4 -2.6z" class="j"/>
<path d="M621.5 893.2l7.4 -4 -7.4 -4.3 -7.4 6.9z" class="l"/>
<path d="M391.7 893.9l7.5 -1.3 -7.4 -22 -7.5 1.3z" class="l"/>
<path d="M406.6 908l7.4 -1.4 -7.4 -15.4 -7.4 1.4z" class="h"/>
<path d="M421.4 908l7.4 -1.3 -7.4 -1.4 -7.4 1.3z" class="h"/>
<path d="M436.2 901l7.4 -1.3 -7.4 5.7 -7.4 1.3z" class="j"/>
<path d="M451 901.1l7.4 -1.4 -7.4 -1.3 -7.4 1.3z" class="j"/>
<path d="M465.8 901.1l7.5 -1.3 -7.4 -1.4 -7.5 1.3z" class="j"/>
<path d="M480.7 901.1l7.4 -1.3 -7.4 -1.3 -7.4 1.3z" class="j"/>
<path d="M495.5 901.2l7.4 -1.3 -7.4 -1.4 -7.4 1.3z" class="j"/>
<path d="M510.3 901.2l7.4 -1.3 -7.4 -1.3 -7.4 1.3z" class="j"/>
<path d="M525.1 901.3l7.4 -1.4 -7.4 -1.3 -7.4 1.3z" class="j"/>
<path d="M539.9 901.3l7.5 -1.3 -7.4 -1.4 -7.5 1.3z" class="j"/>
<path d="M554.8 901.3l7.4 -1.3 -7.4 -1.3 -7.4 1.3z" class="j"/>
<path d="M569.6 905.3l7.4 -5.2 -7.4 -1.4 -7.4 1.3z" class="i"/>
<path d="M584.4 905.3l7.4 -1.3 -7.4 -5.2 -7.4 1.3z" class="i"/>
<path d="M599.2 905.4l7.4 -5.3 -7.4 -1.3 -7.4 5.2z" class="i"/>
<path d="M614 894.5l7.5 -1.3 -7.4 -1.4 -7.5 8.3z" class="l"/>
<path d="M628.9 894.5l7.4 -1.3 -7.4 -4 -7.4 4z" class="l"/>
<path d="M384.3 895.2l7.4 -1.3 -7.4 -22 -7.4 1.3z" class="l"/>
<path d="M399.1 909.3l7.5 -1.3 -7.4 -15.4 -7.5 1.3z" class="h"/>
<path d="M414 909.3l7.4 -1.3 -7.4 -1.4 -7.4 1.4z" class="h"/>
<path d="M428.8 906.2l7.4 -5.2 -7.4 5.7 -7.4 1.3z" class="i"/>
<path d="M443.6 902.4l7.4 -1.3 -7.4 -1.4 -7.4 1.3z" class="j"/>
<path d="M458.4 902.4l7.4 -1.3 -7.4 -1.4 -7.4 1.4z" class="j"/>
<path d="M473.2 902.4l7.5 -1.3 -7.4 -1.3 -7.5 1.3z" class="j"/>
<path d="M488.1 902.5l7.4 -1.3 -7.4 -1.4 -7.4 1.3z" class="j"/>
<path d="M502.9 902.5l7.4 -1.3 -7.4 -1.3 -7.4 1.3z" class="j"/>
<path d="M517.7 902.6l7.4 -1.3 -7.4 -1.4 -7.4 1.3z" class="j"/>
<path d="M532.5 902.6l7.4 -1.3 -7.4 -1.4 -7.4 1.4z" class="j"/>
<path d="M547.3 902.6l7.5 -1.3 -7.4 -1.3 -7.5 1.3z" class="j"/>
<path d="M562.2 906.6l7.4 -1.3 -7.4 -5.3 -7.4 1.3z" class="i"/>
<path d="M577 906.6l7.4 -1.3 -7.4 -5.2 -7.4 5.2z" class="i"/>
<path d="M591.8 906.7l7.4 -1.3 -7.4 -1.4 -7.4 1.3z" class="i"/>
<path d="M606.6 895.8l7.4 -1.3 -7.4 5.6 -7.4 5.3z" class="l"/>
<path d="M621.4 895.8l7.5 -1.3 -7.4 -1.3 -7.5 1.3z" class="l"/>
<path d="M636.3 895.9l7.4 -1.4 -7.4 -1.3 -7.4 1.3z" class="l"/>
<path d="M391.7 903.6l7.4 5.7 -7.4 -15.4 -7.4 1.3z" class="j"/>
<path d="M406.6 910.6l7.4 -1.3 -7.4 -1.3 -7.5 1.3z" class="h"/>
<path d="M421.4 907.5l7.4 -1.3 -7.4 1.8 -7.4 1.3z" class="i"/>
<path d="M436.2 903.7l7.4 -1.3 -7.4 -1.4 -7.4 5.2z" class="j"/>
<path d="M451 903.7l7.4 -1.3 -7.4 -1.3 -7.4 1.3z" class="j"/>
<path d="M465.8 903.8l7.4 -1.4 -7.4 -1.3 -7.4 1.3z" class="j"/>
<path d="M480.7 903.8l7.4 -1.3 -7.4 -1.4 -7.5 1.3z" class="j"/>
<path d="M495.5 903.8l7.4 -1.3 -7.4 -1.3 -7.4 1.3z" class="j"/>
<path d="M510.3 907.8l7.4 -5.2 -7.4 -1.4 -7.4 1.3z" class="i"/>
<path d="M525.1 903.9l7.4 -1.3 -7.4 -1.3 -7.4 1.3z" class="j"/>
<path d="M539.9 904l7.4 -1.4 -7.4 -1.3 -7.4 1.3z" class="j"/>
<path d="M554.8 904l7.4 2.6 -7.4 -5.3 -7.5 1.3z" class="j"/>
<path d="M569.6 907.9l7.4 -1.3 -7.4 -1.3 -7.4 1.3z" class="i"/>
<path d="M584.4 908l7.4 -1.3 -7.4 -1.4 -7.4 1.3z" class="i"/>
<path d="M599.2 899.4l7.4 -3.6 -7.4 9.6 -7.4 1.3z" class="k"/>
<path d="M614 897.1l7.4 -1.3 -7.4 -1.3 -7.4 1.3z" class="l"/>
<path d="M628.9 897.2l7.4 -1.3 -7.4 -1.4 -7.5 1.3z" class="l"/>
<path d="M399.1 904.9l7.5 5.7 -7.5 -1.3 -7.4 -5.7z" class="j"/>
<path d="M414 908.8l7.4 -1.3 -7.4 1.8 -7.4 1.3z" class="i"/>
<path d="M428.8 905l7.4 -1.3 -7.4 2.5 -7.4 1.3z" class="j"/>
<path d="M443.6 905l7.4 -1.3 -7.4 -1.3 -7.4 1.3z" class="j"/>
<path d="M458.4 905.1l7.4 -1.3 -7.4 -1.4 -7.4 1.3z" class="j"/>
<path d="M473.2 905.1l7.5 -1.3 -7.5 -1.4 -7.4 1.4z" class="j"/>
<path d="M488.1 905.1l7.4 -1.3 -7.4 -1.3 -7.4 1.3z" class="j"/>
<path d="M502.9 909.1l7.4 -1.3 -7.4 -5.3 -7.4 1.3z" class="i"/>
<path d="M517.7 909.1l7.4 -5.2 -7.4 -1.3 -7.4 5.2z" class="i"/>
<path d="M532.5 905.3l7.4 -1.3 -7.4 -1.4 -7.4 1.3z" class="j"/>
<path d="M547.3 905.3l7.5 -1.3 -7.5 -1.4 -7.4 1.4z" class="j"/>
<path d="M562.2 909.2l7.4 -1.3 -7.4 -1.3 -7.4 -2.6z" class="i"/>
<path d="M577 905.4l7.4 2.6 -7.4 -1.4 -7.4 1.3z" class="j"/>
<path d="M591.8 900.7l7.4 -1.3 -7.4 7.3 -7.4 1.3z" class="k"/>
<path d="M606.6 900.8l7.4 -3.7 -7.4 -1.3 -7.4 3.6z" class="k"/>
<path d="M621.4 900.8l7.5 -3.6 -7.5 -1.4 -7.4 1.3z" class="k"/>
<path d="M406.5 906.3l7.5 2.5 -7.4 1.8 -7.5 -5.7z" class="j"/>
<path d="M421.4 906.3l7.4 -1.3 -7.4 2.5 -7.4 1.3z" class="j"/>
<path d="M436.2 901.6l7.4 3.4 -7.4 -1.3 -7.4 1.3z" class="k"/>
<path d="M451 906.4l7.4 -1.3 -7.4 -1.4 -7.4 1.3z" class="j"/>
<path d="M465.8 906.4l7.4 -1.3 -7.4 -1.3 -7.4 1.3z" class="j"/>
<path d="M480.6 906.5l7.5 -1.4 -7.4 -1.3 -7.5 1.3z" class="j"/>
<path d="M495.5 910.4l7.4 -1.3 -7.4 -5.3 -7.4 1.3z" class="i"/>
<path d="M510.3 910.4l7.4 -1.3 -7.4 -1.3 -7.4 1.3z" class="i"/>
<path d="M525.1 910.5l7.4 -5.2 -7.4 -1.4 -7.4 5.2z" class="i"/>
<path d="M539.9 906.6l7.4 -1.3 -7.4 -1.3 -7.4 1.3z" class="j"/>
<path d="M554.7 906.7l7.5 2.5 -7.4 -5.2 -7.5 1.3z" class="j"/>
<path d="M569.6 906.7l7.4 -1.3 -7.4 2.5 -7.4 1.3z" class="j"/>
<path d="M584.4 906.7l7.4 -6 -7.4 7.3 -7.4 -2.6z" class="j"/>
<path d="M599.2 902.1l7.4 -1.3 -7.4 -1.4 -7.4 1.3z" class="k"/>
<path d="M614 906.8l7.4 -6 -7.4 -3.7 -7.4 3.7z" class="j"/>
<path d="M413.9 907.6l7.5 -1.3 -7.4 2.5 -7.5 -2.5z" class="j"/>
<path d="M428.8 907.6l7.4 -6 -7.4 3.4 -7.4 1.3z" class="j"/>
<path d="M443.6 903l7.4 3.4 -7.4 -1.4 -7.4 -3.4z" class="k"/>
<path d="M458.4 907.7l7.4 -1.3 -7.4 -1.3 -7.4 1.3z" class="j"/>
<path d="M473.2 907.8l7.4 -1.3 -7.4 -1.4 -7.4 1.3z" class="j"/>
<path d="M488 907.8l7.5 2.6 -7.4 -5.3 -7.5 1.4z" class="j"/>
<path d="M502.9 911.7l7.4 -1.3 -7.4 -1.3 -7.4 1.3z" class="i"/>
<path d="M517.7 911.8l7.4 -1.3 -7.4 -1.4 -7.4 1.3z" class="i"/>
<path d="M532.5 911.8l7.4 -5.2 -7.4 -1.3 -7.4 5.2z" class="i"/>
<path d="M547.3 908l7.4 -1.3 -7.4 -1.4 -7.4 1.3z" class="j"/>
<path d="M562.1 901l7.5 5.7 -7.4 2.5 -7.5 -2.5z" class="l"/>
<path d="M577 889.3l7.4 17.4 -7.4 -1.3 -7.4 1.3z" class="o"/>
<path d="M591.8 908.1l7.4 -6 -7.4 -1.4 -7.4 6z" class="j"/>
<path d="M606.6 912l7.4 -5.2 -7.4 -6 -7.4 1.3z" class="i"/>
<path d="M421.4 909l7.4 -1.4 -7.4 -1.3 -7.5 1.3z" class="j"/>
<path d="M436.2 904.3l7.4 -1.3 -7.4 -1.4 -7.4 6z" class="k"/>
<path d="M451 904.3l7.4 3.4 -7.4 -1.3 -7.4 -3.4z" class="k"/>
<path d="M465.8 909.1l7.4 -1.3 -7.4 -1.4 -7.4 1.3z" class="j"/>
<path d="M480.6 913l7.4 -5.2 -7.4 -1.3 -7.4 1.3z" class="i"/>
<path d="M495.4 913.1l7.5 -1.4 -7.4 -1.3 -7.5 -2.6z" class="i"/>
<path d="M510.3 913.1l7.4 -1.3 -7.4 -1.4 -7.4 1.3z" class="i"/>
<path d="M525.1 913.1l7.4 -1.3 -7.4 -1.3 -7.4 1.3z" class="i"/>
<path d="M539.9 909.3l7.4 -1.3 -7.4 -1.4 -7.4 5.2z" class="j"/>
<path d="M554.7 899.2l7.4 1.8 -7.4 5.7 -7.4 1.3z" class="m"/>
<path d="M569.5 890.6l7.5 -1.3 -7.4 17.4 -7.5 -5.7z" class="o"/>
<path d="M584.4 909.4l7.4 -1.3 -7.4 -1.4 -7.4 -17.4z" class="j"/>
<path d="M599.2 913.3l7.4 -1.3 -7.4 -9.9 -7.4 6z" class="i"/>
<path d="M428.8 905.6l7.4 -1.3 -7.4 3.3 -7.4 1.4z" class="k"/>
<path d="M443.6 905.7l7.4 -1.4 -7.4 -1.3 -7.4 1.3z" class="k"/>
<path d="M458.4 910.4l7.4 -1.3 -7.4 -1.4 -7.4 -3.4z" class="j"/>
<path d="M473.2 914.3l7.4 -1.3 -7.4 -5.2 -7.4 1.3z" class="i"/>
<path d="M488 914.4l7.4 -1.3 -7.4 -5.3 -7.4 5.2z" class="i"/>
<path d="M502.9 914.4l7.4 -1.3 -7.4 -1.4 -7.5 1.4z" class="i"/>
<path d="M517.7 914.4l7.4 -1.3 -7.4 -1.3 -7.4 1.3z" class="i"/>
<path d="M532.5 910.6l7.4 -1.3 -7.4 2.5 -7.4 1.3z" class="j"/>
<path d="M547.3 903.6l7.4 -4.4 -7.4 8.8 -7.4 1.3z" class="l"/>
<path d="M562.1 891.9l7.4 -1.3 -7.4 10.4 -7.4 -1.8z" class="o"/>
<path d="M577 892l7.4 17.4 -7.4 -20.1 -7.5 1.3z" class="o"/>
<path d="M591.8 917.8l7.4 -4.5 -7.4 -5.2 -7.4 1.3z" class="h"/>
<path d="M436.2 901.5l7.4 4.2 -7.4 -1.4 -7.4 1.3z" class="m"/>
<path d="M451 911.7l7.4 -1.3 -7.4 -6.1 -7.4 1.4z" class="j"/>
<path d="M465.8 915.6l7.4 -1.3 -7.4 -5.2 -7.4 1.3z" class="i"/>
<path d="M480.6 915.7l7.4 -1.3 -7.4 -1.4 -7.4 1.3z" class="i"/>
<path d="M495.4 915.7l7.5 -1.3 -7.5 -1.3 -7.4 1.3z" class="i"/>
<path d="M510.3 918.9l7.4 -4.5 -7.4 -1.3 -7.4 1.3z" class="h"/>
<path d="M525.1 911.9l7.4 -1.3 -7.4 2.5 -7.4 1.3z" class="j"/>
<path d="M539.9 904.9l7.4 -1.3 -7.4 5.7 -7.4 1.3z" class="l"/>
<path d="M554.7 893.2l7.4 -1.3 -7.4 7.3 -7.4 4.4z" class="o"/>
<path d="M569.5 893.3l7.5 -1.3 -7.5 -1.4 -7.4 1.3z" class="o"/>
<path d="M584.4 945.6l7.4 -27.8 -7.4 -8.4 -7.4 -17.4z" class="b2"/>
<path d="M443.6 902.9l7.4 8.8 -7.4 -6 -7.4 -4.2z" class="m"/>
<path d="M458.4 913l7.4 2.6 -7.4 -5.2 -7.4 1.3z" class="j"/>
<path d="M473.2 917l7.4 -1.3 -7.4 -1.4 -7.4 1.3z" class="i"/>
<path d="M488 917l7.4 -1.3 -7.4 -1.3 -7.4 1.3z" class="i"/>
<path d="M502.8 917.1l7.5 1.8 -7.4 -4.5 -7.5 1.3z" class="i"/>
<path d="M517.7 913.2l7.4 -1.3 -7.4 2.5 -7.4 4.5z" class="j"/>
<path d="M532.5 906.2l7.4 -1.3 -7.4 5.7 -7.4 1.3z" class="l"/>
<path d="M547.3 899.2l7.4 -6 -7.4 10.4 -7.4 1.3z" class="n"/>
<path d="M562.1 899.3l7.4 -6 -7.4 -1.4 -7.4 1.3z" class="n"/>
<path d="M576.9 946.9l7.5 -1.3 -7.4 -53.6 -7.5 1.3z" class="b2"/>
<path d="M451 924.5l7.4 -11.5 -7.4 -1.3 -7.4 -8.8z" class="g"/>
<path d="M465.8 921.4l7.4 -4.4 -7.4 -1.4 -7.4 -2.6z" class="h"/>
<path d="M480.6 918.3l7.4 -1.3 -7.4 -1.3 -7.4 1.3z" class="i"/>
<path d="M495.4 918.4l7.4 -1.3 -7.4 -1.4 -7.4 1.3z" class="i"/>
<path d="M510.2 914.5l7.5 -1.3 -7.4 5.7 -7.5 -1.8z" class="j"/>
<path d="M525.1 907.5l7.4 -1.3 -7.4 5.7 -7.4 1.3z" class="l"/>
<path d="M539.9 900.5l7.4 -1.3 -7.4 5.7 -7.4 1.3z" class="n"/>
<path d="M554.7 900.6l7.4 -1.3 -7.4 -6.1 -7.4 6z" class="n"/>
<path d="M569.5 948.2l7.4 -1.3 -7.4 -53.6 -7.4 6z" class="b2"/>
<path d="M458.4 925.8l7.4 -4.4 -7.4 -8.4 -7.4 11.5z" class="g"/>
<path d="M473.2 922.8l7.4 -4.5 -7.4 -1.3 -7.4 4.4z" class="h"/>
<path d="M488 919.7l7.4 -1.3 -7.4 -1.4 -7.4 1.3z" class="i"/>
<path d="M502.8 915.8l7.4 -1.3 -7.4 2.6 -7.4 1.3z" class="j"/>
<path d="M517.7 905.7l7.4 1.8 -7.4 5.7 -7.5 1.3z" class="m"/>
<path d="M532.5 901.9l7.4 -1.4 -7.4 5.7 -7.4 1.3z" class="n"/>
<path d="M547.3 901.9l7.4 -1.3 -7.4 -1.4 -7.4 1.3z" class="n"/>
<path d="M562.1 949.5l7.4 -1.3 -7.4 -48.9 -7.4 1.3z" class="b2"/>
<path d="M465.8 927.2l7.4 -4.4 -7.4 -1.4 -7.4 4.4z" class="g"/>
<path d="M480.6 921l7.4 -1.3 -7.4 -1.4 -7.4 4.5z" class="i"/>
<path d="M495.4 917.1l7.4 -1.3 -7.4 2.6 -7.4 1.3z" class="j"/>
<path d="M510.2 907l7.5 -1.3 -7.5 8.8 -7.4 1.3z" class="m"/>
<path d="M525.1 903.2l7.4 -1.3 -7.4 5.6 -7.4 -1.8z" class="n"/>
<path d="M539.9 903.2l7.4 -1.3 -7.4 -1.4 -7.4 1.4z" class="n"/>
<path d="M554.7 950.9l7.4 -1.4 -7.4 -48.9 -7.4 1.3z" class="b2"/>
<path d="M473.2 922.3l7.4 -1.3 -7.4 1.8 -7.4 4.4z" class="i"/>
<path d="M488 913.8l7.4 3.3 -7.4 2.6 -7.4 1.3z" class="k"/>
<path d="M502.8 911.5l7.4 -4.5 -7.4 8.8 -7.4 1.3z" class="l"/>
<path d="M517.6 904.5l7.5 -1.3 -7.4 2.5 -7.5 1.3z" class="n"/>
<path d="M532.5 899.8l7.4 3.4 -7.4 -1.3 -7.4 1.3z" class="o"/>
<path d="M547.3 952.2l7.4 -1.3 -7.4 -49 -7.4 1.3z" class="b2"/>
<path d="M480.6 915.1l7.4 -1.3 -7.4 7.2 -7.4 1.3z" class="k"/>
<path d="M495.4 912.8l7.4 -1.3 -7.4 5.6 -7.4 -3.3z" class="l"/>
<path d="M510.2 905.8l7.4 -1.3 -7.4 2.5 -7.4 4.5z" class="n"/>
<path d="M525.1 901.1l7.4 -1.3 -7.4 3.4 -7.5 1.3z" class="o"/>
<path d="M539.9 969.1l7.4 -16.9 -7.4 -49 -7.4 -3.4z" class="a"/>
<path d="M488 916.4l7.4 -3.6 -7.4 1 -7.4 1.3z" class="k"/>
<path d="M502.8 911l7.4 -5.2 -7.4 5.7 -7.4 1.3z" class="m"/>
<path d="M517.6 907.1l7.5 -6 -7.5 3.4 -7.4 1.3z" class="n"/>
<path d="M532.5 970.4l7.4 -1.3 -7.4 -69.3 -7.4 1.3z" class="a"/>
<path d="M495.4 915.4l7.4 -4.4 -7.4 1.8 -7.4 3.6z" class="l"/>
<path d="M510.2 908.4l7.4 -1.3 -7.4 -1.3 -7.4 5.2z" class="n"/>
<path d="M525 971.7l7.5 -1.3 -7.4 -69.3 -7.5 6z" class="a"/>
<path d="M502.8 913.7l7.4 -5.3 -7.4 2.6 -7.4 4.4z" class="m"/>
<path d="M517.6 973l7.4 -1.3 -7.4 -64.6 -7.4 1.3z" class="a"/>
<path d="M510.2 974.3l7.4 -1.3 -7.4 -64.6 -7.4 5.3z" class="a"/>
</g>
<text x="357.1" y="951.3" font-size="7.0" text-anchor="end" font-weight="bold" fill="#222">-40</text>
<text x="357.1" y="927.25" font-size="7.0" text-anchor="end" font-weight="bold" fill="#222">-20</text>
<text x="357.1" y="903.2" font-size="7.0" text-anchor="end" font-weight="bold" fill="#222">0</text>
<text x="357.1" y="879.15" font-size="7.0" text-anchor="end" font-weight="bold" fill="#222">20</text>
<text x="357.1" y="855.1" font-size="7.0" text-anchor="end" font-weight="bold" fill="#222">40</text>
<text x="504.8" y="985.7" font-size="7.0" text-anchor="end" font-weight="bold" fill="#222">0</text>
<text x="515.6" y="985.7" font-size="7.0" text-anchor="start" font-weight="bold" fill="#222">0</text>
<text x="475.18" y="980.3" font-size="7.0" text-anchor="end" font-weight="bold" fill="#222">0.2</text>
<text x="545.26" y="980.46" font-size="7.0" text-anchor="start" font-weight="bold" fill="#222">0.2</text>
<text x="445.56" y="974.9" font-size="7.0" text-anchor="end" font-weight="bold" fill="#222">0.4</text>
<text x="574.92" y="975.22" font-size="7.0" text-anchor="start" font-weight="bold" fill="#222">0.4</text>
<text x="415.94" y="969.5" font-size="7.0" text-anchor="end" font-weight="bold" fill="#222">0.6</text>
<text x="604.58" y="969.98" font-size="7.0" text-anchor="start" font-weight="bold" fill="#222">0.6</text>
<text x="386.32" y="964.1" font-size="7.0" text-anchor="end" font-weight="bold" fill="#222">0.8</text>
<text x="634.24" y="964.74" font-size="7.0" text-anchor="start" font-weight="bold" fill="#222">0.8</text>
<text x="356.7" y="958.7" font-size="7.0" text-anchor="end" font-weight="bold" fill="#222">1</text>
<text x="663.9" y="959.5" font-size="7.0" text-anchor="start" font-weight="bold" fill="#222">1</text>
<text x="442.2" y="990.7" font-size="7.5" text-anchor="middle" font-weight="bold" fill="#222">Health</text>
<text x="578.2" y="990.9" font-size="7.3" text-anchor="middle" font-weight="bold" fill="#222">GSCPI</text>
<rect x="667.8" y="828.1" width="5.8" height="147.8" fill="url(#jet)"/>
<line x1="672.4" y1="973.85" x2="673.6" y2="973.85" stroke="#444" stroke-width="0.4"/>
<text x="675.5" y="976.03" font-size="6.4" text-anchor="start" font-weight="bold" fill="#3a3a3a">-40</text>
<line x1="672.4" y1="951.08" x2="673.6" y2="951.08" stroke="#444" stroke-width="0.4"/>
<text x="675.5" y="953.25" font-size="6.4" text-anchor="start" font-weight="bold" fill="#3a3a3a">-30</text>
<line x1="672.4" y1="928.3" x2="673.6" y2="928.3" stroke="#444" stroke-width="0.4"/>
<text x="675.5" y="930.48" font-size="6.4" text-anchor="start" font-weight="bold" fill="#3a3a3a">-20</text>
<line x1="672.4" y1="905.53" x2="673.6" y2="905.53" stroke="#444" stroke-width="0.4"/>
<text x="675.5" y="907.71" font-size="6.4" text-anchor="start" font-weight="bold" fill="#3a3a3a">-10</text>
<line x1="672.4" y1="882.76" x2="673.6" y2="882.76" stroke="#444" stroke-width="0.4"/>
<text x="675.5" y="884.93" font-size="6.4" text-anchor="start" font-weight="bold" fill="#3a3a3a">0</text>
<line x1="672.4" y1="859.98" x2="673.6" y2="859.98" stroke="#444" stroke-width="0.4"/>
<text x="675.5" y="862.16" font-size="6.4" text-anchor="start" font-weight="bold" fill="#3a3a3a">10</text>
<line x1="672.4" y1="837.21" x2="673.6" y2="837.21" stroke="#444" stroke-width="0.4"/>
<text x="675.5" y="839.39" font-size="6.4" text-anchor="start" font-weight="bold" fill="#3a3a3a">20</text>
<path d="M498.5 1142.3L361.3 1114.2L361.3 1015.4M498.5 1142.3L657 1118.2L657 1019.4M530.2 1137.48L393 1109.38L393 1010.58M471.06 1136.68L629.56 1112.58L629.56 1013.78M561.9 1132.66L424.7 1104.56L424.7 1005.76M443.62 1131.06L602.12 1106.96L602.12 1008.16M593.6 1127.84L456.4 1099.74L456.4 1000.94M416.18 1125.44L574.68 1101.34L574.68 1002.54M625.3 1123.02L488.1 1094.92L488.1 996.12M388.74 1119.82L547.24 1095.72L547.24 996.92M657 1118.2L519.8 1090.1L519.8 991.3M361.3 1114.2L519.8 1090.1L519.8 991.3M361.3 1112.9L519.8 1088.8L657 1116.9M361.3 1080.4L519.8 1056.3L657 1084.4M361.3 1047.9L519.8 1023.8L657 1051.9M361.3 1015.4L519.8 991.3L657 1019.4" stroke="#e4e4e4" stroke-width="0.5" fill="none"/>
<path d="M361.3 1114.2L361.3 1015.4M361.3 1114.2L498.5 1142.3L657 1118.2M361.3 1112.9h-2M361.3 1080.4h-2M361.3 1047.9h-2M361.3 1015.4h-2M498.5 1142.3L496.12 1142.66M498.5 1142.3L500.56 1142.72M471.06 1136.68L468.68 1137.04M530.2 1137.48L532.26 1137.9M443.62 1131.06L441.24 1131.42M561.9 1132.66L563.96 1133.08M416.18 1125.44L413.8 1125.8M593.6 1127.84L595.66 1128.26M388.74 1119.82L386.36 1120.18M625.3 1123.02L627.36 1123.44M361.3 1114.2L358.92 1114.56M657 1118.2L659.06 1118.62" stroke="#999" stroke-width="0.6" fill="none"/>
<g class="s">
<path d="M517.7 1078.9l7.9 -1.2 -6.9 -1.4 -7.9 1.2z" class="a"/>
<path d="M509.7 1080.1l8 -1.2 -6.9 -1.4 -7.9 1.2z" class="a"/>
<path d="M524.5 1021.1l8 -1.2 -6.9 57.8 -7.9 1.2z" class="n"/>
<path d="M501.8 1081.3l7.9 -1.2 -6.8 -1.4 -7.9 1.2z" class="a"/>
<path d="M516.6 1022.3l7.9 -1.2 -6.8 57.8 -8 1.2z" class="n"/>
<path d="M531.4 1022.5l7.9 -1.2 -6.8 -1.4 -8 1.2z" class="n"/>
<path d="M493.9 1082.5l7.9 -1.2 -6.8 -1.4 -8 1.2z" class="a"/>
<path d="M508.7 1023.5l7.9 -1.2 -6.9 57.8 -7.9 1.2z" class="n"/>
<path d="M523.5 1023.7l7.9 -1.2 -6.9 -1.4 -7.9 1.2z" class="n"/>
<path d="M538.2 1030.5l8 -1.2 -6.9 -8 -7.9 1.2z" class="l"/>
<path d="M486 1083.7l7.9 -1.2 -6.9 -1.4 -7.9 1.2z" class="a"/>
<path d="M500.8 1024.7l7.9 -1.2 -6.9 57.8 -7.9 1.2z" class="n"/>
<path d="M515.5 1024.9l8 -1.2 -6.9 -1.4 -7.9 1.2z" class="n"/>
<path d="M530.3 1025.1l7.9 5.4 -6.8 -8 -7.9 1.2z" class="n"/>
<path d="M545.1 1038.5l7.9 -1.2 -6.8 -8 -8 1.2z" class="j"/>
<path d="M478 1063.7l8 20 -6.9 -1.4 -7.9 -20z" class="d"/>
<path d="M492.8 1025.9l8 -1.2 -6.9 57.8 -7.9 1.2z" class="n"/>
<path d="M507.6 1026.1l7.9 -1.2 -6.8 -1.4 -7.9 1.2z" class="n"/>
<path d="M522.4 1026.3l7.9 -1.2 -6.8 -1.4 -8 1.2z" class="n"/>
<path d="M537.2 1039.7l7.9 -1.2 -6.9 -8 -7.9 -5.4z" class="j"/>
<path d="M552 1043.5l7.9 -1.2 -6.9 -5 -7.9 1.2z" class="i"/>
<path d="M470.1 1059.8l7.9 3.9 -6.8 -1.4 -7.9 -3.9z" class="e"/>
<path d="M484.9 1060l7.9 -34.1 -6.8 57.8 -8 -20z" class="e"/>
<path d="M499.7 1022.9l7.9 3.2 -6.8 -1.4 -8 1.2z" class="o"/>
<path d="M514.5 1027.5l7.9 -1.2 -6.9 -1.4 -7.9 1.2z" class="n"/>
<path d="M529.3 1031.4l7.9 8.3 -6.9 -14.6 -7.9 1.2z" class="m"/>
<path d="M544 1041.1l8 2.4 -6.9 -5 -7.9 1.2z" class="j"/>
<path d="M558.8 1050.8l8 -35.7 -6.9 27.2 -7.9 1.2z" class="g"/>
<path d="M462.2 1041.3l7.9 18.5 -6.8 -1.4 -8 -18.5z" class="j"/>
<path d="M477 1061.2l7.9 -1.2 -6.9 3.7 -7.9 -3.9z" class="e"/>
<path d="M491.8 1028.5l7.9 -5.6 -6.9 3 -7.9 34.1z" class="n"/>
<path d="M506.6 1028.7l7.9 -1.2 -6.9 -1.4 -7.9 -3.2z" class="n"/>
<path d="M521.3 1028.9l8 2.5 -6.9 -5.1 -7.9 1.2z" class="n"/>
<path d="M536.1 1037.9l7.9 3.2 -6.8 -1.4 -7.9 -8.3z" class="k"/>
<path d="M550.9 1042.5l7.9 8.3 -6.8 -7.3 -8 -2.4z" class="j"/>
<path d="M454.3 1042.5l7.9 -1.2 -6.9 -1.4 -7.9 1.2z" class="j"/>
<path d="M565.7 1033.2l7.9 -1.2 -6.8 -16.9 -8 35.7z" class="m"/>
<path d="M469.1 1049.3l7.9 11.9 -6.9 -1.4 -7.9 -18.5z" class="h"/>
<path d="M483.8 1057.5l8 -29 -6.9 31.5 -7.9 1.2z" class="f"/>
<path d="M498.6 1029.9l8 -1.2 -6.9 -5.8 -7.9 5.6z" class="n"/>
<path d="M513.4 1030.1l7.9 -1.2 -6.8 -1.4 -7.9 1.2z" class="n"/>
<path d="M528.2 1036.9l7.9 1 -6.8 -6.5 -8 -2.5z" class="l"/>
<path d="M543 1043.7l7.9 -1.2 -6.9 -1.4 -7.9 -3.2z" class="j"/>
<path d="M446.3 1043.7l8 -1.2 -6.9 -1.4 -7.9 1.2z" class="j"/>
<path d="M557.8 1039.5l7.9 -6.3 -6.9 17.6 -7.9 -8.3z" class="k"/>
<path d="M461.1 1043.9l8 5.4 -6.9 -8 -7.9 1.2z" class="j"/>
<path d="M572.5 1026.5l8 -1.2 -6.9 6.7 -7.9 1.2z" class="o"/>
<path d="M475.9 1080.6l7.9 -23.1 -6.8 3.7 -7.9 -11.9z" class="b"/>
<path d="M490.7 1037.7l7.9 -7.8 -6.8 -1.4 -8 29z" class="l"/>
<path d="M505.5 1031.3l7.9 -1.2 -6.8 -1.4 -8 1.2z" class="n"/>
<path d="M520.3 1038.1l7.9 -1.2 -6.9 -8 -7.9 1.2z" class="l"/>
<path d="M535.1 1044.9l7.9 -1.2 -6.9 -5.8 -7.9 -1z" class="j"/>
<path d="M438.4 1040.5l7.9 3.2 -6.8 -1.4 -7.9 -3.2z" class="k"/>
<path d="M549.8 1040.7l8 -1.2 -6.9 3 -7.9 1.2z" class="k"/>
<path d="M453.2 1045.1l7.9 -1.2 -6.8 -1.4 -8 1.2z" class="j"/>
<path d="M564.6 1032.1l7.9 -5.6 -6.8 6.7 -7.9 6.3z" class="n"/>
<path d="M468 1070.2l7.9 10.4 -6.8 -31.3 -8 -5.4z" class="d"/>
<path d="M579.4 1032.3l7.9 -1.2 -6.8 -5.8 -8 1.2z" class="n"/>
<path d="M482.8 1038.9l7.9 -1.2 -6.9 19.8 -7.9 23.1z" class="l"/>
<path d="M497.6 1039.1l7.9 -7.8 -6.9 -1.4 -7.9 7.8z" class="l"/>
<path d="M512.3 1041.5l8 -3.4 -6.9 -8 -7.9 1.2z" class="k"/>
<path d="M527.1 1046.1l8 -1.2 -6.9 -8 -7.9 1.2z" class="j"/>
<path d="M430.5 1041.7l7.9 -1.2 -6.8 -1.4 -8 1.2z" class="k"/>
<path d="M541.9 1046.3l7.9 -5.6 -6.8 3 -7.9 1.2z" class="j"/>
<path d="M445.3 1046.3l7.9 -1.2 -6.9 -1.4 -7.9 -3.2z" class="j"/>
<path d="M556.7 1039.9l7.9 -7.8 -6.8 7.4 -8 1.2z" class="l"/>
<path d="M460.1 1071.4l7.9 -1.2 -6.9 -26.3 -7.9 1.2z" class="d"/>
<path d="M571.5 1037.2l7.9 -4.9 -6.9 -5.8 -7.9 5.6z" class="m"/>
<path d="M474.9 1050.4l7.9 -11.5 -6.9 41.7 -7.9 -10.4z" class="i"/>
<path d="M586.3 1042.5l7.9 -1.2 -6.9 -10.2 -7.9 1.2z" class="k"/>
<path d="M489.6 1037.4l8 1.7 -6.9 -1.4 -7.9 1.2z" class="m"/>
<path d="M504.4 1040.5l7.9 1 -6.8 -10.2 -7.9 7.8z" class="l"/>
<path d="M519.2 1042.9l7.9 3.2 -6.8 -8 -8 3.4z" class="k"/>
<path d="M422.6 1042.9l7.9 -1.2 -6.9 -1.4 -7.9 1.2z" class="k"/>
<path d="M534 1047.5l7.9 -1.2 -6.8 -1.4 -8 1.2z" class="j"/>
<path d="M437.4 1043.1l7.9 3.2 -6.9 -5.8 -7.9 1.2z" class="k"/>
<path d="M548.8 1041.1l7.9 -1.2 -6.9 .8 -7.9 5.6z" class="l"/>
<path d="M452.1 1072.6l8 -1.2 -6.9 -26.3 -7.9 1.2z" class="d"/>
<path d="M563.6 1041.3l7.9 -4.1 -6.9 -5.1 -7.9 7.8z" class="l"/>
<path d="M466.9 1067.6l8 -17.2 -6.9 19.8 -7.9 1.2z" class="e"/>
<path d="M578.3 1038.6l8 3.9 -6.9 -10.2 -7.9 4.9z" class="m"/>
<path d="M481.7 1034.9l7.9 2.5 -6.8 1.5 -7.9 11.5z" class="n"/>
<path d="M593.1 1043.9l8 -23.7 -6.9 21.1 -7.9 1.2z" class="k"/>
<path d="M496.5 1048.3l7.9 -7.8 -6.8 -1.4 -8 -1.7z" class="j"/>
<path d="M511.3 1044.1l7.9 -1.2 -6.9 -1.4 -7.9 -1z" class="k"/>
<path d="M414.6 1044.1l8 -1.2 -6.9 -1.4 -7.9 1.2z" class="k"/>
<path d="M526.1 1044.3l7.9 3.2 -6.9 -1.4 -7.9 -3.2z" class="k"/>
<path d="M429.4 1044.3l8 -1.2 -6.9 -1.4 -7.9 1.2z" class="k"/>
<path d="M540.9 1042.3l7.9 -1.2 -6.9 5.2 -7.9 1.2z" class="l"/>
<path d="M444.2 1068.6l7.9 4 -6.8 -26.3 -7.9 -3.2z" class="e"/>
<path d="M555.6 1049.1l8 -7.8 -6.9 -1.4 -7.9 1.2z" class="j"/>
<path d="M459 1068.8l7.9 -1.2 -6.8 3.8 -8 1.2z" class="e"/>
<path d="M570.4 1044.9l7.9 -6.3 -6.8 -1.4 -7.9 4.1z" class="k"/>
<path d="M473.8 1042.7l7.9 -7.8 -6.8 15.5 -8 17.2z" class="l"/>
<path d="M585.2 1040l7.9 3.9 -6.8 -1.4 -8 -3.9z" class="m"/>
<path d="M488.6 1049.5l7.9 -1.2 -6.9 -10.9 -7.9 -2.5z" class="j"/>
<path d="M600 1049.7l7.9 -1.2 -6.8 -28.3 -8 23.7z" class="j"/>
<path d="M503.4 1049.7l7.9 -5.6 -6.9 -3.6 -7.9 7.8z" class="j"/>
<path d="M406.7 1032.2l7.9 11.9 -6.8 -1.4 -7.9 -11.9z" class="o"/>
<path d="M518.1 1045.5l8 -1.2 -6.9 -1.4 -7.9 1.2z" class="k"/>
<path d="M421.5 1045.5l7.9 -1.2 -6.8 -1.4 -8 1.2z" class="k"/>
<path d="M532.9 1045.7l8 -3.4 -6.9 5.2 -7.9 -3.2z" class="k"/>
<path d="M436.3 1069.9l7.9 -1.3 -6.8 -25.5 -8 1.2z" class="e"/>
<path d="M547.7 1045.9l7.9 3.2 -6.8 -8 -7.9 1.2z" class="k"/>
<path d="M451.1 1064.9l7.9 3.9 -6.9 3.8 -7.9 -4z" class="f"/>
<path d="M562.5 1050.5l7.9 -5.6 -6.8 -3.6 -8 7.8z" class="j"/>
<path d="M465.9 1043.9l7.9 -1.2 -6.9 24.9 -7.9 1.2z" class="l"/>
<path d="M577.3 1044.1l7.9 -4.1 -6.9 -1.4 -7.9 6.3z" class="l"/>
<path d="M480.6 1046.3l8 3.2 -6.9 -14.6 -7.9 7.8z" class="k"/>
<path d="M592.1 1046.5l7.9 3.2 -6.9 -5.8 -7.9 -3.9z" class="k"/>
<path d="M495.4 1050.9l8 -1.2 -6.9 -1.4 -7.9 1.2z" class="j"/>
<path d="M398.8 1033.4l7.9 -1.2 -6.8 -1.4 -8 1.2z" class="o"/>
<path d="M606.9 1051.1l7.9 -1.2 -6.9 -1.4 -7.9 1.2z" class="j"/>
<path d="M510.2 1051.1l7.9 -5.6 -6.8 -1.4 -7.9 5.6z" class="j"/>
<path d="M413.6 1051.1l7.9 -5.6 -6.9 -1.4 -7.9 -11.9z" class="j"/>
<path d="M525 1046.9l7.9 -1.2 -6.8 -1.4 -8 1.2z" class="k"/>
<path d="M428.4 1071.1l7.9 -1.2 -6.9 -25.6 -7.9 1.2z" class="e"/>
<path d="M539.8 1051.5l7.9 -5.6 -6.8 -3.6 -8 3.4z" class="j"/>
<path d="M443.1 1066.1l8 -1.2 -6.9 3.7 -7.9 1.3z" class="f"/>
<path d="M554.6 1051.7l7.9 -1.2 -6.9 -1.4 -7.9 -3.2z" class="j"/>
<path d="M457.9 1051.7l8 -7.8 -6.9 24.9 -7.9 -3.9z" class="j"/>
<path d="M569.4 1047.5l7.9 -3.4 -6.9 .8 -7.9 5.6z" class="k"/>
<path d="M472.7 1045.3l7.9 1 -6.8 -3.6 -7.9 1.2z" class="l"/>
<path d="M584.1 1045.5l8 1 -6.9 -6.5 -7.9 4.1z" class="l"/>
<path d="M487.5 1047.7l7.9 3.2 -6.8 -1.4 -8 -3.2z" class="k"/>
<path d="M390.9 1034.6l7.9 -1.2 -6.9 -1.4 -7.9 1.2z" class="o"/>
<path d="M598.9 1066.9l8 -15.8 -6.9 -1.4 -7.9 -3.2z" class="f"/>
<path d="M502.3 1052.3l7.9 -1.2 -6.8 -1.4 -8 1.2z" class="j"/>
<path d="M405.7 1052.3l7.9 -1.2 -6.9 -18.9 -7.9 1.2z" class="j"/>
<path d="M613.7 1052.5l7.9 -1.2 -6.8 -1.4 -7.9 1.2z" class="j"/>
<path d="M517.1 1048.1l7.9 -1.2 -6.9 -1.4 -7.9 5.6z" class="k"/>
<path d="M420.4 1077.4l8 -6.3 -6.9 -25.6 -7.9 5.6z" class="d"/>
<path d="M531.9 1052.7l7.9 -1.2 -6.9 -5.8 -7.9 1.2z" class="j"/>
<path d="M435.2 1059.3l7.9 6.8 -6.8 3.8 -7.9 1.2z" class="h"/>
<path d="M546.6 1052.9l8 -1.2 -6.9 -5.8 -7.9 5.6z" class="j"/>
<path d="M450 1059.5l7.9 -7.8 -6.8 13.2 -8 1.2z" class="h"/>
<path d="M561.4 1048.7l8 -1.2 -6.9 3 -7.9 1.2z" class="k"/>
<path d="M464.8 1046.5l7.9 -1.2 -6.8 -1.4 -8 7.8z" class="l"/>
<path d="M576.2 1046.7l7.9 -1.2 -6.8 -1.4 -7.9 3.4z" class="l"/>
<path d="M479.6 1048.9l7.9 -1.2 -6.9 -1.4 -7.9 -1z" class="k"/>
<path d="M382.9 1035.8l8 -1.2 -6.9 -1.4 -7.9 1.2z" class="o"/>
<path d="M591 1053.5l7.9 13.4 -6.8 -20.4 -8 -1z" class="j"/>
<path d="M494.4 1049.1l7.9 3.2 -6.9 -1.4 -7.9 -3.2z" class="k"/>
<path d="M397.7 1049.1l8 3.2 -6.9 -18.9 -7.9 1.2z" class="k"/>
<path d="M605.8 1053.7l7.9 -1.2 -6.8 -1.4 -8 15.8z" class="j"/>
<path d="M509.1 1049.3l8 -1.2 -6.9 3 -7.9 1.2z" class="k"/>
<path d="M412.5 1078.6l7.9 -1.2 -6.8 -26.3 -7.9 1.2z" class="d"/>
<path d="M620.6 1040.8l7.9 -1.3 -6.9 11.8 -7.9 1.2z" class="n"/>
<path d="M523.9 1053.9l8 -1.2 -6.9 -5.8 -7.9 1.2z" class="j"/>
<path d="M427.3 1060.5l7.9 -1.2 -6.8 11.8 -8 6.3z" class="h"/>
<path d="M538.7 1054.1l7.9 -1.2 -6.8 -1.4 -7.9 1.2z" class="j"/>
<path d="M442.1 1060.7l7.9 -1.2 -6.9 6.6 -7.9 -6.8z" class="h"/>
<path d="M553.5 1054.3l7.9 -5.6 -6.8 3 -8 1.2z" class="j"/>
<path d="M456.9 1047.7l7.9 -1.2 -6.9 5.2 -7.9 7.8z" class="l"/>
<path d="M568.3 1050.1l7.9 -3.4 -6.8 .8 -8 1.2z" class="k"/>
<path d="M471.7 1047.9l7.9 1 -6.9 -3.6 -7.9 1.2z" class="l"/>
<path d="M583.1 1054.7l7.9 -1.2 -6.9 -8 -7.9 1.2z" class="j"/>
<path d="M486.4 1048.1l8 1 -6.9 -1.4 -7.9 1.2z" class="l"/>
<path d="M389.8 1050.3l7.9 -1.2 -6.8 -14.5 -8 1.2z" class="k"/>
<path d="M597.9 1050.5l7.9 3.2 -6.9 13.2 -7.9 -13.4z" class="k"/>
<path d="M501.2 1050.5l7.9 -1.2 -6.8 3 -7.9 -3.2z" class="k"/>
<path d="M404.6 1079.8l7.9 -1.2 -6.8 -26.3 -8 -3.2z" class="d"/>
<path d="M612.6 1042l8 -1.2 -6.9 11.7 -7.9 1.2z" class="n"/>
<path d="M516 1055.1l7.9 -1.2 -6.8 -5.8 -8 1.2z" class="j"/>
<path d="M419.4 1061.7l7.9 -1.2 -6.9 16.9 -7.9 1.2z" class="h"/>
<path d="M627.4 1042.2l8 -1.2 -6.9 -1.5 -7.9 1.3z" class="n"/>
<path d="M530.8 1055.3l7.9 -1.2 -6.8 -1.4 -8 1.2z" class="j"/>
<path d="M434.2 1059l7.9 1.7 -6.9 -1.4 -7.9 1.2z" class="i"/>
<path d="M545.6 1048.9l7.9 5.4 -6.9 -1.4 -7.9 1.2z" class="l"/>
<path d="M448.9 1059.2l8 -11.5 -6.9 11.8 -7.9 1.2z" class="i"/>
<path d="M560.4 1055.7l7.9 -5.6 -6.9 -1.4 -7.9 5.6z" class="j"/>
<path d="M463.7 1049.1l8 -1.2 -6.9 -1.4 -7.9 1.2z" class="l"/>
<path d="M575.2 1055.9l7.9 -1.2 -6.9 -8 -7.9 3.4z" class="j"/>
<path d="M478.5 1049.3l7.9 -1.2 -6.8 .8 -7.9 -1z" class="l"/>
<path d="M589.9 1059.8l8 -9.3 -6.9 3 -7.9 1.2z" class="i"/>
<path d="M493.3 1049.5l7.9 1 -6.8 -1.4 -8 -1z" class="l"/>
<path d="M396.7 1065.6l7.9 14.2 -6.9 -30.7 -7.9 1.2z" class="g"/>
<path d="M604.7 1043.2l7.9 -1.2 -6.8 11.7 -7.9 -3.2z" class="n"/>
<path d="M508.1 1056.3l7.9 -1.2 -6.9 -5.8 -7.9 1.2z" class="j"/>
<path d="M411.5 1071l7.9 -9.3 -6.9 16.9 -7.9 1.2z" class="f"/>
<path d="M619.5 1043.4l7.9 -1.2 -6.8 -1.4 -8 1.2z" class="n"/>
<path d="M522.9 1056.5l7.9 -1.2 -6.9 -1.4 -7.9 1.2z" class="j"/>
<path d="M426.2 1056.5l8 2.5 -6.9 1.5 -7.9 1.2z" class="j"/>
<path d="M634.3 1043.6l7.9 -1.2 -6.8 -1.4 -8 1.2z" class="n"/>
<path d="M537.7 1050.1l7.9 -1.2 -6.9 5.2 -7.9 1.2z" class="l"/>
<path d="M441 1052.3l7.9 6.9 -6.8 1.5 -7.9 -1.7z" class="k"/>
<path d="M552.4 1047.4l8 8.3 -6.9 -1.4 -7.9 -5.4z" class="m"/>
<path d="M455.8 1052.5l7.9 -3.4 -6.8 -1.4 -8 11.5z" class="k"/>
<path d="M567.2 1060.8l8 -4.9 -6.9 -5.8 -7.9 5.6z" class="i"/>
<path d="M470.6 1047.6l7.9 1.7 -6.8 -1.4 -8 1.2z" class="m"/>
<path d="M582 1063.9l7.9 -4.1 -6.8 -5.1 -7.9 1.2z" class="h"/>
<path d="M485.4 1050.8l7.9 -1.3 -6.9 -1.4 -7.9 1.2z" class="l"/>
<path d="M596.8 1044.4l7.9 -1.2 -6.8 7.3 -8 9.3z" class="n"/>
<path d="M500.2 1057.5l7.9 -1.2 -6.9 -5.8 -7.9 -1z" class="j"/>
<path d="M403.5 1053.2l8 17.8 -6.9 8.8 -7.9 -14.2z" class="k"/>
<path d="M611.6 1044.6l7.9 -1.2 -6.9 -1.4 -7.9 1.2z" class="n"/>
<path d="M514.9 1057.7l8 -1.2 -6.9 -1.4 -7.9 1.2z" class="j"/>
<path d="M418.3 1057.7l7.9 -1.2 -6.8 5.2 -7.9 9.3z" class="j"/>
<path d="M626.4 1044.8l7.9 -1.2 -6.9 -1.4 -7.9 1.2z" class="n"/>
<path d="M529.7 1053.5l8 -3.4 -6.9 5.2 -7.9 1.2z" class="k"/>
<path d="M433.1 1051.4l7.9 .9 -6.8 6.7 -8 -2.5z" class="l"/>
<path d="M544.5 1048.6l7.9 -1.2 -6.8 1.5 -7.9 1.2z" class="m"/>
<path d="M447.9 1051.6l7.9 .9 -6.9 6.7 -7.9 -6.9z" class="l"/>
<path d="M559.3 1062l7.9 -1.2 -6.8 -5.1 -8 -8.3z" class="i"/>
<path d="M462.7 1048.8l7.9 -1.2 -6.9 1.5 -7.9 3.4z" class="m"/>
<path d="M574.1 1065.1l7.9 -1.2 -6.8 -8 -8 4.9z" class="h"/>
<path d="M477.4 1049l8 1.8 -6.9 -1.5 -7.9 -1.7z" class="m"/>
<path d="M588.9 1058.7l7.9 -14.3 -6.9 15.4 -7.9 4.1z" class="j"/>
<path d="M492.2 1052.2l8 5.3 -6.9 -8 -7.9 1.3z" class="l"/>
<path d="M603.7 1045.8l7.9 -1.2 -6.9 -1.4 -7.9 1.2z" class="n"/>
<path d="M507 1058.9l7.9 -1.2 -6.8 -1.4 -7.9 1.2z" class="j"/>
<path d="M410.4 1054.6l7.9 3.1 -6.8 13.3 -8 -17.8z" class="k"/>
<path d="M618.4 1046l8 -1.2 -6.9 -1.4 -7.9 1.2z" class="n"/>
<path d="M521.8 1049.6l7.9 3.9 -6.8 3 -8 1.2z" class="m"/>
<path d="M425.2 1052.6l7.9 -1.2 -6.9 5.1 -7.9 1.2z" class="l"/>
<path d="M536.6 1046.2l7.9 2.4 -6.8 1.5 -8 3.4z" class="n"/>
<path d="M440 1052.8l7.9 -1.2 -6.9 .7 -7.9 -.9z" class="l"/>
<path d="M551.4 1066.1l7.9 -4.1 -6.9 -14.6 -7.9 1.2z" class="h"/>
<path d="M454.7 1055.2l8 -6.4 -6.9 3.7 -7.9 -.9z" class="k"/>
<path d="M566.2 1066.3l7.9 -1.2 -6.9 -4.3 -7.9 1.2z" class="h"/>
<path d="M469.5 1059.7l7.9 -10.7 -6.8 -1.4 -7.9 1.2z" class="j"/>
<path d="M580.9 1066.5l8 -7.8 -6.9 5.2 -7.9 1.2z" class="h"/>
<path d="M484.3 1055.6l7.9 -3.4 -6.8 -1.4 -8 -1.8z" class="k"/>
<path d="M595.7 1047l8 -1.2 -6.9 -1.4 -7.9 14.3z" class="n"/>
<path d="M499.1 1053.6l7.9 5.3 -6.8 -1.4 -8 -5.3z" class="l"/>
<path d="M610.5 1047.2l7.9 -1.2 -6.8 -1.4 -7.9 1.2z" class="n"/>
<path d="M513.9 1050.8l7.9 -1.2 -6.9 8.1 -7.9 1.2z" class="m"/>
<path d="M417.2 1056l8 -3.4 -6.9 5.1 -7.9 -3.1z" class="k"/>
<path d="M528.7 1051l7.9 -4.8 -6.9 7.3 -7.9 -3.9z" class="m"/>
<path d="M432 1054l8 -1.2 -6.9 -1.4 -7.9 1.2z" class="l"/>
<path d="M543.5 1056.4l7.9 9.7 -6.9 -17.5 -7.9 -2.4z" class="k"/>
<path d="M446.8 1054.2l7.9 1 -6.8 -3.6 -7.9 1.2z" class="l"/>
<path d="M558.2 1067.5l8 -1.2 -6.9 -4.3 -7.9 4.1z" class="h"/>
<path d="M461.6 1060.9l7.9 -1.2 -6.8 -10.9 -8 6.4z" class="j"/>
<path d="M573 1067.7l7.9 -1.2 -6.8 -1.4 -7.9 1.2z" class="h"/>
<path d="M476.4 1061.1l7.9 -5.5 -6.9 -6.6 -7.9 10.7z" class="j"/>
<path d="M587.8 1048.2l7.9 -1.2 -6.8 11.7 -8 7.8z" class="n"/>
<path d="M491.2 1057l7.9 -3.4 -6.9 -1.4 -7.9 3.4z" class="k"/>
<path d="M602.6 1048.4l7.9 -1.2 -6.8 -1.4 -8 1.2z" class="n"/>
<path d="M506 1055l7.9 -4.2 -6.9 8.1 -7.9 -5.3z" class="l"/>
<path d="M520.7 1052.2l8 -1.2 -6.9 -1.4 -7.9 1.2z" class="m"/>
<path d="M424.1 1057.4l7.9 -3.4 -6.8 -1.4 -8 3.4z" class="k"/>
<path d="M535.5 1057.6l8 -1.2 -6.9 -10.2 -7.9 4.8z" class="k"/>
<path d="M438.9 1055.4l7.9 -1.2 -6.8 -1.4 -8 1.2z" class="l"/>
<path d="M550.3 1076.8l7.9 -9.3 -6.8 -1.4 -7.9 -9.7z" class="f"/>
<path d="M453.7 1062.2l7.9 -1.3 -6.9 -5.7 -7.9 -1z" class="j"/>
<path d="M565.1 1068.9l7.9 -1.2 -6.8 -1.4 -8 1.2z" class="h"/>
<path d="M468.5 1066l7.9 -4.9 -6.9 -1.4 -7.9 1.2z" class="i"/>
<path d="M579.9 1049.4l7.9 -1.2 -6.9 18.3 -7.9 1.2z" class="n"/>
<path d="M483.2 1062.6l8 -5.6 -6.9 -1.4 -7.9 5.5z" class="j"/>
<path d="M594.7 1049.6l7.9 -1.2 -6.9 -1.4 -7.9 1.2z" class="n"/>
<path d="M498 1056.2l8 -1.2 -6.9 -1.4 -7.9 3.4z" class="l"/>
<path d="M512.8 1056.4l7.9 -4.2 -6.8 -1.4 -7.9 4.2z" class="l"/>
<path d="M527.6 1058.8l7.9 -1.2 -6.8 -6.6 -8 1.2z" class="k"/>
<path d="M431 1053.7l7.9 1.7 -6.9 -1.4 -7.9 3.4z" class="m"/>
<path d="M542.4 1083.1l7.9 -6.3 -6.8 -20.4 -8 1.2z" class="e"/>
<path d="M445.8 1059l7.9 3.2 -6.9 -8 -7.9 1.2z" class="k"/>
<path d="M557.2 1070.1l7.9 -1.2 -6.9 -1.4 -7.9 9.3z" class="h"/>
<path d="M460.5 1063.6l8 2.4 -6.9 -5.1 -7.9 1.3z" class="j"/>
<path d="M572 1050.6l7.9 -1.2 -6.9 18.3 -7.9 1.2z" class="n"/>
<path d="M475.3 1063.8l7.9 -1.2 -6.8 -1.5 -7.9 4.9z" class="j"/>
<path d="M586.7 1050.8l8 -1.2 -6.9 -1.4 -7.9 1.2z" class="n"/>
<path d="M490.1 1054.5l7.9 1.7 -6.8 .8 -8 5.6z" class="m"/>
<path d="M504.9 1057.6l7.9 -1.2 -6.8 -1.4 -8 1.2z" class="l"/>
<path d="M519.7 1064.4l7.9 -5.6 -6.9 -6.6 -7.9 4.2z" class="j"/>
<path d="M534.5 1084.3l7.9 -1.2 -6.9 -25.5 -7.9 1.2z" class="e"/>
<path d="M437.8 1055.1l8 3.9 -6.9 -3.6 -7.9 -1.7z" class="m"/>
<path d="M549.2 1071.3l8 -1.2 -6.9 6.7 -7.9 6.3z" class="h"/>
<path d="M452.6 1060.4l7.9 3.2 -6.8 -1.4 -7.9 -3.2z" class="k"/>
<path d="M564 1051.8l8 -1.2 -6.9 18.3 -7.9 1.2z" class="n"/>
<path d="M467.4 1065l7.9 -1.2 -6.8 2.2 -8 -2.4z" class="j"/>
<path d="M578.8 1052l7.9 -1.2 -6.8 -1.4 -7.9 1.2z" class="n"/>
<path d="M482.2 1052l7.9 2.5 -6.9 8.1 -7.9 1.2z" class="n"/>
<path d="M497 1047.8l7.9 9.8 -6.9 -1.4 -7.9 -1.7z" class="o"/>
<path d="M511.7 1069.2l8 -4.8 -6.9 -8 -7.9 1.2z" class="i"/>
<path d="M526.5 1085.5l8 -1.2 -6.9 -25.5 -7.9 5.6z" class="e"/>
<path d="M541.3 1072.5l7.9 -1.2 -6.8 11.8 -7.9 1.2z" class="h"/>
<path d="M444.7 1048.4l7.9 12 -6.8 -1.4 -8 -3.9z" class="o"/>
<path d="M556.1 1048.6l7.9 3.2 -6.8 18.3 -8 1.2z" class="o"/>
<path d="M459.5 1061.8l7.9 3.2 -6.9 -1.4 -7.9 -3.2z" class="k"/>
<path d="M570.9 1053.2l7.9 -1.2 -6.8 -1.4 -8 1.2z" class="n"/>
<path d="M474.3 1056.9l7.9 -4.9 -6.9 11.8 -7.9 1.2z" class="m"/>
<path d="M489 1049l8 -1.2 -6.9 6.7 -7.9 -2.5z" class="o"/>
<path d="M503.8 1086.5l7.9 -17.3 -6.8 -11.6 -7.9 -9.8z" class="e"/>
<path d="M518.6 1086.7l7.9 -1.2 -6.8 -21.1 -8 4.8z" class="e"/>
<path d="M533.4 1086.9l7.9 -14.4 -6.8 11.8 -8 1.2z" class="e"/>
<path d="M548.2 1049.8l7.9 -1.2 -6.9 22.7 -7.9 1.2z" class="o"/>
<path d="M451.5 1049.8l8 12 -6.9 -1.4 -7.9 -12z" class="o"/>
<path d="M563 1050l7.9 3.2 -6.9 -1.4 -7.9 -3.2z" class="o"/>
<path d="M466.3 1067.6l8 -10.7 -6.9 8.1 -7.9 -3.2z" class="j"/>
<path d="M481.1 1054.6l7.9 -5.6 -6.8 3 -7.9 4.9z" class="n"/>
<path d="M495.9 1087.7l7.9 -1.2 -6.8 -38.7 -8 1.2z" class="e"/>
<path d="M510.7 1087.9l7.9 -1.2 -6.9 -17.5 -7.9 17.3z" class="e"/>
<path d="M525.5 1088.1l7.9 -1.2 -6.9 -1.4 -7.9 1.2z" class="e"/>
<path d="M540.3 1051l7.9 -1.2 -6.9 22.7 -7.9 14.4z" class="o"/>
<path d="M555 1051.2l8 -1.2 -6.9 -1.4 -7.9 1.2z" class="o"/>
<path d="M458.4 1075.4l7.9 -7.8 -6.8 -5.8 -8 -12z" class="h"/>
<path d="M473.2 1069l7.9 -14.4 -6.8 2.3 -8 10.7z" class="j"/>
<path d="M488 1094l7.9 -6.3 -6.9 -38.7 -7.9 5.6z" class="d"/>
<path d="M502.8 1094.2l7.9 -6.3 -6.9 -1.4 -7.9 1.2z" class="d"/>
<path d="M517.5 1076.2l8 11.9 -6.9 -1.4 -7.9 1.2z" class="h"/>
<path d="M532.3 1052.2l8 -1.2 -6.9 35.9 -7.9 1.2z" class="o"/>
<path d="M547.1 1052.4l7.9 -1.2 -6.8 -1.4 -7.9 1.2z" class="o"/>
<path d="M465.3 1084.8l7.9 -15.8 -6.9 -1.4 -7.9 7.8z" class="f"/>
<path d="M480.1 1101.8l7.9 -7.8 -6.9 -39.4 -7.9 14.4z" class="b2"/>
<path d="M494.8 1102l8 -7.8 -6.9 -6.5 -7.9 6.3z" class="b2"/>
<path d="M509.6 1077.4l7.9 -1.2 -6.8 11.7 -7.9 6.3z" class="h"/>
<path d="M524.4 1053.4l7.9 -1.2 -6.8 35.9 -8 -11.9z" class="o"/>
<path d="M539.2 1053.6l7.9 -1.2 -6.8 -1.4 -8 1.2z" class="o"/>
<path d="M472.1 1108.2l8 -6.4 -6.9 -32.8 -7.9 15.8z" class="b"/>
<path d="M486.9 1103.2l7.9 -1.2 -6.8 -8 -7.9 7.8z" class="b2"/>
<path d="M501.7 1078.6l7.9 -1.2 -6.8 16.8 -8 7.8z" class="h"/>
<path d="M516.5 1067.8l7.9 -14.4 -6.9 22.8 -7.9 1.2z" class="k"/>
<path d="M531.3 1054.8l7.9 -1.2 -6.9 -1.4 -7.9 1.2z" class="o"/>
<path d="M479 1092.7l7.9 10.5 -6.8 -1.4 -8 6.4z" class="e"/>
<path d="M493.8 1092.9l7.9 -14.3 -6.9 23.4 -7.9 1.2z" class="e"/>
<path d="M508.6 1069l7.9 -1.2 -6.9 9.6 -7.9 1.2z" class="k"/>
<path d="M523.3 1060.4l8 -5.6 -6.9 -1.4 -7.9 14.4z" class="n"/>
<path d="M485.8 1094.1l8 -1.2 -6.9 10.3 -7.9 -10.5z" class="e"/>
<path d="M500.6 1081.2l8 -12.2 -6.9 9.6 -7.9 14.3z" class="h"/>
<path d="M515.4 1061.6l7.9 -1.2 -6.8 7.4 -7.9 1.2z" class="n"/>
<path d="M492.7 1082.4l7.9 -1.2 -6.8 11.7 -8 1.2z" class="h"/>
<path d="M507.5 1062.8l7.9 -1.2 -6.8 7.4 -8 12.2z" class="n"/>
<path d="M499.6 1072.8l7.9 -10 -6.9 18.4 -7.9 1.2z" class="k"/>
</g>
<text x="356.3" y="1115.3" font-size="7.0" text-anchor="end" font-weight="bold" fill="#222">-20</text>
<text x="356.3" y="1082.8" font-size="7.0" text-anchor="end" font-weight="bold" fill="#222">-10</text>
<text x="356.3" y="1050.3" font-size="7.0" text-anchor="end" font-weight="bold" fill="#222">0</text>
<text x="356.3" y="1017.8" font-size="7.0" text-anchor="end" font-weight="bold" fill="#222">10</text>
<text x="493.1" y="1150.3" font-size="7.0" text-anchor="end" font-weight="bold" fill="#222">0</text>
<text x="503.9" y="1150.3" font-size="7.0" text-anchor="start" font-weight="bold" fill="#222">0</text>
<text x="465.66" y="1144.68" font-size="7.0" text-anchor="end" font-weight="bold" fill="#222">0.2</text>
<text x="535.6" y="1145.48" font-size="7.0" text-anchor="start" font-weight="bold" fill="#222">0.2</text>
<text x="438.22" y="1139.06" font-size="7.0" text-anchor="end" font-weight="bold" fill="#222">0.4</text>
<text x="567.3" y="1140.66" font-size="7.0" text-anchor="start" font-weight="bold" fill="#222">0.4</text>
<text x="410.78" y="1133.44" font-size="7.0" text-anchor="end" font-weight="bold" fill="#222">0.6</text>
<text x="599" y="1135.84" font-size="7.0" text-anchor="start" font-weight="bold" fill="#222">0.6</text>
<text x="383.34" y="1127.82" font-size="7.0" text-anchor="end" font-weight="bold" fill="#222">0.8</text>
<text x="630.7" y="1131.02" font-size="7.0" text-anchor="start" font-weight="bold" fill="#222">0.8</text>
<text x="355.9" y="1122.2" font-size="7.0" text-anchor="end" font-weight="bold" fill="#222">1</text>
<text x="662.4" y="1126.2" font-size="7.0" text-anchor="start" font-weight="bold" fill="#222">1</text>
<text x="429.6" y="1155" font-size="7.5" text-anchor="middle" font-weight="bold" fill="#222">Financial</text>
<text x="569.7" y="1156.3" font-size="7.3" text-anchor="middle" font-weight="bold" fill="#222">GSCPI</text>
<rect x="667.8" y="993.4" width="5.8" height="147.8" fill="url(#jet)"/>
<line x1="672.4" y1="1132.33" x2="673.6" y2="1132.33" stroke="#444" stroke-width="0.4"/>
<text x="675.5" y="1134.51" font-size="6.4" text-anchor="start" font-weight="bold" fill="#3a3a3a">-14</text>
<line x1="672.4" y1="1119.19" x2="673.6" y2="1119.19" stroke="#444" stroke-width="0.4"/>
<text x="675.5" y="1121.37" font-size="6.4" text-anchor="start" font-weight="bold" fill="#3a3a3a">-12</text>
<line x1="672.4" y1="1106.06" x2="673.6" y2="1106.06" stroke="#444" stroke-width="0.4"/>
<text x="675.5" y="1108.23" font-size="6.4" text-anchor="start" font-weight="bold" fill="#3a3a3a">-10</text>
<line x1="672.4" y1="1092.92" x2="673.6" y2="1092.92" stroke="#444" stroke-width="0.4"/>
<text x="675.5" y="1095.09" font-size="6.4" text-anchor="start" font-weight="bold" fill="#3a3a3a">-8</text>
<line x1="672.4" y1="1079.78" x2="673.6" y2="1079.78" stroke="#444" stroke-width="0.4"/>
<text x="675.5" y="1081.96" font-size="6.4" text-anchor="start" font-weight="bold" fill="#3a3a3a">-6</text>
<line x1="672.4" y1="1066.64" x2="673.6" y2="1066.64" stroke="#444" stroke-width="0.4"/>
<text x="675.5" y="1068.82" font-size="6.4" text-anchor="start" font-weight="bold" fill="#3a3a3a">-4</text>
<line x1="672.4" y1="1053.51" x2="673.6" y2="1053.51" stroke="#444" stroke-width="0.4"/>
<text x="675.5" y="1055.68" font-size="6.4" text-anchor="start" font-weight="bold" fill="#3a3a3a">-2</text>
<line x1="672.4" y1="1040.37" x2="673.6" y2="1040.37" stroke="#444" stroke-width="0.4"/>
<text x="675.5" y="1042.54" font-size="6.4" text-anchor="start" font-weight="bold" fill="#3a3a3a">0</text>
<line x1="672.4" y1="1027.23" x2="673.6" y2="1027.23" stroke="#444" stroke-width="0.4"/>
<text x="675.5" y="1029.41" font-size="6.4" text-anchor="start" font-weight="bold" fill="#3a3a3a">2</text>
<line x1="672.4" y1="1014.09" x2="673.6" y2="1014.09" stroke="#444" stroke-width="0.4"/>
<text x="675.5" y="1016.27" font-size="6.4" text-anchor="start" font-weight="bold" fill="#3a3a3a">4</text>
<line x1="672.4" y1="1000.95" x2="673.6" y2="1000.95" stroke="#444" stroke-width="0.4"/>
<text x="675.5" y="1003.13" font-size="6.4" text-anchor="start" font-weight="bold" fill="#3a3a3a">6</text>
<path d="M490.4 1306.6L362.1 1268.9L362.1 1185.47M490.4 1306.6L658.5 1278L658.5 1194.57M524.02 1300.88L395.72 1263.18L395.72 1179.75M464.74 1299.06L632.84 1270.46L632.84 1187.03M557.64 1295.16L429.34 1257.46L429.34 1174.03M439.08 1291.52L607.18 1262.92L607.18 1179.49M591.26 1289.44L462.96 1251.74L462.96 1168.31M413.42 1283.98L581.52 1255.38L581.52 1171.95M624.88 1283.72L496.58 1246.02L496.58 1162.59M387.76 1276.44L555.86 1247.84L555.86 1164.41M658.5 1278L530.2 1240.3L530.2 1156.87M362.1 1268.9L530.2 1240.3L530.2 1156.87M362.1 1267.47L530.2 1238.87L658.5 1276.57M362.1 1246.97L530.2 1218.37L658.5 1256.07M362.1 1226.47L530.2 1197.87L658.5 1235.57M362.1 1205.97L530.2 1177.37L658.5 1215.07M362.1 1185.47L530.2 1156.87L658.5 1194.57" stroke="#e4e4e4" stroke-width="0.5" fill="none"/>
<path d="M362.1 1268.9L362.1 1185.47M362.1 1268.9L490.4 1306.6L658.5 1278M362.1 1267.47h-2M362.1 1246.97h-2M362.1 1226.47h-2M362.1 1205.97h-2M362.1 1185.47h-2M490.4 1306.6L487.88 1307.03M490.4 1306.6L492.32 1307.17M464.74 1299.06L462.22 1299.49M524.02 1300.88L525.94 1301.45M439.08 1291.52L436.56 1291.95M557.64 1295.16L559.56 1295.73M413.42 1283.98L410.9 1284.41M591.26 1289.44L593.18 1290.01M387.76 1276.44L385.24 1276.87M624.88 1283.72L626.8 1284.29M362.1 1268.9L359.58 1269.33M658.5 1278L660.42 1278.57" stroke="#999" stroke-width="0.6" fill="none"/>
<g class="s">
<path d="M526.2 1202.1l8.4 .7 -6.4 -1.2 -8.4 0z" class="j"/>
<path d="M517.8 1201.4l8.4 .7 -6.4 -.5 -8.4 -1.8z" class="j"/>
<path d="M532.6 1203.7l8.4 .6 -6.4 -1.5 -8.4 -.7z" class="j"/>
<path d="M509.4 1203.3l8.4 -1.9 -6.4 -1.6 -8.4 .1z" class="j"/>
<path d="M524.2 1205.7l8.4 -2 -6.4 -1.6 -8.4 -.7z" class="j"/>
<path d="M539.1 1207l8.4 -3 -6.5 .3 -8.4 -.6z" class="j"/>
<path d="M501 1206.3l8.4 -3 -6.4 -3.4 -8.4 4z" class="j"/>
<path d="M515.8 1207.2l8.4 -1.5 -6.4 -4.3 -8.4 1.9z" class="j"/>
<path d="M530.6 1208.6l8.5 -1.6 -6.5 -3.3 -8.4 2z" class="j"/>
<path d="M545.5 1208.5l8.4 -5.4 -6.4 .9 -8.4 3z" class="j"/>
<path d="M492.6 1208.4l8.4 -2.1 -6.4 -2.4 -8.4 2.7z" class="j"/>
<path d="M507.4 1207.6l8.4 -.4 -6.4 -3.9 -8.4 3z" class="j"/>
<path d="M522.2 1210.1l8.4 -1.5 -6.4 -2.9 -8.4 1.5z" class="i"/>
<path d="M537.1 1212.2l8.4 -3.7 -6.4 -1.5 -8.5 1.6z" class="i"/>
<path d="M484.2 1211.9l8.4 -3.5 -6.4 -1.8 -8.4 4.7z" class="i"/>
<path d="M551.9 1209.9l8.4 -3.6 -6.4 -3.2 -8.4 5.4z" class="j"/>
<path d="M499 1210.5l8.4 -2.9 -6.4 -1.3 -8.4 2.1z" class="j"/>
<path d="M513.8 1211.6l8.4 -1.5 -6.4 -2.9 -8.4 .4z" class="i"/>
<path d="M528.7 1214.5l8.4 -2.3 -6.5 -3.6 -8.4 1.5z" class="i"/>
<path d="M475.8 1213.9l8.4 -2 -6.4 -.6 -8.4 1.3z" class="i"/>
<path d="M543.5 1213.7l8.4 -3.8 -6.4 -1.4 -8.4 3.7z" class="i"/>
<path d="M490.6 1212.4l8.4 -1.9 -6.4 -2.1 -8.4 3.5z" class="j"/>
<path d="M558.3 1212.7l8.4 -2.9 -6.4 -3.5 -8.4 3.6z" class="j"/>
<path d="M505.4 1211.4l8.4 .2 -6.4 -4 -8.4 2.9z" class="j"/>
<path d="M520.2 1213.4l8.5 1.1 -6.5 -4.4 -8.4 1.5z" class="j"/>
<path d="M467.4 1213l8.4 .9 -6.4 -1.3 -8.4 -2.2z" class="j"/>
<path d="M535.1 1214.9l8.4 -1.2 -6.4 -1.5 -8.4 2.3z" class="i"/>
<path d="M482.2 1212.6l8.4 -.2 -6.4 -.5 -8.4 2z" class="j"/>
<path d="M549.9 1213.7l8.4 -1 -6.4 -2.8 -8.4 3.8z" class="j"/>
<path d="M497 1211.8l8.4 -.4 -6.4 -.9 -8.4 1.9z" class="j"/>
<path d="M564.7 1213.6l8.4 0 -6.4 -3.8 -8.4 2.9z" class="j"/>
<path d="M511.8 1211.8l8.4 1.6 -6.4 -1.8 -8.4 -.2z" class="j"/>
<path d="M459 1212l8.4 1 -6.4 -2.6 -8.4 -1.7z" class="j"/>
<path d="M526.7 1216.3l8.4 -1.4 -6.4 -.4 -8.5 -1.1z" class="i"/>
<path d="M473.8 1214.4l8.4 -1.8 -6.4 1.3 -8.4 -.9z" class="j"/>
<path d="M541.5 1216.7l8.4 -3 -6.4 0 -8.4 1.2z" class="i"/>
<path d="M488.6 1213.9l8.4 -2.1 -6.4 .6 -8.4 .2z" class="j"/>
<path d="M556.3 1215.8l8.4 -2.2 -6.4 -.9 -8.4 1z" class="j"/>
<path d="M503.4 1212.8l8.4 -1 -6.4 -.4 -8.4 .4z" class="j"/>
<path d="M450.6 1212.7l8.4 -.7 -6.4 -3.3 -8.4 1.2z" class="j"/>
<path d="M571.1 1216.6l8.4 .1 -6.4 -3.1 -8.4 0z" class="j"/>
<path d="M518.3 1214.4l8.4 1.9 -6.5 -2.9 -8.4 -1.6z" class="j"/>
<path d="M465.4 1215l8.4 -.6 -6.4 -1.4 -8.4 -1z" class="j"/>
<path d="M533.1 1216.8l8.4 -.1 -6.4 -1.8 -8.4 1.4z" class="j"/>
<path d="M480.2 1216.4l8.4 -2.5 -6.4 -1.3 -8.4 1.8z" class="j"/>
<path d="M547.9 1216.4l8.4 -.6 -6.4 -2.1 -8.4 3z" class="j"/>
<path d="M495 1214.1l8.4 -1.3 -6.4 -1 -8.4 2.1z" class="j"/>
<path d="M442.2 1215.5l8.4 -2.8 -6.4 -2.8 -8.4 3.9z" class="j"/>
<path d="M562.7 1216.2l8.4 .4 -6.4 -3 -8.4 2.2z" class="j"/>
<path d="M509.9 1213.3l8.4 1.1 -6.5 -2.6 -8.4 1z" class="k"/>
<path d="M457 1216.1l8.4 -1.1 -6.4 -3 -8.4 .7z" class="j"/>
<path d="M577.5 1217.3l8.4 1.4 -6.4 -2 -8.4 -.1z" class="j"/>
<path d="M524.7 1216l8.4 .8 -6.4 -.5 -8.4 -1.9z" class="j"/>
<path d="M471.8 1218.7l8.4 -2.3 -6.4 -2 -8.4 .6z" class="i"/>
<path d="M539.5 1217.1l8.4 -.7 -6.4 .3 -8.4 .1z" class="j"/>
<path d="M486.6 1218.9l8.4 -4.8 -6.4 -.2 -8.4 2.5z" class="j"/>
<path d="M433.8 1219.9l8.4 -4.4 -6.4 -1.7 -8.4 3z" class="i"/>
<path d="M554.3 1216.6l8.4 -.4 -6.4 -.4 -8.4 .6z" class="j"/>
<path d="M501.5 1215l8.4 -1.7 -6.5 -.5 -8.4 1.3z" class="k"/>
<path d="M448.6 1222.7l8.4 -6.6 -6.4 -3.4 -8.4 2.8z" class="i"/>
<path d="M569.1 1217.3l8.4 0 -6.4 -.7 -8.4 -.4z" class="j"/>
<path d="M516.3 1216.5l8.4 -.5 -6.4 -1.6 -8.4 -1.1z" class="j"/>
<path d="M463.4 1226.2l8.4 -7.5 -6.4 -3.7 -8.4 1.1z" class="h"/>
<path d="M584 1219.3l8.4 .3 -6.5 -.9 -8.4 -1.4z" class="j"/>
<path d="M531.1 1220.4l8.4 -3.3 -6.4 -.3 -8.4 -.8z" class="j"/>
<path d="M478.2 1221.1l8.4 -2.2 -6.4 -2.5 -8.4 2.3z" class="i"/>
<path d="M425.4 1202l8.4 17.9 -6.4 -3.1 -8.5 -16.7z" class="o"/>
<path d="M545.9 1218.7l8.4 -2.1 -6.4 -.2 -8.4 .7z" class="j"/>
<path d="M493 1220l8.5 -5 -6.5 -.9 -8.4 4.8z" class="j"/>
<path d="M440.2 1212.7l8.4 10 -6.4 -7.2 -8.4 4.4z" class="l"/>
<path d="M560.7 1216.7l8.4 .6 -6.4 -1.1 -8.4 .4z" class="k"/>
<path d="M507.9 1218.9l8.4 -2.4 -6.4 -3.2 -8.4 1.7z" class="j"/>
<path d="M455 1225.9l8.4 .3 -6.4 -10.1 -8.4 6.6z" class="h"/>
<path d="M575.5 1219.3l8.5 0 -6.5 -2 -8.4 0z" class="j"/>
<path d="M522.7 1221.6l8.4 -1.2 -6.4 -4.4 -8.4 .5z" class="j"/>
<path d="M469.8 1228.5l8.4 -7.4 -6.4 -2.4 -8.4 7.5z" class="g"/>
<path d="M417 1203.4l8.4 -1.4 -6.5 -1.9 -8.4 1.4z" class="o"/>
<path d="M590.4 1221.6l8.4 -1.6 -6.4 -.4 -8.4 -.3z" class="j"/>
<path d="M537.5 1223.2l8.4 -4.5 -6.4 -1.6 -8.4 3.3z" class="i"/>
<path d="M484.6 1222.7l8.4 -2.7 -6.4 -1.1 -8.4 2.2z" class="i"/>
<path d="M431.8 1229.7l8.4 -17 -6.4 7.2 -8.4 -17.9z" class="g"/>
<path d="M552.3 1219.7l8.4 -3 -6.4 -.1 -8.4 2.1z" class="j"/>
<path d="M499.5 1221.6l8.4 -2.7 -6.4 -3.9 -8.5 5z" class="j"/>
<path d="M446.6 1228.1l8.4 -2.2 -6.4 -3.2 -8.4 -10z" class="h"/>
<path d="M567.1 1219.1l8.4 .2 -6.4 -2 -8.4 -.6z" class="k"/>
<path d="M514.3 1223.2l8.4 -1.6 -6.4 -5.1 -8.4 2.4z" class="j"/>
<path d="M461.4 1229.5l8.4 -1 -6.4 -2.3 -8.4 -.3z" class="h"/>
<path d="M408.6 1204.8l8.4 -1.4 -6.5 -1.9 -8.4 1.5z" class="o"/>
<path d="M582 1221.8l8.4 -.2 -6.4 -2.3 -8.5 0z" class="j"/>
<path d="M529.1 1224.9l8.4 -1.7 -6.4 -2.8 -8.4 1.2z" class="i"/>
<path d="M476.2 1231.5l8.4 -8.8 -6.4 -1.6 -8.4 7.4z" class="g"/>
<path d="M423.4 1231.1l8.4 -1.4 -6.4 -27.7 -8.4 1.4z" class="g"/>
<path d="M596.8 1223.5l8.4 -2.9 -6.4 -.6 -8.4 1.6z" class="j"/>
<path d="M543.9 1224l8.4 -4.3 -6.4 -1 -8.4 4.5z" class="j"/>
<path d="M491.1 1225.3l8.4 -3.7 -6.5 -1.6 -8.4 2.7z" class="i"/>
<path d="M438.2 1226.5l8.4 1.6 -6.4 -15.4 -8.4 17z" class="i"/>
<path d="M558.7 1222.1l8.4 -3 -6.4 -2.4 -8.4 3z" class="j"/>
<path d="M505.9 1224l8.4 -.8 -6.4 -4.3 -8.4 2.7z" class="j"/>
<path d="M453 1227.9l8.4 1.6 -6.4 -3.6 -8.4 2.2z" class="i"/>
<path d="M400.1 1206.3l8.5 -1.5 -6.5 -1.8 -8.4 1.4z" class="j"/>
<path d="M573.6 1223.2l8.4 -1.4 -6.5 -2.5 -8.4 -.2z" class="j"/>
<path d="M520.7 1225.9l8.4 -1 -6.4 -3.3 -8.4 1.6z" class="i"/>
<path d="M467.8 1231.5l8.4 0 -6.4 -3 -8.4 1z" class="g"/>
<path d="M415 1232.5l8.4 -1.4 -6.4 -27.7 -8.4 1.4z" class="g"/>
<path d="M588.4 1225.8l8.4 -2.3 -6.4 -1.9 -8.4 .2z" class="i"/>
<path d="M535.5 1227.9l8.4 -3.9 -6.4 -.8 -8.4 1.7z" class="i"/>
<path d="M482.6 1231.8l8.5 -6.5 -6.5 -2.6 -8.4 8.8z" class="h"/>
<path d="M429.8 1228.4l8.4 -1.9 -6.4 3.2 -8.4 1.4z" class="i"/>
<path d="M603.2 1224.1l8.4 -2.3 -6.4 -1.2 -8.4 2.9z" class="j"/>
<path d="M550.3 1225.4l8.4 -3.3 -6.4 -2.4 -8.4 4.3z" class="j"/>
<path d="M497.5 1225.8l8.4 -1.8 -6.4 -2.4 -8.4 3.7z" class="j"/>
<path d="M444.6 1227.2l8.4 .7 -6.4 .2 -8.4 -1.6z" class="i"/>
<path d="M391.7 1207.7l8.4 -1.4 -6.4 -1.9 -8.4 1.4z" class="o"/>
<path d="M565.2 1224.9l8.4 -1.7 -6.5 -4.1 -8.4 3z" class="j"/>
<path d="M512.3 1226.4l8.4 -.5 -6.4 -2.7 -8.4 .8z" class="j"/>
<path d="M459.4 1229.8l8.4 1.7 -6.4 -2 -8.4 -1.6z" class="i"/>
<path d="M406.6 1225.8l8.4 6.7 -6.4 -27.7 -8.5 1.5z" class="j"/>
<path d="M580 1227.2l8.4 -1.4 -6.4 -4 -8.4 1.4z" class="i"/>
<path d="M527.1 1227.9l8.4 0 -6.4 -3 -8.4 1z" class="i"/>
<path d="M474.2 1231.8l8.4 0 -6.4 -.3 -8.4 0z" class="h"/>
<path d="M421.4 1231l8.4 -2.6 -6.4 2.7 -8.4 1.4z" class="h"/>
<path d="M594.8 1228.7l8.4 -4.6 -6.4 -.6 -8.4 2.3z" class="i"/>
<path d="M541.9 1229.1l8.4 -3.7 -6.4 -1.4 -8.4 3.9z" class="i"/>
<path d="M489.1 1230.4l8.4 -4.6 -6.4 -.5 -8.5 6.5z" class="i"/>
<path d="M436.2 1230.1l8.4 -2.9 -6.4 -.7 -8.4 1.9z" class="i"/>
<path d="M383.3 1209.1l8.4 -1.4 -6.4 -1.9 -8.4 1.4z" class="o"/>
<path d="M609.6 1227.3l8.4 -17.2 -6.4 11.7 -8.4 2.3z" class="j"/>
<path d="M556.8 1226.7l8.4 -1.8 -6.5 -2.8 -8.4 3.3z" class="j"/>
<path d="M503.9 1225l8.4 1.4 -6.4 -2.4 -8.4 1.8z" class="j"/>
<path d="M451 1229.5l8.4 .3 -6.4 -1.9 -8.4 -.7z" class="i"/>
<path d="M398.2 1235.4l8.4 -9.6 -6.5 -19.5 -8.4 1.4z" class="g"/>
<path d="M571.6 1228.3l8.4 -1.1 -6.4 -4 -8.4 1.7z" class="j"/>
<path d="M518.7 1227.1l8.4 .8 -6.4 -2 -8.4 .5z" class="j"/>
<path d="M465.8 1231.4l8.4 .4 -6.4 -.3 -8.4 -1.7z" class="i"/>
<path d="M413 1234l8.4 -3 -6.4 1.5 -8.4 -6.7z" class="h"/>
<path d="M586.4 1231.9l8.4 -3.2 -6.4 -2.9 -8.4 1.4z" class="i"/>
<path d="M533.5 1229.7l8.4 -.6 -6.4 -1.2 -8.4 0z" class="i"/>
<path d="M480.7 1233.5l8.4 -3.1 -6.5 1.4 -8.4 0z" class="h"/>
<path d="M427.8 1233.1l8.4 -3 -6.4 -1.7 -8.4 2.6z" class="h"/>
<path d="M601.2 1231l8.4 -3.7 -6.4 -3.2 -8.4 4.6z" class="i"/>
<path d="M548.3 1228.4l8.5 -1.7 -6.5 -1.3 -8.4 3.7z" class="j"/>
<path d="M495.5 1231.3l8.4 -6.3 -6.4 .8 -8.4 4.6z" class="i"/>
<path d="M442.6 1230.4l8.4 -.9 -6.4 -2.3 -8.4 2.9z" class="i"/>
<path d="M389.8 1236.8l8.4 -1.4 -6.5 -27.7 -8.4 1.4z" class="g"/>
<path d="M616 1226.8l8.4 .6 -6.4 -17.3 -8.4 17.2z" class="j"/>
<path d="M563.2 1228.4l8.4 -.1 -6.4 -3.4 -8.4 1.8z" class="j"/>
<path d="M510.3 1227.2l8.4 -.1 -6.4 -.7 -8.4 -1.4z" class="j"/>
<path d="M457.4 1232.7l8.4 -1.3 -6.4 -1.6 -8.4 -.3z" class="i"/>
<path d="M404.6 1235.5l8.4 -1.5 -6.4 -8.2 -8.4 9.6z" class="h"/>
<path d="M578 1230.1l8.4 1.8 -6.4 -4.7 -8.4 1.1z" class="j"/>
<path d="M525.1 1230.1l8.4 -.4 -6.4 -1.8 -8.4 -.8z" class="j"/>
<path d="M472.3 1234.6l8.4 -1.1 -6.5 -1.7 -8.4 -.4z" class="h"/>
<path d="M419.4 1237.4l8.4 -4.3 -6.4 -2.1 -8.4 3z" class="g"/>
<path d="M592.8 1233.3l8.4 -2.3 -6.4 -2.3 -8.4 3.2z" class="i"/>
<path d="M539.9 1230.7l8.4 -2.3 -6.4 .7 -8.4 .6z" class="j"/>
<path d="M487.1 1234.5l8.4 -3.2 -6.4 -.9 -8.4 3.1z" class="h"/>
<path d="M434.2 1234.7l8.4 -4.3 -6.4 -.3 -8.4 3z" class="h"/>
<path d="M607.6 1232.3l8.4 -5.5 -6.4 .5 -8.4 3.7z" class="i"/>
<path d="M554.8 1227.8l8.4 .6 -6.4 -1.7 -8.5 1.7z" class="j"/>
<path d="M501.9 1232.2l8.4 -5 -6.4 -2.2 -8.4 6.3z" class="i"/>
<path d="M449 1233.5l8.4 -.8 -6.4 -3.2 -8.4 .9z" class="i"/>
<path d="M396.2 1236.8l8.4 -1.3 -6.4 -.1 -8.4 1.4z" class="h"/>
<path d="M622.4 1236.9l8.5 -5.6 -6.5 -3.9 -8.4 -.6z" class="h"/>
<path d="M569.6 1230.6l8.4 -.5 -6.4 -1.8 -8.4 .1z" class="j"/>
<path d="M516.7 1228.9l8.4 1.2 -6.4 -3 -8.4 .1z" class="j"/>
<path d="M463.8 1236.3l8.5 -1.7 -6.5 -3.2 -8.4 1.3z" class="h"/>
<path d="M411 1239.1l8.4 -1.7 -6.4 -3.4 -8.4 1.5z" class="g"/>
<path d="M584.4 1232.7l8.4 .6 -6.4 -1.4 -8.4 -1.8z" class="i"/>
<path d="M531.5 1230.6l8.4 .1 -6.4 -1 -8.4 .4z" class="j"/>
<path d="M478.7 1238.4l8.4 -3.9 -6.4 -1 -8.4 1.1z" class="h"/>
<path d="M425.8 1239.6l8.4 -4.9 -6.4 -1.6 -8.4 4.3z" class="g"/>
<path d="M599.2 1231.7l8.4 .6 -6.4 -1.3 -8.4 2.3z" class="j"/>
<path d="M546.4 1229.7l8.4 -1.9 -6.5 .6 -8.4 2.3z" class="j"/>
<path d="M493.5 1235.3l8.4 -3.1 -6.4 -.9 -8.4 3.2z" class="i"/>
<path d="M440.6 1236l8.4 -2.5 -6.4 -3.1 -8.4 4.3z" class="i"/>
<path d="M614 1230.1l8.4 6.8 -6.4 -10.1 -8.4 5.5z" class="j"/>
<path d="M561.2 1229.4l8.4 1.2 -6.4 -2.2 -8.4 -.6z" class="j"/>
<path d="M508.3 1235.9l8.4 -7 -6.4 -1.7 -8.4 5z" class="i"/>
<path d="M455.4 1238.1l8.4 -1.8 -6.4 -3.6 -8.4 .8z" class="h"/>
<path d="M402.6 1238l8.4 1.1 -6.4 -3.6 -8.4 1.3z" class="h"/>
<path d="M628.9 1247l8.4 -7.6 -6.4 -8.1 -8.5 5.6z" class="f"/>
<path d="M576 1230.7l8.4 2 -6.4 -2.6 -8.4 .5z" class="j"/>
<path d="M523.1 1231.7l8.4 -1.1 -6.4 -.5 -8.4 -1.2z" class="j"/>
<path d="M470.3 1239.8l8.4 -1.4 -6.4 -3.8 -8.5 1.7z" class="h"/>
<path d="M417.4 1240.8l8.4 -1.2 -6.4 -2.2 -8.4 1.7z" class="g"/>
<path d="M590.8 1231.1l8.4 .6 -6.4 1.6 -8.4 -.6z" class="j"/>
<path d="M538 1232l8.4 -2.3 -6.5 1 -8.4 -.1z" class="j"/>
<path d="M485.1 1238.7l8.4 -3.4 -6.4 -.8 -8.4 3.9z" class="h"/>
<path d="M432.2 1239.5l8.4 -3.5 -6.4 -1.3 -8.4 4.9z" class="h"/>
<path d="M605.6 1233.6l8.4 -3.5 -6.4 2.2 -8.4 -.6z" class="j"/>
<path d="M552.8 1231.2l8.4 -1.8 -6.4 -1.6 -8.4 1.9z" class="j"/>
<path d="M499.9 1237.4l8.4 -1.5 -6.4 -3.7 -8.4 3.1z" class="i"/>
<path d="M447 1239l8.4 -.9 -6.4 -4.6 -8.4 2.5z" class="h"/>
<path d="M620.5 1244.3l8.4 2.7 -6.5 -10.1 -8.4 -6.8z" class="g"/>
<path d="M567.6 1231.5l8.4 -.8 -6.4 -.1 -8.4 -1.2z" class="j"/>
<path d="M514.7 1239.2l8.4 -7.5 -6.4 -2.8 -8.4 7z" class="h"/>
<path d="M461.9 1241.1l8.4 -1.3 -6.5 -3.5 -8.4 1.8z" class="h"/>
<path d="M409 1240.8l8.4 0 -6.4 -1.7 -8.4 -1.1z" class="h"/>
<path d="M635.3 1259.1l8.4 -1.4 -6.4 -18.3 -8.4 7.6z" class="d"/>
<path d="M582.4 1234.6l8.4 -3.5 -6.4 1.6 -8.4 -2z" class="j"/>
<path d="M529.5 1235.9l8.5 -3.9 -6.5 -1.4 -8.4 1.1z" class="i"/>
<path d="M476.7 1242l8.4 -3.3 -6.4 -.3 -8.4 1.4z" class="g"/>
<path d="M423.8 1241.9l8.4 -2.4 -6.4 .1 -8.4 1.2z" class="g"/>
<path d="M597.2 1237.1l8.4 -3.5 -6.4 -1.9 -8.4 -.6z" class="i"/>
<path d="M544.4 1234.2l8.4 -3 -6.4 -1.5 -8.4 2.3z" class="j"/>
<path d="M491.5 1240.9l8.4 -3.5 -6.4 -2.1 -8.4 3.4z" class="h"/>
<path d="M438.6 1251.6l8.4 -12.6 -6.4 -3 -8.4 3.5z" class="e"/>
<path d="M612 1241.6l8.5 2.7 -6.5 -14.2 -8.4 3.5z" class="h"/>
<path d="M559.2 1232.1l8.4 -.6 -6.4 -2.1 -8.4 1.8z" class="k"/>
<path d="M506.3 1241.3l8.4 -2.1 -6.4 -3.3 -8.4 1.5z" class="h"/>
<path d="M453.5 1240.4l8.4 .7 -6.5 -3 -8.4 .9z" class="h"/>
<path d="M626.9 1260.5l8.4 -1.4 -6.4 -12.1 -8.4 -2.7z" class="d"/>
<path d="M574 1236l8.4 -1.4 -6.4 -3.9 -8.4 .8z" class="j"/>
<path d="M521.1 1238.1l8.4 -2.2 -6.4 -4.2 -8.4 7.5z" class="i"/>
<path d="M468.3 1243.5l8.4 -1.5 -6.4 -2.2 -8.4 1.3z" class="g"/>
<path d="M415.4 1242l8.4 -.1 -6.4 -1.1 -8.4 0z" class="h"/>
<path d="M588.8 1236.4l8.4 .7 -6.4 -6 -8.4 3.5z" class="j"/>
<path d="M536 1238.6l8.4 -4.4 -6.4 -2.2 -8.5 3.9z" class="i"/>
<path d="M483.1 1243.2l8.4 -2.3 -6.4 -2.2 -8.4 3.3z" class="h"/>
<path d="M430.2 1241.9l8.4 9.7 -6.4 -12.1 -8.4 2.4z" class="h"/>
<path d="M603.6 1245.1l8.4 -3.5 -6.4 -8 -8.4 3.5z" class="g"/>
<path d="M550.8 1236.5l8.4 -4.4 -6.4 -.9 -8.4 3z" class="j"/>
<path d="M497.9 1242.7l8.4 -1.4 -6.4 -3.9 -8.4 3.5z" class="h"/>
<path d="M445.1 1265l8.4 -24.6 -6.5 -1.4 -8.4 12.6z" class="c"/>
<path d="M618.5 1262l8.4 -1.5 -6.4 -16.2 -8.5 -2.7z" class="d"/>
<path d="M565.6 1237.4l8.4 -1.4 -6.4 -4.5 -8.4 .6z" class="j"/>
<path d="M512.7 1237.6l8.4 .5 -6.4 1.1 -8.4 2.1z" class="j"/>
<path d="M459.9 1242.1l8.4 1.4 -6.4 -2.4 -8.4 -.7z" class="h"/>
<path d="M580.4 1239.9l8.4 -3.5 -6.4 -1.8 -8.4 1.4z" class="i"/>
<path d="M527.6 1236.4l8.4 2.2 -6.5 -2.7 -8.4 2.2z" class="j"/>
<path d="M474.7 1245.6l8.4 -2.4 -6.4 -1.2 -8.4 1.5z" class="g"/>
<path d="M421.8 1243.6l8.4 -1.7 -6.4 0 -8.4 .1z" class="h"/>
<path d="M595.2 1244.5l8.4 .6 -6.4 -8 -8.4 -.7z" class="h"/>
<path d="M542.4 1241l8.4 -4.5 -6.4 -2.3 -8.4 4.4z" class="i"/>
<path d="M489.5 1244.2l8.4 -1.5 -6.4 -1.8 -8.4 2.3z" class="h"/>
<path d="M436.6 1257l8.5 8 -6.5 -13.4 -8.4 -9.7z" class="e"/>
<path d="M610.1 1263.4l8.4 -1.4 -6.5 -20.4 -8.4 3.5z" class="d"/>
<path d="M557.2 1224.5l8.4 12.9 -6.4 -5.3 -8.4 4.4z" class="n"/>
<path d="M504.3 1239l8.4 -1.4 -6.4 3.7 -8.4 1.4z" class="j"/>
<path d="M451.5 1259.5l8.4 -17.4 -6.4 -1.7 -8.4 24.6z" class="e"/>
<path d="M572 1243.4l8.4 -3.5 -6.4 -3.9 -8.4 1.4z" class="i"/>
<path d="M519.1 1236l8.5 .4 -6.5 1.7 -8.4 -.5z" class="k"/>
<path d="M466.3 1244.3l8.4 1.3 -6.4 -2.1 -8.4 -1.4z" class="h"/>
<path d="M586.8 1248l8.4 -3.5 -6.4 -8.1 -8.4 3.5z" class="g"/>
<path d="M534 1238.6l8.4 2.4 -6.4 -2.4 -8.4 -2.2z" class="j"/>
<path d="M481.1 1245.3l8.4 -1.1 -6.4 -1 -8.4 2.4z" class="h"/>
<path d="M428.2 1243.6l8.4 13.4 -6.4 -15.1 -8.4 1.7z" class="i"/>
<path d="M601.7 1264.8l8.4 -1.4 -6.5 -18.3 -8.4 -.6z" class="d"/>
<path d="M548.8 1217.7l8.4 6.8 -6.4 12 -8.4 4.5z" class="q2"/>
<path d="M495.9 1238.9l8.4 .1 -6.4 3.7 -8.4 1.5z" class="j"/>
<path d="M443.1 1258.9l8.4 .6 -6.4 5.5 -8.5 -8z" class="e"/>
<path d="M563.6 1218.2l8.4 25.2 -6.4 -6 -8.4 -12.9z" class="q2"/>
<path d="M510.7 1234.5l8.4 1.5 -6.4 1.6 -8.4 1.4z" class="l"/>
<path d="M457.9 1243.5l8.4 .8 -6.4 -2.2 -8.4 17.4z" class="i"/>
<path d="M578.4 1267.8l8.4 -19.8 -6.4 -8.1 -8.4 3.5z" class="b"/>
<path d="M525.6 1236.7l8.4 1.9 -6.4 -2.2 -8.5 -.4z" class="k"/>
<path d="M472.7 1245.5l8.4 -.2 -6.4 .3 -8.4 -1.3z" class="h"/>
<path d="M593.2 1266.2l8.5 -1.4 -6.5 -20.3 -8.4 3.5z" class="d"/>
<path d="M540.4 1217.1l8.4 .6 -6.4 23.3 -8.4 -2.4z" class="q2"/>
<path d="M487.5 1241.3l8.4 -2.4 -6.4 5.3 -8.4 1.1z" class="j"/>
<path d="M434.7 1244.7l8.4 14.2 -6.5 -1.9 -8.4 -13.4z" class="i"/>
<path d="M555.2 1217.6l8.4 .6 -6.4 6.3 -8.4 -6.8z" class="q2"/>
<path d="M502.3 1233.2l8.4 1.3 -6.4 4.5 -8.4 -.1z" class="m"/>
<path d="M449.5 1244.9l8.4 -1.4 -6.4 16 -8.4 -.6z" class="i"/>
<path d="M570 1261.1l8.4 6.7 -6.4 -24.4 -8.4 -25.2z" class="e"/>
<path d="M517.2 1237.3l8.4 -.6 -6.5 -.7 -8.4 -1.5z" class="k"/>
<path d="M464.3 1246.4l8.4 -.9 -6.4 -1.2 -8.4 -.8z" class="i"/>
<path d="M584.8 1273.8l8.4 -7.6 -6.4 -18.2 -8.4 19.8z" class="b2"/>
<path d="M532 1218.5l8.4 -1.4 -6.4 21.5 -8.4 -1.9z" class="q2"/>
<path d="M479.1 1242.5l8.4 -1.2 -6.4 4 -8.4 .2z" class="j"/>
<path d="M546.8 1219l8.4 -1.4 -6.4 .1 -8.4 -.6z" class="q2"/>
<path d="M493.9 1236.9l8.4 -3.7 -6.4 5.7 -8.4 2.4z" class="l"/>
<path d="M441.1 1248.1l8.4 -3.2 -6.4 14 -8.4 -14.2z" class="h"/>
<path d="M561.6 1260.4l8.4 .7 -6.4 -42.9 -8.4 -.6z" class="e"/>
<path d="M508.8 1235.3l8.4 2 -6.5 -2.8 -8.4 -1.3z" class="m"/>
<path d="M455.9 1248.9l8.4 -2.5 -6.4 -2.9 -8.4 1.4z" class="h"/>
<path d="M576.4 1275.2l8.4 -1.4 -6.4 -6 -8.4 -6.7z" class="b2"/>
<path d="M523.6 1220l8.4 -1.5 -6.4 18.2 -8.4 .6z" class="q2"/>
<path d="M470.7 1245.6l8.4 -3.1 -6.4 3 -8.4 .9z" class="j"/>
<path d="M538.4 1222.5l8.4 -3.5 -6.4 -1.9 -8.4 1.4z" class="q2"/>
<path d="M485.5 1240.5l8.4 -3.6 -6.4 4.4 -8.4 1.2z" class="k"/>
<path d="M553.2 1263.9l8.4 -3.5 -6.4 -42.8 -8.4 1.4z" class="e"/>
<path d="M500.3 1237.3l8.5 -2 -6.5 -2.1 -8.4 3.7z" class="l"/>
<path d="M447.5 1251.2l8.4 -2.3 -6.4 -4 -8.4 3.2z" class="h"/>
<path d="M568 1276.7l8.4 -1.5 -6.4 -14.1 -8.4 -.7z" class="b2"/>
<path d="M515.2 1223.4l8.4 -3.4 -6.4 17.3 -8.4 -2z" class="q2"/>
<path d="M462.3 1246.7l8.4 -1.1 -6.4 .8 -8.4 2.5z" class="j"/>
<path d="M530 1223.9l8.4 -1.4 -6.4 -4 -8.4 1.5z" class="q2"/>
<path d="M477.1 1242.7l8.4 -2.2 -6.4 2 -8.4 3.1z" class="k"/>
<path d="M544.8 1280.3l8.4 -16.4 -6.4 -44.9 -8.4 3.5z" class="b"/>
<path d="M491.9 1241.2l8.4 -3.9 -6.4 -.4 -8.4 3.6z" class="k"/>
<path d="M559.6 1278.1l8.4 -1.4 -6.4 -16.3 -8.4 3.5z" class="b2"/>
<path d="M506.8 1231.8l8.4 -8.4 -6.4 11.9 -8.5 2z" class="n"/>
<path d="M453.9 1252.9l8.4 -6.2 -6.4 2.2 -8.4 2.3z" class="h"/>
<path d="M521.6 1227.4l8.4 -3.5 -6.4 -3.9 -8.4 3.4z" class="q"/>
<path d="M468.7 1245.5l8.4 -2.8 -6.4 2.9 -8.4 1.1z" class="j"/>
<path d="M536.4 1281.8l8.4 -1.5 -6.4 -57.8 -8.4 1.4z" class="b"/>
<path d="M483.5 1246.4l8.4 -5.2 -6.4 -.7 -8.4 2.2z" class="j"/>
<path d="M551.2 1282.2l8.4 -4.1 -6.4 -14.2 -8.4 16.4z" class="b"/>
<path d="M498.4 1233.3l8.4 -1.5 -6.5 5.5 -8.4 3.9z" class="n"/>
<path d="M513.2 1241.9l8.4 -14.5 -6.4 -4 -8.4 8.4z" class="l"/>
<path d="M460.3 1251.6l8.4 -6.1 -6.4 1.2 -8.4 6.2z" class="i"/>
<path d="M528 1283.2l8.4 -1.4 -6.4 -57.9 -8.4 3.5z" class="b"/>
<path d="M475.1 1247.2l8.4 -.8 -6.4 -3.7 -8.4 2.8z" class="j"/>
<path d="M542.8 1283.6l8.4 -1.4 -6.4 -1.9 -8.4 1.5z" class="b"/>
<path d="M490 1234.7l8.4 -1.4 -6.5 7.9 -8.4 5.2z" class="n"/>
<path d="M504.8 1243.4l8.4 -1.5 -6.4 -10.1 -8.4 1.5z" class="l"/>
<path d="M519.6 1295.5l8.4 -12.3 -6.4 -55.8 -8.4 14.5z" class="a"/>
<path d="M466.7 1252.7l8.4 -5.5 -6.4 -1.7 -8.4 6.1z" class="i"/>
<path d="M534.4 1286.5l8.4 -2.9 -6.4 -1.8 -8.4 1.4z" class="b"/>
<path d="M481.6 1236.1l8.4 -1.4 -6.5 11.7 -8.4 .8z" class="n"/>
<path d="M496.4 1244.8l8.4 -1.4 -6.4 -10.1 -8.4 1.4z" class="l"/>
<path d="M511.2 1296.9l8.4 -1.4 -6.4 -53.6 -8.4 1.5z" class="a"/>
<path d="M526 1297.4l8.4 -10.9 -6.4 -3.3 -8.4 12.3z" class="a"/>
<path d="M473.1 1237.6l8.5 -1.5 -6.5 11.1 -8.4 5.5z" class="n"/>
<path d="M488 1246.2l8.4 -1.4 -6.4 -10.1 -8.4 1.4z" class="l"/>
<path d="M502.8 1298.3l8.4 -1.4 -6.4 -53.5 -8.4 1.4z" class="a"/>
<path d="M517.6 1298.8l8.4 -1.4 -6.4 -1.9 -8.4 1.4z" class="a"/>
<path d="M479.6 1247.6l8.4 -1.4 -6.4 -10.1 -8.5 1.5z" class="l"/>
<path d="M494.4 1299.8l8.4 -1.5 -6.4 -53.5 -8.4 1.4z" class="a"/>
<path d="M509.2 1300.2l8.4 -1.4 -6.4 -1.9 -8.4 1.4z" class="a"/>
<path d="M486 1301.2l8.4 -1.4 -6.4 -53.6 -8.4 1.4z" class="a"/>
<path d="M500.8 1301.7l8.4 -1.5 -6.4 -1.9 -8.4 1.5z" class="a"/>
<path d="M492.4 1303.1l8.4 -1.4 -6.4 -1.9 -8.4 1.4z" class="a"/>
</g>
<text x="357.1" y="1269.87" font-size="7.0" text-anchor="end" font-weight="bold" fill="#222">-20</text>
<text x="357.1" y="1249.37" font-size="7.0" text-anchor="end" font-weight="bold" fill="#222">-10</text>
<text x="357.1" y="1228.87" font-size="7.0" text-anchor="end" font-weight="bold" fill="#222">0</text>
<text x="357.1" y="1208.37" font-size="7.0" text-anchor="end" font-weight="bold" fill="#222">10</text>
<text x="357.1" y="1187.87" font-size="7.0" text-anchor="end" font-weight="bold" fill="#222">20</text>
<text x="485" y="1315.8" font-size="7.0" text-anchor="end" font-weight="bold" fill="#222">0</text>
<text x="495.8" y="1315.8" font-size="7.0" text-anchor="start" font-weight="bold" fill="#222">0</text>
<text x="459.34" y="1308.26" font-size="7.0" text-anchor="end" font-weight="bold" fill="#222">0.2</text>
<text x="529.42" y="1310.08" font-size="7.0" text-anchor="start" font-weight="bold" fill="#222">0.2</text>
<text x="433.68" y="1300.72" font-size="7.0" text-anchor="end" font-weight="bold" fill="#222">0.4</text>
<text x="563.04" y="1304.36" font-size="7.0" text-anchor="start" font-weight="bold" fill="#222">0.4</text>
<text x="408.02" y="1293.18" font-size="7.0" text-anchor="end" font-weight="bold" fill="#222">0.6</text>
<text x="596.66" y="1298.64" font-size="7.0" text-anchor="start" font-weight="bold" fill="#222">0.6</text>
<text x="382.36" y="1285.64" font-size="7.0" text-anchor="end" font-weight="bold" fill="#222">0.8</text>
<text x="630.28" y="1292.92" font-size="7.0" text-anchor="start" font-weight="bold" fill="#222">0.8</text>
<text x="356.7" y="1278.1" font-size="7.0" text-anchor="end" font-weight="bold" fill="#222">1</text>
<text x="663.9" y="1287.2" font-size="7.0" text-anchor="start" font-weight="bold" fill="#222">1</text>
<text x="415.9" y="1318.4" font-size="7.5" text-anchor="middle" font-weight="bold" fill="#222">Discretionary</text>
<text x="563.8" y="1321.3" font-size="7.3" text-anchor="middle" font-weight="bold" fill="#222">GSCPI</text>
<rect x="667.8" y="1158.7" width="5.8" height="147.8" fill="url(#jet)"/>
<line x1="672.4" y1="1303.96" x2="673.6" y2="1303.96" stroke="#444" stroke-width="0.4"/>
<text x="675.5" y="1306.14" font-size="6.4" text-anchor="start" font-weight="bold" fill="#3a3a3a">-20</text>
<line x1="672.4" y1="1282.78" x2="673.6" y2="1282.78" stroke="#444" stroke-width="0.4"/>
<text x="675.5" y="1284.96" font-size="6.4" text-anchor="start" font-weight="bold" fill="#3a3a3a">-15</text>
<line x1="672.4" y1="1261.61" x2="673.6" y2="1261.61" stroke="#444" stroke-width="0.4"/>
<text x="675.5" y="1263.79" font-size="6.4" text-anchor="start" font-weight="bold" fill="#3a3a3a">-10</text>
<line x1="672.4" y1="1240.43" x2="673.6" y2="1240.43" stroke="#444" stroke-width="0.4"/>
<text x="675.5" y="1242.61" font-size="6.4" text-anchor="start" font-weight="bold" fill="#3a3a3a">-5</text>
<line x1="672.4" y1="1219.26" x2="673.6" y2="1219.26" stroke="#444" stroke-width="0.4"/>
<text x="675.5" y="1221.44" font-size="6.4" text-anchor="start" font-weight="bold" fill="#3a3a3a">0</text>
<line x1="672.4" y1="1198.09" x2="673.6" y2="1198.09" stroke="#444" stroke-width="0.4"/>
<text x="675.5" y="1200.26" font-size="6.4" text-anchor="start" font-weight="bold" fill="#3a3a3a">5</text>
<line x1="672.4" y1="1176.91" x2="673.6" y2="1176.91" stroke="#444" stroke-width="0.4"/>
<text x="675.5" y="1179.09" font-size="6.4" text-anchor="start" font-weight="bold" fill="#3a3a3a">10</text>
<path d="M501.5 1472.8L361.3 1444.4L361.3 1349.82M501.5 1472.8L657.2 1446.5L657.2 1351.92M532.64 1467.54L392.44 1439.14L392.44 1344.56M473.46 1467.12L629.16 1440.82L629.16 1346.24M563.78 1462.28L423.58 1433.88L423.58 1339.3M445.42 1461.44L601.12 1435.14L601.12 1340.56M594.92 1457.02L454.72 1428.62L454.72 1334.04M417.38 1455.76L573.08 1429.46L573.08 1334.88M626.06 1451.76L485.86 1423.36L485.86 1328.78M389.34 1450.08L545.04 1423.78L545.04 1329.2M657.2 1446.5L517 1418.1L517 1323.52M361.3 1444.4L517 1418.1L517 1323.52M361.3 1443.8L517 1417.5L657.2 1445.9M361.3 1413.87L517 1387.57L657.2 1415.97M361.3 1383.94L517 1357.64L657.2 1386.04M361.3 1354.01L517 1327.71L657.2 1356.11M361.3 1349.82L517 1323.52L657.2 1351.92" stroke="#e4e4e4" stroke-width="0.5" fill="none"/>
<path d="M361.3 1444.4L361.3 1349.82M361.3 1444.4L501.5 1472.8L657.2 1446.5M361.3 1443.8h-2M361.3 1413.87h-2M361.3 1383.94h-2M361.3 1354.01h-2M501.5 1472.8L499.16 1473.19M501.5 1472.8L503.6 1473.23M473.46 1467.12L471.12 1467.51M532.64 1467.54L534.74 1467.97M445.42 1461.44L443.08 1461.83M563.78 1462.28L565.88 1462.71M417.38 1455.76L415.04 1456.15M594.92 1457.02L597.02 1457.45M389.34 1450.08L387 1450.47M626.06 1451.76L628.16 1452.19M361.3 1444.4L358.96 1444.79M657.2 1446.5L659.3 1446.93" stroke="#999" stroke-width="0.6" fill="none"/>
<g class="s">
<path d="M515.5 1352.7l7.7 -1.3 -7 -1.4 -7.8 1.3z" class="k"/>
<path d="M507.7 1351.5l7.8 1.2 -7.1 -1.4 -7.7 -1.2z" class="l"/>
<path d="M522.5 1359.1l7.7 -1.3 -7 -6.4 -7.7 1.3z" class="j"/>
<path d="M499.9 1355.3l7.8 -3.8 -7 -1.4 -7.8 3.8z" class="k"/>
<path d="M514.7 1355.4l7.8 3.7 -7 -6.4 -7.8 -1.2z" class="k"/>
<path d="M529.5 1364.7l7.8 -1.3 -7.1 -5.6 -7.7 1.3z" class="i"/>
<path d="M492.1 1354.1l7.8 1.2 -7 -1.4 -7.8 -1.2z" class="l"/>
<path d="M506.9 1356.7l7.8 -1.3 -7 -3.9 -7.8 3.8z" class="k"/>
<path d="M521.7 1356.8l7.8 7.9 -7 -5.6 -7.8 -3.7z" class="k"/>
<path d="M536.5 1372.8l7.8 -1.4 -7 -8 -7.8 1.3z" class="g"/>
<path d="M484.3 1355.5l7.8 -1.4 -7 -1.4 -7.8 1.3z" class="l"/>
<path d="M499.1 1355.6l7.8 1.1 -7 -1.4 -7.8 -1.2z" class="l"/>
<path d="M513.9 1358.2l7.8 -1.4 -7 -1.4 -7.8 1.3z" class="k"/>
<path d="M528.7 1370.7l7.8 2.1 -7 -8.1 -7.8 -7.9z" class="h"/>
<path d="M543.5 1385.8l7.8 -1.3 -7 -13.1 -7.8 1.4z" class="e"/>
<path d="M476.5 1349.3l7.8 6.2 -7 -1.5 -7.8 -6.1z" class="n"/>
<path d="M491.3 1356.9l7.8 -1.3 -7 -1.5 -7.8 1.4z" class="l"/>
<path d="M506.1 1359.5l7.8 -1.3 -7 -1.5 -7.8 -1.1z" class="k"/>
<path d="M520.9 1368.7l7.8 2 -7 -13.9 -7.8 1.4z" class="i"/>
<path d="M535.7 1381.3l7.8 4.5 -7 -13 -7.8 -2.1z" class="f"/>
<path d="M550.5 1397.2l7.8 -1.3 -7 -11.4 -7.8 1.3z" class="c"/>
<path d="M468.7 1358.1l7.8 -8.8 -7 -1.4 -7.8 8.8z" class="l"/>
<path d="M483.5 1360.7l7.8 -3.8 -7 -1.4 -7.8 -6.2z" class="k"/>
<path d="M498.3 1365.8l7.8 -6.3 -7 -3.9 -7.8 1.3z" class="j"/>
<path d="M513.1 1370l7.8 -1.3 -7 -10.5 -7.8 1.3z" class="i"/>
<path d="M527.9 1382.6l7.8 -1.3 -7 -10.6 -7.8 -2z" class="f"/>
<path d="M542.7 1382.7l7.8 14.5 -7 -11.4 -7.8 -4.5z" class="f"/>
<path d="M557.5 1398.7l7.8 -1.4 -7 -1.4 -7.8 1.3z" class="c"/>
<path d="M461 1359.4l7.7 -1.3 -7 -1.4 -7.8 1.3z" class="l"/>
<path d="M475.8 1359.5l7.7 1.2 -7 -11.4 -7.8 8.8z" class="l"/>
<path d="M490.5 1367.1l7.8 -1.3 -7 -8.9 -7.8 3.8z" class="j"/>
<path d="M505.3 1371.4l7.8 -1.4 -7 -10.5 -7.8 6.3z" class="i"/>
<path d="M520.1 1374.8l7.8 7.8 -7 -13.9 -7.8 1.3z" class="h"/>
<path d="M534.9 1384.1l7.8 -1.4 -7 -1.4 -7.8 1.3z" class="f"/>
<path d="M549.7 1384.2l7.8 14.5 -7 -1.5 -7.8 -14.5z" class="f"/>
<path d="M564.5 1362.6l7.8 -1.3 -7 36 -7.8 1.4z" class="k"/>
<path d="M453.2 1363.2l7.8 -3.8 -7.1 -1.4 -7.7 3.8z" class="k"/>
<path d="M468 1360.8l7.8 -1.3 -7.1 -1.4 -7.7 1.3z" class="l"/>
<path d="M482.8 1363.4l7.7 3.7 -7 -6.4 -7.7 -1.2z" class="k"/>
<path d="M497.6 1372.7l7.7 -1.3 -7 -5.6 -7.8 1.3z" class="i"/>
<path d="M512.4 1372.8l7.7 2 -7 -4.8 -7.8 1.4z" class="i"/>
<path d="M527.1 1376.2l7.8 7.9 -7 -1.5 -7.8 -7.8z" class="h"/>
<path d="M541.9 1385.5l7.8 -1.3 -7 -1.5 -7.8 1.4z" class="f"/>
<path d="M556.7 1373.1l7.8 -10.5 -7 36.1 -7.8 -14.5z" class="i"/>
<path d="M571.5 1361.6l7.8 -1.4 -7 1.1 -7.8 1.3z" class="l"/>
<path d="M445.4 1362l7.8 1.2 -7 -1.4 -7.8 -1.2z" class="l"/>
<path d="M460.2 1358.8l7.8 2 -7 -1.4 -7.8 3.8z" class="m"/>
<path d="M475 1364.7l7.8 -1.3 -7 -3.9 -7.8 1.3z" class="k"/>
<path d="M489.8 1374l7.8 -1.3 -7.1 -5.6 -7.7 -3.7z" class="i"/>
<path d="M504.6 1377.4l7.8 -4.6 -7.1 -1.4 -7.7 1.3z" class="h"/>
<path d="M519.4 1377.5l7.7 -1.3 -7 -1.4 -7.7 -2z" class="h"/>
<path d="M534.2 1377.6l7.7 7.9 -7 -1.4 -7.8 -7.9z" class="h"/>
<path d="M549 1374.4l7.7 -1.3 -7 11.1 -7.8 1.3z" class="i"/>
<path d="M563.7 1359.5l7.8 2.1 -7 1 -7.8 10.5z" class="m"/>
<path d="M578.5 1365.5l7.8 -17.9 -7 12.6 -7.8 1.4z" class="k"/>
<path d="M437.6 1360l7.8 2 -7 -1.4 -7.8 -2z" class="m"/>
<path d="M452.4 1360.1l7.8 -1.3 -7 4.4 -7.8 -1.2z" class="m"/>
<path d="M467.2 1363.6l7.8 1.1 -7 -3.9 -7.8 -2z" class="l"/>
<path d="M482 1371.1l7.8 2.9 -7 -10.6 -7.8 1.3z" class="j"/>
<path d="M496.8 1375.4l7.8 2 -7 -4.7 -7.8 1.3z" class="i"/>
<path d="M511.6 1378.8l7.8 -1.3 -7 -4.7 -7.8 4.6z" class="h"/>
<path d="M526.4 1379l7.8 -1.4 -7.1 -1.4 -7.7 1.3z" class="h"/>
<path d="M541.2 1379.1l7.8 -4.7 -7.1 11.1 -7.7 -7.9z" class="h"/>
<path d="M556 1371.7l7.7 -12.2 -7 13.6 -7.7 1.3z" class="j"/>
<path d="M570.8 1364.3l7.7 1.2 -7 -3.9 -7.8 -2.1z" class="l"/>
<path d="M429.8 1361.3l7.8 -1.3 -7 -1.4 -7.8 23.5z" class="m"/>
<path d="M585.6 1371.9l7.7 -1.3 -7 -23 -7.8 17.9z" class="j"/>
<path d="M444.6 1361.4l7.8 -1.3 -7 1.9 -7.8 -2z" class="m"/>
<path d="M459.4 1367.4l7.8 -3.8 -7 -4.8 -7.8 1.3z" class="k"/>
<path d="M474.2 1376.6l7.8 -5.5 -7 -6.4 -7.8 -1.1z" class="i"/>
<path d="M489 1376.7l7.8 -1.3 -7 -1.4 -7.8 -2.9z" class="i"/>
<path d="M503.8 1376.8l7.8 2 -7 -1.4 -7.8 -2z" class="i"/>
<path d="M518.6 1380.3l7.8 -1.3 -7 -1.5 -7.8 1.3z" class="h"/>
<path d="M533.4 1380.4l7.8 -1.3 -7 -1.5 -7.8 1.4z" class="h"/>
<path d="M548.2 1377.1l7.8 -5.4 -7 2.7 -7.8 4.7z" class="i"/>
<path d="M563 1373.1l7.8 -8.8 -7.1 -4.8 -7.7 12.2z" class="j"/>
<path d="M422 1353.5l7.8 7.8 -7 20.8 -7.8 19.3z" class="o"/>
<path d="M577.8 1365.7l7.8 6.2 -7.1 -6.4 -7.7 -1.2z" class="l"/>
<path d="M436.8 1362.8l7.8 -1.4 -7 -1.4 -7.8 1.3z" class="m"/>
<path d="M592.6 1368.3l7.7 -1.3 -7 3.6 -7.7 1.3z" class="k"/>
<path d="M451.6 1373.7l7.8 -6.3 -7 -7.3 -7.8 1.3z" class="j"/>
<path d="M466.4 1377.9l7.8 -1.3 -7 -13 -7.8 3.8z" class="i"/>
<path d="M481.2 1378l7.8 -1.3 -7 -5.6 -7.8 5.5z" class="i"/>
<path d="M496 1381.5l7.8 -4.7 -7 -1.4 -7.8 1.3z" class="h"/>
<path d="M510.8 1381.6l7.8 -1.3 -7 -1.5 -7.8 -2z" class="h"/>
<path d="M525.6 1381.7l7.8 -1.3 -7 -1.4 -7.8 1.3z" class="h"/>
<path d="M540.4 1381.8l7.8 -4.7 -7 2 -7.8 1.3z" class="h"/>
<path d="M555.2 1374.4l7.8 -1.3 -7 -1.4 -7.8 5.4z" class="j"/>
<path d="M414.2 1354.8l7.8 -1.3 -7 47.9 -7.8 4.3z" class="o"/>
<path d="M570 1374.5l7.8 -8.8 -7 -1.4 -7.8 8.8z" class="j"/>
<path d="M429 1354.9l7.8 7.9 -7 -1.5 -7.8 -7.8z" class="o"/>
<path d="M584.8 1367.1l7.8 1.2 -7 3.6 -7.8 -6.2z" class="l"/>
<path d="M443.8 1375l7.8 -1.3 -7 -12.3 -7.8 1.4z" class="j"/>
<path d="M599.6 1367.2l7.8 -22.2 -7.1 22 -7.7 1.3z" class="l"/>
<path d="M458.6 1379.3l7.8 -1.4 -7 -10.5 -7.8 6.3z" class="i"/>
<path d="M473.4 1379.4l7.8 -1.4 -7 -1.4 -7.8 1.3z" class="i"/>
<path d="M488.2 1382.8l7.8 -1.3 -7 -4.8 -7.8 1.3z" class="h"/>
<path d="M503 1382.9l7.8 -1.3 -7 -4.8 -7.8 4.7z" class="h"/>
<path d="M517.8 1386.3l7.8 -4.6 -7 -1.4 -7.8 1.3z" class="g"/>
<path d="M532.6 1383.1l7.8 -1.3 -7 -1.4 -7.8 1.3z" class="h"/>
<path d="M547.4 1375.7l7.8 -1.3 -7 2.7 -7.8 4.7z" class="j"/>
<path d="M406.5 1361.1l7.7 -6.3 -7 50.9 -7.7 -7.6z" class="n"/>
<path d="M562.2 1375.8l7.8 -1.3 -7 -1.4 -7.8 1.3z" class="j"/>
<path d="M421.3 1356.2l7.7 -1.3 -7 -1.4 -7.8 1.3z" class="o"/>
<path d="M577 1370.9l7.8 -3.8 -7 -1.4 -7.8 8.8z" class="k"/>
<path d="M436.1 1368.8l7.7 6.2 -7 -12.2 -7.8 -7.9z" class="l"/>
<path d="M591.8 1368.5l7.8 -1.3 -7 1.1 -7.8 -1.2z" class="l"/>
<path d="M450.8 1380.6l7.8 -1.3 -7 -5.6 -7.8 1.3z" class="i"/>
<path d="M606.6 1371.1l7.8 -1.3 -7 -24.8 -7.8 22.2z" class="k"/>
<path d="M465.6 1380.7l7.8 -1.3 -7 -1.5 -7.8 1.4z" class="i"/>
<path d="M480.4 1380.8l7.8 2 -7 -4.8 -7.8 1.4z" class="i"/>
<path d="M495.2 1384.2l7.8 -1.3 -7 -1.4 -7.8 1.3z" class="h"/>
<path d="M510 1387.6l7.8 -1.3 -7 -4.7 -7.8 1.3z" class="g"/>
<path d="M524.8 1387.7l7.8 -4.6 -7 -1.4 -7.8 4.6z" class="g"/>
<path d="M539.6 1384.5l7.8 -8.8 -7 6.1 -7.8 1.3z" class="h"/>
<path d="M398.7 1399.9l7.8 -38.8 -7 37 -7.8 -10.7z" class="e"/>
<path d="M554.4 1372.1l7.8 3.7 -7 -1.4 -7.8 1.3z" class="k"/>
<path d="M413.5 1357.5l7.8 -1.3 -7.1 -1.4 -7.7 6.3z" class="o"/>
<path d="M569.2 1377.2l7.8 -6.3 -7 3.6 -7.8 1.3z" class="j"/>
<path d="M428.3 1370.1l7.8 -1.3 -7.1 -13.9 -7.7 1.3z" class="l"/>
<path d="M584 1372.4l7.8 -3.9 -7 -1.4 -7.8 3.8z" class="k"/>
<path d="M443.1 1388.5l7.7 -7.9 -7 -5.6 -7.7 -6.2z" class="g"/>
<path d="M598.8 1377.5l7.8 -6.4 -7 -3.9 -7.8 1.3z" class="j"/>
<path d="M457.9 1382l7.7 -1.3 -7 -1.4 -7.8 1.3z" class="i"/>
<path d="M613.6 1385.1l7.8 -1.4 -7 -13.9 -7.8 1.3z" class="h"/>
<path d="M472.6 1382.1l7.8 -1.3 -7 -1.4 -7.8 1.3z" class="i"/>
<path d="M487.4 1382.2l7.8 2 -7 -1.4 -7.8 -2z" class="i"/>
<path d="M502.2 1389l7.8 -1.4 -7 -4.7 -7.8 1.3z" class="g"/>
<path d="M517 1389.1l7.8 -1.4 -7 -1.4 -7.8 1.3z" class="g"/>
<path d="M531.8 1385.8l7.8 -1.3 -7 -1.4 -7.8 4.6z" class="h"/>
<path d="M390.9 1395.4l7.8 4.5 -7 -12.5 -7.8 -1.7z" class="f"/>
<path d="M546.6 1382.6l7.8 -10.5 -7 3.6 -7.8 8.8z" class="i"/>
<path d="M405.7 1373.8l7.8 -16.3 -7 3.6 -7.8 38.8z" class="k"/>
<path d="M561.4 1382.7l7.8 -5.5 -7 -1.4 -7.8 -3.7z" class="i"/>
<path d="M420.5 1378.9l7.8 -8.8 -7 -13.9 -7.8 1.3z" class="j"/>
<path d="M576.2 1382.8l7.8 -10.4 -7 -1.5 -7.8 6.3z" class="i"/>
<path d="M435.3 1389.9l7.8 -1.4 -7 -19.7 -7.8 1.3z" class="g"/>
<path d="M591 1386.3l7.8 -8.8 -7 -9 -7.8 3.9z" class="h"/>
<path d="M450.1 1390l7.8 -8 -7.1 -1.4 -7.7 7.9z" class="g"/>
<path d="M605.8 1395.5l7.8 -10.4 -7 -14 -7.8 6.4z" class="f"/>
<path d="M464.9 1383.4l7.7 -1.3 -7 -1.4 -7.7 1.3z" class="i"/>
<path d="M620.6 1395.6l7.8 -1.3 -7 -10.6 -7.8 1.4z" class="f"/>
<path d="M479.7 1383.5l7.7 -1.3 -7 -1.4 -7.8 1.3z" class="i"/>
<path d="M494.5 1390.3l7.7 -1.3 -7 -4.8 -7.8 -2z" class="g"/>
<path d="M509.2 1390.4l7.8 -1.3 -7 -1.5 -7.8 1.4z" class="g"/>
<path d="M524 1390.5l7.8 -4.7 -7 1.9 -7.8 1.4z" class="g"/>
<path d="M383.1 1380l7.8 15.4 -7 -9.7 -7.8 3.7z" class="j"/>
<path d="M538.8 1383.9l7.8 -1.3 -7 1.9 -7.8 1.3z" class="i"/>
<path d="M397.9 1384.3l7.8 -10.5 -7 26.1 -7.8 -4.5z" class="i"/>
<path d="M553.6 1384l7.8 -1.3 -7 -10.6 -7.8 10.5z" class="i"/>
<path d="M412.7 1380.2l7.8 -1.3 -7 -21.4 -7.8 16.3z" class="j"/>
<path d="M568.4 1384.1l7.8 -1.3 -7 -5.6 -7.8 5.5z" class="i"/>
<path d="M427.5 1391.2l7.8 -1.3 -7 -19.8 -7.8 8.8z" class="g"/>
<path d="M583.2 1384.2l7.8 2.1 -7 -13.9 -7.8 10.4z" class="i"/>
<path d="M442.3 1391.3l7.8 -1.3 -7 -1.5 -7.8 1.4z" class="g"/>
<path d="M598 1396.8l7.8 -1.3 -7 -18 -7.8 8.8z" class="f"/>
<path d="M457.1 1388.1l7.8 -4.7 -7 -1.4 -7.8 8z" class="h"/>
<path d="M612.8 1396.9l7.8 -1.3 -7 -10.5 -7.8 10.4z" class="f"/>
<path d="M471.9 1384.8l7.8 -1.3 -7.1 -1.4 -7.7 1.3z" class="i"/>
<path d="M627.6 1397l7.8 -1.3 -7 -1.4 -7.8 1.3z" class="f"/>
<path d="M486.7 1388.3l7.8 2 -7.1 -8.1 -7.7 1.3z" class="h"/>
<path d="M501.5 1391.7l7.7 -1.3 -7 -1.4 -7.7 1.3z" class="g"/>
<path d="M516.3 1391.8l7.7 -1.3 -7 -1.4 -7.8 1.3z" class="g"/>
<path d="M531.1 1385.2l7.7 -1.3 -7 1.9 -7.8 4.7z" class="i"/>
<path d="M390.1 1381.5l7.8 2.8 -7 11.1 -7.8 -15.4z" class="j"/>
<path d="M545.9 1385.4l7.7 -1.4 -7 -1.4 -7.8 1.3z" class="i"/>
<path d="M404.9 1385.7l7.8 -5.5 -7 -6.4 -7.8 10.5z" class="i"/>
<path d="M560.6 1385.5l7.8 -1.4 -7 -1.4 -7.8 1.3z" class="i"/>
<path d="M419.7 1385.8l7.8 5.4 -7 -12.3 -7.8 1.3z" class="i"/>
<path d="M575.4 1385.6l7.8 -1.4 -7 -1.4 -7.8 1.3z" class="i"/>
<path d="M434.5 1389.3l7.8 2 -7 -1.4 -7.8 1.3z" class="h"/>
<path d="M590.2 1398.1l7.8 -1.3 -7 -10.5 -7.8 -2.1z" class="f"/>
<path d="M449.3 1392.7l7.8 -4.6 -7 1.9 -7.8 1.3z" class="g"/>
<path d="M605 1398.3l7.8 -1.4 -7 -1.4 -7.8 1.3z" class="f"/>
<path d="M464.1 1389.5l7.8 -4.7 -7 -1.4 -7.8 4.7z" class="h"/>
<path d="M619.8 1398.4l7.8 -1.4 -7 -1.4 -7.8 1.3z" class="f"/>
<path d="M478.9 1389.6l7.8 -1.3 -7 -4.8 -7.8 1.3z" class="h"/>
<path d="M634.6 1398.5l7.8 -1.4 -7 -1.4 -7.8 1.3z" class="f"/>
<path d="M493.7 1389.7l7.8 2 -7 -1.4 -7.8 -2z" class="h"/>
<path d="M508.5 1389.8l7.8 2 -7.1 -1.4 -7.7 1.3z" class="h"/>
<path d="M523.3 1386.6l7.8 -1.4 -7.1 5.3 -7.7 1.3z" class="i"/>
<path d="M538.1 1386.7l7.8 -1.3 -7.1 -1.5 -7.7 1.3z" class="i"/>
<path d="M397.1 1382.9l7.8 2.8 -7 -1.4 -7.8 -2.8z" class="j"/>
<path d="M552.9 1386.8l7.7 -1.3 -7 -1.5 -7.7 1.4z" class="i"/>
<path d="M411.9 1390.5l7.8 -4.7 -7 -5.6 -7.8 5.5z" class="h"/>
<path d="M567.7 1390.2l7.7 -4.6 -7 -1.5 -7.8 1.4z" class="h"/>
<path d="M426.7 1387.2l7.8 2.1 -7 1.9 -7.8 -5.4z" class="i"/>
<path d="M582.5 1399.5l7.7 -1.4 -7 -13.9 -7.8 1.4z" class="f"/>
<path d="M441.5 1390.7l7.8 2 -7 -1.4 -7.8 -2z" class="h"/>
<path d="M597.2 1399.6l7.8 -1.3 -7 -1.5 -7.8 1.3z" class="f"/>
<path d="M456.3 1394.1l7.8 -4.6 -7 -1.4 -7.8 4.6z" class="g"/>
<path d="M612 1399.7l7.8 -1.3 -7 -1.5 -7.8 1.4z" class="f"/>
<path d="M471.1 1390.9l7.8 -1.3 -7 -4.8 -7.8 4.7z" class="h"/>
<path d="M626.8 1399.8l7.8 -1.3 -7 -1.5 -7.8 1.4z" class="f"/>
<path d="M485.9 1391l7.8 -1.3 -7 -1.4 -7.8 1.3z" class="h"/>
<path d="M500.7 1391.1l7.8 -1.3 -7 1.9 -7.8 -2z" class="h"/>
<path d="M515.5 1391.2l7.8 -4.6 -7 5.2 -7.8 -2z" class="h"/>
<path d="M530.3 1388l7.8 -1.3 -7 -1.5 -7.8 1.4z" class="i"/>
<path d="M545.1 1391.4l7.8 -4.6 -7 -1.4 -7.8 1.3z" class="h"/>
<path d="M404.1 1384.3l7.8 6.2 -7 -4.8 -7.8 -2.8z" class="j"/>
<path d="M559.9 1394.8l7.8 -4.6 -7.1 -4.7 -7.7 1.3z" class="g"/>
<path d="M418.9 1391.9l7.8 -4.7 -7 -1.4 -7.8 4.7z" class="h"/>
<path d="M574.7 1400.8l7.8 -1.3 -7.1 -13.9 -7.7 4.6z" class="f"/>
<path d="M433.7 1388.7l7.8 2 -7 -1.4 -7.8 -2.1z" class="i"/>
<path d="M589.5 1400.9l7.7 -1.3 -7 -1.5 -7.7 1.4z" class="f"/>
<path d="M448.5 1392.1l7.8 2 -7 -1.4 -7.8 -2z" class="h"/>
<path d="M604.3 1401l7.7 -1.3 -7 -1.4 -7.8 1.3z" class="f"/>
<path d="M463.3 1395.5l7.8 -4.6 -7 -1.4 -7.8 4.6z" class="g"/>
<path d="M619.1 1401.1l7.7 -1.3 -7 -1.4 -7.8 1.3z" class="f"/>
<path d="M478.1 1392.3l7.8 -1.3 -7 -1.4 -7.8 1.3z" class="h"/>
<path d="M492.9 1392.4l7.8 -1.3 -7 -1.4 -7.8 1.3z" class="h"/>
<path d="M507.7 1392.5l7.8 -1.3 -7 -1.4 -7.8 1.3z" class="h"/>
<path d="M522.5 1392.6l7.8 -4.6 -7 -1.4 -7.8 4.6z" class="h"/>
<path d="M537.3 1392.7l7.8 -1.3 -7 -4.7 -7.8 1.3z" class="h"/>
<path d="M552.1 1392.8l7.8 2 -7 -8 -7.8 4.6z" class="h"/>
<path d="M411.1 1385.7l7.8 6.2 -7 -1.4 -7.8 -6.2z" class="j"/>
<path d="M566.9 1402.1l7.8 -1.3 -7 -10.6 -7.8 4.6z" class="f"/>
<path d="M425.9 1393.3l7.8 -4.6 -7 -1.5 -7.8 4.7z" class="h"/>
<path d="M581.7 1402.2l7.8 -1.3 -7 -1.4 -7.8 1.3z" class="f"/>
<path d="M440.7 1393.4l7.8 -1.3 -7 -1.4 -7.8 -2z" class="h"/>
<path d="M596.5 1402.3l7.8 -1.3 -7.1 -1.4 -7.7 1.3z" class="f"/>
<path d="M455.5 1402.7l7.8 -7.2 -7 -1.4 -7.8 -2z" class="f"/>
<path d="M611.3 1402.4l7.8 -1.3 -7.1 -1.4 -7.7 1.3z" class="f"/>
<path d="M470.3 1397l7.8 -4.7 -7 -1.4 -7.8 4.6z" class="g"/>
<path d="M485.1 1393.7l7.8 -1.3 -7 -1.4 -7.8 1.3z" class="h"/>
<path d="M499.9 1393.8l7.8 -1.3 -7 -1.4 -7.8 1.3z" class="h"/>
<path d="M514.7 1386.5l7.8 6.1 -7 -1.4 -7.8 1.3z" class="j"/>
<path d="M529.5 1394l7.8 -1.3 -7 -4.7 -7.8 4.6z" class="h"/>
<path d="M544.3 1394.2l7.8 -1.4 -7 -1.4 -7.8 1.3z" class="h"/>
<path d="M559.1 1403.4l7.8 -1.3 -7 -7.3 -7.8 -2z" class="f"/>
<path d="M418.2 1382.1l7.7 11.2 -7 -1.4 -7.8 -6.2z" class="k"/>
<path d="M573.9 1403.5l7.8 -1.3 -7 -1.4 -7.8 1.3z" class="f"/>
<path d="M433 1394.7l7.7 -1.3 -7 -4.7 -7.8 4.6z" class="h"/>
<path d="M588.7 1403.6l7.8 -1.3 -7 -1.4 -7.8 1.3z" class="f"/>
<path d="M447.7 1404l7.8 -1.3 -7 -10.6 -7.8 1.3z" class="f"/>
<path d="M603.5 1403.7l7.8 -1.3 -7 -1.4 -7.8 1.3z" class="f"/>
<path d="M462.5 1404.1l7.8 -7.1 -7 -1.5 -7.8 7.2z" class="f"/>
<path d="M477.3 1395l7.8 -1.3 -7 -1.4 -7.8 4.7z" class="h"/>
<path d="M492.1 1395.2l7.8 -1.4 -7 -1.4 -7.8 1.3z" class="h"/>
<path d="M506.9 1387.8l7.8 -1.3 -7 6 -7.8 1.3z" class="j"/>
<path d="M521.7 1398.7l7.8 -4.7 -7 -1.4 -7.8 -6.1z" class="g"/>
<path d="M536.5 1398.8l7.8 -4.6 -7 -1.5 -7.8 1.3z" class="g"/>
<path d="M551.3 1404.7l7.8 -1.3 -7 -10.6 -7.8 1.4z" class="f"/>
<path d="M566.1 1404.8l7.8 -1.3 -7 -1.4 -7.8 1.3z" class="f"/>
<path d="M425.2 1388.6l7.8 6.1 -7.1 -1.4 -7.7 -11.2z" class="j"/>
<path d="M580.9 1404.9l7.8 -1.3 -7 -1.4 -7.8 1.3z" class="f"/>
<path d="M440 1405.3l7.7 -1.3 -7 -10.6 -7.7 1.3z" class="f"/>
<path d="M595.7 1405l7.8 -1.3 -7 -1.4 -7.8 1.3z" class="f"/>
<path d="M454.8 1405.4l7.7 -1.3 -7 -1.4 -7.8 1.3z" class="f"/>
<path d="M469.6 1399.7l7.7 -4.7 -7 2 -7.8 7.1z" class="g"/>
<path d="M484.3 1396.5l7.8 -1.3 -7 -1.5 -7.8 1.3z" class="h"/>
<path d="M499.1 1389.1l7.8 -1.3 -7 6 -7.8 1.4z" class="j"/>
<path d="M513.9 1400l7.8 -1.3 -7 -12.2 -7.8 1.3z" class="g"/>
<path d="M528.7 1405.9l7.8 -7.1 -7 -4.8 -7.8 4.7z" class="f"/>
<path d="M543.5 1406l7.8 -1.3 -7 -10.5 -7.8 4.6z" class="f"/>
<path d="M558.3 1406.1l7.8 -1.3 -7 -1.4 -7.8 1.3z" class="f"/>
<path d="M573.1 1406.2l7.8 -1.3 -7 -1.4 -7.8 1.3z" class="f"/>
<path d="M432.2 1412.4l7.8 -7.1 -7 -10.6 -7.8 -6.1z" class="e"/>
<path d="M587.9 1406.4l7.8 -1.4 -7 -1.4 -7.8 1.3z" class="f"/>
<path d="M447 1406.7l7.8 -1.3 -7.1 -1.4 -7.7 1.3z" class="f"/>
<path d="M461.8 1406.8l7.8 -7.1 -7.1 4.4 -7.7 1.3z" class="f"/>
<path d="M476.6 1397.8l7.7 -1.3 -7 -1.5 -7.7 4.7z" class="h"/>
<path d="M491.4 1390.4l7.7 -1.3 -7 6.1 -7.8 1.3z" class="j"/>
<path d="M506.2 1383l7.7 17 -7 -12.2 -7.8 1.3z" class="l"/>
<path d="M520.9 1407.2l7.8 -1.3 -7 -7.2 -7.8 1.3z" class="f"/>
<path d="M535.7 1413.2l7.8 -7.2 -7 -7.2 -7.8 7.1z" class="e"/>
<path d="M550.5 1413.3l7.8 -7.2 -7 -1.4 -7.8 1.3z" class="e"/>
<path d="M565.3 1407.6l7.8 -1.4 -7 -1.4 -7.8 1.3z" class="f"/>
<path d="M580.1 1407.7l7.8 -1.3 -7 -1.5 -7.8 1.3z" class="f"/>
<path d="M439.2 1413.9l7.8 -7.2 -7 -1.4 -7.8 7.1z" class="e"/>
<path d="M454 1395.7l7.8 11.1 -7 -1.4 -7.8 1.3z" class="i"/>
<path d="M468.8 1384.1l7.8 13.7 -7 1.9 -7.8 7.1z" class="l"/>
<path d="M483.6 1380.9l7.8 9.5 -7.1 6.1 -7.7 1.3z" class="m"/>
<path d="M498.4 1371.8l7.8 11.2 -7.1 6.1 -7.7 1.3z" class="o"/>
<path d="M513.2 1408.6l7.7 -1.4 -7 -7.2 -7.7 -17z" class="f"/>
<path d="M528 1414.5l7.7 -1.3 -7 -7.3 -7.8 1.3z" class="e"/>
<path d="M542.8 1414.6l7.7 -1.3 -7 -7.3 -7.8 7.2z" class="e"/>
<path d="M557.5 1414.7l7.8 -7.1 -7 -1.5 -7.8 7.2z" class="e"/>
<path d="M572.3 1409l7.8 -1.3 -7 -1.5 -7.8 1.4z" class="f"/>
<path d="M446.2 1409.5l7.8 -13.8 -7 11 -7.8 7.2z" class="f"/>
<path d="M461 1392.9l7.8 -8.8 -7 22.7 -7.8 -11.1z" class="j"/>
<path d="M475.8 1378.1l7.8 2.8 -7 16.9 -7.8 -13.7z" class="n"/>
<path d="M490.6 1378.2l7.8 -6.4 -7 18.6 -7.8 -9.5z" class="n"/>
<path d="M505.4 1378.3l7.8 30.3 -7 -25.6 -7.8 -11.2z" class="n"/>
<path d="M520.2 1415.8l7.8 -1.3 -7.1 -7.3 -7.7 1.4z" class="e"/>
<path d="M535 1415.9l7.8 -1.3 -7.1 -1.4 -7.7 1.3z" class="e"/>
<path d="M549.8 1416l7.7 -1.3 -7 -1.4 -7.7 1.3z" class="e"/>
<path d="M564.6 1410.3l7.7 -1.3 -7 -1.4 -7.8 7.1z" class="f"/>
<path d="M453.2 1394.2l7.8 -1.3 -7 2.8 -7.8 13.8z" class="j"/>
<path d="M468 1386.9l7.8 -8.8 -7 6 -7.8 8.8z" class="l"/>
<path d="M482.8 1379.5l7.8 -1.3 -7 2.7 -7.8 -2.8z" class="n"/>
<path d="M497.6 1379.6l7.8 -1.3 -7 -6.5 -7.8 6.4z" class="n"/>
<path d="M512.4 1422.9l7.8 -7.1 -7 -7.2 -7.8 -30.3z" class="d"/>
<path d="M527.2 1417.2l7.8 -1.3 -7 -1.4 -7.8 1.3z" class="e"/>
<path d="M542 1417.3l7.8 -1.3 -7 -1.4 -7.8 1.3z" class="e"/>
<path d="M556.8 1411.6l7.8 -1.3 -7.1 4.4 -7.7 1.3z" class="f"/>
<path d="M460.2 1388.2l7.8 -1.3 -7 6 -7.8 1.3z" class="l"/>
<path d="M475 1388.3l7.8 -8.8 -7 -1.4 -7.8 8.8z" class="l"/>
<path d="M489.8 1388.4l7.8 -8.8 -7 -1.4 -7.8 1.3z" class="l"/>
<path d="M504.6 1431.8l7.8 -8.9 -7 -44.6 -7.8 1.3z" class="b2"/>
<path d="M519.4 1418.5l7.8 -1.3 -7 -1.4 -7.8 7.1z" class="e"/>
<path d="M534.2 1418.6l7.8 -1.3 -7 -1.4 -7.8 1.3z" class="e"/>
<path d="M549 1418.8l7.8 -7.2 -7 4.4 -7.8 1.3z" class="e"/>
<path d="M467.2 1389.6l7.8 -1.3 -7 -1.4 -7.8 1.3z" class="l"/>
<path d="M482 1389.7l7.8 -1.3 -7 -8.9 -7.8 8.8z" class="l"/>
<path d="M496.8 1389.8l7.8 42 -7 -52.2 -7.8 8.8z" class="l"/>
<path d="M511.6 1433.2l7.8 -14.7 -7 4.4 -7.8 8.9z" class="b2"/>
<path d="M526.4 1420l7.8 -1.4 -7 -1.4 -7.8 1.3z" class="e"/>
<path d="M541.2 1420.1l7.8 -1.3 -7 -1.5 -7.8 1.3z" class="e"/>
<path d="M474.2 1391l7.8 -1.3 -7 -1.4 -7.8 1.3z" class="l"/>
<path d="M489 1391.1l7.8 -1.3 -7 -1.4 -7.8 1.3z" class="l"/>
<path d="M503.8 1451.1l7.8 -17.9 -7 -1.4 -7.8 -42z" class="a"/>
<path d="M518.6 1434.6l7.8 -14.6 -7 -1.5 -7.8 14.7z" class="b2"/>
<path d="M533.4 1421.4l7.8 -1.3 -7 -1.5 -7.8 1.4z" class="e"/>
<path d="M481.2 1392.4l7.8 -1.3 -7 -1.4 -7.8 1.3z" class="l"/>
<path d="M496 1452.4l7.8 -1.3 -7 -61.3 -7.8 1.3z" class="a"/>
<path d="M510.8 1452.5l7.8 -17.9 -7 -1.4 -7.8 17.9z" class="a"/>
<path d="M525.6 1422.7l7.8 -1.3 -7 -1.4 -7.8 14.6z" class="e"/>
<path d="M488.3 1453.8l7.7 -1.4 -7 -61.3 -7.8 1.3z" class="a"/>
<path d="M503.1 1453.9l7.7 -1.4 -7 -1.4 -7.8 1.3z" class="a"/>
<path d="M517.8 1454l7.8 -31.3 -7 11.9 -7.8 17.9z" class="a"/>
<path d="M495.3 1455.2l7.8 -1.3 -7.1 -1.5 -7.7 1.4z" class="a"/>
<path d="M510.1 1455.3l7.7 -1.3 -7 -1.5 -7.7 1.4z" class="a"/>
<path d="M502.3 1456.6l7.8 -1.3 -7 -1.4 -7.8 1.3z" class="a"/>
</g>
<text x="356.3" y="1446.2" font-size="7.0" text-anchor="end" font-weight="bold" fill="#222">-20</text>
<text x="356.3" y="1416.27" font-size="7.0" text-anchor="end" font-weight="bold" fill="#222">-10</text>
<text x="356.3" y="1386.34" font-size="7.0" text-anchor="end" font-weight="bold" fill="#222">0</text>
<text x="356.3" y="1356.41" font-size="7.0" text-anchor="end" font-weight="bold" fill="#222">10</text>
<text x="496.1" y="1480.8" font-size="7.0" text-anchor="end" font-weight="bold" fill="#222">0</text>
<text x="506.9" y="1480.8" font-size="7.0" text-anchor="start" font-weight="bold" fill="#222">0</text>
<text x="468.06" y="1475.12" font-size="7.0" text-anchor="end" font-weight="bold" fill="#222">0.2</text>
<text x="538.04" y="1475.54" font-size="7.0" text-anchor="start" font-weight="bold" fill="#222">0.2</text>
<text x="440.02" y="1469.44" font-size="7.0" text-anchor="end" font-weight="bold" fill="#222">0.4</text>
<text x="569.18" y="1470.28" font-size="7.0" text-anchor="start" font-weight="bold" fill="#222">0.4</text>
<text x="411.98" y="1463.76" font-size="7.0" text-anchor="end" font-weight="bold" fill="#222">0.6</text>
<text x="600.32" y="1465.02" font-size="7.0" text-anchor="start" font-weight="bold" fill="#222">0.6</text>
<text x="383.94" y="1458.08" font-size="7.0" text-anchor="end" font-weight="bold" fill="#222">0.8</text>
<text x="631.46" y="1459.76" font-size="7.0" text-anchor="start" font-weight="bold" fill="#222">0.8</text>
<text x="355.9" y="1452.4" font-size="7.0" text-anchor="end" font-weight="bold" fill="#222">1</text>
<text x="662.6" y="1454.5" font-size="7.0" text-anchor="start" font-weight="bold" fill="#222">1</text>
<text x="417.3" y="1486.5" font-size="7.5" text-anchor="middle" font-weight="bold" fill="#222">Consumer Staples</text>
<text x="572" y="1486.6" font-size="7.3" text-anchor="middle" font-weight="bold" fill="#222">GSCPI</text>
<rect x="667.8" y="1324.2" width="5.8" height="147.8" fill="url(#jet)"/>
<line x1="672.4" y1="1468.28" x2="673.6" y2="1468.28" stroke="#444" stroke-width="0.4"/>
<text x="675.5" y="1470.45" font-size="6.4" text-anchor="start" font-weight="bold" fill="#3a3a3a">-15</text>
<line x1="672.4" y1="1441.7" x2="673.6" y2="1441.7" stroke="#444" stroke-width="0.4"/>
<text x="675.5" y="1443.87" font-size="6.4" text-anchor="start" font-weight="bold" fill="#3a3a3a">-10</text>
<line x1="672.4" y1="1415.11" x2="673.6" y2="1415.11" stroke="#444" stroke-width="0.4"/>
<text x="675.5" y="1417.29" font-size="6.4" text-anchor="start" font-weight="bold" fill="#3a3a3a">-5</text>
<line x1="672.4" y1="1388.53" x2="673.6" y2="1388.53" stroke="#444" stroke-width="0.4"/>
<text x="675.5" y="1390.71" font-size="6.4" text-anchor="start" font-weight="bold" fill="#3a3a3a">0</text>
<line x1="672.4" y1="1361.95" x2="673.6" y2="1361.95" stroke="#444" stroke-width="0.4"/>
<text x="675.5" y="1364.12" font-size="6.4" text-anchor="start" font-weight="bold" fill="#3a3a3a">5</text>
<line x1="672.4" y1="1335.36" x2="673.6" y2="1335.36" stroke="#444" stroke-width="0.4"/>
<text x="675.5" y="1337.54" font-size="6.4" text-anchor="start" font-weight="bold" fill="#3a3a3a">10</text>
</svg>
</body></html>
